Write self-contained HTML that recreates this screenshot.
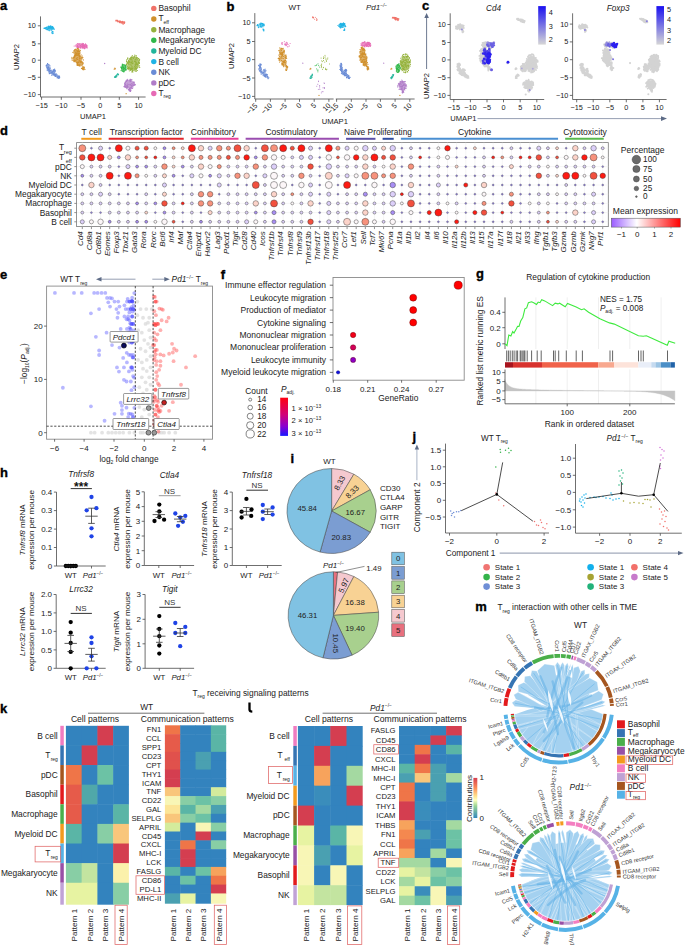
<!DOCTYPE html>
<html><head><meta charset="utf-8"><title>Figure</title>
<style>
html,body{margin:0;padding:0;background:#fff;width:685px;height:945px;overflow:hidden;}
svg{display:block;font-family:"Liberation Sans", sans-serif;}
</style></head><body>
<svg width="685" height="945" viewBox="0 0 685 945">
<rect x="0" y="0" width="685" height="945" fill="#fff"/>
<text x="0" y="9.9" font-size="13" fill="#000" font-weight="bold" stroke="#000" stroke-width="0.35">a</text>
<line x1="40.5" y1="16.4" x2="40.5" y2="97" stroke="#4a4a4a" stroke-width="0.8"/>
<line x1="40.5" y1="97" x2="145.6" y2="97" stroke="#4a4a4a" stroke-width="0.8"/>
<line x1="37.8" y1="25.8" x2="40.5" y2="25.8" stroke="#4a4a4a" stroke-width="0.8"/>
<text x="35.8" y="28.36" font-size="7.3" fill="#222" text-anchor="end">10</text>
<line x1="37.8" y1="43.8" x2="40.5" y2="43.8" stroke="#4a4a4a" stroke-width="0.8"/>
<text x="35.8" y="46.35" font-size="7.3" fill="#222" text-anchor="end">5</text>
<line x1="37.8" y1="60.2" x2="40.5" y2="60.2" stroke="#4a4a4a" stroke-width="0.8"/>
<text x="35.8" y="62.76" font-size="7.3" fill="#222" text-anchor="end">0</text>
<line x1="37.8" y1="77.3" x2="40.5" y2="77.3" stroke="#4a4a4a" stroke-width="0.8"/>
<text x="35.8" y="79.85" font-size="7.3" fill="#222" text-anchor="end">−5</text>
<line x1="37.8" y1="94.6" x2="40.5" y2="94.6" stroke="#4a4a4a" stroke-width="0.8"/>
<text x="35.8" y="97.16" font-size="7.3" fill="#222" text-anchor="end">−10</text>
<line x1="41.6" y1="97" x2="41.6" y2="99.8" stroke="#4a4a4a" stroke-width="0.8"/>
<text x="41.6" y="107.96" font-size="7.3" fill="#222" text-anchor="middle">−15</text>
<line x1="61.3" y1="97" x2="61.3" y2="99.8" stroke="#4a4a4a" stroke-width="0.8"/>
<text x="61.3" y="107.96" font-size="7.3" fill="#222" text-anchor="middle">−10</text>
<line x1="81" y1="97" x2="81" y2="99.8" stroke="#4a4a4a" stroke-width="0.8"/>
<text x="81" y="107.96" font-size="7.3" fill="#222" text-anchor="middle">−5</text>
<line x1="100.3" y1="97" x2="100.3" y2="99.8" stroke="#4a4a4a" stroke-width="0.8"/>
<text x="100.3" y="107.96" font-size="7.3" fill="#222" text-anchor="middle">0</text>
<line x1="119.3" y1="97" x2="119.3" y2="99.8" stroke="#4a4a4a" stroke-width="0.8"/>
<text x="119.3" y="107.96" font-size="7.3" fill="#222" text-anchor="middle">5</text>
<line x1="138.6" y1="97" x2="138.6" y2="99.8" stroke="#4a4a4a" stroke-width="0.8"/>
<text x="138.6" y="107.96" font-size="7.3" fill="#222" text-anchor="middle">10</text>
<text x="93" y="118.86" font-size="7.6" fill="#222" text-anchor="middle">UMAP1</text>
<text x="16.6" y="59.66" font-size="7.6" fill="#222" text-anchor="middle" transform="rotate(-90 16.6 57)">UMAP2</text>
<ellipse cx="116.98" cy="20.81" rx="1.43" ry="0.71" fill="#f07268" fill-opacity="0.72"/>
<ellipse cx="119.31" cy="21.5" rx="1.59" ry="0.93" fill="#f07268" fill-opacity="0.72"/>
<ellipse cx="121.64" cy="22.19" rx="1.75" ry="1.18" fill="#f07268" fill-opacity="0.72"/>
<ellipse cx="123.58" cy="23.05" rx="1.43" ry="1.27" fill="#f07268" fill-opacity="0.72"/>
<path d="M118.1 21.4h0M117.1 20.4h0M115.8 20.8h0M116.1 20.2h0M117.2 20.9h0M117.6 20.3h0M119.3 21.4h0M117.8 21.8h0M119.6 22.6h0M119.6 21.4h0M120.7 21.6h0M120.4 21.2h0M119.6 22.2h0M122.6 22.3h0M120.3 22.6h0M121.7 22.9h0M121.9 23.1h0M121.6 22.4h0M122.5 21.3h0M121.1 21.7h0M123.6 22.1h0M122.5 22.8h0M123.3 21.8h0M124.6 22.7h0M124.3 21.9h0M123.1 24.2h0M124.8 22.1h0M122.2 23.0h0M124.4 23.2h0M123.9 22.1h0" stroke="#f07268" stroke-width="1.2" stroke-linecap="round" fill="none"/>
<ellipse cx="49.47" cy="28.38" rx="4.52" ry="2.03" fill="#1fb3e5" fill-opacity="0.72"/>
<ellipse cx="50.64" cy="27.18" rx="2.55" ry="1.41" fill="#1fb3e5" fill-opacity="0.72"/>
<ellipse cx="52.58" cy="32.34" rx="1.02" ry="1.07" fill="#1fb3e5" fill-opacity="0.72"/>
<path d="M51.4 30.0h0M48.2 26.4h0M46.9 29.5h0M44.6 28.3h0M46.0 28.2h0M48.5 28.4h0M53.9 28.9h0M53.7 28.2h0M47.7 29.0h0M44.0 28.3h0M50.0 26.6h0M51.2 27.5h0M44.1 28.2h0M46.2 27.6h0M49.0 30.2h0M49.9 28.3h0M50.5 26.2h0M53.1 27.0h0M50.9 26.7h0M46.1 27.8h0M54.3 29.2h0M47.2 27.9h0M45.6 28.3h0M47.5 29.5h0M45.2 27.9h0M46.6 27.3h0M52.1 28.6h0M51.3 30.1h0M52.6 26.7h0M50.9 26.2h0M49.3 30.7h0M48.7 27.7h0M50.1 28.4h0M50.7 26.3h0M52.5 28.0h0M50.2 27.6h0M51.8 28.2h0M51.4 28.0h0M50.1 26.0h0M49.7 28.2h0M52.5 27.3h0M49.5 27.5h0M52.9 28.2h0M49.2 27.1h0M48.4 26.2h0M51.0 27.2h0M52.2 28.3h0M53.1 33.3h0M52.2 31.5h0M52.8 33.6h0M52.8 31.4h0M52.7 33.4h0M51.8 32.9h0" stroke="#1fb3e5" stroke-width="1.2" stroke-linecap="round" fill="none"/>
<ellipse cx="79.74" cy="45.75" rx="4.61" ry="2.26" fill="#e66ab4" fill-opacity="0.72"/>
<ellipse cx="84.78" cy="46.27" rx="2.7" ry="2.2" fill="#e66ab4" fill-opacity="0.72"/>
<path d="M77.8 47.7h0M82.6 46.3h0M84.9 45.2h0M77.9 48.1h0M77.7 48.2h0M79.6 44.0h0M79.7 46.0h0M80.5 45.4h0M82.1 43.3h0M77.6 45.3h0M83.5 43.7h0M78.6 43.9h0M77.3 46.9h0M81.0 47.9h0M77.5 46.2h0M83.4 47.1h0M78.6 47.6h0M77.3 48.0h0M80.3 45.5h0M80.7 47.3h0M84.7 45.6h0M78.4 46.8h0M77.4 43.5h0M82.7 45.1h0M83.2 44.2h0M74.2 46.0h0M80.2 48.1h0M81.7 46.3h0M81.9 45.1h0M80.0 43.6h0M81.6 44.3h0M78.1 47.0h0M82.7 44.2h0M84.8 45.0h0M82.5 47.3h0M80.6 46.1h0M84.4 46.9h0M85.5 43.9h0M83.4 48.0h0M85.2 44.7h0M83.4 45.7h0M86.3 46.9h0M86.7 45.0h0M86.8 45.4h0M84.3 48.6h0M85.0 46.0h0M84.3 45.6h0M87.1 47.9h0M86.3 46.6h0M86.9 46.1h0M85.8 47.0h0M84.9 48.6h0M87.3 47.8h0M82.4 48.1h0M86.3 45.5h0M84.7 48.1h0M86.9 47.5h0M85.1 46.3h0M86.6 46.1h0" stroke="#e66ab4" stroke-width="1.2" stroke-linecap="round" fill="none"/>
<ellipse cx="76.83" cy="52.29" rx="3.5" ry="3.24" fill="#d0902c" fill-opacity="0.72"/>
<ellipse cx="77.6" cy="58.65" rx="4.93" ry="4.09" fill="#d0902c" fill-opacity="0.72"/>
<ellipse cx="80.12" cy="63.98" rx="3.18" ry="2.45" fill="#d0902c" fill-opacity="0.72"/>
<ellipse cx="83.42" cy="68.46" rx="1.59" ry="1.97" fill="#d0902c" fill-opacity="0.72"/>
<path d="M74.5 50.8h0M76.4 53.2h0M80.4 50.3h0M78.2 52.0h0M77.6 55.3h0M79.9 51.9h0M75.5 49.3h0M76.6 55.2h0M76.1 54.1h0M78.8 53.3h0M79.7 52.0h0M74.8 49.7h0M79.3 51.4h0M76.0 54.4h0M75.2 55.6h0M78.7 50.9h0M75.2 54.8h0M73.9 50.8h0M76.8 52.9h0M76.9 53.4h0M75.7 52.0h0M79.9 53.7h0M75.9 55.7h0M72.9 52.4h0M78.5 54.6h0M77.2 51.2h0M78.5 51.8h0M77.5 48.4h0M77.9 50.3h0M79.2 54.1h0M78.8 51.2h0M78.1 51.4h0M77.5 51.9h0M75.2 55.7h0M78.2 48.7h0M78.8 49.4h0M76.2 50.7h0M75.3 52.9h0M76.1 49.1h0M76.8 53.3h0M82.9 57.6h0M73.4 57.5h0M80.0 56.0h0M74.8 60.4h0M77.6 59.4h0M75.3 56.1h0M76.2 58.1h0M76.2 60.1h0M79.8 60.4h0M79.4 55.9h0M73.8 60.9h0M77.7 59.1h0M73.4 58.0h0M75.2 56.0h0M75.6 54.7h0M77.9 62.2h0M74.8 59.0h0M73.8 60.6h0M82.4 56.0h0M76.8 62.6h0M79.1 59.0h0M72.0 58.3h0M80.4 62.3h0M80.1 56.8h0M75.6 54.4h0M74.1 61.7h0M77.2 54.8h0M81.1 54.9h0M82.0 57.7h0M78.9 60.9h0M78.5 62.3h0M77.7 57.5h0M75.5 54.8h0M75.1 61.6h0M80.2 62.3h0M83.4 59.9h0M79.3 55.0h0M77.0 63.4h0M79.8 58.2h0M78.5 54.1h0M74.9 55.1h0M72.2 60.3h0M81.3 58.1h0M78.9 55.5h0M79.4 61.1h0M81.6 62.0h0M79.6 58.2h0M74.5 56.8h0M80.0 60.5h0M77.7 63.0h0M80.2 58.7h0M76.8 58.9h0M74.3 55.9h0M79.0 56.7h0M76.6 62.2h0M76.9 62.4h0M77.6 62.8h0M79.0 54.3h0M82.0 58.0h0M72.0 58.9h0M78.1 54.9h0M75.2 60.4h0M81.8 61.5h0M81.4 61.6h0M71.9 57.3h0M78.0 53.7h0M80.4 61.3h0M74.6 57.4h0M77.8 63.9h0M80.0 64.0h0M77.7 64.7h0M79.3 65.8h0M80.8 61.6h0M77.0 64.1h0M78.9 64.9h0M82.2 64.0h0M77.2 62.4h0M81.5 62.1h0M82.8 63.8h0M81.4 62.3h0M80.0 61.0h0M79.6 65.1h0M78.1 62.5h0M80.0 64.1h0M78.2 65.2h0M77.1 65.5h0M77.3 62.7h0M82.8 62.4h0M76.8 64.1h0M78.1 62.1h0M78.4 62.6h0M78.0 62.3h0M83.3 63.0h0M82.1 61.8h0M81.3 61.8h0M79.0 65.2h0M82.9 66.3h0M82.7 68.2h0M84.1 67.0h0M83.0 68.6h0M81.8 68.3h0M82.4 69.1h0M83.3 68.2h0M81.5 68.4h0M83.0 67.0h0M82.9 66.7h0M83.6 69.5h0M84.2 67.6h0M85.0 69.5h0" stroke="#d0902c" stroke-width="1.2" stroke-linecap="round" fill="none"/>
<ellipse cx="48" cy="65.5" rx="1.75" ry="1.75" fill="#6a8cd6" fill-opacity="0.72"/>
<ellipse cx="48.5" cy="69.01" rx="1.91" ry="1.97" fill="#6a8cd6" fill-opacity="0.72"/>
<ellipse cx="50.48" cy="72" rx="1.97" ry="1.86" fill="#6a8cd6" fill-opacity="0.72"/>
<ellipse cx="53.51" cy="73.99" rx="1.97" ry="1.75" fill="#6a8cd6" fill-opacity="0.72"/>
<ellipse cx="56.49" cy="75.51" rx="1.75" ry="1.55" fill="#6a8cd6" fill-opacity="0.72"/>
<ellipse cx="58.51" cy="76.99" rx="1.43" ry="1.13" fill="#6a8cd6" fill-opacity="0.72"/>
<ellipse cx="54.01" cy="70.49" rx="1.59" ry="1.41" fill="#6a8cd6" fill-opacity="0.72"/>
<path d="M46.7 65.3h0M46.2 65.4h0M48.8 67.0h0M47.6 63.6h0M47.8 67.2h0M48.2 67.1h0M48.9 67.2h0M48.8 64.6h0M48.4 67.6h0M47.5 63.6h0M50.0 65.9h0M47.1 64.7h0M46.3 66.3h0M48.7 68.0h0M47.8 68.3h0M50.0 68.7h0M50.2 67.9h0M47.6 68.2h0M47.6 68.9h0M49.8 70.6h0M47.2 70.6h0M48.6 71.0h0M48.2 67.7h0M49.7 69.9h0M47.8 69.0h0M48.7 69.5h0M46.7 67.7h0M48.6 69.4h0M49.9 70.0h0M52.3 71.6h0M49.3 73.7h0M52.0 73.3h0M51.7 72.8h0M49.0 72.0h0M51.0 73.0h0M51.2 70.6h0M49.5 71.5h0M50.2 70.7h0M48.6 70.8h0M51.0 72.0h0M51.1 70.0h0M49.9 73.3h0M48.5 70.9h0M51.7 75.2h0M53.6 73.2h0M53.8 73.9h0M54.7 75.4h0M54.9 74.5h0M54.6 75.1h0M54.7 72.3h0M54.1 74.1h0M53.8 73.6h0M53.4 74.7h0M53.8 74.2h0M52.2 72.6h0M52.7 72.2h0M52.7 72.9h0M55.1 74.1h0M55.8 74.8h0M58.4 76.2h0M55.4 74.9h0M55.2 74.6h0M56.0 75.4h0M55.7 76.5h0M57.1 77.2h0M55.0 76.2h0M56.1 73.9h0M56.2 73.9h0M58.5 78.3h0M59.5 78.1h0M59.5 76.0h0M59.0 77.1h0M59.0 76.1h0M57.3 78.0h0M59.7 77.2h0M57.9 77.2h0M52.7 71.4h0M54.2 70.3h0M53.4 70.4h0M54.2 70.0h0M55.2 70.7h0M53.9 69.5h0M55.2 71.6h0M54.6 69.0h0M53.6 71.5h0M54.1 71.8h0" stroke="#6a8cd6" stroke-width="1.2" stroke-linecap="round" fill="none"/>
<ellipse cx="133.28" cy="63.64" rx="5.89" ry="7.33" fill="#95b23c" fill-opacity="0.72"/>
<path d="M131.3 68.2h0M134.8 55.1h0M131.3 62.2h0M130.5 58.7h0M139.4 63.1h0M136.3 57.2h0M126.7 61.8h0M135.2 59.4h0M135.7 68.2h0M131.1 63.3h0M130.2 69.2h0M139.5 65.8h0M130.9 59.6h0M132.0 68.7h0M130.5 70.5h0M128.1 63.6h0M137.4 70.5h0M131.4 68.2h0M139.7 67.4h0M126.5 64.7h0M139.6 59.8h0M136.0 55.8h0M139.0 59.9h0M136.7 68.5h0M126.9 59.6h0M134.6 56.3h0M133.2 58.3h0M138.7 61.1h0M129.3 67.1h0M138.5 62.8h0M134.6 66.6h0M131.2 57.4h0M135.9 61.5h0M128.1 67.7h0M135.4 64.5h0M129.7 62.3h0M136.2 66.5h0M129.8 58.9h0M135.0 64.8h0M136.7 57.9h0M136.4 71.0h0M137.6 64.4h0M136.8 57.5h0M131.9 71.9h0M127.8 58.8h0M136.9 60.0h0M130.9 57.7h0M139.3 60.9h0M132.3 55.7h0M136.9 63.6h0M135.1 71.0h0M133.9 57.3h0M128.7 64.1h0M138.0 58.3h0M132.0 62.7h0M136.2 58.8h0M134.7 68.2h0M133.1 63.0h0M136.2 67.0h0M138.0 58.6h0M138.5 62.4h0M128.5 60.7h0M128.1 62.6h0M136.2 55.7h0M128.5 67.5h0M131.9 68.2h0M127.8 63.4h0M126.5 60.9h0M136.3 69.7h0M139.4 63.4h0M129.3 61.5h0M127.6 68.6h0M137.9 59.2h0M138.8 58.5h0M135.8 59.1h0M127.0 65.4h0M129.0 69.2h0M129.1 64.2h0M130.9 64.5h0M130.5 68.2h0M136.2 64.1h0M132.9 71.9h0M130.0 61.1h0M136.9 63.6h0M127.1 63.0h0M131.6 58.1h0M134.1 57.5h0M132.2 57.5h0M139.3 62.3h0M135.4 65.4h0M136.6 62.7h0M136.8 64.4h0M126.3 64.7h0M128.4 68.1h0M134.4 61.3h0M127.8 57.9h0M128.3 61.6h0M129.3 70.8h0M135.5 63.1h0M128.9 61.8h0M132.1 60.9h0M132.9 68.3h0M126.9 64.7h0M137.3 57.5h0M132.3 61.3h0M128.8 68.3h0M131.9 69.8h0M135.3 61.9h0M134.7 61.3h0M128.1 69.2h0M134.8 69.8h0M127.4 67.9h0M137.1 63.4h0M126.5 64.0h0M130.1 62.5h0M133.5 58.5h0M132.6 63.7h0M139.1 63.1h0M139.6 59.7h0M132.7 70.2h0M127.5 66.5h0M135.2 60.1h0M132.4 71.1h0M131.1 65.3h0M135.1 69.9h0M127.6 58.6h0M127.8 62.2h0M136.0 68.3h0M132.2 71.0h0M132.9 67.8h0M130.0 68.2h0M130.3 69.6h0M136.1 71.3h0M131.5 57.5h0M137.1 65.5h0M131.2 57.0h0M135.9 55.8h0M131.3 69.4h0M132.0 66.4h0M135.6 67.1h0M137.8 67.1h0M131.7 57.2h0M131.9 59.7h0M135.0 70.0h0" stroke="#95b23c" stroke-width="1.2" stroke-linecap="round" fill="none"/>
<ellipse cx="123.77" cy="68.11" rx="2.86" ry="3.53" fill="#30b84a" fill-opacity="0.72"/>
<path d="M125.5 66.3h0M124.3 68.1h0M122.8 71.3h0M125.2 69.1h0M122.3 64.2h0M122.3 70.9h0M123.2 68.0h0M123.1 69.5h0M123.8 71.9h0M123.5 67.3h0M126.4 69.8h0M125.3 69.6h0M123.7 69.1h0M125.1 68.4h0M121.1 70.6h0M122.7 66.5h0M123.0 66.1h0M121.8 67.9h0M125.7 67.3h0M124.7 64.9h0M125.3 65.3h0M125.3 66.1h0M122.6 65.1h0M121.2 67.6h0M121.6 67.5h0M126.0 66.1h0M123.0 67.8h0M122.3 68.0h0M124.3 70.9h0M122.1 67.5h0M123.4 71.2h0M121.6 68.6h0M125.5 69.7h0M122.3 65.5h0M120.7 67.0h0M123.3 64.6h0" stroke="#30b84a" stroke-width="1.2" stroke-linecap="round" fill="none"/>
<ellipse cx="114.85" cy="77.23" rx="0.95" ry="0.85" fill="#22b59c" fill-opacity="0.72"/>
<ellipse cx="116.01" cy="76.02" rx="1.11" ry="0.85" fill="#22b59c" fill-opacity="0.72"/>
<ellipse cx="117.37" cy="74.65" rx="0.95" ry="0.85" fill="#22b59c" fill-opacity="0.72"/>
<path d="M115.5 77.3h0M114.7 76.9h0M115.2 77.0h0M115.2 76.9h0M115.4 76.4h0M115.4 76.9h0M116.7 76.8h0M115.4 76.5h0M116.8 76.6h0M115.9 76.9h0M116.3 75.3h0M118.5 74.7h0M118.2 74.2h0M116.7 75.2h0M118.0 74.2h0M117.5 73.9h0" stroke="#22b59c" stroke-width="1.2" stroke-linecap="round" fill="none"/>
<ellipse cx="129.21" cy="84.28" rx="5.09" ry="4.23" fill="#b07cc8" fill-opacity="0.72"/>
<ellipse cx="129.98" cy="90.13" rx="1.43" ry="1.27" fill="#b07cc8" fill-opacity="0.72"/>
<path d="M123.9 86.6h0M125.2 86.5h0M133.2 85.4h0M134.3 85.3h0M130.5 84.3h0M131.0 85.5h0M125.5 84.1h0M128.4 89.4h0M133.4 82.0h0M131.0 79.9h0M129.4 88.9h0M129.5 88.1h0M127.7 85.9h0M130.2 79.4h0M126.9 88.7h0M126.3 87.7h0M134.7 84.2h0M133.1 85.4h0M126.8 86.2h0M130.9 81.1h0M127.7 80.4h0M127.7 84.1h0M126.5 80.0h0M131.5 87.9h0M125.6 84.5h0M127.7 79.3h0M135.0 84.9h0M125.0 87.4h0M131.6 88.2h0M132.1 86.0h0M134.1 83.5h0M130.1 80.9h0M124.9 84.9h0M130.0 79.9h0M130.6 87.5h0M124.7 83.3h0M134.3 82.2h0M131.4 86.8h0M130.0 84.8h0M131.6 85.3h0M129.7 80.1h0M130.2 81.6h0M132.6 88.5h0M132.0 79.8h0M133.1 84.7h0M125.7 81.0h0M133.1 82.3h0M128.9 84.5h0M131.2 79.5h0M133.4 82.0h0M127.5 86.4h0M130.1 79.4h0M131.7 83.7h0M125.4 82.4h0M124.2 86.3h0M134.1 82.6h0M127.6 80.2h0M126.6 81.2h0M129.3 88.8h0M132.9 87.1h0M125.7 86.8h0M126.5 81.5h0M132.2 83.9h0M135.3 84.7h0M128.0 86.8h0M125.1 86.3h0M134.4 83.9h0M127.3 87.7h0M125.0 85.4h0M127.0 85.3h0M126.1 86.2h0M130.9 88.7h0M127.7 85.8h0M128.5 89.5h0M130.2 88.9h0M129.9 89.2h0M130.5 90.7h0M129.4 90.8h0M129.3 90.2h0M130.6 90.7h0M130.5 91.4h0" stroke="#b07cc8" stroke-width="1.2" stroke-linecap="round" fill="none"/>
<circle cx="114.27" cy="69.14" r="0.66" fill="#d0902c"/>
<circle cx="115.43" cy="68.8" r="0.66" fill="#d0902c"/>
<circle cx="114.85" cy="68.28" r="0.66" fill="#d0902c"/>
<circle cx="126.14" cy="93.71" r="0.66" fill="#d0902c"/>
<circle cx="104.68" cy="63.5" r="0.66" fill="#b07cc8"/>
<circle cx="153.8" cy="8.4" r="2.7" fill="#f07268"/>
<text x="158.4" y="11.34" font-size="8.4" fill="#222">Basophil</text>
<circle cx="153.8" cy="19.04" r="2.7" fill="#d0902c"/>
<text x="158.4" y="21.48" font-size="8.4" fill="#222"><tspan>T</tspan><tspan font-size="5.04" dy="2.52" font-style="normal">eff</tspan></text>
<circle cx="153.8" cy="29.68" r="2.7" fill="#95b23c"/>
<text x="158.4" y="32.62" font-size="8.4" fill="#222">Macrophage</text>
<circle cx="153.8" cy="40.32" r="2.7" fill="#30b84a"/>
<text x="158.4" y="43.26" font-size="8.4" fill="#222">Megakaryocyte</text>
<circle cx="153.8" cy="50.96" r="2.7" fill="#22b59c"/>
<text x="158.4" y="53.9" font-size="8.4" fill="#222">Myeloid DC</text>
<circle cx="153.8" cy="61.6" r="2.7" fill="#1fb3e5"/>
<text x="158.4" y="64.54" font-size="8.4" fill="#222">B cell</text>
<circle cx="153.8" cy="72.24" r="2.7" fill="#6a8cd6"/>
<text x="158.4" y="75.18" font-size="8.4" fill="#222">NK</text>
<circle cx="153.8" cy="82.88" r="2.7" fill="#b07cc8"/>
<text x="158.4" y="85.82" font-size="8.4" fill="#222">pDC</text>
<circle cx="153.8" cy="93.52" r="2.7" fill="#e66ab4"/>
<text x="158.4" y="95.96" font-size="8.4" fill="#222"><tspan>T</tspan><tspan font-size="5.04" dy="2.52" font-style="normal">reg</tspan></text>
<text x="226.5" y="10.5" font-size="13" fill="#000" font-weight="bold" stroke="#000" stroke-width="0.35">b</text>
<text x="294.6" y="10.2" font-size="8" fill="#222" text-anchor="middle">WT</text>
<text x="366" y="10.2" font-size="8" fill="#222" font-style="italic"><tspan>Pd1</tspan><tspan font-size="4.8" dy="-2.8">−/−</tspan><tspan dy="2.8"> </tspan></text>
<line x1="254.8" y1="13.1" x2="254.8" y2="99" stroke="#4a4a4a" stroke-width="0.8"/>
<line x1="254.8" y1="99" x2="333.6" y2="99" stroke="#4a4a4a" stroke-width="0.8"/>
<line x1="335.8" y1="99" x2="414.6" y2="99" stroke="#4a4a4a" stroke-width="0.8"/>
<line x1="252" y1="22.8" x2="254.8" y2="22.8" stroke="#4a4a4a" stroke-width="0.8"/>
<text x="250.5" y="25.36" font-size="7.3" fill="#222" text-anchor="end">10</text>
<line x1="252" y1="41.5" x2="254.8" y2="41.5" stroke="#4a4a4a" stroke-width="0.8"/>
<text x="250.5" y="44.05" font-size="7.3" fill="#222" text-anchor="end">5</text>
<line x1="252" y1="59.6" x2="254.8" y2="59.6" stroke="#4a4a4a" stroke-width="0.8"/>
<text x="250.5" y="62.16" font-size="7.3" fill="#222" text-anchor="end">0</text>
<line x1="252" y1="78" x2="254.8" y2="78" stroke="#4a4a4a" stroke-width="0.8"/>
<text x="250.5" y="80.56" font-size="7.3" fill="#222" text-anchor="end">−5</text>
<line x1="252" y1="96.4" x2="254.8" y2="96.4" stroke="#4a4a4a" stroke-width="0.8"/>
<text x="250.5" y="98.96" font-size="7.3" fill="#222" text-anchor="end">−10</text>
<line x1="255.7" y1="99" x2="255.7" y2="101.8" stroke="#4a4a4a" stroke-width="0.8"/>
<text x="258" y="106" font-size="7.3" fill="#222" text-anchor="end" transform="rotate(-45 258 106)">−15</text>
<line x1="270.4" y1="99" x2="270.4" y2="101.8" stroke="#4a4a4a" stroke-width="0.8"/>
<text x="272.7" y="106" font-size="7.3" fill="#222" text-anchor="end" transform="rotate(-45 272.7 106)">−10</text>
<line x1="285.1" y1="99" x2="285.1" y2="101.8" stroke="#4a4a4a" stroke-width="0.8"/>
<text x="287.4" y="106" font-size="7.3" fill="#222" text-anchor="end" transform="rotate(-45 287.4 106)">−5</text>
<line x1="299.5" y1="99" x2="299.5" y2="101.8" stroke="#4a4a4a" stroke-width="0.8"/>
<text x="301.8" y="106" font-size="7.3" fill="#222" text-anchor="end" transform="rotate(-45 301.8 106)">0</text>
<line x1="314.2" y1="99" x2="314.2" y2="101.8" stroke="#4a4a4a" stroke-width="0.8"/>
<text x="316.5" y="106" font-size="7.3" fill="#222" text-anchor="end" transform="rotate(-45 316.5 106)">5</text>
<line x1="328.9" y1="99" x2="328.9" y2="101.8" stroke="#4a4a4a" stroke-width="0.8"/>
<text x="331.2" y="106" font-size="7.3" fill="#222" text-anchor="end" transform="rotate(-45 331.2 106)">10</text>
<line x1="336.6" y1="99" x2="336.6" y2="101.8" stroke="#4a4a4a" stroke-width="0.8"/>
<text x="338.9" y="106" font-size="7.3" fill="#222" text-anchor="end" transform="rotate(-45 338.9 106)">−15</text>
<line x1="351.3" y1="99" x2="351.3" y2="101.8" stroke="#4a4a4a" stroke-width="0.8"/>
<text x="353.6" y="106" font-size="7.3" fill="#222" text-anchor="end" transform="rotate(-45 353.6 106)">−10</text>
<line x1="366" y1="99" x2="366" y2="101.8" stroke="#4a4a4a" stroke-width="0.8"/>
<text x="368.3" y="106" font-size="7.3" fill="#222" text-anchor="end" transform="rotate(-45 368.3 106)">−5</text>
<line x1="380.4" y1="99" x2="380.4" y2="101.8" stroke="#4a4a4a" stroke-width="0.8"/>
<text x="382.7" y="106" font-size="7.3" fill="#222" text-anchor="end" transform="rotate(-45 382.7 106)">0</text>
<line x1="395.1" y1="99" x2="395.1" y2="101.8" stroke="#4a4a4a" stroke-width="0.8"/>
<text x="397.4" y="106" font-size="7.3" fill="#222" text-anchor="end" transform="rotate(-45 397.4 106)">5</text>
<line x1="409.8" y1="99" x2="409.8" y2="101.8" stroke="#4a4a4a" stroke-width="0.8"/>
<text x="412.1" y="106" font-size="7.3" fill="#222" text-anchor="end" transform="rotate(-45 412.1 106)">10</text>
<text x="334.8" y="124.46" font-size="7.6" fill="#222" text-anchor="middle">UMAP1</text>
<text x="231.5" y="58.66" font-size="7.6" fill="#222" text-anchor="middle" transform="rotate(-90 231.5 56)">UMAP2</text>
<path d="M313.3 17.2h0M312.5 17.6h0M312.7 16.8h0M313.5 17.6h0M313.0 17.6h0M313.3 18.0h0M314.7 19.3h0M315.3 17.4h0M316.7 18.6h0M316.4 20.1h0M317.3 19.9h0M316.4 20.1h0" stroke="#f07268" stroke-width="0.99" stroke-linecap="round" fill="none"/>
<ellipse cx="261.12" cy="25.56" rx="3.41" ry="2.17" fill="#1fb3e5" fill-opacity="0.5"/>
<ellipse cx="262" cy="24.27" rx="1.92" ry="1.51" fill="#1fb3e5" fill-opacity="0.5"/>
<ellipse cx="263.46" cy="29.79" rx="0.77" ry="1.15" fill="#1fb3e5" fill-opacity="0.5"/>
<path d="M258.3 27.3h0M258.0 25.2h0M261.2 26.0h0M260.4 26.4h0M257.0 25.4h0M260.3 24.6h0M264.0 24.1h0M260.7 23.0h0M261.4 23.2h0M258.6 27.6h0M262.7 25.3h0M261.2 23.3h0M258.2 26.0h0M257.1 25.7h0M257.3 25.5h0M258.7 27.5h0M263.4 24.5h0M257.5 24.5h0M260.6 23.7h0M261.5 27.0h0M260.6 24.5h0M262.9 24.8h0M263.1 24.8h0M264.5 25.0h0M258.1 25.5h0M259.3 23.9h0M260.4 26.7h0M257.1 25.4h0M260.3 25.1h0M262.6 23.5h0M262.9 23.8h0M262.0 23.8h0M261.3 23.5h0M262.3 26.0h0M263.3 25.1h0M262.7 23.5h0M262.5 25.9h0M260.2 25.0h0M263.4 24.5h0M262.9 25.6h0M264.0 25.2h0M264.0 24.5h0M263.2 24.4h0M263.6 29.3h0M263.8 30.9h0M263.3 30.0h0M263.8 29.8h0M264.0 30.0h0M262.9 29.0h0" stroke="#1fb3e5" stroke-width="1.1" stroke-linecap="round" fill="none"/>
<path d="M285.8 45.3h0M286.8 44.5h0M284.3 41.6h0M287.0 42.7h0M286.3 42.3h0M282.0 44.4h0M282.7 42.7h0M286.2 45.3h0M285.0 43.4h0M281.7 43.2h0M282.4 44.0h0M286.1 43.8h0M281.8 43.0h0M287.1 44.4h0M284.6 44.7h0M285.6 44.4h0M289.4 46.0h0M285.3 44.5h0M290.1 43.5h0M288.0 46.6h0M287.8 46.9h0M286.2 42.9h0M287.5 43.3h0M286.2 45.7h0M288.2 44.7h0" stroke="#e66ab4" stroke-width="0.99" stroke-linecap="round" fill="none"/>
<ellipse cx="281.77" cy="51.14" rx="2.64" ry="3.47" fill="#d0902c" fill-opacity="0.5"/>
<ellipse cx="282.36" cy="57.94" rx="3.72" ry="4.38" fill="#d0902c" fill-opacity="0.5"/>
<ellipse cx="284.26" cy="63.65" rx="2.4" ry="2.63" fill="#d0902c" fill-opacity="0.5"/>
<ellipse cx="286.75" cy="68.43" rx="1.2" ry="2.11" fill="#d0902c" fill-opacity="0.5"/>
<path d="M280.9 51.9h0M281.5 49.1h0M282.9 52.2h0M281.9 53.1h0M279.6 50.8h0M280.8 54.3h0M282.5 55.1h0M284.5 50.3h0M279.7 52.4h0M281.1 50.7h0M279.7 52.6h0M282.2 52.3h0M282.4 48.7h0M278.7 50.6h0M280.4 49.7h0M283.7 50.9h0M284.4 51.6h0M283.2 52.5h0M283.2 48.2h0M283.9 51.4h0M279.9 52.7h0M282.4 54.3h0M283.3 52.1h0M279.6 54.1h0M284.3 52.8h0M282.6 54.1h0M280.1 52.9h0M281.8 48.5h0M282.6 52.2h0M284.4 53.0h0M279.8 47.9h0M281.6 50.5h0M280.2 48.0h0M281.4 48.2h0M280.4 53.4h0M282.3 49.0h0M279.6 50.7h0M286.3 56.6h0M286.1 55.9h0M281.7 60.4h0M280.1 58.1h0M279.0 59.9h0M285.4 55.9h0M282.9 56.4h0M279.6 62.1h0M284.1 60.7h0M283.6 58.6h0M285.9 54.7h0M281.4 56.4h0M281.7 60.4h0M280.6 54.1h0M279.3 59.4h0M284.9 60.5h0M286.1 56.5h0M285.0 60.1h0M281.9 55.3h0M284.8 55.7h0M281.5 54.7h0M286.4 57.8h0M280.8 57.0h0M281.6 58.3h0M278.8 55.1h0M283.7 61.4h0M279.5 58.3h0M281.3 52.9h0M281.5 54.4h0M284.9 57.2h0M282.3 53.6h0M282.7 53.0h0M282.9 62.1h0M279.3 60.4h0M285.9 57.3h0M285.4 58.2h0M281.3 53.1h0M279.9 54.0h0M286.7 58.5h0M281.9 53.8h0M285.9 55.1h0M285.7 60.8h0M282.6 55.6h0M282.2 53.9h0M283.8 62.4h0M284.7 61.1h0M280.3 59.0h0M279.5 56.5h0M283.6 63.0h0M282.6 58.1h0M278.2 58.4h0M280.2 54.1h0M278.6 58.4h0M281.2 60.3h0M281.6 57.9h0M285.8 60.2h0M284.2 62.0h0M283.0 54.6h0M280.5 53.7h0M283.5 56.5h0M283.8 60.8h0M280.0 58.6h0M285.7 58.2h0M285.0 57.3h0M282.5 63.2h0M281.7 64.7h0M283.4 66.1h0M282.1 63.9h0M285.0 63.2h0M285.0 62.1h0M282.7 61.4h0M283.2 62.0h0M284.7 62.8h0M283.0 62.2h0M281.6 63.1h0M285.0 61.2h0M283.8 65.1h0M282.9 64.1h0M283.8 66.7h0M286.3 65.5h0M283.0 65.0h0M283.9 64.5h0M283.1 64.0h0M282.8 64.3h0M286.5 61.8h0M282.1 64.6h0M285.8 62.9h0M285.4 64.6h0M285.2 66.1h0M283.0 65.0h0M287.0 67.2h0M287.2 66.5h0M285.7 69.8h0M286.0 70.5h0M287.7 67.6h0M286.2 66.1h0M286.7 66.2h0M287.7 66.6h0M286.8 65.9h0M286.5 70.4h0M286.3 67.1h0M286.3 69.1h0" stroke="#d0902c" stroke-width="1.1" stroke-linecap="round" fill="none"/>
<ellipse cx="260" cy="65.27" rx="1.32" ry="1.87" fill="#6a8cd6" fill-opacity="0.5"/>
<ellipse cx="260.38" cy="69.02" rx="1.44" ry="2.11" fill="#6a8cd6" fill-opacity="0.5"/>
<ellipse cx="261.88" cy="72.22" rx="1.49" ry="1.99" fill="#6a8cd6" fill-opacity="0.5"/>
<ellipse cx="264.16" cy="74.36" rx="1.49" ry="1.87" fill="#6a8cd6" fill-opacity="0.5"/>
<ellipse cx="266.42" cy="75.98" rx="1.32" ry="1.66" fill="#6a8cd6" fill-opacity="0.5"/>
<ellipse cx="267.94" cy="77.56" rx="1.08" ry="1.21" fill="#6a8cd6" fill-opacity="0.5"/>
<ellipse cx="264.55" cy="70.6" rx="1.2" ry="1.51" fill="#6a8cd6" fill-opacity="0.5"/>
<path d="M260.9 64.9h0M258.5 65.6h0M260.6 67.3h0M260.2 65.5h0M259.4 66.4h0M261.3 64.2h0M260.1 63.8h0M259.2 65.0h0M260.5 64.0h0M259.7 67.0h0M260.5 66.3h0M260.4 65.0h0M260.9 69.9h0M260.4 70.7h0M260.4 70.5h0M260.4 70.3h0M259.6 68.1h0M259.3 70.6h0M261.0 69.4h0M261.1 67.7h0M260.5 68.1h0M258.8 68.7h0M259.6 70.9h0M259.5 68.0h0M261.5 69.0h0M259.0 69.4h0M261.2 74.3h0M260.7 71.2h0M260.1 71.6h0M263.5 72.1h0M260.8 72.7h0M261.5 72.1h0M263.3 73.7h0M263.1 73.9h0M261.1 70.1h0M262.8 72.8h0M261.9 72.0h0M262.7 73.1h0M262.2 73.0h0M261.6 71.6h0M265.6 74.0h0M265.8 75.0h0M264.2 75.9h0M263.5 74.1h0M263.7 74.3h0M264.7 76.4h0M264.7 72.9h0M263.5 72.4h0M265.0 75.6h0M264.6 74.9h0M264.8 75.0h0M265.0 74.7h0M263.1 75.6h0M267.4 74.5h0M266.2 74.6h0M267.0 75.6h0M267.6 77.1h0M265.9 75.3h0M265.8 76.7h0M265.5 76.5h0M265.3 77.1h0M266.9 74.6h0M265.6 76.2h0M266.6 74.0h0M268.1 78.8h0M267.6 76.4h0M268.9 77.8h0M268.1 78.2h0M267.0 77.0h0M267.1 76.7h0M267.7 76.6h0M265.8 71.1h0M265.1 69.1h0M264.3 70.4h0M264.7 71.2h0M263.8 69.6h0M265.1 72.3h0M265.9 70.4h0M263.8 70.8h0M264.9 72.2h0" stroke="#6a8cd6" stroke-width="1.1" stroke-linecap="round" fill="none"/>
<path d="M323.5 58.5h0M327.7 59.1h0M321.4 66.5h0M323.7 56.9h0M323.4 60.5h0M323.6 58.5h0M326.5 60.9h0M322.4 69.4h0M321.3 67.6h0M326.6 61.3h0M325.0 55.4h0M325.2 57.0h0M321.3 64.9h0M321.7 64.1h0M325.8 69.4h0M325.7 69.4h0M321.7 60.9h0M326.4 69.8h0M326.0 59.8h0M321.1 58.1h0M327.8 58.0h0M323.5 67.4h0M325.9 58.8h0M329.4 64.0h0M325.4 68.3h0M323.3 67.7h0M323.9 57.8h0M321.1 65.5h0M324.8 62.2h0M322.7 61.6h0M326.9 69.3h0" stroke="#95b23c" stroke-width="0.99" stroke-linecap="round" fill="none"/>
<path d="M316.7 68.9h0M315.1 65.7h0M316.1 65.5h0M318.0 63.9h0M318.1 70.1h0M319.7 67.1h0M317.9 71.8h0M318.7 65.6h0M316.7 64.9h0M317.3 70.2h0" stroke="#30b84a" stroke-width="0.99" stroke-linecap="round" fill="none"/>
<ellipse cx="310.49" cy="77.82" rx="0.72" ry="0.91" fill="#22b59c" fill-opacity="0.5"/>
<ellipse cx="311.37" cy="76.53" rx="0.84" ry="0.91" fill="#22b59c" fill-opacity="0.5"/>
<ellipse cx="312.39" cy="75.06" rx="0.72" ry="0.91" fill="#22b59c" fill-opacity="0.5"/>
<path d="M311.2 78.2h0M310.9 78.5h0M310.0 78.3h0M311.0 77.7h0M310.0 77.9h0M311.5 77.0h0M310.5 76.3h0M312.2 77.1h0M311.3 76.3h0M311.2 75.9h0M312.1 75.0h0M311.8 75.0h0M312.5 74.2h0M312.2 74.1h0M312.4 75.2h0" stroke="#22b59c" stroke-width="1.1" stroke-linecap="round" fill="none"/>
<path d="M319.7 85.6h0M323.0 87.8h0M317.8 84.3h0M318.6 81.1h0M324.1 87.8h0M324.6 87.7h0M319.7 86.2h0M319.9 89.5h0M316.8 86.3h0M319.7 87.9h0M324.6 83.4h0M324.6 88.4h0M318.3 89.4h0M318.6 81.6h0M324.0 83.0h0M322.1 91.6h0M321.3 92.9h0M323.0 91.7h0" stroke="#b07cc8" stroke-width="0.99" stroke-linecap="round" fill="none"/>
<circle cx="310.05" cy="69.17" r="0.61" fill="#d0902c"/>
<circle cx="310.93" cy="68.8" r="0.61" fill="#d0902c"/>
<circle cx="310.49" cy="68.25" r="0.61" fill="#d0902c"/>
<circle cx="319.01" cy="95.44" r="0.61" fill="#d0902c"/>
<circle cx="302.81" cy="63.13" r="0.61" fill="#b07cc8"/>
<ellipse cx="393" cy="17.46" rx="1.08" ry="0.75" fill="#f07268" fill-opacity="0.68"/>
<ellipse cx="394.76" cy="18.2" rx="1.2" ry="1" fill="#f07268" fill-opacity="0.68"/>
<ellipse cx="396.51" cy="18.94" rx="1.32" ry="1.27" fill="#f07268" fill-opacity="0.68"/>
<ellipse cx="397.98" cy="19.86" rx="1.08" ry="1.36" fill="#f07268" fill-opacity="0.68"/>
<path d="M393.1 18.1h0M392.3 18.0h0M392.8 17.3h0M394.2 17.5h0M393.0 17.9h0M393.9 17.4h0M395.3 17.5h0M394.4 17.8h0M393.9 17.4h0M393.5 18.0h0M394.6 17.9h0M394.8 17.3h0M394.7 18.4h0M395.4 17.6h0M396.2 17.5h0M396.2 17.5h0M395.4 19.8h0M395.0 19.4h0M396.9 18.6h0M397.0 19.5h0M397.6 18.7h0M395.9 18.3h0M395.5 18.9h0M395.8 19.9h0M396.9 19.1h0M397.5 18.4h0M398.8 18.6h0M397.7 19.3h0M398.8 18.6h0M398.8 19.2h0M397.8 19.1h0M398.5 18.8h0M397.9 20.3h0" stroke="#f07268" stroke-width="1.1" stroke-linecap="round" fill="none"/>
<ellipse cx="342.02" cy="25.56" rx="3.41" ry="2.17" fill="#1fb3e5" fill-opacity="0.68"/>
<ellipse cx="342.9" cy="24.27" rx="1.92" ry="1.51" fill="#1fb3e5" fill-opacity="0.68"/>
<ellipse cx="344.36" cy="29.79" rx="0.77" ry="1.15" fill="#1fb3e5" fill-opacity="0.68"/>
<path d="M344.5 23.5h0M345.2 26.8h0M340.7 26.1h0M341.0 27.8h0M342.6 25.2h0M341.4 25.2h0M341.5 24.1h0M345.0 23.8h0M337.9 25.5h0M341.6 26.2h0M341.4 25.3h0M342.9 27.2h0M340.8 24.9h0M345.8 26.2h0M340.4 27.9h0M344.1 24.6h0M339.1 26.0h0M340.0 24.0h0M339.0 24.8h0M344.8 24.9h0M338.8 26.5h0M342.2 27.0h0M345.0 25.3h0M341.6 25.5h0M339.3 26.6h0M345.3 25.8h0M341.3 25.1h0M340.0 24.3h0M341.0 24.1h0M341.1 23.4h0M343.0 25.7h0M340.2 23.2h0M342.0 27.3h0M340.1 24.7h0M340.5 26.7h0M339.8 27.1h0M342.4 25.3h0M342.9 24.0h0M341.1 23.6h0M342.5 25.1h0M343.3 23.4h0M343.5 25.4h0M342.7 23.7h0M342.3 25.2h0M343.7 23.2h0M343.5 23.7h0M341.9 25.5h0M344.1 23.5h0M343.0 24.9h0M341.9 24.1h0M343.6 22.7h0M343.4 25.2h0M344.6 28.7h0M344.6 29.0h0M344.7 30.3h0M344.5 29.1h0M344.0 30.5h0M343.8 30.2h0M344.7 29.5h0" stroke="#1fb3e5" stroke-width="1.1" stroke-linecap="round" fill="none"/>
<ellipse cx="364.87" cy="44.14" rx="3.48" ry="2.41" fill="#e66ab4" fill-opacity="0.68"/>
<ellipse cx="368.68" cy="44.7" rx="2.04" ry="2.35" fill="#e66ab4" fill-opacity="0.68"/>
<path d="M369.0 44.2h0M367.9 42.1h0M361.1 45.3h0M366.7 43.5h0M364.8 41.5h0M363.3 42.3h0M364.3 45.8h0M365.0 44.9h0M362.9 43.3h0M365.2 43.6h0M367.8 42.7h0M368.4 42.9h0M367.5 42.8h0M368.5 44.4h0M366.0 45.6h0M363.3 42.3h0M361.3 45.6h0M363.0 43.0h0M364.8 46.9h0M361.2 44.5h0M363.7 45.2h0M361.1 43.6h0M366.7 46.4h0M368.2 42.9h0M365.0 43.9h0M362.1 42.2h0M367.0 44.6h0M364.5 46.3h0M362.3 45.1h0M364.9 44.0h0M366.3 44.5h0M365.7 44.7h0M368.7 43.7h0M367.5 45.2h0M363.9 45.7h0M362.8 46.0h0M362.7 43.2h0M365.8 45.7h0M367.1 45.7h0M364.3 42.4h0M366.4 44.7h0M367.3 46.3h0M369.0 43.0h0M369.3 42.5h0M367.3 45.4h0M366.6 44.8h0M366.9 45.8h0M367.5 45.0h0M366.7 44.2h0M370.1 45.5h0M366.6 45.9h0M370.1 44.0h0M370.5 43.2h0M368.6 46.6h0M370.3 46.5h0M367.5 42.4h0M369.2 42.4h0M368.5 42.6h0M370.2 46.0h0M369.6 44.7h0M368.8 44.1h0M369.3 45.2h0M369.5 43.9h0M370.9 45.1h0M370.3 46.5h0M367.6 42.4h0" stroke="#e66ab4" stroke-width="1.1" stroke-linecap="round" fill="none"/>
<ellipse cx="362.67" cy="51.14" rx="2.64" ry="3.47" fill="#d0902c" fill-opacity="0.68"/>
<ellipse cx="363.26" cy="57.94" rx="3.72" ry="4.38" fill="#d0902c" fill-opacity="0.68"/>
<ellipse cx="365.16" cy="63.65" rx="2.4" ry="2.63" fill="#d0902c" fill-opacity="0.68"/>
<ellipse cx="367.65" cy="68.43" rx="1.2" ry="2.11" fill="#d0902c" fill-opacity="0.68"/>
<path d="M365.0 50.2h0M362.9 50.4h0M362.9 48.1h0M362.4 49.8h0M362.7 47.0h0M364.4 52.0h0M360.0 49.6h0M362.7 52.9h0M362.7 54.5h0M362.7 48.5h0M361.3 53.1h0M361.4 53.3h0M364.6 52.6h0M364.7 50.7h0M362.7 49.4h0M361.7 47.7h0M361.6 48.4h0M360.1 51.5h0M363.7 50.2h0M365.0 53.2h0M364.7 49.6h0M360.1 52.4h0M363.3 53.2h0M363.4 54.2h0M362.1 53.0h0M361.5 47.3h0M361.9 54.5h0M360.1 53.2h0M361.2 50.0h0M362.8 51.8h0M360.7 51.5h0M363.6 53.4h0M361.4 54.5h0M364.7 54.4h0M360.2 51.6h0M359.8 51.9h0M363.7 48.3h0M360.0 51.6h0M363.9 49.0h0M362.3 47.0h0M361.2 51.5h0M362.9 54.7h0M361.2 47.4h0M363.6 49.5h0M363.3 53.1h0M364.7 62.1h0M366.0 54.0h0M363.1 62.9h0M362.1 61.1h0M363.1 56.4h0M366.7 60.6h0M362.6 61.0h0M360.0 55.8h0M365.9 58.1h0M360.3 59.4h0M364.1 61.9h0M366.0 57.0h0M361.8 57.4h0M362.7 62.2h0M366.5 61.2h0M364.4 57.0h0M365.9 56.8h0M363.8 53.3h0M362.2 62.2h0M360.9 54.0h0M362.9 62.6h0M366.9 56.9h0M361.8 57.5h0M360.6 58.1h0M362.5 53.6h0M361.5 57.0h0M361.1 54.6h0M365.1 62.5h0M362.4 56.4h0M364.8 57.1h0M361.4 61.9h0M360.5 55.7h0M361.4 55.1h0M362.5 60.0h0M366.8 59.8h0M363.4 54.0h0M363.1 54.8h0M363.0 61.2h0M363.9 57.2h0M361.0 57.9h0M363.6 54.8h0M361.8 60.9h0M359.4 56.7h0M360.7 61.9h0M365.1 59.7h0M364.5 59.0h0M364.0 53.5h0M364.0 60.1h0M359.9 60.2h0M364.8 53.7h0M361.8 56.8h0M361.7 59.3h0M359.9 57.2h0M363.9 60.5h0M363.4 57.0h0M364.7 53.2h0M365.9 56.9h0M360.0 56.6h0M360.3 54.0h0M362.3 55.3h0M365.3 55.1h0M360.1 55.2h0M367.2 58.0h0M361.6 54.8h0M360.2 57.4h0M364.4 61.6h0M366.4 58.8h0M361.4 55.1h0M359.2 55.8h0M364.6 56.7h0M364.2 53.9h0M365.8 58.9h0M363.4 59.4h0M359.0 56.7h0M361.4 62.4h0M362.7 56.1h0M365.5 54.7h0M367.4 62.4h0M365.1 61.8h0M366.2 60.8h0M366.4 62.0h0M365.3 61.4h0M365.6 64.1h0M366.3 64.3h0M366.3 65.6h0M364.5 61.4h0M363.1 64.9h0M364.5 65.7h0M365.2 61.6h0M366.3 66.4h0M364.8 61.7h0M363.7 65.3h0M364.0 62.8h0M366.5 63.7h0M365.4 62.5h0M363.9 64.0h0M365.5 64.9h0M364.2 64.4h0M366.1 63.8h0M366.2 65.6h0M365.6 63.8h0M363.4 64.3h0M365.0 63.0h0M363.6 64.8h0M368.0 64.2h0M365.3 64.6h0M364.0 63.9h0M363.9 62.3h0M367.9 68.8h0M367.5 67.1h0M367.9 66.7h0M368.4 67.9h0M367.7 69.8h0M368.1 66.6h0M367.4 69.1h0M367.1 66.1h0M367.6 68.3h0M368.1 68.6h0M367.8 68.9h0M368.8 69.1h0M368.2 67.8h0M368.7 68.1h0" stroke="#d0902c" stroke-width="1.1" stroke-linecap="round" fill="none"/>
<ellipse cx="340.9" cy="65.27" rx="1.32" ry="1.87" fill="#6a8cd6" fill-opacity="0.68"/>
<ellipse cx="341.28" cy="69.02" rx="1.44" ry="2.11" fill="#6a8cd6" fill-opacity="0.68"/>
<ellipse cx="342.78" cy="72.22" rx="1.49" ry="1.99" fill="#6a8cd6" fill-opacity="0.68"/>
<ellipse cx="345.06" cy="74.36" rx="1.49" ry="1.87" fill="#6a8cd6" fill-opacity="0.68"/>
<ellipse cx="347.32" cy="75.98" rx="1.32" ry="1.66" fill="#6a8cd6" fill-opacity="0.68"/>
<ellipse cx="348.84" cy="77.56" rx="1.08" ry="1.21" fill="#6a8cd6" fill-opacity="0.68"/>
<ellipse cx="345.45" cy="70.6" rx="1.2" ry="1.51" fill="#6a8cd6" fill-opacity="0.68"/>
<path d="M341.4 63.2h0M341.2 65.1h0M340.5 66.9h0M341.4 65.0h0M340.5 67.3h0M341.7 66.2h0M340.2 66.9h0M341.5 64.9h0M340.8 63.3h0M341.5 63.8h0M341.8 64.6h0M340.2 65.8h0M341.1 63.7h0M340.8 66.2h0M341.0 67.1h0M341.0 67.5h0M340.6 69.1h0M341.2 68.6h0M339.8 69.5h0M341.0 68.3h0M341.4 71.4h0M340.3 67.1h0M342.1 67.8h0M342.5 67.7h0M340.7 70.4h0M342.3 69.7h0M341.8 68.8h0M340.8 68.7h0M342.5 70.0h0M341.3 69.6h0M343.6 73.8h0M342.6 72.1h0M343.0 74.6h0M343.0 74.0h0M341.4 73.3h0M341.5 70.9h0M342.0 72.0h0M343.0 72.8h0M343.1 71.5h0M344.5 72.6h0M343.3 74.4h0M343.8 73.1h0M343.1 74.4h0M341.7 70.9h0M342.9 70.0h0M342.0 73.8h0M344.5 74.6h0M345.8 72.8h0M345.4 73.4h0M343.9 74.0h0M345.0 73.7h0M344.3 75.7h0M346.3 75.1h0M345.0 72.9h0M344.2 72.9h0M345.3 75.7h0M346.1 74.3h0M344.6 74.6h0M345.2 75.3h0M346.5 73.5h0M346.3 72.8h0M346.1 74.7h0M346.3 75.7h0M348.8 75.4h0M348.4 75.5h0M347.5 74.7h0M348.9 75.9h0M346.9 77.9h0M347.5 76.6h0M347.2 74.9h0M346.0 75.8h0M348.7 76.4h0M347.1 77.3h0M346.5 77.4h0M348.8 76.8h0M349.4 78.0h0M348.5 77.8h0M349.5 78.6h0M348.4 76.2h0M350.1 77.4h0M348.5 78.0h0M348.5 78.5h0M344.4 70.4h0M344.6 71.9h0M345.2 71.8h0M346.4 69.5h0M345.2 71.5h0M345.5 70.4h0M346.2 71.6h0M344.9 70.4h0M346.1 70.9h0M345.6 69.4h0M346.7 70.4h0" stroke="#6a8cd6" stroke-width="1.1" stroke-linecap="round" fill="none"/>
<ellipse cx="405.3" cy="63.28" rx="4.44" ry="7.85" fill="#95b23c" fill-opacity="0.68"/>
<path d="M406.3 63.0h0M405.6 64.3h0M402.4 65.6h0M409.1 65.5h0M407.8 66.2h0M405.4 71.8h0M402.9 65.7h0M408.7 65.0h0M402.2 57.6h0M409.5 58.8h0M405.3 66.8h0M405.6 54.8h0M400.4 62.8h0M402.6 61.7h0M405.7 64.4h0M402.1 56.2h0M408.4 59.6h0M402.7 55.3h0M407.0 56.4h0M402.0 66.8h0M406.4 66.9h0M403.1 54.6h0M402.0 61.5h0M403.1 68.5h0M406.5 57.2h0M407.4 62.3h0M403.8 69.6h0M401.1 67.9h0M407.8 55.1h0M404.6 62.2h0M401.7 60.1h0M402.4 63.7h0M404.0 54.4h0M408.9 68.0h0M402.6 68.2h0M409.5 57.6h0M403.8 60.0h0M407.3 61.3h0M401.6 69.1h0M404.2 67.8h0M410.3 60.4h0M403.9 68.7h0M404.9 66.7h0M405.3 72.8h0M407.6 65.5h0M405.8 65.8h0M400.7 61.9h0M407.6 56.8h0M405.5 62.6h0M404.2 72.5h0M407.8 65.4h0M402.5 63.8h0M404.2 62.7h0M405.8 72.6h0M408.5 70.4h0M407.7 71.9h0M403.3 56.4h0M406.1 65.0h0M405.4 59.3h0M407.1 71.3h0M406.2 61.8h0M409.1 61.6h0M404.0 65.4h0M401.2 69.3h0M404.9 66.7h0M406.5 66.0h0M402.2 70.6h0M407.4 65.2h0M410.3 59.7h0M408.0 62.7h0M402.1 70.7h0M400.8 64.0h0M405.0 64.6h0M402.7 70.1h0M406.1 56.2h0M401.4 64.9h0M401.6 65.8h0M406.5 59.6h0M401.0 58.1h0M406.6 60.0h0M410.1 61.3h0M406.7 67.6h0M405.7 65.4h0M408.7 62.5h0M406.6 61.0h0M410.3 64.1h0M406.8 54.1h0M403.8 56.9h0M405.5 60.4h0M401.8 61.7h0M407.9 69.2h0M403.6 69.4h0M403.2 67.1h0M402.7 69.0h0M410.5 62.1h0M408.5 56.6h0M404.1 72.5h0M405.1 66.6h0M400.7 63.2h0M402.9 69.7h0M404.2 72.5h0M401.7 65.2h0M400.3 61.5h0M409.2 62.7h0M401.3 66.0h0M408.5 65.9h0M408.1 56.4h0M410.0 66.5h0M401.3 69.6h0M403.6 66.6h0M400.4 60.6h0M400.7 67.0h0M404.5 57.7h0M404.1 69.7h0M402.6 66.7h0M402.4 56.0h0M403.5 61.4h0M405.9 69.0h0M403.8 60.9h0M408.0 65.9h0M405.1 64.9h0M400.3 61.1h0M400.8 61.5h0M407.7 55.6h0M408.4 60.0h0M404.5 60.3h0M407.7 59.3h0M400.3 64.7h0M404.8 67.3h0M407.2 56.7h0M406.1 64.1h0M405.0 63.9h0M406.5 59.7h0M404.8 69.2h0M401.8 62.8h0M402.3 57.7h0M403.8 64.4h0M409.8 62.2h0M408.4 66.5h0M405.4 53.8h0M405.8 63.7h0M401.8 64.1h0M409.2 57.9h0M403.6 68.7h0M400.9 58.8h0M406.3 69.0h0M409.0 67.3h0M410.5 64.8h0M401.2 62.2h0M407.6 65.6h0M400.4 65.0h0M402.5 62.0h0M409.7 62.4h0M402.9 62.5h0M403.8 71.9h0M408.0 68.5h0M403.0 59.4h0M405.9 54.2h0M408.2 56.9h0M405.7 65.5h0M402.5 65.5h0M407.1 71.7h0" stroke="#95b23c" stroke-width="1.1" stroke-linecap="round" fill="none"/>
<ellipse cx="398.13" cy="68.06" rx="2.16" ry="3.77" fill="#30b84a" fill-opacity="0.68"/>
<path d="M398.6 72.1h0M399.0 67.5h0M399.5 66.6h0M398.4 70.0h0M399.9 68.8h0M396.3 70.9h0M398.4 67.1h0M396.8 69.7h0M398.7 70.1h0M397.9 71.9h0M397.7 69.4h0M398.5 71.1h0M396.9 67.2h0M397.7 66.0h0M397.1 64.9h0M399.2 71.6h0M396.6 70.1h0M396.4 66.0h0M397.5 68.4h0M398.7 63.9h0M396.1 68.3h0M397.8 72.4h0M397.6 66.1h0M399.2 63.9h0M396.6 71.8h0M397.0 68.3h0M397.8 65.4h0M397.9 64.6h0M399.6 70.2h0M399.2 65.5h0M395.8 67.0h0M396.4 69.1h0M396.0 66.0h0M398.4 69.4h0M398.3 64.7h0M397.3 72.2h0M399.6 65.8h0M400.5 67.8h0M398.1 65.6h0M400.3 68.3h0" stroke="#30b84a" stroke-width="1.1" stroke-linecap="round" fill="none"/>
<ellipse cx="391.39" cy="77.82" rx="0.72" ry="0.91" fill="#22b59c" fill-opacity="0.68"/>
<ellipse cx="392.27" cy="76.53" rx="0.84" ry="0.91" fill="#22b59c" fill-opacity="0.68"/>
<ellipse cx="393.29" cy="75.06" rx="0.72" ry="0.91" fill="#22b59c" fill-opacity="0.68"/>
<path d="M391.3 77.2h0M390.7 77.9h0M391.4 78.7h0M390.9 77.6h0M391.9 78.3h0M391.9 77.4h0M392.6 77.1h0M392.5 77.2h0M392.0 76.4h0M392.9 76.8h0M392.5 77.3h0M393.4 75.4h0M392.5 74.8h0M393.7 74.5h0M393.1 75.2h0M393.2 75.7h0" stroke="#22b59c" stroke-width="1.1" stroke-linecap="round" fill="none"/>
<ellipse cx="402.23" cy="85.36" rx="3.84" ry="4.53" fill="#b07cc8" fill-opacity="0.68"/>
<ellipse cx="402.81" cy="91.62" rx="1.08" ry="1.36" fill="#b07cc8" fill-opacity="0.68"/>
<path d="M403.7 84.7h0M405.3 84.1h0M400.0 86.5h0M404.2 84.8h0M399.2 83.7h0M402.9 87.8h0M406.4 84.9h0M401.8 80.1h0M405.4 88.0h0M402.2 82.7h0M397.8 86.8h0M400.3 89.6h0M404.2 89.2h0M401.8 89.3h0M399.2 89.1h0M402.1 81.4h0M401.1 82.0h0M403.0 82.7h0M398.8 84.2h0M401.5 86.1h0M404.0 89.2h0M403.2 90.0h0M397.7 85.2h0M404.5 81.5h0M401.5 86.2h0M398.4 83.7h0M404.1 84.2h0M404.8 89.9h0M402.0 81.5h0M402.1 83.2h0M398.5 84.1h0M400.7 84.0h0M404.6 88.7h0M403.5 84.0h0M403.6 85.4h0M402.9 82.0h0M397.7 86.9h0M400.4 83.5h0M402.2 85.1h0M401.5 89.9h0M402.6 86.2h0M399.6 85.0h0M403.7 85.0h0M403.2 82.1h0M403.3 81.9h0M400.9 82.6h0M402.7 89.0h0M403.1 82.3h0M402.6 88.9h0M404.4 87.1h0M399.1 83.6h0M400.2 83.7h0M403.0 85.5h0M401.1 87.4h0M400.0 84.2h0M402.5 81.1h0M400.1 81.3h0M399.2 84.9h0M401.8 86.7h0M403.1 81.6h0M405.9 88.5h0M399.0 83.2h0M400.7 86.1h0M404.2 85.4h0M399.1 89.5h0M404.6 88.1h0M399.9 85.7h0M404.9 83.7h0M405.4 85.6h0M406.2 85.5h0M405.3 81.5h0M405.9 86.7h0M401.1 88.9h0M401.4 88.3h0M404.7 88.6h0M406.1 88.2h0M406.7 86.8h0M402.7 86.8h0M402.1 81.3h0M402.6 81.5h0M401.3 84.2h0M400.7 81.9h0M402.9 91.6h0M403.8 92.2h0M403.6 91.1h0M402.6 90.4h0M402.1 92.3h0M402.6 91.4h0M402.4 93.0h0M402.8 92.8h0M402.8 92.6h0" stroke="#b07cc8" stroke-width="1.1" stroke-linecap="round" fill="none"/>
<circle cx="390.95" cy="69.17" r="0.61" fill="#d0902c"/>
<circle cx="391.83" cy="68.8" r="0.61" fill="#d0902c"/>
<circle cx="391.39" cy="68.25" r="0.61" fill="#d0902c"/>
<circle cx="399.91" cy="95.44" r="0.61" fill="#d0902c"/>
<circle cx="383.71" cy="63.13" r="0.61" fill="#b07cc8"/>
<text x="422" y="9.8" font-size="13" fill="#000" font-weight="bold" stroke="#000" stroke-width="0.35">c</text>
<line x1="426.6" y1="16.5" x2="426.6" y2="69" stroke="#5d6b86" stroke-width="0.9"/>
<path d="M426.6,13 L424.3,18 L428.9,18 Z" fill="#5d6b86"/>
<text x="426.6" y="88.66" font-size="7.6" fill="#222" text-anchor="middle" transform="rotate(-90 426.6 86)">UMAP2</text>
<text x="463.4" y="121.26" font-size="7.6" fill="#222" text-anchor="middle">UMAP1</text>
<line x1="477.5" y1="118.6" x2="662" y2="118.6" stroke="#8a94aa" stroke-width="0.9"/>
<path d="M667,118.6 L661,116.3 L661,120.9 Z" fill="#5d6b86"/>
<line x1="450.2" y1="13.3" x2="450.2" y2="99.5" stroke="#4a4a4a" stroke-width="0.8"/>
<line x1="450.2" y1="99.5" x2="544.2" y2="99.5" stroke="#4a4a4a" stroke-width="0.8"/>
<line x1="447.4" y1="24.5" x2="450.2" y2="24.5" stroke="#4a4a4a" stroke-width="0.8"/>
<text x="445.9" y="27.05" font-size="7.3" fill="#222" text-anchor="end">10</text>
<line x1="447.4" y1="42.5" x2="450.2" y2="42.5" stroke="#4a4a4a" stroke-width="0.8"/>
<text x="445.9" y="45.05" font-size="7.3" fill="#222" text-anchor="end">5</text>
<line x1="447.4" y1="59.9" x2="450.2" y2="59.9" stroke="#4a4a4a" stroke-width="0.8"/>
<text x="445.9" y="62.45" font-size="7.3" fill="#222" text-anchor="end">0</text>
<line x1="447.4" y1="77.7" x2="450.2" y2="77.7" stroke="#4a4a4a" stroke-width="0.8"/>
<text x="445.9" y="80.25" font-size="7.3" fill="#222" text-anchor="end">−5</text>
<line x1="447.4" y1="95.4" x2="450.2" y2="95.4" stroke="#4a4a4a" stroke-width="0.8"/>
<text x="445.9" y="97.96" font-size="7.3" fill="#222" text-anchor="end">−10</text>
<line x1="453.8" y1="99.5" x2="453.8" y2="102.3" stroke="#4a4a4a" stroke-width="0.8"/>
<text x="453.8" y="109.96" font-size="7.3" fill="#222" text-anchor="middle">−15</text>
<line x1="470.4" y1="99.5" x2="470.4" y2="102.3" stroke="#4a4a4a" stroke-width="0.8"/>
<text x="470.4" y="109.96" font-size="7.3" fill="#222" text-anchor="middle">−10</text>
<line x1="487" y1="99.5" x2="487" y2="102.3" stroke="#4a4a4a" stroke-width="0.8"/>
<text x="487" y="109.96" font-size="7.3" fill="#222" text-anchor="middle">−5</text>
<line x1="503.5" y1="99.5" x2="503.5" y2="102.3" stroke="#4a4a4a" stroke-width="0.8"/>
<text x="503.5" y="109.96" font-size="7.3" fill="#222" text-anchor="middle">0</text>
<line x1="520.2" y1="99.5" x2="520.2" y2="102.3" stroke="#4a4a4a" stroke-width="0.8"/>
<text x="520.2" y="109.96" font-size="7.3" fill="#222" text-anchor="middle">5</text>
<line x1="536.8" y1="99.5" x2="536.8" y2="102.3" stroke="#4a4a4a" stroke-width="0.8"/>
<text x="536.8" y="109.96" font-size="7.3" fill="#222" text-anchor="middle">10</text>
<text x="493.5" y="10.67" font-size="8.2" fill="#222" text-anchor="middle" font-style="italic">Cd4</text>
<ellipse cx="517.82" cy="19.31" rx="1.23" ry="0.73" fill="#d3d3d3" fill-opacity="1"/>
<ellipse cx="519.82" cy="20.02" rx="1.37" ry="0.96" fill="#d3d3d3" fill-opacity="1"/>
<ellipse cx="521.82" cy="20.73" rx="1.5" ry="1.22" fill="#d3d3d3" fill-opacity="1"/>
<ellipse cx="523.48" cy="21.61" rx="1.23" ry="1.31" fill="#d3d3d3" fill-opacity="1"/>
<path d="M518.5 19.9h0M517.1 18.8h0M518.1 20.1h0M518.2 18.7h0M517.1 19.3h0M518.7 19.3h0M519.4 19.9h0M520.0 19.5h0M519.9 20.3h0M521.2 20.0h0M520.7 19.4h0M520.8 20.2h0M519.3 20.0h0M520.8 19.8h0M522.7 21.8h0M523.1 21.7h0M520.5 21.0h0M521.1 21.6h0M522.0 21.0h0M522.4 20.2h0M522.0 20.1h0M523.5 20.5h0M521.9 19.4h0M520.4 20.1h0M524.2 22.4h0M523.8 21.0h0M524.7 20.9h0M522.7 22.1h0M522.6 21.9h0M524.4 21.6h0M523.9 21.7h0M523.2 20.1h0M522.4 21.6h0" stroke="#d3d3d3" stroke-width="1.9" stroke-linecap="round" fill="none"/>
<ellipse cx="459.88" cy="27.11" rx="3.88" ry="2.09" fill="#d3d3d3" fill-opacity="1"/>
<ellipse cx="460.88" cy="25.87" rx="2.18" ry="1.45" fill="#d3d3d3" fill-opacity="1"/>
<ellipse cx="462.54" cy="31.19" rx="0.87" ry="1.1" fill="#d3d3d3" fill-opacity="1"/>
<path d="M456.0 26.4h0M460.5 29.1h0M456.4 26.4h0M460.7 28.1h0M457.2 29.1h0M457.8 28.7h0M459.3 27.9h0M463.8 28.0h0M460.4 25.6h0M458.3 25.2h0M463.6 25.6h0M456.0 28.5h0M463.4 26.6h0M462.3 25.9h0M458.2 28.0h0M461.2 26.4h0M463.7 28.1h0M460.4 25.4h0M460.4 26.6h0M459.7 28.5h0M458.2 27.6h0M462.4 27.7h0M463.7 25.6h0M459.8 25.3h0M459.8 29.6h0M455.9 26.8h0M462.0 27.3h0M462.1 25.2h0M462.6 25.8h0M456.7 28.0h0M461.4 26.0h0M457.5 26.8h0M459.9 26.9h0M458.1 24.8h0M462.9 26.1h0M459.4 24.6h0M459.7 25.4h0M458.7 26.8h0M461.7 25.5h0M461.6 26.2h0M462.6 26.1h0M462.4 27.1h0M460.3 25.3h0M459.4 25.6h0M459.6 25.9h0M461.5 26.5h0M459.3 26.9h0M460.3 25.8h0M460.3 24.3h0M462.7 30.0h0M463.3 31.2h0M463.4 31.6h0M462.9 32.2h0M462.5 32.3h0M462.5 31.4h0" stroke="#d3d3d3" stroke-width="1.9" stroke-linecap="round" fill="none"/>
<ellipse cx="485.85" cy="45.01" rx="3.96" ry="2.33" fill="#d3d3d3" fill-opacity="1"/>
<ellipse cx="490.18" cy="45.54" rx="2.32" ry="2.27" fill="#d3d3d3" fill-opacity="1"/>
<path d="M483.8 46.0h0M488.0 44.1h0M482.3 45.0h0M487.3 44.7h0M483.1 43.8h0M485.4 42.2h0M484.4 47.2h0M482.3 44.7h0M489.9 46.0h0M488.7 44.8h0M483.9 47.6h0M486.9 45.5h0M489.8 46.1h0M486.1 43.1h0M485.4 44.7h0M483.9 43.5h0M482.9 44.8h0M484.0 45.8h0M488.9 45.6h0M485.9 47.4h0M487.5 42.8h0M483.6 45.4h0M483.3 46.3h0M482.6 43.0h0M488.7 46.0h0M481.8 45.1h0M489.1 43.4h0M482.9 43.2h0M483.6 42.7h0M484.6 42.8h0M486.0 47.7h0M483.0 46.5h0M488.0 42.5h0M486.2 45.0h0M484.8 46.5h0M484.4 45.7h0M484.6 44.7h0M484.3 47.6h0M485.7 43.1h0M492.3 47.2h0M489.8 44.3h0M489.0 47.4h0M489.6 44.3h0M491.7 45.1h0M490.1 48.1h0M491.5 47.4h0M490.9 47.6h0M489.9 47.2h0M492.0 44.9h0M488.1 46.4h0M490.0 46.7h0M489.1 46.5h0M491.2 48.1h0M492.7 46.1h0M492.4 44.6h0M492.2 45.8h0M492.3 46.1h0M489.8 44.3h0M492.3 45.6h0M491.5 46.4h0M487.6 46.3h0M489.5 46.3h0" stroke="#d3d3d3" stroke-width="1.9" stroke-linecap="round" fill="none"/>
<ellipse cx="483.35" cy="51.75" rx="3" ry="3.34" fill="#d3d3d3" fill-opacity="1"/>
<ellipse cx="484.02" cy="58.3" rx="4.23" ry="4.22" fill="#d3d3d3" fill-opacity="1"/>
<ellipse cx="486.18" cy="63.8" rx="2.73" ry="2.53" fill="#d3d3d3" fill-opacity="1"/>
<ellipse cx="489.01" cy="68.41" rx="1.37" ry="2.03" fill="#d3d3d3" fill-opacity="1"/>
<path d="M484.2 48.2h0M482.6 51.6h0M484.2 54.1h0M481.7 51.1h0M484.4 48.2h0M486.4 50.0h0M486.1 52.1h0M486.4 53.6h0M483.3 48.2h0M483.7 52.7h0M484.5 48.8h0M481.5 49.8h0M484.0 49.5h0M483.1 54.2h0M482.5 54.8h0M484.1 51.1h0M485.7 52.9h0M482.7 50.1h0M483.2 52.7h0M485.9 52.4h0M482.1 48.8h0M484.0 52.8h0M485.8 50.5h0M480.8 53.6h0M483.0 48.8h0M486.3 53.5h0M483.5 52.5h0M481.8 54.1h0M482.3 50.5h0M482.7 49.0h0M485.1 54.9h0M484.6 48.1h0M482.6 50.0h0M484.0 47.9h0M479.9 50.9h0M485.6 51.3h0M486.7 50.3h0M483.5 51.3h0M481.6 54.3h0M480.9 49.5h0M482.5 50.4h0M485.8 50.5h0M485.7 56.7h0M487.9 58.3h0M484.7 53.9h0M486.3 56.2h0M486.9 59.9h0M485.7 61.7h0M485.3 55.5h0M484.6 58.9h0M480.5 60.1h0M488.2 59.0h0M484.4 59.9h0M487.4 56.7h0M486.9 56.0h0M485.8 60.1h0M480.3 60.2h0M484.6 53.9h0M482.5 56.2h0M481.1 59.6h0M481.4 58.5h0M480.6 57.5h0M488.6 59.3h0M480.1 55.9h0M483.6 53.9h0M487.2 58.2h0M483.8 58.5h0M482.0 54.9h0M479.4 55.9h0M484.8 60.6h0M483.6 53.7h0M482.8 58.4h0M480.8 61.7h0M480.5 58.3h0M480.9 60.9h0M480.5 55.8h0M487.0 55.0h0M482.2 60.1h0M484.9 53.8h0M486.1 57.3h0M486.8 54.3h0M486.6 59.6h0M482.7 56.8h0M485.3 56.0h0M482.9 55.8h0M484.5 60.6h0M479.7 58.4h0M484.9 62.5h0M481.9 61.9h0M482.5 60.0h0M484.8 59.3h0M482.9 55.2h0M487.5 61.7h0M483.6 57.7h0M483.4 54.4h0M480.6 59.6h0M487.1 57.6h0M481.3 55.2h0M482.0 60.6h0M484.1 54.2h0M480.5 59.3h0M484.8 62.8h0M488.1 58.8h0M481.7 59.0h0M480.7 56.3h0M487.1 60.2h0M486.4 62.3h0M482.6 60.9h0M484.3 59.4h0M484.8 60.2h0M480.6 55.0h0M484.3 60.0h0M482.3 57.9h0M480.3 60.8h0M485.3 62.4h0M485.2 63.6h0M486.3 66.2h0M487.4 64.6h0M483.5 62.5h0M483.5 63.5h0M488.0 63.9h0M484.9 66.5h0M484.3 65.9h0M488.5 64.3h0M488.5 62.1h0M484.9 63.2h0M487.0 63.4h0M489.0 63.2h0M485.7 61.6h0M487.2 65.3h0M484.8 61.7h0M483.9 65.6h0M487.9 64.3h0M487.8 64.7h0M487.0 61.2h0M487.3 65.2h0M488.2 65.4h0M484.7 64.3h0M484.0 65.8h0M483.7 65.0h0M484.6 62.3h0M484.3 63.2h0M486.9 65.9h0M485.5 65.5h0M487.4 66.5h0M488.3 68.9h0M489.8 68.6h0M489.7 67.3h0M488.6 67.4h0M488.4 67.1h0M488.9 66.6h0M488.4 69.3h0M487.8 67.1h0M488.6 66.8h0M488.3 70.5h0M489.4 67.6h0M488.4 66.4h0M488.3 66.2h0" stroke="#d3d3d3" stroke-width="1.9" stroke-linecap="round" fill="none"/>
<ellipse cx="458.61" cy="65.36" rx="1.5" ry="1.8" fill="#d3d3d3" fill-opacity="1"/>
<ellipse cx="459.04" cy="68.98" rx="1.64" ry="2.03" fill="#d3d3d3" fill-opacity="1"/>
<ellipse cx="460.74" cy="72.06" rx="1.69" ry="1.92" fill="#d3d3d3" fill-opacity="1"/>
<ellipse cx="463.34" cy="74.12" rx="1.69" ry="1.8" fill="#d3d3d3" fill-opacity="1"/>
<ellipse cx="465.9" cy="75.68" rx="1.5" ry="1.6" fill="#d3d3d3" fill-opacity="1"/>
<ellipse cx="467.64" cy="77.2" rx="1.23" ry="1.16" fill="#d3d3d3" fill-opacity="1"/>
<ellipse cx="463.77" cy="70.5" rx="1.37" ry="1.45" fill="#d3d3d3" fill-opacity="1"/>
<path d="M459.3 64.6h0M459.7 65.3h0M457.3 66.8h0M459.2 66.6h0M457.9 64.5h0M458.4 67.3h0M457.4 64.1h0M459.0 63.4h0M459.9 64.1h0M459.9 65.1h0M458.2 63.9h0M460.1 65.0h0M457.3 66.1h0M458.8 69.8h0M458.5 69.6h0M459.7 69.0h0M457.4 69.6h0M460.6 69.6h0M460.1 70.1h0M458.7 70.6h0M458.7 67.4h0M457.7 70.3h0M459.9 70.0h0M458.5 66.8h0M460.0 68.8h0M458.3 68.0h0M458.5 66.8h0M459.8 70.1h0M460.1 68.4h0M459.5 70.5h0M460.4 74.1h0M461.9 72.1h0M461.3 73.3h0M460.8 72.4h0M461.0 71.1h0M459.4 71.3h0M461.9 70.3h0M460.1 71.4h0M460.8 71.3h0M461.8 71.5h0M460.7 73.1h0M459.3 73.3h0M461.8 70.5h0M460.6 70.9h0M462.8 75.2h0M461.6 75.0h0M463.9 74.1h0M465.3 73.7h0M461.7 74.6h0M463.5 73.2h0M461.8 72.7h0M464.8 72.7h0M464.8 75.1h0M461.4 74.3h0M464.1 75.5h0M464.7 75.5h0M463.3 73.7h0M463.1 74.9h0M464.9 74.5h0M467.6 76.4h0M467.1 75.4h0M464.9 75.1h0M465.0 74.9h0M464.4 76.3h0M466.3 76.7h0M466.0 74.8h0M467.5 76.5h0M466.5 76.7h0M465.5 76.6h0M465.1 76.8h0M468.5 77.9h0M468.0 77.3h0M467.9 77.9h0M467.2 77.8h0M468.3 76.2h0M466.3 77.4h0M467.3 76.5h0M466.7 76.4h0M462.4 70.2h0M462.7 69.2h0M463.7 71.9h0M465.0 70.3h0M464.2 70.2h0M463.6 69.6h0M463.8 69.3h0M463.0 70.3h0M463.7 72.1h0M463.0 69.4h0" stroke="#d3d3d3" stroke-width="1.9" stroke-linecap="round" fill="none"/>
<ellipse cx="531.8" cy="63.45" rx="5.05" ry="7.56" fill="#d3d3d3" fill-opacity="1"/>
<path d="M534.3 66.8h0M534.5 62.6h0M526.8 61.6h0M527.2 63.0h0M537.2 61.9h0M532.1 69.5h0M527.3 67.1h0M530.4 59.2h0M530.4 57.8h0M535.1 63.9h0M529.8 66.3h0M528.9 55.4h0M536.2 60.4h0M534.5 58.4h0M526.8 58.9h0M535.3 65.5h0M529.3 67.3h0M530.5 64.4h0M529.2 55.3h0M532.1 67.4h0M529.0 70.5h0M532.6 71.4h0M534.0 69.7h0M530.9 56.0h0M537.0 68.0h0M534.3 58.2h0M534.8 57.9h0M533.7 68.5h0M533.6 57.8h0M534.2 64.4h0M533.6 69.9h0M529.3 58.6h0M526.8 68.6h0M529.0 69.8h0M533.0 69.8h0M532.7 66.2h0M530.7 66.1h0M528.2 68.5h0M526.6 60.9h0M530.0 63.8h0M531.3 57.7h0M531.9 54.3h0M528.8 62.7h0M529.1 68.5h0M531.0 66.1h0M527.8 67.9h0M534.0 56.1h0M535.9 58.0h0M527.6 67.4h0M537.0 66.2h0M531.0 58.9h0M528.6 64.3h0M532.9 57.7h0M532.9 54.8h0M532.5 57.8h0M528.5 70.9h0M534.0 61.2h0M528.3 69.7h0M531.9 58.5h0M526.1 66.4h0M534.5 66.0h0M528.8 55.9h0M535.8 61.4h0M533.3 54.6h0M530.4 67.3h0M531.5 71.6h0M534.7 68.7h0M534.3 61.7h0M528.7 58.6h0M536.1 62.1h0M526.0 63.9h0M531.8 59.9h0M533.1 58.0h0M537.7 61.7h0M527.8 63.7h0M532.3 68.2h0M532.5 67.1h0M531.6 61.4h0M527.9 59.3h0M531.4 56.5h0M534.7 61.3h0M535.7 67.3h0M531.1 72.5h0M536.3 59.8h0M533.3 59.5h0M528.0 64.0h0M529.7 68.1h0M526.9 64.5h0M536.3 64.5h0M536.0 70.0h0M527.3 61.2h0M529.7 70.6h0M530.3 54.9h0M529.0 61.1h0M530.8 62.0h0M531.7 58.3h0M531.4 60.2h0M529.7 61.3h0M534.9 64.5h0M534.0 58.8h0M526.4 62.3h0M534.9 62.8h0M529.9 55.8h0M532.8 58.2h0M526.4 64.8h0M531.8 69.9h0M528.0 57.1h0M532.0 71.0h0M532.3 67.0h0M526.9 64.5h0M528.0 56.5h0M534.1 69.2h0M528.7 64.0h0M533.8 61.7h0M531.7 65.3h0M528.7 57.6h0M532.8 72.2h0M530.0 60.3h0M537.1 60.4h0M529.6 71.3h0M534.3 67.4h0M526.6 67.8h0M530.7 68.9h0M533.3 71.5h0M534.1 71.2h0M529.3 69.2h0M534.1 60.1h0M527.0 62.1h0M528.3 60.7h0M529.7 59.3h0M532.1 64.2h0M528.1 59.1h0M532.6 60.0h0M529.9 58.0h0M526.3 62.1h0M527.8 62.7h0M530.4 60.6h0M534.9 58.7h0M535.9 65.1h0M537.5 60.4h0M529.0 65.6h0M534.8 61.5h0M534.8 64.0h0M526.8 64.8h0M535.1 65.6h0M531.3 58.1h0M534.1 70.4h0M527.1 66.4h0M526.3 64.3h0M525.7 62.8h0M533.8 56.2h0M527.0 63.9h0" stroke="#d3d3d3" stroke-width="1.9" stroke-linecap="round" fill="none"/>
<ellipse cx="523.65" cy="68.05" rx="2.46" ry="3.63" fill="#d3d3d3" fill-opacity="1"/>
<path d="M523.1 68.9h0M525.7 65.4h0M523.9 64.0h0M520.8 66.7h0M520.7 68.8h0M525.3 69.4h0M521.2 66.3h0M521.0 67.5h0M521.9 70.7h0M524.3 64.8h0M526.1 68.5h0M525.3 68.1h0M525.6 70.6h0M524.9 71.3h0M524.9 68.9h0M522.7 64.0h0M525.8 69.6h0M521.8 70.2h0M524.0 68.3h0M526.1 70.0h0M521.3 68.3h0M525.3 70.8h0M524.7 66.9h0M524.2 64.0h0M525.9 67.9h0M522.6 66.0h0M524.0 65.6h0M522.0 65.6h0M526.3 67.8h0M524.7 69.1h0M522.5 70.2h0M523.3 65.8h0M521.8 67.0h0M522.8 71.4h0M520.9 69.8h0M525.6 71.1h0M522.3 65.8h0M525.8 69.7h0" stroke="#d3d3d3" stroke-width="1.9" stroke-linecap="round" fill="none"/>
<ellipse cx="515.99" cy="77.45" rx="0.82" ry="0.87" fill="#d3d3d3" fill-opacity="1"/>
<ellipse cx="516.99" cy="76.21" rx="0.96" ry="0.87" fill="#d3d3d3" fill-opacity="1"/>
<ellipse cx="518.15" cy="74.79" rx="0.82" ry="0.87" fill="#d3d3d3" fill-opacity="1"/>
<path d="M516.2 76.9h0M515.8 76.7h0M516.8 78.0h0M515.7 78.1h0M516.1 76.5h0M517.4 75.7h0M517.2 75.9h0M516.3 76.0h0M517.6 75.5h0M516.4 75.4h0M516.5 76.8h0M518.6 75.2h0M518.4 75.7h0M518.8 75.5h0M517.6 74.4h0M518.6 75.3h0" stroke="#d3d3d3" stroke-width="1.9" stroke-linecap="round" fill="none"/>
<ellipse cx="528.31" cy="84.72" rx="4.37" ry="4.36" fill="#d3d3d3" fill-opacity="1"/>
<ellipse cx="528.97" cy="90.74" rx="1.23" ry="1.31" fill="#d3d3d3" fill-opacity="1"/>
<path d="M526.4 83.9h0M531.5 84.2h0M525.7 85.9h0M526.4 86.7h0M529.2 83.6h0M525.6 87.8h0M525.3 85.1h0M527.0 84.8h0M527.1 88.0h0M528.7 81.2h0M524.6 86.9h0M527.6 88.6h0M529.7 88.6h0M524.1 83.7h0M531.7 81.4h0M530.9 84.5h0M531.7 83.7h0M525.9 87.4h0M532.9 82.2h0M529.3 82.0h0M530.1 86.3h0M526.2 80.8h0M528.6 84.8h0M531.4 84.6h0M531.8 85.7h0M532.2 87.5h0M524.2 84.0h0M530.0 83.9h0M529.3 89.3h0M525.6 82.5h0M525.7 88.0h0M533.2 83.0h0M532.9 82.1h0M528.9 85.4h0M529.6 82.4h0M524.7 84.2h0M531.8 84.1h0M529.9 86.5h0M532.3 82.0h0M531.6 88.7h0M525.2 88.0h0M523.8 82.8h0M527.4 84.8h0M523.7 83.0h0M524.2 87.3h0M525.3 85.8h0M526.7 86.7h0M523.1 84.7h0M524.4 82.2h0M529.7 87.6h0M525.4 83.1h0M533.3 85.0h0M531.3 87.8h0M531.2 84.4h0M527.9 87.8h0M523.2 83.3h0M529.9 86.8h0M530.5 83.0h0M526.1 80.8h0M529.2 84.7h0M528.6 79.6h0M527.1 81.3h0M531.4 87.0h0M530.6 86.6h0M532.0 85.6h0M525.5 85.3h0M528.6 86.1h0M530.2 85.0h0M529.3 84.6h0M527.6 81.2h0M525.8 83.2h0M533.1 84.1h0M525.4 86.7h0M530.1 83.7h0M531.3 81.7h0M524.8 83.1h0M527.0 83.8h0M529.0 91.7h0M529.1 91.2h0M528.7 89.7h0M528.9 89.7h0M529.7 90.5h0M528.0 90.7h0M529.1 90.2h0M528.0 90.4h0M528.5 90.2h0" stroke="#d3d3d3" stroke-width="1.9" stroke-linecap="round" fill="none"/>
<circle cx="515.49" cy="69.12" r="1.04" fill="#d3d3d3"/>
<circle cx="516.49" cy="68.76" r="1.04" fill="#d3d3d3"/>
<circle cx="515.99" cy="68.23" r="1.04" fill="#d3d3d3"/>
<circle cx="525.68" cy="94.43" r="1.04" fill="#d3d3d3"/>
<circle cx="507.26" cy="63.3" r="1.04" fill="#d3d3d3"/>
<circle cx="490.2" cy="44.56" r="1.3" fill="#aaa4dc"/>
<circle cx="487.79" cy="43.41" r="1.3" fill="#aaa4dc"/>
<circle cx="487.46" cy="42.61" r="1.3" fill="#aaa4dc"/>
<circle cx="490.27" cy="45.11" r="1.3" fill="#aaa4dc"/>
<circle cx="493.83" cy="42.55" r="1.3" fill="#aaa4dc"/>
<circle cx="489.11" cy="46.81" r="1.3" fill="#aaa4dc"/>
<circle cx="487.76" cy="45.61" r="1.3" fill="#aaa4dc"/>
<circle cx="490.28" cy="44.8" r="1.3" fill="#8d85de"/>
<circle cx="488.41" cy="44.78" r="1.3" fill="#8d85de"/>
<circle cx="490.64" cy="44.19" r="1.3" fill="#8d85de"/>
<circle cx="489.85" cy="43.24" r="1.3" fill="#8d85de"/>
<circle cx="488.58" cy="42.94" r="1.3" fill="#8d85de"/>
<circle cx="484.16" cy="53.2" r="1.3" fill="#8d85de"/>
<circle cx="484.87" cy="52.08" r="1.3" fill="#8d85de"/>
<circle cx="488.6" cy="51.9" r="1.3" fill="#8d85de"/>
<circle cx="484.85" cy="51.42" r="1.3" fill="#8d85de"/>
<circle cx="487.58" cy="52.99" r="1.3" fill="#8d85de"/>
<circle cx="484.87" cy="52.15" r="1.3" fill="#8d85de"/>
<circle cx="484.72" cy="49.59" r="1.3" fill="#8d85de"/>
<circle cx="484.76" cy="48.47" r="1.3" fill="#8d85de"/>
<circle cx="492.46" cy="46.7" r="1.3" fill="#6a60e2"/>
<circle cx="491.54" cy="44.3" r="1.3" fill="#6a60e2"/>
<circle cx="487.28" cy="44.7" r="1.3" fill="#6a60e2"/>
<circle cx="488.45" cy="46.02" r="1.3" fill="#6a60e2"/>
<circle cx="491.59" cy="45.03" r="1.3" fill="#6a60e2"/>
<circle cx="491.9" cy="45.69" r="1.3" fill="#6a60e2"/>
<circle cx="493.56" cy="43.23" r="1.3" fill="#6a60e2"/>
<circle cx="493.71" cy="45.31" r="1.3" fill="#6a60e2"/>
<circle cx="491.38" cy="43.55" r="1.3" fill="#6a60e2"/>
<circle cx="492.23" cy="46.59" r="1.3" fill="#6a60e2"/>
<circle cx="484.64" cy="50.54" r="1.3" fill="#6a60e2"/>
<circle cx="487.59" cy="52.9" r="1.3" fill="#6a60e2"/>
<circle cx="487.32" cy="51.54" r="1.3" fill="#6a60e2"/>
<circle cx="489.59" cy="50.95" r="1.3" fill="#6a60e2"/>
<circle cx="483.12" cy="63.26" r="1.3" fill="#6a60e2"/>
<circle cx="486.54" cy="61.08" r="1.3" fill="#6a60e2"/>
<circle cx="486.66" cy="57.13" r="1.3" fill="#6a60e2"/>
<circle cx="484.37" cy="59.02" r="1.3" fill="#6a60e2"/>
<circle cx="486.66" cy="54.84" r="1.3" fill="#6a60e2"/>
<circle cx="486.64" cy="60.2" r="1.3" fill="#6a60e2"/>
<circle cx="484.73" cy="49.63" r="1.3" fill="#4a3fe6"/>
<circle cx="485.6" cy="51.94" r="1.3" fill="#4a3fe6"/>
<circle cx="484.09" cy="50.42" r="1.3" fill="#4a3fe6"/>
<circle cx="489" cy="52.55" r="1.3" fill="#4a3fe6"/>
<circle cx="489.27" cy="49.17" r="1.3" fill="#4a3fe6"/>
<circle cx="487.34" cy="51.28" r="1.3" fill="#4a3fe6"/>
<circle cx="482.98" cy="60.68" r="1.3" fill="#4a3fe6"/>
<circle cx="483.32" cy="61.63" r="1.3" fill="#4a3fe6"/>
<circle cx="485.83" cy="55.89" r="1.3" fill="#4a3fe6"/>
<circle cx="484.49" cy="59.19" r="1.3" fill="#4a3fe6"/>
<circle cx="483.15" cy="53.55" r="1.3" fill="#3426ec"/>
<circle cx="488.25" cy="60.8" r="1.3" fill="#3426ec"/>
<circle cx="487.14" cy="54.68" r="1.3" fill="#3426ec"/>
<circle cx="485" cy="54.01" r="1.3" fill="#3426ec"/>
<circle cx="489.68" cy="53.37" r="1.3" fill="#3426ec"/>
<circle cx="487.73" cy="58.49" r="1.3" fill="#3426ec"/>
<circle cx="485.3" cy="53.17" r="1.3" fill="#3426ec"/>
<circle cx="487.04" cy="55.87" r="1.3" fill="#3426ec"/>
<circle cx="488.5" cy="56.21" r="1.3" fill="#3426ec"/>
<circle cx="489.86" cy="59.83" r="1.3" fill="#3426ec"/>
<circle cx="488.91" cy="54.57" r="1.3" fill="#3426ec"/>
<circle cx="487.64" cy="59.51" r="1.3" fill="#3426ec"/>
<circle cx="487.52" cy="62.62" r="1.3" fill="#3426ec"/>
<circle cx="490.46" cy="54.4" r="1.3" fill="#3426ec"/>
<circle cx="486.23" cy="54.83" r="1.3" fill="#3426ec"/>
<circle cx="488.6" cy="63.14" r="1.3" fill="#3426ec"/>
<circle cx="484.81" cy="63.33" r="1.3" fill="#3426ec"/>
<circle cx="489.68" cy="60.08" r="1.3" fill="#3426ec"/>
<circle cx="484.15" cy="58.81" r="1.3" fill="#3426ec"/>
<circle cx="487.42" cy="60.43" r="1.3" fill="#2a1ff0"/>
<circle cx="488.37" cy="62.74" r="1.3" fill="#2a1ff0"/>
<circle cx="487.24" cy="62.09" r="1.3" fill="#2a1ff0"/>
<circle cx="488.15" cy="57.44" r="1.3" fill="#2a1ff0"/>
<circle cx="488.22" cy="53.55" r="1.3" fill="#2a1ff0"/>
<circle cx="489.75" cy="54.49" r="1.3" fill="#2a1ff0"/>
<circle cx="488.05" cy="61.36" r="1.3" fill="#2a1ff0"/>
<circle cx="489.79" cy="56.66" r="1.3" fill="#2a1ff0"/>
<circle cx="489.86" cy="54.4" r="1.3" fill="#2a1ff0"/>
<circle cx="487.32" cy="60.19" r="1.3" fill="#2a1ff0"/>
<circle cx="488.3" cy="53.68" r="1.3" fill="#2a1ff0"/>
<circle cx="489.51" cy="61.67" r="1.5" fill="#2a1ff0"/>
<circle cx="488.51" cy="57.77" r="1.5" fill="#2a1ff0"/>
<circle cx="508" cy="62.31" r="1.45" fill="#2a1ff0"/>
<circle cx="491.51" cy="69.83" r="1.5" fill="#6a5ee0"/>
<circle cx="461.88" cy="29.41" r="1" fill="#9a90dc"/>
<circle cx="529.81" cy="90.03" r="1" fill="#9a90dc"/>
<circle cx="532.8" cy="68.76" r="1" fill="#b0a8dc"/>
<circle cx="521.82" cy="68.41" r="0.9" fill="#b0a8dc"/>
<defs><linearGradient id="cb21" x1="0" y1="0" x2="0" y2="1"><stop offset="0" stop-color="#1a10f0"/><stop offset="1" stop-color="#d6d6d6"/></linearGradient></defs>
<rect x="538.2" y="6.1" width="7.6" height="38.5" fill="url(#cb21)"/>
<text x="548.7" y="15.25" font-size="7.3" fill="#222">4</text>
<text x="548.7" y="29.16" font-size="7.3" fill="#222">3</text>
<text x="548.7" y="42.45" font-size="7.3" fill="#222">2</text>
<line x1="572.6" y1="13.3" x2="572.6" y2="99.5" stroke="#4a4a4a" stroke-width="0.8"/>
<line x1="572.6" y1="99.5" x2="666.6" y2="99.5" stroke="#4a4a4a" stroke-width="0.8"/>
<line x1="569.8" y1="24.1" x2="572.6" y2="24.1" stroke="#4a4a4a" stroke-width="0.8"/>
<text x="568.3" y="26.66" font-size="7.3" fill="#222" text-anchor="end">10</text>
<line x1="569.8" y1="41.9" x2="572.6" y2="41.9" stroke="#4a4a4a" stroke-width="0.8"/>
<text x="568.3" y="44.45" font-size="7.3" fill="#222" text-anchor="end">5</text>
<line x1="569.8" y1="59.7" x2="572.6" y2="59.7" stroke="#4a4a4a" stroke-width="0.8"/>
<text x="568.3" y="62.26" font-size="7.3" fill="#222" text-anchor="end">0</text>
<line x1="569.8" y1="77.7" x2="572.6" y2="77.7" stroke="#4a4a4a" stroke-width="0.8"/>
<text x="568.3" y="80.25" font-size="7.3" fill="#222" text-anchor="end">−5</text>
<line x1="569.8" y1="95.4" x2="572.6" y2="95.4" stroke="#4a4a4a" stroke-width="0.8"/>
<text x="568.3" y="97.96" font-size="7.3" fill="#222" text-anchor="end">−10</text>
<line x1="576.7" y1="99.5" x2="576.7" y2="102.3" stroke="#4a4a4a" stroke-width="0.8"/>
<text x="576.7" y="109.96" font-size="7.3" fill="#222" text-anchor="middle">−15</text>
<line x1="593.2" y1="99.5" x2="593.2" y2="102.3" stroke="#4a4a4a" stroke-width="0.8"/>
<text x="593.2" y="109.96" font-size="7.3" fill="#222" text-anchor="middle">−10</text>
<line x1="609.8" y1="99.5" x2="609.8" y2="102.3" stroke="#4a4a4a" stroke-width="0.8"/>
<text x="609.8" y="109.96" font-size="7.3" fill="#222" text-anchor="middle">−5</text>
<line x1="626.3" y1="99.5" x2="626.3" y2="102.3" stroke="#4a4a4a" stroke-width="0.8"/>
<text x="626.3" y="109.96" font-size="7.3" fill="#222" text-anchor="middle">0</text>
<line x1="642.9" y1="99.5" x2="642.9" y2="102.3" stroke="#4a4a4a" stroke-width="0.8"/>
<text x="642.9" y="109.96" font-size="7.3" fill="#222" text-anchor="middle">5</text>
<line x1="659.4" y1="99.5" x2="659.4" y2="102.3" stroke="#4a4a4a" stroke-width="0.8"/>
<text x="659.4" y="109.96" font-size="7.3" fill="#222" text-anchor="middle">10</text>
<text x="618.2" y="10.67" font-size="8.2" fill="#222" text-anchor="middle" font-style="italic">Foxp3</text>
<ellipse cx="640.53" cy="19.05" rx="1.22" ry="0.73" fill="#d3d3d3" fill-opacity="1"/>
<ellipse cx="642.52" cy="19.76" rx="1.36" ry="0.96" fill="#d3d3d3" fill-opacity="1"/>
<ellipse cx="644.5" cy="20.47" rx="1.49" ry="1.22" fill="#d3d3d3" fill-opacity="1"/>
<ellipse cx="646.16" cy="21.36" rx="1.22" ry="1.31" fill="#d3d3d3" fill-opacity="1"/>
<path d="M641.1 19.0h0M642.0 19.2h0M640.7 19.3h0M640.0 18.6h0M641.1 18.8h0M641.3 18.9h0M641.2 19.1h0M641.9 18.7h0M642.4 19.5h0M643.5 19.2h0M642.3 20.2h0M643.3 19.0h0M643.9 19.4h0M643.7 19.5h0M644.1 19.4h0M644.4 21.9h0M643.9 21.7h0M645.9 20.1h0M645.5 21.5h0M644.1 19.9h0M645.8 20.8h0M646.2 20.8h0M643.2 20.4h0M643.3 21.1h0M646.9 20.9h0M645.4 22.2h0M645.8 22.5h0M645.2 21.1h0M645.7 20.3h0M647.4 22.2h0M645.6 22.2h0M645.0 22.2h0M647.2 21.0h0" stroke="#d3d3d3" stroke-width="1.9" stroke-linecap="round" fill="none"/>
<ellipse cx="582.94" cy="26.86" rx="3.85" ry="2.1" fill="#d3d3d3" fill-opacity="1"/>
<ellipse cx="583.93" cy="25.62" rx="2.17" ry="1.46" fill="#d3d3d3" fill-opacity="1"/>
<ellipse cx="585.59" cy="30.95" rx="0.87" ry="1.11" fill="#d3d3d3" fill-opacity="1"/>
<path d="M581.8 27.3h0M584.5 26.2h0M580.3 26.4h0M581.6 28.2h0M583.3 27.3h0M578.8 26.4h0M581.7 25.9h0M582.6 26.3h0M579.3 28.1h0M585.7 26.0h0M584.8 25.4h0M579.4 26.6h0M587.0 26.7h0M579.0 27.2h0M581.2 25.7h0M583.8 24.6h0M579.4 25.3h0M586.2 27.1h0M581.1 25.7h0M584.8 28.7h0M580.7 27.4h0M587.4 27.5h0M582.0 27.6h0M583.4 28.1h0M584.3 26.1h0M582.7 27.6h0M580.8 27.1h0M580.7 28.7h0M586.8 25.8h0M585.7 27.2h0M583.4 26.5h0M583.9 28.6h0M579.9 28.4h0M582.3 25.2h0M583.9 26.5h0M583.9 26.1h0M583.4 25.0h0M585.6 24.7h0M585.7 26.1h0M583.5 25.4h0M583.5 25.6h0M583.9 25.5h0M582.2 24.3h0M584.7 24.9h0M583.0 25.5h0M582.6 27.0h0M584.0 25.5h0M582.4 26.6h0M585.0 27.0h0M586.2 30.3h0M585.0 31.9h0M585.1 30.9h0M585.5 31.5h0M586.0 30.1h0M585.3 29.8h0" stroke="#d3d3d3" stroke-width="1.9" stroke-linecap="round" fill="none"/>
<ellipse cx="608.76" cy="44.79" rx="3.94" ry="2.33" fill="#d3d3d3" fill-opacity="1"/>
<ellipse cx="613.06" cy="45.32" rx="2.31" ry="2.27" fill="#d3d3d3" fill-opacity="1"/>
<path d="M610.8 44.6h0M605.0 46.3h0M609.0 43.0h0M607.6 43.7h0M609.3 45.3h0M607.1 45.7h0M604.1 44.5h0M610.8 46.5h0M611.2 43.1h0M604.6 44.4h0M613.4 45.2h0M607.1 42.4h0M609.4 44.0h0M610.6 45.3h0M604.1 44.7h0M611.4 43.8h0M605.8 43.1h0M606.4 47.2h0M612.6 43.9h0M612.3 43.3h0M607.2 43.5h0M608.3 46.2h0M613.1 45.8h0M608.5 45.2h0M608.1 45.6h0M606.2 45.3h0M610.3 46.5h0M606.3 45.7h0M609.8 43.3h0M604.4 44.1h0M611.6 44.3h0M613.3 45.5h0M606.5 44.7h0M610.4 45.8h0M608.1 45.8h0M613.3 45.6h0M609.4 43.9h0M604.5 45.1h0M612.3 45.3h0M612.1 46.8h0M614.9 44.2h0M610.9 45.9h0M615.3 46.0h0M613.9 43.2h0M612.1 46.5h0M613.9 45.4h0M614.1 46.9h0M613.3 44.1h0M610.9 45.7h0M612.8 45.0h0M614.9 44.3h0M612.6 46.6h0M612.0 42.8h0M612.1 46.8h0M612.0 44.9h0M610.8 46.8h0M610.7 44.5h0M612.9 47.9h0M613.3 44.0h0M610.8 44.9h0M611.1 44.4h0" stroke="#d3d3d3" stroke-width="1.9" stroke-linecap="round" fill="none"/>
<ellipse cx="606.27" cy="51.54" rx="2.99" ry="3.35" fill="#d3d3d3" fill-opacity="1"/>
<ellipse cx="606.94" cy="58.1" rx="4.21" ry="4.22" fill="#d3d3d3" fill-opacity="1"/>
<ellipse cx="609.09" cy="63.61" rx="2.71" ry="2.53" fill="#d3d3d3" fill-opacity="1"/>
<ellipse cx="611.9" cy="68.22" rx="1.36" ry="2.04" fill="#d3d3d3" fill-opacity="1"/>
<path d="M606.4 54.6h0M604.3 54.4h0M603.8 54.4h0M604.8 50.6h0M605.1 52.3h0M606.2 50.7h0M604.7 50.1h0M606.5 50.1h0M605.0 48.4h0M606.4 53.0h0M604.2 53.9h0M606.3 51.9h0M603.2 52.9h0M608.2 54.8h0M604.8 51.5h0M608.1 53.0h0M604.8 51.8h0M608.5 53.0h0M606.2 54.3h0M603.4 52.6h0M604.7 50.6h0M607.7 55.0h0M607.5 52.0h0M609.3 53.1h0M602.9 50.5h0M604.8 49.8h0M603.5 53.0h0M606.7 55.2h0M605.6 52.0h0M604.8 54.1h0M608.4 54.6h0M608.6 50.2h0M608.8 49.6h0M604.9 51.2h0M609.6 50.4h0M604.1 52.3h0M608.8 53.0h0M607.7 49.5h0M605.6 54.6h0M606.7 49.9h0M605.7 54.7h0M609.5 52.5h0M605.1 62.4h0M604.9 58.7h0M608.7 58.3h0M606.6 62.6h0M608.0 54.2h0M605.5 62.0h0M606.6 55.0h0M610.0 59.8h0M607.3 60.3h0M605.9 59.0h0M609.1 56.5h0M610.5 55.5h0M611.8 58.4h0M608.3 54.6h0M609.6 55.7h0M608.9 58.4h0M605.2 62.5h0M607.8 56.6h0M605.9 59.5h0M607.3 61.1h0M605.2 59.1h0M605.6 56.0h0M609.7 55.8h0M602.9 60.0h0M605.5 60.3h0M608.9 60.0h0M607.4 62.5h0M604.3 61.5h0M606.7 59.4h0M605.9 61.1h0M608.9 56.9h0M607.4 60.1h0M606.8 63.1h0M609.2 57.1h0M610.3 59.2h0M605.5 57.2h0M603.0 60.3h0M611.3 58.1h0M605.1 53.9h0M603.5 58.4h0M605.1 57.9h0M604.4 57.9h0M606.5 59.1h0M607.6 59.1h0M604.5 57.5h0M603.5 56.9h0M607.1 59.9h0M603.5 55.7h0M605.6 54.7h0M606.2 57.7h0M605.3 62.4h0M605.8 59.3h0M602.8 60.3h0M608.3 59.1h0M602.1 58.2h0M605.0 59.7h0M607.1 56.5h0M605.8 61.9h0M609.7 54.2h0M605.7 60.5h0M605.8 59.5h0M606.3 62.6h0M609.6 57.7h0M610.9 60.0h0M611.4 57.1h0M603.2 60.4h0M607.2 53.7h0M601.8 58.3h0M607.4 55.7h0M605.5 58.8h0M603.7 61.4h0M603.2 58.4h0M609.3 62.7h0M607.7 65.3h0M606.4 63.7h0M611.8 62.5h0M606.5 62.9h0M605.9 62.9h0M607.0 62.2h0M607.4 64.8h0M609.3 61.7h0M611.4 62.1h0M611.8 62.9h0M607.3 62.8h0M611.8 63.9h0M609.1 61.0h0M609.1 63.0h0M608.4 62.1h0M606.7 65.5h0M607.2 64.8h0M610.4 64.0h0M609.5 65.0h0M608.4 63.5h0M609.9 64.1h0M608.8 60.6h0M609.1 61.4h0M611.1 65.6h0M609.7 64.2h0M606.0 63.4h0M607.9 66.3h0M607.5 66.2h0M611.8 65.9h0M613.4 68.0h0M612.3 69.9h0M610.6 67.6h0M612.1 70.1h0M611.8 69.3h0M610.5 68.9h0M611.0 67.7h0M612.1 69.7h0M611.2 69.0h0M611.6 69.3h0M611.5 70.2h0M611.0 66.8h0" stroke="#d3d3d3" stroke-width="1.9" stroke-linecap="round" fill="none"/>
<ellipse cx="581.68" cy="65.17" rx="1.49" ry="1.8" fill="#d3d3d3" fill-opacity="1"/>
<ellipse cx="582.11" cy="68.79" rx="1.63" ry="2.04" fill="#d3d3d3" fill-opacity="1"/>
<ellipse cx="583.8" cy="71.88" rx="1.68" ry="1.92" fill="#d3d3d3" fill-opacity="1"/>
<ellipse cx="586.38" cy="73.94" rx="1.68" ry="1.8" fill="#d3d3d3" fill-opacity="1"/>
<ellipse cx="588.93" cy="75.5" rx="1.49" ry="1.6" fill="#d3d3d3" fill-opacity="1"/>
<ellipse cx="590.65" cy="77.02" rx="1.22" ry="1.16" fill="#d3d3d3" fill-opacity="1"/>
<ellipse cx="586.81" cy="70.31" rx="1.36" ry="1.46" fill="#d3d3d3" fill-opacity="1"/>
<path d="M583.0 64.3h0M582.5 66.2h0M580.1 64.9h0M581.1 65.0h0M580.2 65.4h0M581.9 63.7h0M581.8 65.6h0M580.1 65.1h0M582.7 66.2h0M580.6 64.2h0M581.7 65.8h0M582.7 65.3h0M582.6 64.3h0M583.9 68.6h0M581.0 68.0h0M580.4 67.9h0M581.7 69.6h0M583.4 67.6h0M581.2 69.9h0M583.3 69.9h0M582.4 67.1h0M581.6 66.8h0M581.3 70.5h0M583.8 68.4h0M582.8 70.6h0M581.0 67.1h0M581.5 66.5h0M583.0 68.6h0M581.7 68.9h0M584.5 71.8h0M582.4 72.7h0M583.0 72.3h0M582.8 71.9h0M582.1 72.0h0M583.4 73.4h0M582.8 70.6h0M584.4 69.8h0M584.6 71.7h0M583.1 72.0h0M583.4 70.5h0M584.6 70.6h0M583.9 71.5h0M582.8 70.9h0M584.1 71.2h0M587.8 74.9h0M585.8 75.2h0M584.7 75.2h0M585.0 72.5h0M587.4 72.2h0M585.3 74.3h0M584.4 73.7h0M587.4 72.9h0M587.9 72.9h0M588.0 74.4h0M586.5 73.5h0M585.2 75.2h0M584.9 73.9h0M587.3 74.5h0M589.7 74.7h0M587.5 75.7h0M588.7 76.7h0M587.2 75.4h0M589.4 74.8h0M587.4 75.5h0M590.0 74.6h0M587.9 74.3h0M588.1 73.9h0M590.7 75.3h0M590.0 76.7h0M588.2 76.2h0M591.8 77.8h0M591.5 76.4h0M590.0 77.0h0M591.8 76.5h0M591.2 78.0h0M591.4 77.0h0M590.0 77.6h0M590.3 77.4h0M586.2 69.7h0M586.3 69.2h0M587.6 69.0h0M587.2 69.8h0M587.2 68.8h0M586.8 70.4h0M588.0 71.2h0M587.2 70.2h0M586.9 71.4h0M588.0 70.9h0" stroke="#d3d3d3" stroke-width="1.9" stroke-linecap="round" fill="none"/>
<ellipse cx="654.43" cy="63.25" rx="5.02" ry="7.57" fill="#d3d3d3" fill-opacity="1"/>
<path d="M658.0 56.7h0M657.0 71.2h0M655.0 59.7h0M658.0 56.2h0M658.3 57.7h0M656.3 57.1h0M659.5 63.7h0M652.1 63.3h0M658.3 69.7h0M655.6 62.1h0M659.5 64.2h0M653.0 71.6h0M649.4 65.1h0M659.6 65.6h0M655.7 69.0h0M651.0 63.7h0M654.6 69.4h0M656.7 64.4h0M658.3 69.5h0M652.1 71.7h0M656.5 61.1h0M658.2 56.0h0M650.5 65.5h0M652.5 57.5h0M654.0 71.1h0M655.2 68.9h0M657.9 64.0h0M655.2 60.0h0M655.9 68.6h0M654.3 64.0h0M657.0 64.6h0M655.9 55.4h0M656.2 56.0h0M657.5 63.2h0M653.4 57.3h0M658.4 61.7h0M653.6 55.2h0M659.7 61.4h0M652.1 69.8h0M656.1 54.7h0M654.5 71.1h0M654.0 59.6h0M657.8 68.0h0M651.6 60.2h0M652.7 60.8h0M650.4 60.3h0M657.0 56.4h0M658.4 66.5h0M657.5 68.0h0M652.2 56.3h0M658.9 63.6h0M656.4 69.1h0M650.2 63.5h0M654.7 58.2h0M651.4 63.9h0M656.0 70.2h0M657.4 70.2h0M653.0 65.5h0M654.6 61.9h0M653.0 70.4h0M659.5 64.0h0M648.8 59.8h0M652.3 71.0h0M658.7 62.5h0M657.6 65.7h0M654.5 63.2h0M651.5 58.3h0M654.2 57.6h0M656.3 62.0h0M651.5 65.8h0M651.8 61.7h0M651.3 67.3h0M655.3 62.5h0M653.9 66.7h0M653.3 55.3h0M659.8 64.1h0M657.5 59.0h0M649.9 58.6h0M657.0 61.3h0M654.0 60.7h0M650.6 69.9h0M651.3 58.4h0M650.5 65.3h0M658.9 64.6h0M656.4 62.1h0M659.2 64.8h0M656.2 57.8h0M658.7 67.0h0M652.8 59.5h0M656.2 57.0h0M655.1 58.9h0M651.2 69.0h0M651.7 55.8h0M659.3 60.5h0M658.6 63.6h0M651.7 56.2h0M653.8 65.3h0M652.1 61.3h0M651.5 62.8h0M655.2 62.1h0M649.1 60.2h0M653.0 60.5h0M649.1 60.8h0M650.5 56.8h0M655.9 58.0h0M658.1 68.6h0M648.9 64.3h0M649.6 65.9h0M657.7 69.6h0M658.1 57.0h0M655.2 55.8h0M656.1 67.9h0M653.8 68.1h0M651.3 60.4h0M651.3 55.9h0M654.8 63.2h0M650.8 58.8h0M649.7 66.5h0M656.6 60.1h0M652.8 60.5h0M651.0 65.3h0M656.9 55.3h0M657.5 58.4h0M653.2 56.0h0M652.3 62.4h0M653.7 72.2h0M652.7 61.5h0M653.1 65.9h0M657.1 67.3h0M654.2 64.5h0M648.5 63.5h0M650.7 64.6h0M652.1 66.5h0M653.2 66.9h0M649.1 67.0h0M650.6 69.7h0M649.6 63.3h0M650.6 63.9h0M658.0 58.6h0M655.7 68.0h0M650.8 67.6h0M652.2 66.6h0M652.4 71.9h0M654.1 54.7h0M656.3 61.1h0M649.4 61.5h0M650.0 63.8h0M651.2 57.8h0M655.1 65.2h0M654.3 65.0h0M654.0 64.9h0M658.4 67.8h0" stroke="#d3d3d3" stroke-width="1.9" stroke-linecap="round" fill="none"/>
<ellipse cx="646.33" cy="67.87" rx="2.44" ry="3.64" fill="#d3d3d3" fill-opacity="1"/>
<path d="M647.2 71.4h0M643.9 69.8h0M643.7 66.4h0M644.6 69.2h0M648.5 66.3h0M643.8 69.7h0M646.0 64.3h0M649.1 68.6h0M646.6 68.2h0M645.6 69.5h0M646.4 71.0h0M643.9 67.8h0M648.0 65.1h0M647.6 65.7h0M647.8 70.9h0M647.6 67.8h0M644.9 66.1h0M646.9 67.8h0M644.6 68.2h0M644.6 70.7h0M647.9 67.9h0M648.3 67.2h0M648.7 68.2h0M644.7 64.3h0M648.5 65.0h0M646.2 70.4h0M645.7 65.4h0M645.9 68.5h0M646.7 69.4h0M644.6 70.5h0M646.9 70.1h0M648.0 69.3h0M644.4 66.1h0M645.0 65.3h0M645.4 64.1h0M646.4 67.8h0M648.2 66.6h0" stroke="#d3d3d3" stroke-width="1.9" stroke-linecap="round" fill="none"/>
<ellipse cx="638.71" cy="77.27" rx="0.81" ry="0.87" fill="#d3d3d3" fill-opacity="1"/>
<ellipse cx="639.71" cy="76.03" rx="0.95" ry="0.87" fill="#d3d3d3" fill-opacity="1"/>
<ellipse cx="640.86" cy="74.61" rx="0.81" ry="0.87" fill="#d3d3d3" fill-opacity="1"/>
<path d="M639.6 77.2h0M638.5 77.3h0M639.4 77.8h0M638.9 77.3h0M638.5 76.5h0M639.6 75.8h0M640.7 75.8h0M640.6 76.1h0M639.4 76.5h0M638.8 75.3h0M640.7 76.2h0M641.1 74.5h0M641.0 74.5h0M640.8 74.8h0M641.0 75.0h0M640.3 74.3h0" stroke="#d3d3d3" stroke-width="1.9" stroke-linecap="round" fill="none"/>
<ellipse cx="650.96" cy="84.55" rx="4.34" ry="4.37" fill="#d3d3d3" fill-opacity="1"/>
<ellipse cx="651.62" cy="90.58" rx="1.22" ry="1.31" fill="#d3d3d3" fill-opacity="1"/>
<path d="M655.5 83.6h0M652.2 85.2h0M650.1 89.3h0M652.5 79.9h0M654.0 81.2h0M646.4 82.8h0M653.1 80.2h0M653.8 81.9h0M654.5 86.7h0M649.4 79.6h0M650.9 79.5h0M653.5 83.0h0M654.5 82.7h0M647.7 86.0h0M647.6 84.6h0M650.5 81.9h0M647.0 86.2h0M655.4 83.7h0M647.9 83.4h0M648.2 80.2h0M654.2 84.9h0M650.0 89.1h0M650.8 84.3h0M653.7 82.5h0M652.0 85.8h0M653.3 85.7h0M654.8 86.8h0M653.2 87.2h0M649.0 81.6h0M650.0 88.0h0M647.1 85.6h0M648.4 82.9h0M648.9 80.1h0M655.0 83.7h0M650.9 84.7h0M646.2 86.8h0M655.4 84.3h0M651.8 86.8h0M652.9 87.4h0M653.3 83.8h0M652.5 80.9h0M650.6 88.1h0M654.9 86.0h0M653.4 82.8h0M653.8 84.0h0M648.3 88.1h0M651.2 85.5h0M647.3 84.6h0M652.1 86.4h0M652.7 86.1h0M653.5 88.0h0M654.1 81.9h0M651.5 88.5h0M654.0 83.7h0M650.9 84.2h0M651.4 79.6h0M646.1 83.2h0M647.1 81.9h0M647.7 84.8h0M650.4 88.5h0M651.1 83.6h0M650.5 83.7h0M648.2 81.0h0M654.7 82.4h0M648.4 81.0h0M648.9 80.6h0M648.9 80.1h0M647.7 88.6h0M651.4 85.6h0M654.7 85.8h0M652.1 83.1h0M653.8 82.1h0M649.9 82.7h0M654.6 84.4h0M651.2 88.7h0M655.1 85.8h0M651.9 83.0h0M651.6 91.4h0M652.0 91.8h0M652.0 89.6h0M651.1 89.2h0M652.0 89.7h0M652.1 90.2h0M651.8 90.2h0M651.4 91.1h0M651.2 90.4h0" stroke="#d3d3d3" stroke-width="1.9" stroke-linecap="round" fill="none"/>
<circle cx="638.22" cy="68.93" r="1.04" fill="#d3d3d3"/>
<circle cx="639.21" cy="68.58" r="1.04" fill="#d3d3d3"/>
<circle cx="638.71" cy="68.04" r="1.04" fill="#d3d3d3"/>
<circle cx="648.34" cy="94.28" r="1.04" fill="#d3d3d3"/>
<circle cx="630.04" cy="63.11" r="1.04" fill="#d3d3d3"/>
<circle cx="608.03" cy="44.2" r="1.05" fill="#aaa4dc"/>
<circle cx="606.57" cy="45.75" r="1.05" fill="#aaa4dc"/>
<circle cx="605.98" cy="43.86" r="1.05" fill="#aaa4dc"/>
<circle cx="606.74" cy="43.36" r="1.05" fill="#aaa4dc"/>
<circle cx="607.71" cy="44.81" r="1.05" fill="#aaa4dc"/>
<circle cx="609.51" cy="45.55" r="1.05" fill="#aaa4dc"/>
<circle cx="609.32" cy="42.18" r="1.05" fill="#aaa4dc"/>
<circle cx="610.66" cy="44.43" r="1.05" fill="#aaa4dc"/>
<circle cx="606.72" cy="42.29" r="1.05" fill="#aaa4dc"/>
<circle cx="607.06" cy="45.04" r="1.05" fill="#8d85de"/>
<circle cx="607.94" cy="44.86" r="1.05" fill="#8d85de"/>
<circle cx="608.54" cy="44.13" r="1.05" fill="#8d85de"/>
<circle cx="606.83" cy="42.99" r="1.05" fill="#8d85de"/>
<circle cx="606.12" cy="45.36" r="1.05" fill="#8d85de"/>
<circle cx="609.69" cy="46.54" r="1.05" fill="#8d85de"/>
<circle cx="607.99" cy="43.92" r="1.05" fill="#8d85de"/>
<circle cx="605.47" cy="44.79" r="1.05" fill="#8d85de"/>
<circle cx="615.52" cy="44.23" r="1.15" fill="#8d85de"/>
<circle cx="610.41" cy="44.38" r="1.05" fill="#6a60e2"/>
<circle cx="612.05" cy="43.86" r="1.05" fill="#6a60e2"/>
<circle cx="607.82" cy="45.51" r="1.05" fill="#6a60e2"/>
<circle cx="608.52" cy="44.45" r="1.05" fill="#6a60e2"/>
<circle cx="608.51" cy="43.71" r="1.05" fill="#6a60e2"/>
<circle cx="608.17" cy="44.87" r="1.05" fill="#6a60e2"/>
<circle cx="609.46" cy="46.35" r="1.05" fill="#6a60e2"/>
<circle cx="611.08" cy="44.91" r="1.05" fill="#6a60e2"/>
<circle cx="611.69" cy="43.94" r="1.05" fill="#6a60e2"/>
<circle cx="616.18" cy="45.57" r="1.15" fill="#6a60e2"/>
<circle cx="616.15" cy="45.39" r="1.15" fill="#6a60e2"/>
<circle cx="613.49" cy="45.46" r="1.15" fill="#4a3fe6"/>
<circle cx="614.18" cy="45.51" r="1.15" fill="#4a3fe6"/>
<circle cx="614.67" cy="45.77" r="1.15" fill="#3426ec"/>
<circle cx="612.01" cy="45.32" r="1.15" fill="#3426ec"/>
<circle cx="613.22" cy="46.14" r="1.15" fill="#3426ec"/>
<circle cx="612.8" cy="45.54" r="1.15" fill="#3426ec"/>
<circle cx="616.19" cy="47.04" r="1.15" fill="#3426ec"/>
<circle cx="614.01" cy="42.82" r="1.15" fill="#3426ec"/>
<circle cx="614.18" cy="43.95" r="1.15" fill="#3426ec"/>
<circle cx="613.1" cy="45.01" r="1.15" fill="#3426ec"/>
<circle cx="615.39" cy="45.51" r="1.15" fill="#3426ec"/>
<circle cx="616.64" cy="44.76" r="1.15" fill="#2a1ff0"/>
<circle cx="612.46" cy="43.98" r="1.15" fill="#2a1ff0"/>
<circle cx="614.98" cy="45.29" r="1.15" fill="#2a1ff0"/>
<circle cx="617.19" cy="43.87" r="1.15" fill="#2a1ff0"/>
<circle cx="613.99" cy="45.34" r="1.15" fill="#2a1ff0"/>
<circle cx="615.95" cy="46.29" r="1.15" fill="#2a1ff0"/>
<circle cx="616.31" cy="44.64" r="1.15" fill="#2a1ff0"/>
<circle cx="614.44" cy="45.37" r="1.15" fill="#2a1ff0"/>
<circle cx="615.71" cy="46.21" r="1.3" fill="#2a1ff0"/>
<circle cx="614.71" cy="47.28" r="1.2" fill="#2a1ff0"/>
<circle cx="610.08" cy="50.12" r="1" fill="#8a80e0"/>
<circle cx="613.06" cy="59.35" r="1" fill="#7d72e0"/>
<circle cx="584.92" cy="29.88" r="1" fill="#8a80e0"/>
<circle cx="646.82" cy="21.36" r="1" fill="#8a80e0"/>
<defs><linearGradient id="cb22" x1="0" y1="0" x2="0" y2="1"><stop offset="0" stop-color="#1a10f0"/><stop offset="1" stop-color="#d6d6d6"/></linearGradient></defs>
<rect x="656.4" y="6.1" width="7.6" height="38.5" fill="url(#cb22)"/>
<text x="666.9" y="11.75" font-size="7.3" fill="#222">5</text>
<text x="666.9" y="22.36" font-size="7.3" fill="#222">4</text>
<text x="666.9" y="32.55" font-size="7.3" fill="#222">3</text>
<text x="666.9" y="42.85" font-size="7.3" fill="#222">2</text>
<text x="0" y="135.4" font-size="13" fill="#000" font-weight="bold" stroke="#000" stroke-width="0.35">d</text>
<rect x="76.6" y="142.6" width="531.7" height="84" fill="#fff" stroke="#7a7a7a" stroke-width="0.8"/>
<line x1="82.3" y1="142.6" x2="82.3" y2="226.6" stroke="#ececec" stroke-width="0.5"/>
<line x1="82.3" y1="226.6" x2="82.3" y2="229.1" stroke="#4a4a4a" stroke-width="0.6"/>
<line x1="91.43" y1="142.6" x2="91.43" y2="226.6" stroke="#ececec" stroke-width="0.5"/>
<line x1="91.43" y1="226.6" x2="91.43" y2="229.1" stroke="#4a4a4a" stroke-width="0.6"/>
<line x1="100.56" y1="142.6" x2="100.56" y2="226.6" stroke="#ececec" stroke-width="0.5"/>
<line x1="100.56" y1="226.6" x2="100.56" y2="229.1" stroke="#4a4a4a" stroke-width="0.6"/>
<line x1="109.69" y1="142.6" x2="109.69" y2="226.6" stroke="#ececec" stroke-width="0.5"/>
<line x1="109.69" y1="226.6" x2="109.69" y2="229.1" stroke="#4a4a4a" stroke-width="0.6"/>
<line x1="118.82" y1="142.6" x2="118.82" y2="226.6" stroke="#ececec" stroke-width="0.5"/>
<line x1="118.82" y1="226.6" x2="118.82" y2="229.1" stroke="#4a4a4a" stroke-width="0.6"/>
<line x1="127.95" y1="142.6" x2="127.95" y2="226.6" stroke="#ececec" stroke-width="0.5"/>
<line x1="127.95" y1="226.6" x2="127.95" y2="229.1" stroke="#4a4a4a" stroke-width="0.6"/>
<line x1="137.08" y1="142.6" x2="137.08" y2="226.6" stroke="#ececec" stroke-width="0.5"/>
<line x1="137.08" y1="226.6" x2="137.08" y2="229.1" stroke="#4a4a4a" stroke-width="0.6"/>
<line x1="146.21" y1="142.6" x2="146.21" y2="226.6" stroke="#ececec" stroke-width="0.5"/>
<line x1="146.21" y1="226.6" x2="146.21" y2="229.1" stroke="#4a4a4a" stroke-width="0.6"/>
<line x1="155.34" y1="142.6" x2="155.34" y2="226.6" stroke="#ececec" stroke-width="0.5"/>
<line x1="155.34" y1="226.6" x2="155.34" y2="229.1" stroke="#4a4a4a" stroke-width="0.6"/>
<line x1="164.47" y1="142.6" x2="164.47" y2="226.6" stroke="#ececec" stroke-width="0.5"/>
<line x1="164.47" y1="226.6" x2="164.47" y2="229.1" stroke="#4a4a4a" stroke-width="0.6"/>
<line x1="173.6" y1="142.6" x2="173.6" y2="226.6" stroke="#ececec" stroke-width="0.5"/>
<line x1="173.6" y1="226.6" x2="173.6" y2="229.1" stroke="#4a4a4a" stroke-width="0.6"/>
<line x1="182.73" y1="142.6" x2="182.73" y2="226.6" stroke="#ececec" stroke-width="0.5"/>
<line x1="182.73" y1="226.6" x2="182.73" y2="229.1" stroke="#4a4a4a" stroke-width="0.6"/>
<line x1="191.86" y1="142.6" x2="191.86" y2="226.6" stroke="#ececec" stroke-width="0.5"/>
<line x1="191.86" y1="226.6" x2="191.86" y2="229.1" stroke="#4a4a4a" stroke-width="0.6"/>
<line x1="200.99" y1="142.6" x2="200.99" y2="226.6" stroke="#ececec" stroke-width="0.5"/>
<line x1="200.99" y1="226.6" x2="200.99" y2="229.1" stroke="#4a4a4a" stroke-width="0.6"/>
<line x1="210.12" y1="142.6" x2="210.12" y2="226.6" stroke="#ececec" stroke-width="0.5"/>
<line x1="210.12" y1="226.6" x2="210.12" y2="229.1" stroke="#4a4a4a" stroke-width="0.6"/>
<line x1="219.25" y1="142.6" x2="219.25" y2="226.6" stroke="#ececec" stroke-width="0.5"/>
<line x1="219.25" y1="226.6" x2="219.25" y2="229.1" stroke="#4a4a4a" stroke-width="0.6"/>
<line x1="228.38" y1="142.6" x2="228.38" y2="226.6" stroke="#ececec" stroke-width="0.5"/>
<line x1="228.38" y1="226.6" x2="228.38" y2="229.1" stroke="#4a4a4a" stroke-width="0.6"/>
<line x1="237.51" y1="142.6" x2="237.51" y2="226.6" stroke="#ececec" stroke-width="0.5"/>
<line x1="237.51" y1="226.6" x2="237.51" y2="229.1" stroke="#4a4a4a" stroke-width="0.6"/>
<line x1="246.64" y1="142.6" x2="246.64" y2="226.6" stroke="#ececec" stroke-width="0.5"/>
<line x1="246.64" y1="226.6" x2="246.64" y2="229.1" stroke="#4a4a4a" stroke-width="0.6"/>
<line x1="255.77" y1="142.6" x2="255.77" y2="226.6" stroke="#ececec" stroke-width="0.5"/>
<line x1="255.77" y1="226.6" x2="255.77" y2="229.1" stroke="#4a4a4a" stroke-width="0.6"/>
<line x1="264.9" y1="142.6" x2="264.9" y2="226.6" stroke="#ececec" stroke-width="0.5"/>
<line x1="264.9" y1="226.6" x2="264.9" y2="229.1" stroke="#4a4a4a" stroke-width="0.6"/>
<line x1="274.03" y1="142.6" x2="274.03" y2="226.6" stroke="#ececec" stroke-width="0.5"/>
<line x1="274.03" y1="226.6" x2="274.03" y2="229.1" stroke="#4a4a4a" stroke-width="0.6"/>
<line x1="283.16" y1="142.6" x2="283.16" y2="226.6" stroke="#ececec" stroke-width="0.5"/>
<line x1="283.16" y1="226.6" x2="283.16" y2="229.1" stroke="#4a4a4a" stroke-width="0.6"/>
<line x1="292.29" y1="142.6" x2="292.29" y2="226.6" stroke="#ececec" stroke-width="0.5"/>
<line x1="292.29" y1="226.6" x2="292.29" y2="229.1" stroke="#4a4a4a" stroke-width="0.6"/>
<line x1="301.42" y1="142.6" x2="301.42" y2="226.6" stroke="#ececec" stroke-width="0.5"/>
<line x1="301.42" y1="226.6" x2="301.42" y2="229.1" stroke="#4a4a4a" stroke-width="0.6"/>
<line x1="310.55" y1="142.6" x2="310.55" y2="226.6" stroke="#ececec" stroke-width="0.5"/>
<line x1="310.55" y1="226.6" x2="310.55" y2="229.1" stroke="#4a4a4a" stroke-width="0.6"/>
<line x1="319.68" y1="142.6" x2="319.68" y2="226.6" stroke="#ececec" stroke-width="0.5"/>
<line x1="319.68" y1="226.6" x2="319.68" y2="229.1" stroke="#4a4a4a" stroke-width="0.6"/>
<line x1="328.81" y1="142.6" x2="328.81" y2="226.6" stroke="#ececec" stroke-width="0.5"/>
<line x1="328.81" y1="226.6" x2="328.81" y2="229.1" stroke="#4a4a4a" stroke-width="0.6"/>
<line x1="337.94" y1="142.6" x2="337.94" y2="226.6" stroke="#ececec" stroke-width="0.5"/>
<line x1="337.94" y1="226.6" x2="337.94" y2="229.1" stroke="#4a4a4a" stroke-width="0.6"/>
<line x1="347.07" y1="142.6" x2="347.07" y2="226.6" stroke="#ececec" stroke-width="0.5"/>
<line x1="347.07" y1="226.6" x2="347.07" y2="229.1" stroke="#4a4a4a" stroke-width="0.6"/>
<line x1="356.2" y1="142.6" x2="356.2" y2="226.6" stroke="#ececec" stroke-width="0.5"/>
<line x1="356.2" y1="226.6" x2="356.2" y2="229.1" stroke="#4a4a4a" stroke-width="0.6"/>
<line x1="365.33" y1="142.6" x2="365.33" y2="226.6" stroke="#ececec" stroke-width="0.5"/>
<line x1="365.33" y1="226.6" x2="365.33" y2="229.1" stroke="#4a4a4a" stroke-width="0.6"/>
<line x1="374.46" y1="142.6" x2="374.46" y2="226.6" stroke="#ececec" stroke-width="0.5"/>
<line x1="374.46" y1="226.6" x2="374.46" y2="229.1" stroke="#4a4a4a" stroke-width="0.6"/>
<line x1="383.59" y1="142.6" x2="383.59" y2="226.6" stroke="#ececec" stroke-width="0.5"/>
<line x1="383.59" y1="226.6" x2="383.59" y2="229.1" stroke="#4a4a4a" stroke-width="0.6"/>
<line x1="392.72" y1="142.6" x2="392.72" y2="226.6" stroke="#ececec" stroke-width="0.5"/>
<line x1="392.72" y1="226.6" x2="392.72" y2="229.1" stroke="#4a4a4a" stroke-width="0.6"/>
<line x1="401.85" y1="142.6" x2="401.85" y2="226.6" stroke="#ececec" stroke-width="0.5"/>
<line x1="401.85" y1="226.6" x2="401.85" y2="229.1" stroke="#4a4a4a" stroke-width="0.6"/>
<line x1="410.98" y1="142.6" x2="410.98" y2="226.6" stroke="#ececec" stroke-width="0.5"/>
<line x1="410.98" y1="226.6" x2="410.98" y2="229.1" stroke="#4a4a4a" stroke-width="0.6"/>
<line x1="420.11" y1="142.6" x2="420.11" y2="226.6" stroke="#ececec" stroke-width="0.5"/>
<line x1="420.11" y1="226.6" x2="420.11" y2="229.1" stroke="#4a4a4a" stroke-width="0.6"/>
<line x1="429.24" y1="142.6" x2="429.24" y2="226.6" stroke="#ececec" stroke-width="0.5"/>
<line x1="429.24" y1="226.6" x2="429.24" y2="229.1" stroke="#4a4a4a" stroke-width="0.6"/>
<line x1="438.37" y1="142.6" x2="438.37" y2="226.6" stroke="#ececec" stroke-width="0.5"/>
<line x1="438.37" y1="226.6" x2="438.37" y2="229.1" stroke="#4a4a4a" stroke-width="0.6"/>
<line x1="447.5" y1="142.6" x2="447.5" y2="226.6" stroke="#ececec" stroke-width="0.5"/>
<line x1="447.5" y1="226.6" x2="447.5" y2="229.1" stroke="#4a4a4a" stroke-width="0.6"/>
<line x1="456.63" y1="142.6" x2="456.63" y2="226.6" stroke="#ececec" stroke-width="0.5"/>
<line x1="456.63" y1="226.6" x2="456.63" y2="229.1" stroke="#4a4a4a" stroke-width="0.6"/>
<line x1="465.76" y1="142.6" x2="465.76" y2="226.6" stroke="#ececec" stroke-width="0.5"/>
<line x1="465.76" y1="226.6" x2="465.76" y2="229.1" stroke="#4a4a4a" stroke-width="0.6"/>
<line x1="474.89" y1="142.6" x2="474.89" y2="226.6" stroke="#ececec" stroke-width="0.5"/>
<line x1="474.89" y1="226.6" x2="474.89" y2="229.1" stroke="#4a4a4a" stroke-width="0.6"/>
<line x1="484.02" y1="142.6" x2="484.02" y2="226.6" stroke="#ececec" stroke-width="0.5"/>
<line x1="484.02" y1="226.6" x2="484.02" y2="229.1" stroke="#4a4a4a" stroke-width="0.6"/>
<line x1="493.15" y1="142.6" x2="493.15" y2="226.6" stroke="#ececec" stroke-width="0.5"/>
<line x1="493.15" y1="226.6" x2="493.15" y2="229.1" stroke="#4a4a4a" stroke-width="0.6"/>
<line x1="502.28" y1="142.6" x2="502.28" y2="226.6" stroke="#ececec" stroke-width="0.5"/>
<line x1="502.28" y1="226.6" x2="502.28" y2="229.1" stroke="#4a4a4a" stroke-width="0.6"/>
<line x1="511.41" y1="142.6" x2="511.41" y2="226.6" stroke="#ececec" stroke-width="0.5"/>
<line x1="511.41" y1="226.6" x2="511.41" y2="229.1" stroke="#4a4a4a" stroke-width="0.6"/>
<line x1="520.54" y1="142.6" x2="520.54" y2="226.6" stroke="#ececec" stroke-width="0.5"/>
<line x1="520.54" y1="226.6" x2="520.54" y2="229.1" stroke="#4a4a4a" stroke-width="0.6"/>
<line x1="529.67" y1="142.6" x2="529.67" y2="226.6" stroke="#ececec" stroke-width="0.5"/>
<line x1="529.67" y1="226.6" x2="529.67" y2="229.1" stroke="#4a4a4a" stroke-width="0.6"/>
<line x1="538.8" y1="142.6" x2="538.8" y2="226.6" stroke="#ececec" stroke-width="0.5"/>
<line x1="538.8" y1="226.6" x2="538.8" y2="229.1" stroke="#4a4a4a" stroke-width="0.6"/>
<line x1="547.93" y1="142.6" x2="547.93" y2="226.6" stroke="#ececec" stroke-width="0.5"/>
<line x1="547.93" y1="226.6" x2="547.93" y2="229.1" stroke="#4a4a4a" stroke-width="0.6"/>
<line x1="557.06" y1="142.6" x2="557.06" y2="226.6" stroke="#ececec" stroke-width="0.5"/>
<line x1="557.06" y1="226.6" x2="557.06" y2="229.1" stroke="#4a4a4a" stroke-width="0.6"/>
<line x1="566.19" y1="142.6" x2="566.19" y2="226.6" stroke="#ececec" stroke-width="0.5"/>
<line x1="566.19" y1="226.6" x2="566.19" y2="229.1" stroke="#4a4a4a" stroke-width="0.6"/>
<line x1="575.32" y1="142.6" x2="575.32" y2="226.6" stroke="#ececec" stroke-width="0.5"/>
<line x1="575.32" y1="226.6" x2="575.32" y2="229.1" stroke="#4a4a4a" stroke-width="0.6"/>
<line x1="584.45" y1="142.6" x2="584.45" y2="226.6" stroke="#ececec" stroke-width="0.5"/>
<line x1="584.45" y1="226.6" x2="584.45" y2="229.1" stroke="#4a4a4a" stroke-width="0.6"/>
<line x1="593.58" y1="142.6" x2="593.58" y2="226.6" stroke="#ececec" stroke-width="0.5"/>
<line x1="593.58" y1="226.6" x2="593.58" y2="229.1" stroke="#4a4a4a" stroke-width="0.6"/>
<line x1="602.71" y1="142.6" x2="602.71" y2="226.6" stroke="#ececec" stroke-width="0.5"/>
<line x1="602.71" y1="226.6" x2="602.71" y2="229.1" stroke="#4a4a4a" stroke-width="0.6"/>
<line x1="76.6" y1="148.2" x2="608.3" y2="148.2" stroke="#ececec" stroke-width="0.5"/>
<line x1="74.3" y1="148.2" x2="76.6" y2="148.2" stroke="#4a4a4a" stroke-width="0.6"/>
<line x1="76.6" y1="157.4" x2="608.3" y2="157.4" stroke="#ececec" stroke-width="0.5"/>
<line x1="74.3" y1="157.4" x2="76.6" y2="157.4" stroke="#4a4a4a" stroke-width="0.6"/>
<line x1="76.6" y1="166.6" x2="608.3" y2="166.6" stroke="#ececec" stroke-width="0.5"/>
<line x1="74.3" y1="166.6" x2="76.6" y2="166.6" stroke="#4a4a4a" stroke-width="0.6"/>
<line x1="76.6" y1="175.8" x2="608.3" y2="175.8" stroke="#ececec" stroke-width="0.5"/>
<line x1="74.3" y1="175.8" x2="76.6" y2="175.8" stroke="#4a4a4a" stroke-width="0.6"/>
<line x1="76.6" y1="185" x2="608.3" y2="185" stroke="#ececec" stroke-width="0.5"/>
<line x1="74.3" y1="185" x2="76.6" y2="185" stroke="#4a4a4a" stroke-width="0.6"/>
<line x1="76.6" y1="194.2" x2="608.3" y2="194.2" stroke="#ececec" stroke-width="0.5"/>
<line x1="74.3" y1="194.2" x2="76.6" y2="194.2" stroke="#4a4a4a" stroke-width="0.6"/>
<line x1="76.6" y1="203.4" x2="608.3" y2="203.4" stroke="#ececec" stroke-width="0.5"/>
<line x1="74.3" y1="203.4" x2="76.6" y2="203.4" stroke="#4a4a4a" stroke-width="0.6"/>
<line x1="76.6" y1="212.6" x2="608.3" y2="212.6" stroke="#ececec" stroke-width="0.5"/>
<line x1="74.3" y1="212.6" x2="76.6" y2="212.6" stroke="#4a4a4a" stroke-width="0.6"/>
<line x1="76.6" y1="221.8" x2="608.3" y2="221.8" stroke="#ececec" stroke-width="0.5"/>
<line x1="74.3" y1="221.8" x2="76.6" y2="221.8" stroke="#4a4a4a" stroke-width="0.6"/>
<circle cx="82.3" cy="148.2" r="3.5" fill="#f7927c" stroke="#3a3a3a" stroke-width="0.45"/>
<circle cx="91.43" cy="148.2" r="0.95" fill="#8a7ad8" stroke="#555" stroke-width="0.35"/>
<circle cx="100.56" cy="148.2" r="2.05" fill="#dccff9" stroke="#3a3a3a" stroke-width="0.45"/>
<circle cx="109.69" cy="148.2" r="0.95" fill="#8a7ad8" stroke="#555" stroke-width="0.35"/>
<circle cx="118.82" cy="148.2" r="3.5" fill="#fe1a12" stroke="#3a3a3a" stroke-width="0.45"/>
<circle cx="127.95" cy="148.2" r="2.05" fill="#fcf6f8" stroke="#3a3a3a" stroke-width="0.45"/>
<circle cx="137.08" cy="148.2" r="2.05" fill="#f2503e" stroke="#3a3a3a" stroke-width="0.45"/>
<circle cx="146.21" cy="148.2" r="2.05" fill="#f2503e" stroke="#3a3a3a" stroke-width="0.45"/>
<circle cx="155.34" cy="148.2" r="1.45" fill="#fcf6f8" stroke="#3a3a3a" stroke-width="0.45"/>
<circle cx="164.47" cy="148.2" r="1.45" fill="#a88ef4" stroke="#3a3a3a" stroke-width="0.45"/>
<circle cx="173.6" cy="148.2" r="1.45" fill="#f7927c" stroke="#3a3a3a" stroke-width="0.45"/>
<circle cx="182.73" cy="148.2" r="1.45" fill="#fcd3c9" stroke="#3a3a3a" stroke-width="0.45"/>
<circle cx="191.86" cy="148.2" r="3.5" fill="#fe1a12" stroke="#3a3a3a" stroke-width="0.45"/>
<circle cx="200.99" cy="148.2" r="2.75" fill="#fcd3c9" stroke="#3a3a3a" stroke-width="0.45"/>
<circle cx="210.12" cy="148.2" r="2.05" fill="#dccff9" stroke="#3a3a3a" stroke-width="0.45"/>
<circle cx="219.25" cy="148.2" r="2.75" fill="#f7927c" stroke="#3a3a3a" stroke-width="0.45"/>
<circle cx="228.38" cy="148.2" r="2.05" fill="#f7927c" stroke="#3a3a3a" stroke-width="0.45"/>
<circle cx="237.51" cy="148.2" r="3.5" fill="#f2503e" stroke="#3a3a3a" stroke-width="0.45"/>
<circle cx="246.64" cy="148.2" r="2.75" fill="#fcd3c9" stroke="#3a3a3a" stroke-width="0.45"/>
<circle cx="255.77" cy="148.2" r="0.95" fill="#8a7ad8" stroke="#555" stroke-width="0.35"/>
<circle cx="264.9" cy="148.2" r="3.5" fill="#f2503e" stroke="#3a3a3a" stroke-width="0.45"/>
<circle cx="274.03" cy="148.2" r="3.5" fill="#f7927c" stroke="#3a3a3a" stroke-width="0.45"/>
<circle cx="283.16" cy="148.2" r="3.5" fill="#fe1a12" stroke="#3a3a3a" stroke-width="0.45"/>
<circle cx="292.29" cy="148.2" r="2.05" fill="#f2503e" stroke="#3a3a3a" stroke-width="0.45"/>
<circle cx="301.42" cy="148.2" r="3.5" fill="#fe1a12" stroke="#3a3a3a" stroke-width="0.45"/>
<circle cx="310.55" cy="148.2" r="2.05" fill="#dccff9" stroke="#3a3a3a" stroke-width="0.45"/>
<circle cx="319.68" cy="148.2" r="0.95" fill="#8a7ad8" stroke="#555" stroke-width="0.35"/>
<circle cx="328.81" cy="148.2" r="3.5" fill="#fe1a12" stroke="#3a3a3a" stroke-width="0.45"/>
<circle cx="337.94" cy="148.2" r="2.05" fill="#f7927c" stroke="#3a3a3a" stroke-width="0.45"/>
<circle cx="347.07" cy="148.2" r="2.05" fill="#dccff9" stroke="#3a3a3a" stroke-width="0.45"/>
<circle cx="356.2" cy="148.2" r="2.05" fill="#fcf6f8" stroke="#3a3a3a" stroke-width="0.45"/>
<circle cx="365.33" cy="148.2" r="2.75" fill="#dccff9" stroke="#3a3a3a" stroke-width="0.45"/>
<circle cx="374.46" cy="148.2" r="2.05" fill="#dccff9" stroke="#3a3a3a" stroke-width="0.45"/>
<circle cx="383.59" cy="148.2" r="2.05" fill="#fcd3c9" stroke="#3a3a3a" stroke-width="0.45"/>
<circle cx="392.72" cy="148.2" r="2.75" fill="#dccff9" stroke="#3a3a3a" stroke-width="0.45"/>
<circle cx="401.85" cy="148.2" r="0.95" fill="#8a7ad8" stroke="#555" stroke-width="0.35"/>
<circle cx="410.98" cy="148.2" r="1.45" fill="#dccff9" stroke="#3a3a3a" stroke-width="0.45"/>
<circle cx="420.11" cy="148.2" r="0.95" fill="#8a7ad8" stroke="#555" stroke-width="0.35"/>
<circle cx="429.24" cy="148.2" r="0.95" fill="#8a7ad8" stroke="#555" stroke-width="0.35"/>
<circle cx="438.37" cy="148.2" r="1.45" fill="#fcf6f8" stroke="#3a3a3a" stroke-width="0.45"/>
<circle cx="447.5" cy="148.2" r="2.75" fill="#fe1a12" stroke="#3a3a3a" stroke-width="0.45"/>
<circle cx="456.63" cy="148.2" r="0.95" fill="#8a7ad8" stroke="#555" stroke-width="0.35"/>
<circle cx="465.76" cy="148.2" r="0.95" fill="#8a7ad8" stroke="#555" stroke-width="0.35"/>
<circle cx="474.89" cy="148.2" r="1.45" fill="#fcd3c9" stroke="#3a3a3a" stroke-width="0.45"/>
<circle cx="484.02" cy="148.2" r="0.95" fill="#8a7ad8" stroke="#555" stroke-width="0.35"/>
<circle cx="493.15" cy="148.2" r="0.95" fill="#8a7ad8" stroke="#555" stroke-width="0.35"/>
<circle cx="502.28" cy="148.2" r="0.95" fill="#8a7ad8" stroke="#555" stroke-width="0.35"/>
<circle cx="511.41" cy="148.2" r="1.45" fill="#dccff9" stroke="#3a3a3a" stroke-width="0.45"/>
<circle cx="520.54" cy="148.2" r="0.95" fill="#8a7ad8" stroke="#555" stroke-width="0.35"/>
<circle cx="529.67" cy="148.2" r="0.95" fill="#8a7ad8" stroke="#555" stroke-width="0.35"/>
<circle cx="538.8" cy="148.2" r="2.05" fill="#dccff9" stroke="#3a3a3a" stroke-width="0.45"/>
<circle cx="547.93" cy="148.2" r="1.45" fill="#dccff9" stroke="#3a3a3a" stroke-width="0.45"/>
<circle cx="557.06" cy="148.2" r="1.45" fill="#fcd3c9" stroke="#3a3a3a" stroke-width="0.45"/>
<circle cx="566.19" cy="148.2" r="0.95" fill="#8a7ad8" stroke="#555" stroke-width="0.35"/>
<circle cx="575.32" cy="148.2" r="2.75" fill="#fcd3c9" stroke="#3a3a3a" stroke-width="0.45"/>
<circle cx="584.45" cy="148.2" r="1.45" fill="#dccff9" stroke="#3a3a3a" stroke-width="0.45"/>
<circle cx="593.58" cy="148.2" r="2.75" fill="#dccff9" stroke="#3a3a3a" stroke-width="0.45"/>
<circle cx="602.71" cy="148.2" r="1.45" fill="#dccff9" stroke="#3a3a3a" stroke-width="0.45"/>
<circle cx="82.3" cy="157.4" r="2.75" fill="#f2503e" stroke="#3a3a3a" stroke-width="0.45"/>
<circle cx="91.43" cy="157.4" r="3.5" fill="#fe1a12" stroke="#3a3a3a" stroke-width="0.45"/>
<circle cx="100.56" cy="157.4" r="3.5" fill="#fe1a12" stroke="#3a3a3a" stroke-width="0.45"/>
<circle cx="109.69" cy="157.4" r="2.05" fill="#fcd3c9" stroke="#3a3a3a" stroke-width="0.45"/>
<circle cx="118.82" cy="157.4" r="1.45" fill="#a88ef4" stroke="#3a3a3a" stroke-width="0.45"/>
<circle cx="127.95" cy="157.4" r="2.75" fill="#fcd3c9" stroke="#3a3a3a" stroke-width="0.45"/>
<circle cx="137.08" cy="157.4" r="1.45" fill="#f7927c" stroke="#3a3a3a" stroke-width="0.45"/>
<circle cx="146.21" cy="157.4" r="1.45" fill="#f2503e" stroke="#3a3a3a" stroke-width="0.45"/>
<circle cx="155.34" cy="157.4" r="1.45" fill="#fe1a12" stroke="#3a3a3a" stroke-width="0.45"/>
<circle cx="164.47" cy="157.4" r="1.45" fill="#a88ef4" stroke="#3a3a3a" stroke-width="0.45"/>
<circle cx="173.6" cy="157.4" r="1.45" fill="#fcd3c9" stroke="#3a3a3a" stroke-width="0.45"/>
<circle cx="182.73" cy="157.4" r="1.45" fill="#f7927c" stroke="#3a3a3a" stroke-width="0.45"/>
<circle cx="191.86" cy="157.4" r="2.75" fill="#fcd3c9" stroke="#3a3a3a" stroke-width="0.45"/>
<circle cx="200.99" cy="157.4" r="2.05" fill="#f7927c" stroke="#3a3a3a" stroke-width="0.45"/>
<circle cx="210.12" cy="157.4" r="2.05" fill="#f7927c" stroke="#3a3a3a" stroke-width="0.45"/>
<circle cx="219.25" cy="157.4" r="2.05" fill="#f7927c" stroke="#3a3a3a" stroke-width="0.45"/>
<circle cx="228.38" cy="157.4" r="2.05" fill="#f2503e" stroke="#3a3a3a" stroke-width="0.45"/>
<circle cx="237.51" cy="157.4" r="2.05" fill="#f7927c" stroke="#3a3a3a" stroke-width="0.45"/>
<circle cx="246.64" cy="157.4" r="2.75" fill="#fe1a12" stroke="#3a3a3a" stroke-width="0.45"/>
<circle cx="255.77" cy="157.4" r="1.45" fill="#a88ef4" stroke="#3a3a3a" stroke-width="0.45"/>
<circle cx="264.9" cy="157.4" r="2.75" fill="#f7927c" stroke="#3a3a3a" stroke-width="0.45"/>
<circle cx="274.03" cy="157.4" r="2.75" fill="#fcf6f8" stroke="#3a3a3a" stroke-width="0.45"/>
<circle cx="283.16" cy="157.4" r="2.05" fill="#fcf6f8" stroke="#3a3a3a" stroke-width="0.45"/>
<circle cx="292.29" cy="157.4" r="1.45" fill="#dccff9" stroke="#3a3a3a" stroke-width="0.45"/>
<circle cx="301.42" cy="157.4" r="2.05" fill="#dccff9" stroke="#3a3a3a" stroke-width="0.45"/>
<circle cx="310.55" cy="157.4" r="2.05" fill="#dccff9" stroke="#3a3a3a" stroke-width="0.45"/>
<circle cx="319.68" cy="157.4" r="0.95" fill="#8a7ad8" stroke="#555" stroke-width="0.35"/>
<circle cx="328.81" cy="157.4" r="2.75" fill="#fcf6f8" stroke="#3a3a3a" stroke-width="0.45"/>
<circle cx="337.94" cy="157.4" r="1.45" fill="#f2503e" stroke="#3a3a3a" stroke-width="0.45"/>
<circle cx="347.07" cy="157.4" r="2.75" fill="#fcf6f8" stroke="#3a3a3a" stroke-width="0.45"/>
<circle cx="356.2" cy="157.4" r="2.75" fill="#fe1a12" stroke="#3a3a3a" stroke-width="0.45"/>
<circle cx="365.33" cy="157.4" r="2.75" fill="#fcd3c9" stroke="#3a3a3a" stroke-width="0.45"/>
<circle cx="374.46" cy="157.4" r="3.5" fill="#fe1a12" stroke="#3a3a3a" stroke-width="0.45"/>
<circle cx="383.59" cy="157.4" r="2.05" fill="#f2503e" stroke="#3a3a3a" stroke-width="0.45"/>
<circle cx="392.72" cy="157.4" r="2.75" fill="#f2503e" stroke="#3a3a3a" stroke-width="0.45"/>
<circle cx="401.85" cy="157.4" r="0.95" fill="#8a7ad8" stroke="#555" stroke-width="0.35"/>
<circle cx="410.98" cy="157.4" r="1.45" fill="#dccff9" stroke="#3a3a3a" stroke-width="0.45"/>
<circle cx="420.11" cy="157.4" r="1.45" fill="#fe1a12" stroke="#3a3a3a" stroke-width="0.45"/>
<circle cx="429.24" cy="157.4" r="0.95" fill="#8a7ad8" stroke="#555" stroke-width="0.35"/>
<circle cx="438.37" cy="157.4" r="1.45" fill="#fcf6f8" stroke="#3a3a3a" stroke-width="0.45"/>
<circle cx="447.5" cy="157.4" r="2.05" fill="#fcf6f8" stroke="#3a3a3a" stroke-width="0.45"/>
<circle cx="456.63" cy="157.4" r="0.95" fill="#8a7ad8" stroke="#555" stroke-width="0.35"/>
<circle cx="465.76" cy="157.4" r="0.95" fill="#8a7ad8" stroke="#555" stroke-width="0.35"/>
<circle cx="474.89" cy="157.4" r="0.95" fill="#8a7ad8" stroke="#555" stroke-width="0.35"/>
<circle cx="484.02" cy="157.4" r="1.45" fill="#dccff9" stroke="#3a3a3a" stroke-width="0.45"/>
<circle cx="493.15" cy="157.4" r="1.45" fill="#fe1a12" stroke="#3a3a3a" stroke-width="0.45"/>
<circle cx="502.28" cy="157.4" r="1.45" fill="#f7927c" stroke="#3a3a3a" stroke-width="0.45"/>
<circle cx="511.41" cy="157.4" r="1.45" fill="#dccff9" stroke="#3a3a3a" stroke-width="0.45"/>
<circle cx="520.54" cy="157.4" r="1.45" fill="#fe1a12" stroke="#3a3a3a" stroke-width="0.45"/>
<circle cx="529.67" cy="157.4" r="1.45" fill="#fe1a12" stroke="#3a3a3a" stroke-width="0.45"/>
<circle cx="538.8" cy="157.4" r="2.75" fill="#f2503e" stroke="#3a3a3a" stroke-width="0.45"/>
<circle cx="547.93" cy="157.4" r="1.45" fill="#dccff9" stroke="#3a3a3a" stroke-width="0.45"/>
<circle cx="557.06" cy="157.4" r="1.45" fill="#f2503e" stroke="#3a3a3a" stroke-width="0.45"/>
<circle cx="566.19" cy="157.4" r="2.05" fill="#fcf6f8" stroke="#3a3a3a" stroke-width="0.45"/>
<circle cx="575.32" cy="157.4" r="2.75" fill="#fcd3c9" stroke="#3a3a3a" stroke-width="0.45"/>
<circle cx="584.45" cy="157.4" r="2.75" fill="#fe1a12" stroke="#3a3a3a" stroke-width="0.45"/>
<circle cx="593.58" cy="157.4" r="3.5" fill="#f7927c" stroke="#3a3a3a" stroke-width="0.45"/>
<circle cx="602.71" cy="157.4" r="1.45" fill="#fcf6f8" stroke="#3a3a3a" stroke-width="0.45"/>
<circle cx="82.3" cy="166.6" r="2.05" fill="#fcf6f8" stroke="#3a3a3a" stroke-width="0.45"/>
<circle cx="91.43" cy="166.6" r="1.45" fill="#dccff9" stroke="#3a3a3a" stroke-width="0.45"/>
<circle cx="100.56" cy="166.6" r="1.45" fill="#dccff9" stroke="#3a3a3a" stroke-width="0.45"/>
<circle cx="109.69" cy="166.6" r="1.45" fill="#dccff9" stroke="#3a3a3a" stroke-width="0.45"/>
<circle cx="118.82" cy="166.6" r="0.95" fill="#8a7ad8" stroke="#555" stroke-width="0.35"/>
<circle cx="127.95" cy="166.6" r="2.05" fill="#dccff9" stroke="#3a3a3a" stroke-width="0.45"/>
<circle cx="137.08" cy="166.6" r="1.45" fill="#a88ef4" stroke="#3a3a3a" stroke-width="0.45"/>
<circle cx="146.21" cy="166.6" r="1.45" fill="#a88ef4" stroke="#3a3a3a" stroke-width="0.45"/>
<circle cx="155.34" cy="166.6" r="1.45" fill="#dccff9" stroke="#3a3a3a" stroke-width="0.45"/>
<circle cx="164.47" cy="166.6" r="2.75" fill="#f7927c" stroke="#3a3a3a" stroke-width="0.45"/>
<circle cx="173.6" cy="166.6" r="1.45" fill="#fcd3c9" stroke="#3a3a3a" stroke-width="0.45"/>
<circle cx="182.73" cy="166.6" r="1.45" fill="#a88ef4" stroke="#3a3a3a" stroke-width="0.45"/>
<circle cx="191.86" cy="166.6" r="1.45" fill="#dccff9" stroke="#3a3a3a" stroke-width="0.45"/>
<circle cx="200.99" cy="166.6" r="2.75" fill="#fcd3c9" stroke="#3a3a3a" stroke-width="0.45"/>
<circle cx="210.12" cy="166.6" r="2.05" fill="#fcf6f8" stroke="#3a3a3a" stroke-width="0.45"/>
<circle cx="219.25" cy="166.6" r="2.05" fill="#f7927c" stroke="#3a3a3a" stroke-width="0.45"/>
<circle cx="228.38" cy="166.6" r="1.45" fill="#dccff9" stroke="#3a3a3a" stroke-width="0.45"/>
<circle cx="237.51" cy="166.6" r="1.45" fill="#dccff9" stroke="#3a3a3a" stroke-width="0.45"/>
<circle cx="246.64" cy="166.6" r="1.45" fill="#dccff9" stroke="#3a3a3a" stroke-width="0.45"/>
<circle cx="255.77" cy="166.6" r="2.75" fill="#f7927c" stroke="#3a3a3a" stroke-width="0.45"/>
<circle cx="264.9" cy="166.6" r="1.45" fill="#dccff9" stroke="#3a3a3a" stroke-width="0.45"/>
<circle cx="274.03" cy="166.6" r="2.75" fill="#dccff9" stroke="#3a3a3a" stroke-width="0.45"/>
<circle cx="283.16" cy="166.6" r="1.45" fill="#dccff9" stroke="#3a3a3a" stroke-width="0.45"/>
<circle cx="292.29" cy="166.6" r="1.45" fill="#dccff9" stroke="#3a3a3a" stroke-width="0.45"/>
<circle cx="301.42" cy="166.6" r="1.45" fill="#dccff9" stroke="#3a3a3a" stroke-width="0.45"/>
<circle cx="310.55" cy="166.6" r="2.75" fill="#f2503e" stroke="#3a3a3a" stroke-width="0.45"/>
<circle cx="319.68" cy="166.6" r="0.95" fill="#8a7ad8" stroke="#555" stroke-width="0.35"/>
<circle cx="328.81" cy="166.6" r="2.75" fill="#dccff9" stroke="#3a3a3a" stroke-width="0.45"/>
<circle cx="337.94" cy="166.6" r="1.45" fill="#dccff9" stroke="#3a3a3a" stroke-width="0.45"/>
<circle cx="347.07" cy="166.6" r="1.45" fill="#dccff9" stroke="#3a3a3a" stroke-width="0.45"/>
<circle cx="356.2" cy="166.6" r="1.45" fill="#dccff9" stroke="#3a3a3a" stroke-width="0.45"/>
<circle cx="365.33" cy="166.6" r="2.75" fill="#fcd3c9" stroke="#3a3a3a" stroke-width="0.45"/>
<circle cx="374.46" cy="166.6" r="1.45" fill="#dccff9" stroke="#3a3a3a" stroke-width="0.45"/>
<circle cx="383.59" cy="166.6" r="1.45" fill="#fcf6f8" stroke="#3a3a3a" stroke-width="0.45"/>
<circle cx="392.72" cy="166.6" r="2.75" fill="#fcd3c9" stroke="#3a3a3a" stroke-width="0.45"/>
<circle cx="401.85" cy="166.6" r="0.95" fill="#8a7ad8" stroke="#555" stroke-width="0.35"/>
<circle cx="410.98" cy="166.6" r="2.75" fill="#f7927c" stroke="#3a3a3a" stroke-width="0.45"/>
<circle cx="420.11" cy="166.6" r="0.95" fill="#8a7ad8" stroke="#555" stroke-width="0.35"/>
<circle cx="429.24" cy="166.6" r="0.95" fill="#8a7ad8" stroke="#555" stroke-width="0.35"/>
<circle cx="438.37" cy="166.6" r="1.45" fill="#dccff9" stroke="#3a3a3a" stroke-width="0.45"/>
<circle cx="447.5" cy="166.6" r="0.95" fill="#8a7ad8" stroke="#555" stroke-width="0.35"/>
<circle cx="456.63" cy="166.6" r="1.45" fill="#fcd3c9" stroke="#3a3a3a" stroke-width="0.45"/>
<circle cx="465.76" cy="166.6" r="0.95" fill="#8a7ad8" stroke="#555" stroke-width="0.35"/>
<circle cx="474.89" cy="166.6" r="0.95" fill="#8a7ad8" stroke="#555" stroke-width="0.35"/>
<circle cx="484.02" cy="166.6" r="1.45" fill="#dccff9" stroke="#3a3a3a" stroke-width="0.45"/>
<circle cx="493.15" cy="166.6" r="0.95" fill="#8a7ad8" stroke="#555" stroke-width="0.35"/>
<circle cx="502.28" cy="166.6" r="0.95" fill="#8a7ad8" stroke="#555" stroke-width="0.35"/>
<circle cx="511.41" cy="166.6" r="2.05" fill="#fcd3c9" stroke="#3a3a3a" stroke-width="0.45"/>
<circle cx="520.54" cy="166.6" r="0.95" fill="#8a7ad8" stroke="#555" stroke-width="0.35"/>
<circle cx="529.67" cy="166.6" r="1.45" fill="#dccff9" stroke="#3a3a3a" stroke-width="0.45"/>
<circle cx="538.8" cy="166.6" r="1.45" fill="#dccff9" stroke="#3a3a3a" stroke-width="0.45"/>
<circle cx="547.93" cy="166.6" r="1.45" fill="#fcf6f8" stroke="#3a3a3a" stroke-width="0.45"/>
<circle cx="557.06" cy="166.6" r="1.45" fill="#dccff9" stroke="#3a3a3a" stroke-width="0.45"/>
<circle cx="566.19" cy="166.6" r="1.45" fill="#dccff9" stroke="#3a3a3a" stroke-width="0.45"/>
<circle cx="575.32" cy="166.6" r="1.45" fill="#dccff9" stroke="#3a3a3a" stroke-width="0.45"/>
<circle cx="584.45" cy="166.6" r="1.45" fill="#dccff9" stroke="#3a3a3a" stroke-width="0.45"/>
<circle cx="593.58" cy="166.6" r="1.45" fill="#dccff9" stroke="#3a3a3a" stroke-width="0.45"/>
<circle cx="602.71" cy="166.6" r="0.95" fill="#8a7ad8" stroke="#555" stroke-width="0.35"/>
<circle cx="82.3" cy="175.8" r="1.45" fill="#a88ef4" stroke="#3a3a3a" stroke-width="0.45"/>
<circle cx="91.43" cy="175.8" r="1.45" fill="#dccff9" stroke="#3a3a3a" stroke-width="0.45"/>
<circle cx="100.56" cy="175.8" r="1.45" fill="#dccff9" stroke="#3a3a3a" stroke-width="0.45"/>
<circle cx="109.69" cy="175.8" r="3.5" fill="#fe1a12" stroke="#3a3a3a" stroke-width="0.45"/>
<circle cx="118.82" cy="175.8" r="0.95" fill="#8a7ad8" stroke="#555" stroke-width="0.35"/>
<circle cx="127.95" cy="175.8" r="3.5" fill="#fe1a12" stroke="#3a3a3a" stroke-width="0.45"/>
<circle cx="137.08" cy="175.8" r="2.05" fill="#f7927c" stroke="#3a3a3a" stroke-width="0.45"/>
<circle cx="146.21" cy="175.8" r="1.45" fill="#fcf6f8" stroke="#3a3a3a" stroke-width="0.45"/>
<circle cx="155.34" cy="175.8" r="1.45" fill="#dccff9" stroke="#3a3a3a" stroke-width="0.45"/>
<circle cx="164.47" cy="175.8" r="2.05" fill="#fcd3c9" stroke="#3a3a3a" stroke-width="0.45"/>
<circle cx="173.6" cy="175.8" r="1.45" fill="#a88ef4" stroke="#3a3a3a" stroke-width="0.45"/>
<circle cx="182.73" cy="175.8" r="0.95" fill="#8a7ad8" stroke="#555" stroke-width="0.35"/>
<circle cx="191.86" cy="175.8" r="2.05" fill="#dccff9" stroke="#3a3a3a" stroke-width="0.45"/>
<circle cx="200.99" cy="175.8" r="2.05" fill="#fcf6f8" stroke="#3a3a3a" stroke-width="0.45"/>
<circle cx="210.12" cy="175.8" r="1.45" fill="#a88ef4" stroke="#3a3a3a" stroke-width="0.45"/>
<circle cx="219.25" cy="175.8" r="2.05" fill="#dccff9" stroke="#3a3a3a" stroke-width="0.45"/>
<circle cx="228.38" cy="175.8" r="1.45" fill="#dccff9" stroke="#3a3a3a" stroke-width="0.45"/>
<circle cx="237.51" cy="175.8" r="2.75" fill="#f7927c" stroke="#3a3a3a" stroke-width="0.45"/>
<circle cx="246.64" cy="175.8" r="2.75" fill="#fcd3c9" stroke="#3a3a3a" stroke-width="0.45"/>
<circle cx="255.77" cy="175.8" r="0.95" fill="#8a7ad8" stroke="#555" stroke-width="0.35"/>
<circle cx="264.9" cy="175.8" r="2.05" fill="#dccff9" stroke="#3a3a3a" stroke-width="0.45"/>
<circle cx="274.03" cy="175.8" r="3.5" fill="#fcf6f8" stroke="#3a3a3a" stroke-width="0.45"/>
<circle cx="283.16" cy="175.8" r="1.45" fill="#dccff9" stroke="#3a3a3a" stroke-width="0.45"/>
<circle cx="292.29" cy="175.8" r="1.45" fill="#dccff9" stroke="#3a3a3a" stroke-width="0.45"/>
<circle cx="301.42" cy="175.8" r="2.75" fill="#f7927c" stroke="#3a3a3a" stroke-width="0.45"/>
<circle cx="310.55" cy="175.8" r="1.45" fill="#dccff9" stroke="#3a3a3a" stroke-width="0.45"/>
<circle cx="319.68" cy="175.8" r="0.95" fill="#8a7ad8" stroke="#555" stroke-width="0.35"/>
<circle cx="328.81" cy="175.8" r="3.5" fill="#fcd3c9" stroke="#3a3a3a" stroke-width="0.45"/>
<circle cx="337.94" cy="175.8" r="1.45" fill="#dccff9" stroke="#3a3a3a" stroke-width="0.45"/>
<circle cx="347.07" cy="175.8" r="2.05" fill="#dccff9" stroke="#3a3a3a" stroke-width="0.45"/>
<circle cx="356.2" cy="175.8" r="2.05" fill="#fcf6f8" stroke="#3a3a3a" stroke-width="0.45"/>
<circle cx="365.33" cy="175.8" r="3.5" fill="#f7927c" stroke="#3a3a3a" stroke-width="0.45"/>
<circle cx="374.46" cy="175.8" r="3.5" fill="#f7927c" stroke="#3a3a3a" stroke-width="0.45"/>
<circle cx="383.59" cy="175.8" r="2.05" fill="#f7927c" stroke="#3a3a3a" stroke-width="0.45"/>
<circle cx="392.72" cy="175.8" r="2.75" fill="#f7927c" stroke="#3a3a3a" stroke-width="0.45"/>
<circle cx="401.85" cy="175.8" r="0.95" fill="#8a7ad8" stroke="#555" stroke-width="0.35"/>
<circle cx="410.98" cy="175.8" r="1.45" fill="#dccff9" stroke="#3a3a3a" stroke-width="0.45"/>
<circle cx="420.11" cy="175.8" r="0.95" fill="#8a7ad8" stroke="#555" stroke-width="0.35"/>
<circle cx="429.24" cy="175.8" r="0.95" fill="#8a7ad8" stroke="#555" stroke-width="0.35"/>
<circle cx="438.37" cy="175.8" r="1.45" fill="#dccff9" stroke="#3a3a3a" stroke-width="0.45"/>
<circle cx="447.5" cy="175.8" r="0.95" fill="#8a7ad8" stroke="#555" stroke-width="0.35"/>
<circle cx="456.63" cy="175.8" r="0.95" fill="#8a7ad8" stroke="#555" stroke-width="0.35"/>
<circle cx="465.76" cy="175.8" r="0.95" fill="#8a7ad8" stroke="#555" stroke-width="0.35"/>
<circle cx="474.89" cy="175.8" r="0.95" fill="#8a7ad8" stroke="#555" stroke-width="0.35"/>
<circle cx="484.02" cy="175.8" r="1.45" fill="#dccff9" stroke="#3a3a3a" stroke-width="0.45"/>
<circle cx="493.15" cy="175.8" r="0.95" fill="#8a7ad8" stroke="#555" stroke-width="0.35"/>
<circle cx="502.28" cy="175.8" r="0.95" fill="#8a7ad8" stroke="#555" stroke-width="0.35"/>
<circle cx="511.41" cy="175.8" r="0.95" fill="#8a7ad8" stroke="#555" stroke-width="0.35"/>
<circle cx="520.54" cy="175.8" r="0.95" fill="#8a7ad8" stroke="#555" stroke-width="0.35"/>
<circle cx="529.67" cy="175.8" r="0.95" fill="#8a7ad8" stroke="#555" stroke-width="0.35"/>
<circle cx="538.8" cy="175.8" r="2.75" fill="#f2503e" stroke="#3a3a3a" stroke-width="0.45"/>
<circle cx="547.93" cy="175.8" r="1.45" fill="#dccff9" stroke="#3a3a3a" stroke-width="0.45"/>
<circle cx="557.06" cy="175.8" r="1.45" fill="#fcd3c9" stroke="#3a3a3a" stroke-width="0.45"/>
<circle cx="566.19" cy="175.8" r="3.5" fill="#fe1a12" stroke="#3a3a3a" stroke-width="0.45"/>
<circle cx="575.32" cy="175.8" r="3.5" fill="#fe1a12" stroke="#3a3a3a" stroke-width="0.45"/>
<circle cx="584.45" cy="175.8" r="1.45" fill="#fcf6f8" stroke="#3a3a3a" stroke-width="0.45"/>
<circle cx="593.58" cy="175.8" r="3.5" fill="#f2503e" stroke="#3a3a3a" stroke-width="0.45"/>
<circle cx="602.71" cy="175.8" r="2.75" fill="#fe1a12" stroke="#3a3a3a" stroke-width="0.45"/>
<circle cx="82.3" cy="185" r="0.95" fill="#8a7ad8" stroke="#555" stroke-width="0.35"/>
<circle cx="91.43" cy="185" r="2.75" fill="#fcd3c9" stroke="#3a3a3a" stroke-width="0.45"/>
<circle cx="100.56" cy="185" r="1.45" fill="#dccff9" stroke="#3a3a3a" stroke-width="0.45"/>
<circle cx="109.69" cy="185" r="0.95" fill="#8a7ad8" stroke="#555" stroke-width="0.35"/>
<circle cx="118.82" cy="185" r="0.95" fill="#8a7ad8" stroke="#555" stroke-width="0.35"/>
<circle cx="127.95" cy="185" r="0.95" fill="#8a7ad8" stroke="#555" stroke-width="0.35"/>
<circle cx="137.08" cy="185" r="0.95" fill="#8a7ad8" stroke="#555" stroke-width="0.35"/>
<circle cx="146.21" cy="185" r="0.95" fill="#8a7ad8" stroke="#555" stroke-width="0.35"/>
<circle cx="155.34" cy="185" r="0.95" fill="#8a7ad8" stroke="#555" stroke-width="0.35"/>
<circle cx="164.47" cy="185" r="2.05" fill="#dccff9" stroke="#3a3a3a" stroke-width="0.45"/>
<circle cx="173.6" cy="185" r="0.95" fill="#8a7ad8" stroke="#555" stroke-width="0.35"/>
<circle cx="182.73" cy="185" r="0.95" fill="#8a7ad8" stroke="#555" stroke-width="0.35"/>
<circle cx="191.86" cy="185" r="0.95" fill="#8a7ad8" stroke="#555" stroke-width="0.35"/>
<circle cx="200.99" cy="185" r="0.95" fill="#8a7ad8" stroke="#555" stroke-width="0.35"/>
<circle cx="210.12" cy="185" r="0.95" fill="#8a7ad8" stroke="#555" stroke-width="0.35"/>
<circle cx="219.25" cy="185" r="2.05" fill="#dccff9" stroke="#3a3a3a" stroke-width="0.45"/>
<circle cx="228.38" cy="185" r="0.95" fill="#8a7ad8" stroke="#555" stroke-width="0.35"/>
<circle cx="237.51" cy="185" r="0.95" fill="#8a7ad8" stroke="#555" stroke-width="0.35"/>
<circle cx="246.64" cy="185" r="0.95" fill="#8a7ad8" stroke="#555" stroke-width="0.35"/>
<circle cx="255.77" cy="185" r="3.5" fill="#f2503e" stroke="#3a3a3a" stroke-width="0.45"/>
<circle cx="264.9" cy="185" r="1.45" fill="#dccff9" stroke="#3a3a3a" stroke-width="0.45"/>
<circle cx="274.03" cy="185" r="3.5" fill="#fcf6f8" stroke="#3a3a3a" stroke-width="0.45"/>
<circle cx="283.16" cy="185" r="3.5" fill="#fcf6f8" stroke="#3a3a3a" stroke-width="0.45"/>
<circle cx="292.29" cy="185" r="0.95" fill="#8a7ad8" stroke="#555" stroke-width="0.35"/>
<circle cx="301.42" cy="185" r="2.75" fill="#fcf6f8" stroke="#3a3a3a" stroke-width="0.45"/>
<circle cx="310.55" cy="185" r="2.05" fill="#dccff9" stroke="#3a3a3a" stroke-width="0.45"/>
<circle cx="319.68" cy="185" r="0.95" fill="#8a7ad8" stroke="#555" stroke-width="0.35"/>
<circle cx="328.81" cy="185" r="3.5" fill="#fcf6f8" stroke="#3a3a3a" stroke-width="0.45"/>
<circle cx="337.94" cy="185" r="0.95" fill="#8a7ad8" stroke="#555" stroke-width="0.35"/>
<circle cx="347.07" cy="185" r="3.5" fill="#fe1a12" stroke="#3a3a3a" stroke-width="0.45"/>
<circle cx="356.2" cy="185" r="0.95" fill="#8a7ad8" stroke="#555" stroke-width="0.35"/>
<circle cx="365.33" cy="185" r="0.95" fill="#8a7ad8" stroke="#555" stroke-width="0.35"/>
<circle cx="374.46" cy="185" r="2.75" fill="#fcf6f8" stroke="#3a3a3a" stroke-width="0.45"/>
<circle cx="383.59" cy="185" r="0.95" fill="#8a7ad8" stroke="#555" stroke-width="0.35"/>
<circle cx="392.72" cy="185" r="2.75" fill="#a88ef4" stroke="#3a3a3a" stroke-width="0.45"/>
<circle cx="401.85" cy="185" r="0.95" fill="#8a7ad8" stroke="#555" stroke-width="0.35"/>
<circle cx="410.98" cy="185" r="2.75" fill="#fcd3c9" stroke="#3a3a3a" stroke-width="0.45"/>
<circle cx="420.11" cy="185" r="0.95" fill="#8a7ad8" stroke="#555" stroke-width="0.35"/>
<circle cx="429.24" cy="185" r="0.95" fill="#8a7ad8" stroke="#555" stroke-width="0.35"/>
<circle cx="438.37" cy="185" r="2.05" fill="#dccff9" stroke="#3a3a3a" stroke-width="0.45"/>
<circle cx="447.5" cy="185" r="0.95" fill="#8a7ad8" stroke="#555" stroke-width="0.35"/>
<circle cx="456.63" cy="185" r="0.95" fill="#8a7ad8" stroke="#555" stroke-width="0.35"/>
<circle cx="465.76" cy="185" r="2.05" fill="#fe1a12" stroke="#3a3a3a" stroke-width="0.45"/>
<circle cx="474.89" cy="185" r="0.95" fill="#8a7ad8" stroke="#555" stroke-width="0.35"/>
<circle cx="484.02" cy="185" r="2.75" fill="#fcd3c9" stroke="#3a3a3a" stroke-width="0.45"/>
<circle cx="493.15" cy="185" r="0.95" fill="#8a7ad8" stroke="#555" stroke-width="0.35"/>
<circle cx="502.28" cy="185" r="0.95" fill="#8a7ad8" stroke="#555" stroke-width="0.35"/>
<circle cx="511.41" cy="185" r="0.95" fill="#8a7ad8" stroke="#555" stroke-width="0.35"/>
<circle cx="520.54" cy="185" r="0.95" fill="#8a7ad8" stroke="#555" stroke-width="0.35"/>
<circle cx="529.67" cy="185" r="0.95" fill="#8a7ad8" stroke="#555" stroke-width="0.35"/>
<circle cx="538.8" cy="185" r="0.95" fill="#8a7ad8" stroke="#555" stroke-width="0.35"/>
<circle cx="547.93" cy="185" r="0.95" fill="#8a7ad8" stroke="#555" stroke-width="0.35"/>
<circle cx="557.06" cy="185" r="0.95" fill="#8a7ad8" stroke="#555" stroke-width="0.35"/>
<circle cx="566.19" cy="185" r="1.45" fill="#dccff9" stroke="#3a3a3a" stroke-width="0.45"/>
<circle cx="575.32" cy="185" r="0.95" fill="#8a7ad8" stroke="#555" stroke-width="0.35"/>
<circle cx="584.45" cy="185" r="0.95" fill="#8a7ad8" stroke="#555" stroke-width="0.35"/>
<circle cx="593.58" cy="185" r="0.95" fill="#8a7ad8" stroke="#555" stroke-width="0.35"/>
<circle cx="602.71" cy="185" r="0.95" fill="#8a7ad8" stroke="#555" stroke-width="0.35"/>
<circle cx="82.3" cy="194.2" r="1.45" fill="#dccff9" stroke="#3a3a3a" stroke-width="0.45"/>
<circle cx="91.43" cy="194.2" r="1.45" fill="#dccff9" stroke="#3a3a3a" stroke-width="0.45"/>
<circle cx="100.56" cy="194.2" r="2.05" fill="#dccff9" stroke="#3a3a3a" stroke-width="0.45"/>
<circle cx="109.69" cy="194.2" r="1.45" fill="#dccff9" stroke="#3a3a3a" stroke-width="0.45"/>
<circle cx="118.82" cy="194.2" r="0.95" fill="#8a7ad8" stroke="#555" stroke-width="0.35"/>
<circle cx="127.95" cy="194.2" r="0.95" fill="#8a7ad8" stroke="#555" stroke-width="0.35"/>
<circle cx="137.08" cy="194.2" r="0.95" fill="#8a7ad8" stroke="#555" stroke-width="0.35"/>
<circle cx="146.21" cy="194.2" r="1.45" fill="#dccff9" stroke="#3a3a3a" stroke-width="0.45"/>
<circle cx="155.34" cy="194.2" r="0.95" fill="#8a7ad8" stroke="#555" stroke-width="0.35"/>
<circle cx="164.47" cy="194.2" r="2.05" fill="#fcd3c9" stroke="#3a3a3a" stroke-width="0.45"/>
<circle cx="173.6" cy="194.2" r="0.95" fill="#8a7ad8" stroke="#555" stroke-width="0.35"/>
<circle cx="182.73" cy="194.2" r="0.95" fill="#8a7ad8" stroke="#555" stroke-width="0.35"/>
<circle cx="191.86" cy="194.2" r="1.45" fill="#dccff9" stroke="#3a3a3a" stroke-width="0.45"/>
<circle cx="200.99" cy="194.2" r="2.75" fill="#f7927c" stroke="#3a3a3a" stroke-width="0.45"/>
<circle cx="210.12" cy="194.2" r="2.75" fill="#f7927c" stroke="#3a3a3a" stroke-width="0.45"/>
<circle cx="219.25" cy="194.2" r="0.95" fill="#8a7ad8" stroke="#555" stroke-width="0.35"/>
<circle cx="228.38" cy="194.2" r="1.45" fill="#dccff9" stroke="#3a3a3a" stroke-width="0.45"/>
<circle cx="237.51" cy="194.2" r="1.45" fill="#dccff9" stroke="#3a3a3a" stroke-width="0.45"/>
<circle cx="246.64" cy="194.2" r="1.45" fill="#dccff9" stroke="#3a3a3a" stroke-width="0.45"/>
<circle cx="255.77" cy="194.2" r="1.45" fill="#dccff9" stroke="#3a3a3a" stroke-width="0.45"/>
<circle cx="264.9" cy="194.2" r="1.45" fill="#dccff9" stroke="#3a3a3a" stroke-width="0.45"/>
<circle cx="274.03" cy="194.2" r="2.75" fill="#fcd3c9" stroke="#3a3a3a" stroke-width="0.45"/>
<circle cx="283.16" cy="194.2" r="1.45" fill="#dccff9" stroke="#3a3a3a" stroke-width="0.45"/>
<circle cx="292.29" cy="194.2" r="1.45" fill="#f7927c" stroke="#3a3a3a" stroke-width="0.45"/>
<circle cx="301.42" cy="194.2" r="1.45" fill="#dccff9" stroke="#3a3a3a" stroke-width="0.45"/>
<circle cx="310.55" cy="194.2" r="2.05" fill="#dccff9" stroke="#3a3a3a" stroke-width="0.45"/>
<circle cx="319.68" cy="194.2" r="0.95" fill="#8a7ad8" stroke="#555" stroke-width="0.35"/>
<circle cx="328.81" cy="194.2" r="2.05" fill="#dccff9" stroke="#3a3a3a" stroke-width="0.45"/>
<circle cx="337.94" cy="194.2" r="0.95" fill="#8a7ad8" stroke="#555" stroke-width="0.35"/>
<circle cx="347.07" cy="194.2" r="1.45" fill="#dccff9" stroke="#3a3a3a" stroke-width="0.45"/>
<circle cx="356.2" cy="194.2" r="1.45" fill="#dccff9" stroke="#3a3a3a" stroke-width="0.45"/>
<circle cx="365.33" cy="194.2" r="2.05" fill="#a88ef4" stroke="#3a3a3a" stroke-width="0.45"/>
<circle cx="374.46" cy="194.2" r="1.45" fill="#dccff9" stroke="#3a3a3a" stroke-width="0.45"/>
<circle cx="383.59" cy="194.2" r="1.45" fill="#dccff9" stroke="#3a3a3a" stroke-width="0.45"/>
<circle cx="392.72" cy="194.2" r="2.75" fill="#dccff9" stroke="#3a3a3a" stroke-width="0.45"/>
<circle cx="401.85" cy="194.2" r="1.45" fill="#fe1a12" stroke="#3a3a3a" stroke-width="0.45"/>
<circle cx="410.98" cy="194.2" r="2.75" fill="#dccff9" stroke="#3a3a3a" stroke-width="0.45"/>
<circle cx="420.11" cy="194.2" r="0.95" fill="#8a7ad8" stroke="#555" stroke-width="0.35"/>
<circle cx="429.24" cy="194.2" r="0.95" fill="#8a7ad8" stroke="#555" stroke-width="0.35"/>
<circle cx="438.37" cy="194.2" r="1.45" fill="#dccff9" stroke="#3a3a3a" stroke-width="0.45"/>
<circle cx="447.5" cy="194.2" r="0.95" fill="#8a7ad8" stroke="#555" stroke-width="0.35"/>
<circle cx="456.63" cy="194.2" r="0.95" fill="#8a7ad8" stroke="#555" stroke-width="0.35"/>
<circle cx="465.76" cy="194.2" r="0.95" fill="#8a7ad8" stroke="#555" stroke-width="0.35"/>
<circle cx="474.89" cy="194.2" r="0.95" fill="#8a7ad8" stroke="#555" stroke-width="0.35"/>
<circle cx="484.02" cy="194.2" r="2.05" fill="#fcf6f8" stroke="#3a3a3a" stroke-width="0.45"/>
<circle cx="493.15" cy="194.2" r="0.95" fill="#8a7ad8" stroke="#555" stroke-width="0.35"/>
<circle cx="502.28" cy="194.2" r="0.95" fill="#8a7ad8" stroke="#555" stroke-width="0.35"/>
<circle cx="511.41" cy="194.2" r="2.05" fill="#f7927c" stroke="#3a3a3a" stroke-width="0.45"/>
<circle cx="520.54" cy="194.2" r="0.95" fill="#8a7ad8" stroke="#555" stroke-width="0.35"/>
<circle cx="529.67" cy="194.2" r="0.95" fill="#8a7ad8" stroke="#555" stroke-width="0.35"/>
<circle cx="538.8" cy="194.2" r="1.45" fill="#dccff9" stroke="#3a3a3a" stroke-width="0.45"/>
<circle cx="547.93" cy="194.2" r="1.45" fill="#dccff9" stroke="#3a3a3a" stroke-width="0.45"/>
<circle cx="557.06" cy="194.2" r="1.45" fill="#fcf6f8" stroke="#3a3a3a" stroke-width="0.45"/>
<circle cx="566.19" cy="194.2" r="1.45" fill="#dccff9" stroke="#3a3a3a" stroke-width="0.45"/>
<circle cx="575.32" cy="194.2" r="1.45" fill="#dccff9" stroke="#3a3a3a" stroke-width="0.45"/>
<circle cx="584.45" cy="194.2" r="0.95" fill="#8a7ad8" stroke="#555" stroke-width="0.35"/>
<circle cx="593.58" cy="194.2" r="2.05" fill="#dccff9" stroke="#3a3a3a" stroke-width="0.45"/>
<circle cx="602.71" cy="194.2" r="0.95" fill="#8a7ad8" stroke="#555" stroke-width="0.35"/>
<circle cx="82.3" cy="203.4" r="1.45" fill="#dccff9" stroke="#3a3a3a" stroke-width="0.45"/>
<circle cx="91.43" cy="203.4" r="1.45" fill="#dccff9" stroke="#3a3a3a" stroke-width="0.45"/>
<circle cx="100.56" cy="203.4" r="1.45" fill="#dccff9" stroke="#3a3a3a" stroke-width="0.45"/>
<circle cx="109.69" cy="203.4" r="1.45" fill="#dccff9" stroke="#3a3a3a" stroke-width="0.45"/>
<circle cx="118.82" cy="203.4" r="1.45" fill="#dccff9" stroke="#3a3a3a" stroke-width="0.45"/>
<circle cx="127.95" cy="203.4" r="1.45" fill="#dccff9" stroke="#3a3a3a" stroke-width="0.45"/>
<circle cx="137.08" cy="203.4" r="1.45" fill="#a88ef4" stroke="#3a3a3a" stroke-width="0.45"/>
<circle cx="146.21" cy="203.4" r="1.45" fill="#dccff9" stroke="#3a3a3a" stroke-width="0.45"/>
<circle cx="155.34" cy="203.4" r="1.45" fill="#a88ef4" stroke="#3a3a3a" stroke-width="0.45"/>
<circle cx="164.47" cy="203.4" r="2.75" fill="#f2503e" stroke="#3a3a3a" stroke-width="0.45"/>
<circle cx="173.6" cy="203.4" r="1.45" fill="#dccff9" stroke="#3a3a3a" stroke-width="0.45"/>
<circle cx="182.73" cy="203.4" r="1.45" fill="#fe1a12" stroke="#3a3a3a" stroke-width="0.45"/>
<circle cx="191.86" cy="203.4" r="1.45" fill="#dccff9" stroke="#3a3a3a" stroke-width="0.45"/>
<circle cx="200.99" cy="203.4" r="2.75" fill="#f7927c" stroke="#3a3a3a" stroke-width="0.45"/>
<circle cx="210.12" cy="203.4" r="2.75" fill="#f7927c" stroke="#3a3a3a" stroke-width="0.45"/>
<circle cx="219.25" cy="203.4" r="1.45" fill="#dccff9" stroke="#3a3a3a" stroke-width="0.45"/>
<circle cx="228.38" cy="203.4" r="1.45" fill="#dccff9" stroke="#3a3a3a" stroke-width="0.45"/>
<circle cx="237.51" cy="203.4" r="1.45" fill="#dccff9" stroke="#3a3a3a" stroke-width="0.45"/>
<circle cx="246.64" cy="203.4" r="1.45" fill="#dccff9" stroke="#3a3a3a" stroke-width="0.45"/>
<circle cx="255.77" cy="203.4" r="2.75" fill="#fcd3c9" stroke="#3a3a3a" stroke-width="0.45"/>
<circle cx="264.9" cy="203.4" r="1.45" fill="#dccff9" stroke="#3a3a3a" stroke-width="0.45"/>
<circle cx="274.03" cy="203.4" r="3.5" fill="#f2503e" stroke="#3a3a3a" stroke-width="0.45"/>
<circle cx="283.16" cy="203.4" r="1.45" fill="#dccff9" stroke="#3a3a3a" stroke-width="0.45"/>
<circle cx="292.29" cy="203.4" r="1.45" fill="#fcf6f8" stroke="#3a3a3a" stroke-width="0.45"/>
<circle cx="301.42" cy="203.4" r="1.45" fill="#dccff9" stroke="#3a3a3a" stroke-width="0.45"/>
<circle cx="310.55" cy="203.4" r="2.75" fill="#fcd3c9" stroke="#3a3a3a" stroke-width="0.45"/>
<circle cx="319.68" cy="203.4" r="0.95" fill="#8a7ad8" stroke="#555" stroke-width="0.35"/>
<circle cx="328.81" cy="203.4" r="2.05" fill="#dccff9" stroke="#3a3a3a" stroke-width="0.45"/>
<circle cx="337.94" cy="203.4" r="1.45" fill="#dccff9" stroke="#3a3a3a" stroke-width="0.45"/>
<circle cx="347.07" cy="203.4" r="1.45" fill="#dccff9" stroke="#3a3a3a" stroke-width="0.45"/>
<circle cx="356.2" cy="203.4" r="1.45" fill="#dccff9" stroke="#3a3a3a" stroke-width="0.45"/>
<circle cx="365.33" cy="203.4" r="2.75" fill="#fcd3c9" stroke="#3a3a3a" stroke-width="0.45"/>
<circle cx="374.46" cy="203.4" r="1.45" fill="#dccff9" stroke="#3a3a3a" stroke-width="0.45"/>
<circle cx="383.59" cy="203.4" r="1.45" fill="#dccff9" stroke="#3a3a3a" stroke-width="0.45"/>
<circle cx="392.72" cy="203.4" r="2.75" fill="#dccff9" stroke="#3a3a3a" stroke-width="0.45"/>
<circle cx="401.85" cy="203.4" r="1.45" fill="#fcf6f8" stroke="#3a3a3a" stroke-width="0.45"/>
<circle cx="410.98" cy="203.4" r="3.5" fill="#f2503e" stroke="#3a3a3a" stroke-width="0.45"/>
<circle cx="420.11" cy="203.4" r="0.95" fill="#8a7ad8" stroke="#555" stroke-width="0.35"/>
<circle cx="429.24" cy="203.4" r="0.95" fill="#8a7ad8" stroke="#555" stroke-width="0.35"/>
<circle cx="438.37" cy="203.4" r="1.45" fill="#dccff9" stroke="#3a3a3a" stroke-width="0.45"/>
<circle cx="447.5" cy="203.4" r="1.45" fill="#fcf6f8" stroke="#3a3a3a" stroke-width="0.45"/>
<circle cx="456.63" cy="203.4" r="1.45" fill="#dccff9" stroke="#3a3a3a" stroke-width="0.45"/>
<circle cx="465.76" cy="203.4" r="0.95" fill="#8a7ad8" stroke="#555" stroke-width="0.35"/>
<circle cx="474.89" cy="203.4" r="0.95" fill="#8a7ad8" stroke="#555" stroke-width="0.35"/>
<circle cx="484.02" cy="203.4" r="2.05" fill="#f7927c" stroke="#3a3a3a" stroke-width="0.45"/>
<circle cx="493.15" cy="203.4" r="0.95" fill="#8a7ad8" stroke="#555" stroke-width="0.35"/>
<circle cx="502.28" cy="203.4" r="0.95" fill="#8a7ad8" stroke="#555" stroke-width="0.35"/>
<circle cx="511.41" cy="203.4" r="2.75" fill="#f2503e" stroke="#3a3a3a" stroke-width="0.45"/>
<circle cx="520.54" cy="203.4" r="0.95" fill="#8a7ad8" stroke="#555" stroke-width="0.35"/>
<circle cx="529.67" cy="203.4" r="1.45" fill="#fcf6f8" stroke="#3a3a3a" stroke-width="0.45"/>
<circle cx="538.8" cy="203.4" r="1.45" fill="#dccff9" stroke="#3a3a3a" stroke-width="0.45"/>
<circle cx="547.93" cy="203.4" r="1.45" fill="#fcf6f8" stroke="#3a3a3a" stroke-width="0.45"/>
<circle cx="557.06" cy="203.4" r="0.95" fill="#8a7ad8" stroke="#555" stroke-width="0.35"/>
<circle cx="566.19" cy="203.4" r="1.45" fill="#dccff9" stroke="#3a3a3a" stroke-width="0.45"/>
<circle cx="575.32" cy="203.4" r="1.45" fill="#dccff9" stroke="#3a3a3a" stroke-width="0.45"/>
<circle cx="584.45" cy="203.4" r="1.45" fill="#dccff9" stroke="#3a3a3a" stroke-width="0.45"/>
<circle cx="593.58" cy="203.4" r="1.45" fill="#dccff9" stroke="#3a3a3a" stroke-width="0.45"/>
<circle cx="602.71" cy="203.4" r="0.95" fill="#8a7ad8" stroke="#555" stroke-width="0.35"/>
<circle cx="82.3" cy="212.6" r="1.45" fill="#dccff9" stroke="#3a3a3a" stroke-width="0.45"/>
<circle cx="91.43" cy="212.6" r="0.95" fill="#8a7ad8" stroke="#555" stroke-width="0.35"/>
<circle cx="100.56" cy="212.6" r="0.95" fill="#8a7ad8" stroke="#555" stroke-width="0.35"/>
<circle cx="109.69" cy="212.6" r="1.45" fill="#dccff9" stroke="#3a3a3a" stroke-width="0.45"/>
<circle cx="118.82" cy="212.6" r="1.45" fill="#dccff9" stroke="#3a3a3a" stroke-width="0.45"/>
<circle cx="127.95" cy="212.6" r="1.45" fill="#dccff9" stroke="#3a3a3a" stroke-width="0.45"/>
<circle cx="137.08" cy="212.6" r="1.45" fill="#dccff9" stroke="#3a3a3a" stroke-width="0.45"/>
<circle cx="146.21" cy="212.6" r="1.45" fill="#fcd3c9" stroke="#3a3a3a" stroke-width="0.45"/>
<circle cx="155.34" cy="212.6" r="0.95" fill="#8a7ad8" stroke="#555" stroke-width="0.35"/>
<circle cx="164.47" cy="212.6" r="1.45" fill="#a88ef4" stroke="#3a3a3a" stroke-width="0.45"/>
<circle cx="173.6" cy="212.6" r="1.45" fill="#dccff9" stroke="#3a3a3a" stroke-width="0.45"/>
<circle cx="182.73" cy="212.6" r="0.95" fill="#8a7ad8" stroke="#555" stroke-width="0.35"/>
<circle cx="191.86" cy="212.6" r="1.45" fill="#dccff9" stroke="#3a3a3a" stroke-width="0.45"/>
<circle cx="200.99" cy="212.6" r="0.95" fill="#8a7ad8" stroke="#555" stroke-width="0.35"/>
<circle cx="210.12" cy="212.6" r="2.05" fill="#fcd3c9" stroke="#3a3a3a" stroke-width="0.45"/>
<circle cx="219.25" cy="212.6" r="1.45" fill="#dccff9" stroke="#3a3a3a" stroke-width="0.45"/>
<circle cx="228.38" cy="212.6" r="1.45" fill="#dccff9" stroke="#3a3a3a" stroke-width="0.45"/>
<circle cx="237.51" cy="212.6" r="1.45" fill="#dccff9" stroke="#3a3a3a" stroke-width="0.45"/>
<circle cx="246.64" cy="212.6" r="1.45" fill="#dccff9" stroke="#3a3a3a" stroke-width="0.45"/>
<circle cx="255.77" cy="212.6" r="1.45" fill="#a88ef4" stroke="#3a3a3a" stroke-width="0.45"/>
<circle cx="264.9" cy="212.6" r="1.45" fill="#dccff9" stroke="#3a3a3a" stroke-width="0.45"/>
<circle cx="274.03" cy="212.6" r="2.05" fill="#a88ef4" stroke="#3a3a3a" stroke-width="0.45"/>
<circle cx="283.16" cy="212.6" r="1.45" fill="#dccff9" stroke="#3a3a3a" stroke-width="0.45"/>
<circle cx="292.29" cy="212.6" r="1.45" fill="#dccff9" stroke="#3a3a3a" stroke-width="0.45"/>
<circle cx="301.42" cy="212.6" r="1.45" fill="#dccff9" stroke="#3a3a3a" stroke-width="0.45"/>
<circle cx="310.55" cy="212.6" r="1.45" fill="#dccff9" stroke="#3a3a3a" stroke-width="0.45"/>
<circle cx="319.68" cy="212.6" r="0.95" fill="#8a7ad8" stroke="#555" stroke-width="0.35"/>
<circle cx="328.81" cy="212.6" r="2.05" fill="#dccff9" stroke="#3a3a3a" stroke-width="0.45"/>
<circle cx="337.94" cy="212.6" r="1.45" fill="#dccff9" stroke="#3a3a3a" stroke-width="0.45"/>
<circle cx="347.07" cy="212.6" r="1.45" fill="#dccff9" stroke="#3a3a3a" stroke-width="0.45"/>
<circle cx="356.2" cy="212.6" r="1.45" fill="#dccff9" stroke="#3a3a3a" stroke-width="0.45"/>
<circle cx="365.33" cy="212.6" r="2.75" fill="#fcd3c9" stroke="#3a3a3a" stroke-width="0.45"/>
<circle cx="374.46" cy="212.6" r="1.45" fill="#dccff9" stroke="#3a3a3a" stroke-width="0.45"/>
<circle cx="383.59" cy="212.6" r="1.45" fill="#dccff9" stroke="#3a3a3a" stroke-width="0.45"/>
<circle cx="392.72" cy="212.6" r="2.05" fill="#a88ef4" stroke="#3a3a3a" stroke-width="0.45"/>
<circle cx="401.85" cy="212.6" r="0.95" fill="#8a7ad8" stroke="#555" stroke-width="0.35"/>
<circle cx="410.98" cy="212.6" r="2.05" fill="#fcf6f8" stroke="#3a3a3a" stroke-width="0.45"/>
<circle cx="420.11" cy="212.6" r="0.95" fill="#8a7ad8" stroke="#555" stroke-width="0.35"/>
<circle cx="429.24" cy="212.6" r="2.05" fill="#fe1a12" stroke="#3a3a3a" stroke-width="0.45"/>
<circle cx="438.37" cy="212.6" r="3.5" fill="#fe1a12" stroke="#3a3a3a" stroke-width="0.45"/>
<circle cx="447.5" cy="212.6" r="0.95" fill="#8a7ad8" stroke="#555" stroke-width="0.35"/>
<circle cx="456.63" cy="212.6" r="1.45" fill="#fcf6f8" stroke="#3a3a3a" stroke-width="0.45"/>
<circle cx="465.76" cy="212.6" r="0.95" fill="#8a7ad8" stroke="#555" stroke-width="0.35"/>
<circle cx="474.89" cy="212.6" r="2.05" fill="#fe1a12" stroke="#3a3a3a" stroke-width="0.45"/>
<circle cx="484.02" cy="212.6" r="2.75" fill="#f2503e" stroke="#3a3a3a" stroke-width="0.45"/>
<circle cx="493.15" cy="212.6" r="0.95" fill="#8a7ad8" stroke="#555" stroke-width="0.35"/>
<circle cx="502.28" cy="212.6" r="1.45" fill="#fe1a12" stroke="#3a3a3a" stroke-width="0.45"/>
<circle cx="511.41" cy="212.6" r="0.95" fill="#8a7ad8" stroke="#555" stroke-width="0.35"/>
<circle cx="520.54" cy="212.6" r="0.95" fill="#8a7ad8" stroke="#555" stroke-width="0.35"/>
<circle cx="529.67" cy="212.6" r="0.95" fill="#8a7ad8" stroke="#555" stroke-width="0.35"/>
<circle cx="538.8" cy="212.6" r="1.45" fill="#dccff9" stroke="#3a3a3a" stroke-width="0.45"/>
<circle cx="547.93" cy="212.6" r="1.45" fill="#f7927c" stroke="#3a3a3a" stroke-width="0.45"/>
<circle cx="557.06" cy="212.6" r="0.95" fill="#8a7ad8" stroke="#555" stroke-width="0.35"/>
<circle cx="566.19" cy="212.6" r="0.95" fill="#8a7ad8" stroke="#555" stroke-width="0.35"/>
<circle cx="575.32" cy="212.6" r="2.75" fill="#fcd3c9" stroke="#3a3a3a" stroke-width="0.45"/>
<circle cx="584.45" cy="212.6" r="0.95" fill="#8a7ad8" stroke="#555" stroke-width="0.35"/>
<circle cx="593.58" cy="212.6" r="2.05" fill="#dccff9" stroke="#3a3a3a" stroke-width="0.45"/>
<circle cx="602.71" cy="212.6" r="0.95" fill="#8a7ad8" stroke="#555" stroke-width="0.35"/>
<circle cx="82.3" cy="221.8" r="2.05" fill="#dccff9" stroke="#3a3a3a" stroke-width="0.45"/>
<circle cx="91.43" cy="221.8" r="2.05" fill="#fcf6f8" stroke="#3a3a3a" stroke-width="0.45"/>
<circle cx="100.56" cy="221.8" r="2.75" fill="#fcf6f8" stroke="#3a3a3a" stroke-width="0.45"/>
<circle cx="109.69" cy="221.8" r="1.45" fill="#a88ef4" stroke="#3a3a3a" stroke-width="0.45"/>
<circle cx="118.82" cy="221.8" r="1.45" fill="#dccff9" stroke="#3a3a3a" stroke-width="0.45"/>
<circle cx="127.95" cy="221.8" r="1.45" fill="#dccff9" stroke="#3a3a3a" stroke-width="0.45"/>
<circle cx="137.08" cy="221.8" r="1.45" fill="#a88ef4" stroke="#3a3a3a" stroke-width="0.45"/>
<circle cx="146.21" cy="221.8" r="1.45" fill="#a88ef4" stroke="#3a3a3a" stroke-width="0.45"/>
<circle cx="155.34" cy="221.8" r="1.45" fill="#fcf6f8" stroke="#3a3a3a" stroke-width="0.45"/>
<circle cx="164.47" cy="221.8" r="2.75" fill="#fcf6f8" stroke="#3a3a3a" stroke-width="0.45"/>
<circle cx="173.6" cy="221.8" r="1.45" fill="#f2503e" stroke="#3a3a3a" stroke-width="0.45"/>
<circle cx="182.73" cy="221.8" r="0.95" fill="#8a7ad8" stroke="#555" stroke-width="0.35"/>
<circle cx="191.86" cy="221.8" r="1.45" fill="#dccff9" stroke="#3a3a3a" stroke-width="0.45"/>
<circle cx="200.99" cy="221.8" r="1.45" fill="#a88ef4" stroke="#3a3a3a" stroke-width="0.45"/>
<circle cx="210.12" cy="221.8" r="1.45" fill="#dccff9" stroke="#3a3a3a" stroke-width="0.45"/>
<circle cx="219.25" cy="221.8" r="1.45" fill="#dccff9" stroke="#3a3a3a" stroke-width="0.45"/>
<circle cx="228.38" cy="221.8" r="1.45" fill="#dccff9" stroke="#3a3a3a" stroke-width="0.45"/>
<circle cx="237.51" cy="221.8" r="1.45" fill="#dccff9" stroke="#3a3a3a" stroke-width="0.45"/>
<circle cx="246.64" cy="221.8" r="2.05" fill="#dccff9" stroke="#3a3a3a" stroke-width="0.45"/>
<circle cx="255.77" cy="221.8" r="2.05" fill="#fcf6f8" stroke="#3a3a3a" stroke-width="0.45"/>
<circle cx="264.9" cy="221.8" r="1.45" fill="#dccff9" stroke="#3a3a3a" stroke-width="0.45"/>
<circle cx="274.03" cy="221.8" r="2.05" fill="#a88ef4" stroke="#3a3a3a" stroke-width="0.45"/>
<circle cx="283.16" cy="221.8" r="1.45" fill="#dccff9" stroke="#3a3a3a" stroke-width="0.45"/>
<circle cx="292.29" cy="221.8" r="1.45" fill="#dccff9" stroke="#3a3a3a" stroke-width="0.45"/>
<circle cx="301.42" cy="221.8" r="1.45" fill="#dccff9" stroke="#3a3a3a" stroke-width="0.45"/>
<circle cx="310.55" cy="221.8" r="2.75" fill="#f2503e" stroke="#3a3a3a" stroke-width="0.45"/>
<circle cx="319.68" cy="221.8" r="0.95" fill="#8a7ad8" stroke="#555" stroke-width="0.35"/>
<circle cx="328.81" cy="221.8" r="2.05" fill="#dccff9" stroke="#3a3a3a" stroke-width="0.45"/>
<circle cx="337.94" cy="221.8" r="1.45" fill="#dccff9" stroke="#3a3a3a" stroke-width="0.45"/>
<circle cx="347.07" cy="221.8" r="3.5" fill="#fcd3c9" stroke="#3a3a3a" stroke-width="0.45"/>
<circle cx="356.2" cy="221.8" r="2.05" fill="#fcf6f8" stroke="#3a3a3a" stroke-width="0.45"/>
<circle cx="365.33" cy="221.8" r="3.5" fill="#f7927c" stroke="#3a3a3a" stroke-width="0.45"/>
<circle cx="374.46" cy="221.8" r="2.05" fill="#fcf6f8" stroke="#3a3a3a" stroke-width="0.45"/>
<circle cx="383.59" cy="221.8" r="1.45" fill="#dccff9" stroke="#3a3a3a" stroke-width="0.45"/>
<circle cx="392.72" cy="221.8" r="2.75" fill="#fcf6f8" stroke="#3a3a3a" stroke-width="0.45"/>
<circle cx="401.85" cy="221.8" r="0.95" fill="#8a7ad8" stroke="#555" stroke-width="0.35"/>
<circle cx="410.98" cy="221.8" r="0.95" fill="#8a7ad8" stroke="#555" stroke-width="0.35"/>
<circle cx="420.11" cy="221.8" r="0.95" fill="#8a7ad8" stroke="#555" stroke-width="0.35"/>
<circle cx="429.24" cy="221.8" r="0.95" fill="#8a7ad8" stroke="#555" stroke-width="0.35"/>
<circle cx="438.37" cy="221.8" r="0.95" fill="#8a7ad8" stroke="#555" stroke-width="0.35"/>
<circle cx="447.5" cy="221.8" r="0.95" fill="#8a7ad8" stroke="#555" stroke-width="0.35"/>
<circle cx="456.63" cy="221.8" r="2.05" fill="#fe1a12" stroke="#3a3a3a" stroke-width="0.45"/>
<circle cx="465.76" cy="221.8" r="0.95" fill="#8a7ad8" stroke="#555" stroke-width="0.35"/>
<circle cx="474.89" cy="221.8" r="0.95" fill="#8a7ad8" stroke="#555" stroke-width="0.35"/>
<circle cx="484.02" cy="221.8" r="0.95" fill="#8a7ad8" stroke="#555" stroke-width="0.35"/>
<circle cx="493.15" cy="221.8" r="0.95" fill="#8a7ad8" stroke="#555" stroke-width="0.35"/>
<circle cx="502.28" cy="221.8" r="0.95" fill="#8a7ad8" stroke="#555" stroke-width="0.35"/>
<circle cx="511.41" cy="221.8" r="1.45" fill="#dccff9" stroke="#3a3a3a" stroke-width="0.45"/>
<circle cx="520.54" cy="221.8" r="0.95" fill="#8a7ad8" stroke="#555" stroke-width="0.35"/>
<circle cx="529.67" cy="221.8" r="0.95" fill="#8a7ad8" stroke="#555" stroke-width="0.35"/>
<circle cx="538.8" cy="221.8" r="1.45" fill="#dccff9" stroke="#3a3a3a" stroke-width="0.45"/>
<circle cx="547.93" cy="221.8" r="1.45" fill="#f2503e" stroke="#3a3a3a" stroke-width="0.45"/>
<circle cx="557.06" cy="221.8" r="1.45" fill="#fcd3c9" stroke="#3a3a3a" stroke-width="0.45"/>
<circle cx="566.19" cy="221.8" r="1.45" fill="#dccff9" stroke="#3a3a3a" stroke-width="0.45"/>
<circle cx="575.32" cy="221.8" r="1.45" fill="#dccff9" stroke="#3a3a3a" stroke-width="0.45"/>
<circle cx="584.45" cy="221.8" r="0.95" fill="#8a7ad8" stroke="#555" stroke-width="0.35"/>
<circle cx="593.58" cy="221.8" r="2.05" fill="#dccff9" stroke="#3a3a3a" stroke-width="0.45"/>
<circle cx="602.71" cy="221.8" r="0.95" fill="#8a7ad8" stroke="#555" stroke-width="0.35"/>
<text x="71.8" y="169.54" font-size="8.4" fill="#222" text-anchor="end">pDC</text>
<text x="71.8" y="178.74" font-size="8.4" fill="#222" text-anchor="end">NK</text>
<text x="71.8" y="187.94" font-size="8.4" fill="#222" text-anchor="end">Myeloid DC</text>
<text x="71.8" y="197.14" font-size="8.4" fill="#222" text-anchor="end">Megakaryocyte</text>
<text x="71.8" y="206.34" font-size="8.4" fill="#222" text-anchor="end">Macrophage</text>
<text x="71.8" y="215.54" font-size="8.4" fill="#222" text-anchor="end">Basophil</text>
<text x="71.8" y="224.74" font-size="8.4" fill="#222" text-anchor="end">B cell</text>
<text x="64.2" y="150.34" font-size="8.4" fill="#222" text-anchor="end">T</text>
<text x="71.8" y="153.53" font-size="5.5" fill="#222" text-anchor="end">reg</text>
<text x="64.2" y="159.54" font-size="8.4" fill="#222" text-anchor="end">T</text>
<text x="71.8" y="162.72" font-size="5.5" fill="#222" text-anchor="end">eff</text>
<text x="82.6" y="231.2" font-size="8" fill="#222" text-anchor="end" font-style="italic" transform="rotate(-90 82.6 231.2)">Cd4</text>
<text x="91.73" y="231.2" font-size="8" fill="#222" text-anchor="end" font-style="italic" transform="rotate(-90 91.73 231.2)">Cd8a</text>
<text x="100.86" y="231.2" font-size="8" fill="#222" text-anchor="end" font-style="italic" transform="rotate(-90 100.86 231.2)">Cd8b1</text>
<text x="109.99" y="231.2" font-size="8" fill="#222" text-anchor="end" font-style="italic" transform="rotate(-90 109.99 231.2)">Eomes</text>
<text x="119.12" y="231.2" font-size="8" fill="#222" text-anchor="end" font-style="italic" transform="rotate(-90 119.12 231.2)">Foxp3</text>
<text x="128.25" y="231.2" font-size="8" fill="#222" text-anchor="end" font-style="italic" transform="rotate(-90 128.25 231.2)">Tbx21</text>
<text x="137.38" y="231.2" font-size="8" fill="#222" text-anchor="end" font-style="italic" transform="rotate(-90 137.38 231.2)">Gata3</text>
<text x="146.51" y="231.2" font-size="8" fill="#222" text-anchor="end" font-style="italic" transform="rotate(-90 146.51 231.2)">Rora</text>
<text x="155.64" y="231.2" font-size="8" fill="#222" text-anchor="end" font-style="italic" transform="rotate(-90 155.64 231.2)">Rorc</text>
<text x="164.77" y="231.2" font-size="8" fill="#222" text-anchor="end" font-style="italic" transform="rotate(-90 164.77 231.2)">Bcl6</text>
<text x="173.9" y="231.2" font-size="8" fill="#222" text-anchor="end" font-style="italic" transform="rotate(-90 173.9 231.2)">Irf4</text>
<text x="183.03" y="231.2" font-size="8" fill="#222" text-anchor="end" font-style="italic" transform="rotate(-90 183.03 231.2)">Maf</text>
<text x="192.16" y="231.2" font-size="8" fill="#222" text-anchor="end" font-style="italic" transform="rotate(-90 192.16 231.2)">Ctla4</text>
<text x="201.29" y="231.2" font-size="8" fill="#222" text-anchor="end" font-style="italic" transform="rotate(-90 201.29 231.2)">Entpd1</text>
<text x="210.42" y="231.2" font-size="8" fill="#222" text-anchor="end" font-style="italic" transform="rotate(-90 210.42 231.2)">Havcr2</text>
<text x="219.55" y="231.2" font-size="8" fill="#222" text-anchor="end" font-style="italic" transform="rotate(-90 219.55 231.2)">Lag3</text>
<text x="228.68" y="231.2" font-size="8" fill="#222" text-anchor="end" font-style="italic" transform="rotate(-90 228.68 231.2)">Pdcd1</text>
<text x="237.81" y="231.2" font-size="8" fill="#222" text-anchor="end" font-style="italic" transform="rotate(-90 237.81 231.2)">Tigit</text>
<text x="246.94" y="231.2" font-size="8" fill="#222" text-anchor="end" font-style="italic" transform="rotate(-90 246.94 231.2)">Cd28</text>
<text x="256.07" y="231.2" font-size="8" fill="#222" text-anchor="end" font-style="italic" transform="rotate(-90 256.07 231.2)">Cd40</text>
<text x="265.2" y="231.2" font-size="8" fill="#222" text-anchor="end" font-style="italic" transform="rotate(-90 265.2 231.2)">Icos</text>
<text x="274.33" y="231.2" font-size="8" fill="#222" text-anchor="end" font-style="italic" transform="rotate(-90 274.33 231.2)">Tnfrsf1b</text>
<text x="283.46" y="231.2" font-size="8" fill="#222" text-anchor="end" font-style="italic" transform="rotate(-90 283.46 231.2)">Tnfrsf4</text>
<text x="292.59" y="231.2" font-size="8" fill="#222" text-anchor="end" font-style="italic" transform="rotate(-90 292.59 231.2)">Tnfrsf8</text>
<text x="301.72" y="231.2" font-size="8" fill="#222" text-anchor="end" font-style="italic" transform="rotate(-90 301.72 231.2)">Tnfrsf9</text>
<text x="310.85" y="231.2" font-size="8" fill="#222" text-anchor="end" font-style="italic" transform="rotate(-90 310.85 231.2)">Tnfrsf13b</text>
<text x="319.98" y="231.2" font-size="8" fill="#222" text-anchor="end" font-style="italic" transform="rotate(-90 319.98 231.2)">Tnfrsf17</text>
<text x="329.11" y="231.2" font-size="8" fill="#222" text-anchor="end" font-style="italic" transform="rotate(-90 329.11 231.2)">Tnfrsf18</text>
<text x="338.24" y="231.2" font-size="8" fill="#222" text-anchor="end" font-style="italic" transform="rotate(-90 338.24 231.2)">Tnfrsf25</text>
<text x="347.37" y="231.2" font-size="8" fill="#222" text-anchor="end" font-style="italic" transform="rotate(-90 347.37 231.2)">Ccr7</text>
<text x="356.5" y="231.2" font-size="8" fill="#222" text-anchor="end" font-style="italic" transform="rotate(-90 356.5 231.2)">Lef1</text>
<text x="365.63" y="231.2" font-size="8" fill="#222" text-anchor="end" font-style="italic" transform="rotate(-90 365.63 231.2)">Sell</text>
<text x="374.76" y="231.2" font-size="8" fill="#222" text-anchor="end" font-style="italic" transform="rotate(-90 374.76 231.2)">Tcf7</text>
<text x="383.89" y="231.2" font-size="8" fill="#222" text-anchor="end" font-style="italic" transform="rotate(-90 383.89 231.2)">Mki67</text>
<text x="393.02" y="231.2" font-size="8" fill="#222" text-anchor="end" font-style="italic" transform="rotate(-90 393.02 231.2)">Pcna</text>
<text x="402.15" y="231.2" font-size="8" fill="#222" text-anchor="end" font-style="italic" transform="rotate(-90 402.15 231.2)">Il1a</text>
<text x="411.28" y="231.2" font-size="8" fill="#222" text-anchor="end" font-style="italic" transform="rotate(-90 411.28 231.2)">Il1b</text>
<text x="420.41" y="231.2" font-size="8" fill="#222" text-anchor="end" font-style="italic" transform="rotate(-90 420.41 231.2)">Il2</text>
<text x="429.54" y="231.2" font-size="8" fill="#222" text-anchor="end" font-style="italic" transform="rotate(-90 429.54 231.2)">Il4</text>
<text x="438.67" y="231.2" font-size="8" fill="#222" text-anchor="end" font-style="italic" transform="rotate(-90 438.67 231.2)">Il6</text>
<text x="447.8" y="231.2" font-size="8" fill="#222" text-anchor="end" font-style="italic" transform="rotate(-90 447.8 231.2)">Il10</text>
<text x="456.93" y="231.2" font-size="8" fill="#222" text-anchor="end" font-style="italic" transform="rotate(-90 456.93 231.2)">Il12a</text>
<text x="466.06" y="231.2" font-size="8" fill="#222" text-anchor="end" font-style="italic" transform="rotate(-90 466.06 231.2)">Il12b</text>
<text x="475.19" y="231.2" font-size="8" fill="#222" text-anchor="end" font-style="italic" transform="rotate(-90 475.19 231.2)">Il13</text>
<text x="484.32" y="231.2" font-size="8" fill="#222" text-anchor="end" font-style="italic" transform="rotate(-90 484.32 231.2)">Il15</text>
<text x="493.45" y="231.2" font-size="8" fill="#222" text-anchor="end" font-style="italic" transform="rotate(-90 493.45 231.2)">Il17a</text>
<text x="502.58" y="231.2" font-size="8" fill="#222" text-anchor="end" font-style="italic" transform="rotate(-90 502.58 231.2)">Il17f</text>
<text x="511.71" y="231.2" font-size="8" fill="#222" text-anchor="end" font-style="italic" transform="rotate(-90 511.71 231.2)">Il18</text>
<text x="520.84" y="231.2" font-size="8" fill="#222" text-anchor="end" font-style="italic" transform="rotate(-90 520.84 231.2)">Il21</text>
<text x="529.97" y="231.2" font-size="8" fill="#222" text-anchor="end" font-style="italic" transform="rotate(-90 529.97 231.2)">Il33</text>
<text x="539.1" y="231.2" font-size="8" fill="#222" text-anchor="end" font-style="italic" transform="rotate(-90 539.1 231.2)">Ifng</text>
<text x="548.23" y="231.2" font-size="8" fill="#222" text-anchor="end" font-style="italic" transform="rotate(-90 548.23 231.2)">Tgfb1</text>
<text x="557.36" y="231.2" font-size="8" fill="#222" text-anchor="end" font-style="italic" transform="rotate(-90 557.36 231.2)">Tgfb3</text>
<text x="566.49" y="231.2" font-size="8" fill="#222" text-anchor="end" font-style="italic" transform="rotate(-90 566.49 231.2)">Gzma</text>
<text x="575.62" y="231.2" font-size="8" fill="#222" text-anchor="end" font-style="italic" transform="rotate(-90 575.62 231.2)">Gzmb</text>
<text x="584.75" y="231.2" font-size="8" fill="#222" text-anchor="end" font-style="italic" transform="rotate(-90 584.75 231.2)">Gzmk</text>
<text x="593.88" y="231.2" font-size="8" fill="#222" text-anchor="end" font-style="italic" transform="rotate(-90 593.88 231.2)">Nkg7</text>
<text x="603.01" y="231.2" font-size="8" fill="#222" text-anchor="end" font-style="italic" transform="rotate(-90 603.01 231.2)">Prf1</text>
<line x1="81.3" y1="138.8" x2="101.56" y2="138.8" stroke="#f39a1c" stroke-width="2"/>
<line x1="108.69" y1="138.8" x2="183.73" y2="138.8" stroke="#e3242b" stroke-width="2"/>
<line x1="190.86" y1="138.8" x2="238.51" y2="138.8" stroke="#e63f9a" stroke-width="2"/>
<line x1="245.64" y1="138.8" x2="338.94" y2="138.8" stroke="#9a4db0" stroke-width="2"/>
<line x1="346.07" y1="138.8" x2="375.46" y2="138.8" stroke="#5a4fa6" stroke-width="2"/>
<line x1="382.59" y1="138.8" x2="393.72" y2="138.8" stroke="#2f4d9e" stroke-width="2"/>
<line x1="400.85" y1="138.8" x2="558.06" y2="138.8" stroke="#4a8fd2" stroke-width="2"/>
<line x1="565.19" y1="138.8" x2="603.71" y2="138.8" stroke="#58b84e" stroke-width="2"/>
<text x="91.7" y="135.19" font-size="8.55" fill="#222" text-anchor="middle">T cell</text>
<text x="146.2" y="135.19" font-size="8.55" fill="#222" text-anchor="middle">Transcription factor</text>
<text x="213.4" y="135.19" font-size="8.55" fill="#222" text-anchor="middle">Coinhibitory</text>
<text x="291.5" y="135.19" font-size="8.55" fill="#222" text-anchor="middle">Costimulatory</text>
<text x="344" y="134.71" font-size="8.3" fill="#222">Naive</text>
<text x="367.6" y="134.71" font-size="8.3" fill="#222">Proliferating</text>
<text x="474.6" y="135.19" font-size="8.55" fill="#222" text-anchor="middle">Cytokine</text>
<text x="585" y="135.39" font-size="8.55" fill="#222" text-anchor="middle">Cytotoxicity</text>
<text x="642.7" y="152.59" font-size="8.55" fill="#222" text-anchor="middle">Percentage</text>
<circle cx="636.4" cy="159.6" r="4.3" fill="#6a6a6a" stroke="#333" stroke-width="0.4"/>
<text x="643.1" y="162.47" font-size="8.2" fill="#222">100</text>
<circle cx="636.4" cy="169" r="3.6" fill="#6a6a6a" stroke="#333" stroke-width="0.4"/>
<text x="643.1" y="171.87" font-size="8.2" fill="#222">75</text>
<circle cx="636.4" cy="179" r="3" fill="#6a6a6a" stroke="#333" stroke-width="0.4"/>
<text x="643.1" y="181.87" font-size="8.2" fill="#222">50</text>
<circle cx="636.4" cy="188.5" r="2.3" fill="#6a6a6a" stroke="#333" stroke-width="0.4"/>
<text x="643.1" y="191.37" font-size="8.2" fill="#222">25</text>
<circle cx="636.4" cy="196.6" r="0.9" fill="#6a6a6a" stroke="#333" stroke-width="0.4"/>
<text x="643.1" y="199.47" font-size="8.2" fill="#222">0</text>
<text x="645.4" y="213.89" font-size="8.55" fill="#222" text-anchor="middle">Mean expression</text>
<defs><linearGradient id="mexp" x1="0" y1="0" x2="1" y2="0"><stop offset="0" stop-color="#9a5cff"/><stop offset="0.37" stop-color="#ffffff"/><stop offset="1" stop-color="#ff0000"/></linearGradient></defs>
<rect x="611.3" y="218.2" width="69.1" height="8.9" fill="url(#mexp)" stroke="#555" stroke-width="0.5"/>
<line x1="621.5" y1="227.1" x2="621.5" y2="228.5" stroke="#555" stroke-width="0.5"/>
<text x="621.5" y="236.6" font-size="8" fill="#222" text-anchor="middle">−1</text>
<line x1="637.2" y1="227.1" x2="637.2" y2="228.5" stroke="#555" stroke-width="0.5"/>
<text x="637.2" y="236.6" font-size="8" fill="#222" text-anchor="middle">0</text>
<line x1="654.5" y1="227.1" x2="654.5" y2="228.5" stroke="#555" stroke-width="0.5"/>
<text x="654.5" y="236.6" font-size="8" fill="#222" text-anchor="middle">1</text>
<line x1="671" y1="227.1" x2="671" y2="228.5" stroke="#555" stroke-width="0.5"/>
<text x="671" y="236.6" font-size="8" fill="#222" text-anchor="middle">2</text>
<text x="0" y="279" font-size="13" fill="#000" font-weight="bold" stroke="#000" stroke-width="0.35">e</text>
<text x="60.2" y="282.2" font-size="8.3" fill="#222"><tspan>WT T</tspan><tspan font-size="4.98" dy="2.49" font-style="normal">reg</tspan></text>
<line x1="98.5" y1="279.2" x2="135.5" y2="279.2" stroke="#8a94aa" stroke-width="0.9"/>
<path d="M96,279.2 L101.5,277 L101.5,281.4 Z" fill="#5d6b86"/>
<line x1="152.3" y1="279.2" x2="167.5" y2="279.2" stroke="#8a94aa" stroke-width="0.9"/>
<path d="M169.8,279.2 L164.3,277 L164.3,281.4 Z" fill="#5d6b86"/>
<text x="171.6" y="282.1" font-size="8.3" fill="#222"><tspan font-style="italic">Pd1</tspan><tspan font-size="5" dy="-3">−/−</tspan><tspan dy="3"> T</tspan><tspan font-size="5" dy="2.5">reg</tspan></text>
<circle cx="137.33" cy="301.62" r="1.9" fill="#d9d9d9" fill-opacity="0.75"/>
<circle cx="140.56" cy="309.06" r="1.9" fill="#d9d9d9" fill-opacity="0.75"/>
<circle cx="146.27" cy="309.06" r="1.9" fill="#d9d9d9" fill-opacity="0.75"/>
<circle cx="151.73" cy="309.06" r="1.9" fill="#d9d9d9" fill-opacity="0.75"/>
<circle cx="143.04" cy="317.75" r="1.9" fill="#d9d9d9" fill-opacity="0.75"/>
<circle cx="149.24" cy="317.75" r="1.9" fill="#d9d9d9" fill-opacity="0.75"/>
<circle cx="145.52" cy="323.95" r="1.9" fill="#d9d9d9" fill-opacity="0.75"/>
<circle cx="148" cy="322.71" r="1.9" fill="#d9d9d9" fill-opacity="0.75"/>
<circle cx="138.08" cy="330.16" r="1.9" fill="#d9d9d9" fill-opacity="0.75"/>
<circle cx="141.8" cy="332.64" r="1.9" fill="#d9d9d9" fill-opacity="0.75"/>
<circle cx="149.24" cy="330.16" r="1.9" fill="#d9d9d9" fill-opacity="0.75"/>
<circle cx="150.49" cy="337.6" r="1.9" fill="#d9d9d9" fill-opacity="0.75"/>
<circle cx="148" cy="343.81" r="1.9" fill="#d9d9d9" fill-opacity="0.75"/>
<circle cx="150.49" cy="347.53" r="1.9" fill="#d9d9d9" fill-opacity="0.75"/>
<circle cx="140.56" cy="348.77" r="1.9" fill="#d9d9d9" fill-opacity="0.75"/>
<circle cx="145.52" cy="351.26" r="1.9" fill="#d9d9d9" fill-opacity="0.75"/>
<circle cx="138.08" cy="359.94" r="1.9" fill="#d9d9d9" fill-opacity="0.75"/>
<circle cx="141.8" cy="362.42" r="1.9" fill="#d9d9d9" fill-opacity="0.75"/>
<circle cx="146.76" cy="359.94" r="1.9" fill="#d9d9d9" fill-opacity="0.75"/>
<circle cx="150.49" cy="356.22" r="1.9" fill="#d9d9d9" fill-opacity="0.75"/>
<circle cx="143.04" cy="368.63" r="1.9" fill="#d9d9d9" fill-opacity="0.75"/>
<circle cx="150.49" cy="367.39" r="1.9" fill="#d9d9d9" fill-opacity="0.75"/>
<circle cx="146.76" cy="371.11" r="1.9" fill="#d9d9d9" fill-opacity="0.75"/>
<circle cx="141.8" cy="377.32" r="1.9" fill="#d9d9d9" fill-opacity="0.75"/>
<circle cx="149.24" cy="377.32" r="1.9" fill="#d9d9d9" fill-opacity="0.75"/>
<circle cx="145.52" cy="382.28" r="1.9" fill="#d9d9d9" fill-opacity="0.75"/>
<circle cx="150.49" cy="384.76" r="1.9" fill="#d9d9d9" fill-opacity="0.75"/>
<circle cx="146.76" cy="389.73" r="1.9" fill="#d9d9d9" fill-opacity="0.75"/>
<circle cx="143.04" cy="393.45" r="1.9" fill="#d9d9d9" fill-opacity="0.75"/>
<circle cx="149.24" cy="394.69" r="1.9" fill="#d9d9d9" fill-opacity="0.75"/>
<circle cx="139.32" cy="407.1" r="1.9" fill="#d9d9d9" fill-opacity="0.75"/>
<circle cx="144.28" cy="409.58" r="1.9" fill="#d9d9d9" fill-opacity="0.75"/>
<circle cx="151.73" cy="407.1" r="1.9" fill="#d9d9d9" fill-opacity="0.75"/>
<circle cx="141.8" cy="417.03" r="1.9" fill="#d9d9d9" fill-opacity="0.75"/>
<circle cx="149.24" cy="414.55" r="1.9" fill="#d9d9d9" fill-opacity="0.75"/>
<circle cx="144.28" cy="421.99" r="1.9" fill="#d9d9d9" fill-opacity="0.75"/>
<circle cx="154.21" cy="421.99" r="1.9" fill="#d9d9d9" fill-opacity="0.75"/>
<circle cx="137.33" cy="315.27" r="1.9" fill="#d9d9d9" fill-opacity="0.75"/>
<circle cx="144.28" cy="340.09" r="1.9" fill="#d9d9d9" fill-opacity="0.75"/>
<circle cx="139.32" cy="387.24" r="1.9" fill="#d9d9d9" fill-opacity="0.75"/>
<circle cx="148" cy="399.65" r="1.9" fill="#d9d9d9" fill-opacity="0.75"/>
<circle cx="151.73" cy="399.65" r="1.9" fill="#d9d9d9" fill-opacity="0.75"/>
<circle cx="90.92" cy="432.66" r="1.9" fill="#d9d9d9" fill-opacity="0.75"/>
<circle cx="94.64" cy="432.66" r="1.9" fill="#d9d9d9" fill-opacity="0.75"/>
<circle cx="102.09" cy="432.66" r="1.9" fill="#d9d9d9" fill-opacity="0.75"/>
<circle cx="108.29" cy="432.66" r="1.9" fill="#d9d9d9" fill-opacity="0.75"/>
<circle cx="112.01" cy="432.66" r="1.9" fill="#d9d9d9" fill-opacity="0.75"/>
<circle cx="115.74" cy="432.66" r="1.9" fill="#d9d9d9" fill-opacity="0.75"/>
<circle cx="119.46" cy="432.66" r="1.9" fill="#d9d9d9" fill-opacity="0.75"/>
<circle cx="123.18" cy="432.66" r="1.9" fill="#d9d9d9" fill-opacity="0.75"/>
<circle cx="129.39" cy="432.66" r="1.9" fill="#d9d9d9" fill-opacity="0.75"/>
<circle cx="134.35" cy="432.66" r="1.9" fill="#d9d9d9" fill-opacity="0.75"/>
<circle cx="140.56" cy="432.66" r="1.9" fill="#d9d9d9" fill-opacity="0.75"/>
<circle cx="143.04" cy="432.66" r="1.9" fill="#d9d9d9" fill-opacity="0.75"/>
<circle cx="146.76" cy="432.66" r="1.9" fill="#d9d9d9" fill-opacity="0.75"/>
<circle cx="159.17" cy="432.66" r="1.9" fill="#d9d9d9" fill-opacity="0.75"/>
<circle cx="161.65" cy="432.66" r="1.9" fill="#d9d9d9" fill-opacity="0.75"/>
<circle cx="164.14" cy="432.66" r="1.9" fill="#d9d9d9" fill-opacity="0.75"/>
<circle cx="169.1" cy="432.66" r="1.9" fill="#d9d9d9" fill-opacity="0.75"/>
<circle cx="175.31" cy="432.66" r="1.9" fill="#d9d9d9" fill-opacity="0.75"/>
<circle cx="54.93" cy="292.93" r="1.9" fill="#7b7bff" fill-opacity="0.55"/>
<circle cx="74.04" cy="292.93" r="1.9" fill="#7b7bff" fill-opacity="0.55"/>
<circle cx="81.73" cy="292.93" r="1.9" fill="#7b7bff" fill-opacity="0.55"/>
<circle cx="94.14" cy="292.93" r="1.9" fill="#7b7bff" fill-opacity="0.55"/>
<circle cx="97.62" cy="292.93" r="1.9" fill="#7b7bff" fill-opacity="0.55"/>
<circle cx="101.59" cy="292.93" r="1.9" fill="#7b7bff" fill-opacity="0.55"/>
<circle cx="105.31" cy="292.93" r="1.9" fill="#7b7bff" fill-opacity="0.55"/>
<circle cx="107.05" cy="297.89" r="1.9" fill="#7b7bff" fill-opacity="0.55"/>
<circle cx="110.03" cy="297.89" r="1.9" fill="#7b7bff" fill-opacity="0.55"/>
<circle cx="112.01" cy="298.39" r="1.9" fill="#7b7bff" fill-opacity="0.55"/>
<circle cx="108.29" cy="302.36" r="1.9" fill="#7b7bff" fill-opacity="0.55"/>
<circle cx="114.5" cy="301.62" r="1.9" fill="#7b7bff" fill-opacity="0.55"/>
<circle cx="118.22" cy="301.62" r="1.9" fill="#7b7bff" fill-opacity="0.55"/>
<circle cx="126.91" cy="301.62" r="1.9" fill="#7b7bff" fill-opacity="0.55"/>
<circle cx="129.88" cy="301.62" r="1.9" fill="#7b7bff" fill-opacity="0.55"/>
<circle cx="132.37" cy="301.62" r="1.9" fill="#7b7bff" fill-opacity="0.55"/>
<circle cx="131.87" cy="300.87" r="1.9" fill="#7b7bff" fill-opacity="0.55"/>
<circle cx="99.11" cy="309.06" r="1.9" fill="#7b7bff" fill-opacity="0.55"/>
<circle cx="116.48" cy="309.06" r="1.9" fill="#7b7bff" fill-opacity="0.55"/>
<circle cx="118.22" cy="312.78" r="1.9" fill="#7b7bff" fill-opacity="0.55"/>
<circle cx="125.67" cy="309.06" r="1.9" fill="#7b7bff" fill-opacity="0.55"/>
<circle cx="128.15" cy="309.06" r="1.9" fill="#7b7bff" fill-opacity="0.55"/>
<circle cx="130.63" cy="309.06" r="1.9" fill="#7b7bff" fill-opacity="0.55"/>
<circle cx="133.11" cy="309.06" r="1.9" fill="#7b7bff" fill-opacity="0.55"/>
<circle cx="134.35" cy="309.81" r="1.9" fill="#7b7bff" fill-opacity="0.55"/>
<circle cx="90.92" cy="313.28" r="1.9" fill="#7b7bff" fill-opacity="0.55"/>
<circle cx="117.47" cy="317.75" r="1.9" fill="#7b7bff" fill-opacity="0.55"/>
<circle cx="124.42" cy="316.51" r="1.9" fill="#7b7bff" fill-opacity="0.55"/>
<circle cx="128.15" cy="316.51" r="1.9" fill="#7b7bff" fill-opacity="0.55"/>
<circle cx="131.87" cy="316.51" r="1.9" fill="#7b7bff" fill-opacity="0.55"/>
<circle cx="131.37" cy="323.95" r="1.9" fill="#7b7bff" fill-opacity="0.55"/>
<circle cx="133.11" cy="323.95" r="1.9" fill="#7b7bff" fill-opacity="0.55"/>
<circle cx="129.39" cy="327.68" r="1.9" fill="#7b7bff" fill-opacity="0.55"/>
<circle cx="126.91" cy="328.92" r="1.9" fill="#7b7bff" fill-opacity="0.55"/>
<circle cx="120.7" cy="328.92" r="1.9" fill="#7b7bff" fill-opacity="0.55"/>
<circle cx="106.55" cy="332.64" r="1.9" fill="#7b7bff" fill-opacity="0.55"/>
<circle cx="112.01" cy="333.88" r="1.9" fill="#7b7bff" fill-opacity="0.55"/>
<circle cx="95.88" cy="336.86" r="1.9" fill="#7b7bff" fill-opacity="0.55"/>
<circle cx="129.39" cy="342.57" r="1.9" fill="#7b7bff" fill-opacity="0.55"/>
<circle cx="131.87" cy="342.57" r="1.9" fill="#7b7bff" fill-opacity="0.55"/>
<circle cx="133.11" cy="341.33" r="1.9" fill="#7b7bff" fill-opacity="0.55"/>
<circle cx="99.11" cy="350.51" r="1.9" fill="#7b7bff" fill-opacity="0.55"/>
<circle cx="99.11" cy="354.98" r="1.9" fill="#7b7bff" fill-opacity="0.55"/>
<circle cx="112.01" cy="345.05" r="1.9" fill="#7b7bff" fill-opacity="0.55"/>
<circle cx="119.46" cy="347.53" r="1.9" fill="#7b7bff" fill-opacity="0.55"/>
<circle cx="123.18" cy="357.96" r="1.9" fill="#7b7bff" fill-opacity="0.55"/>
<circle cx="126.91" cy="362.42" r="1.9" fill="#7b7bff" fill-opacity="0.55"/>
<circle cx="116.98" cy="367.39" r="1.9" fill="#7b7bff" fill-opacity="0.55"/>
<circle cx="123.93" cy="367.39" r="1.9" fill="#7b7bff" fill-opacity="0.55"/>
<circle cx="131.87" cy="367.39" r="1.9" fill="#7b7bff" fill-opacity="0.55"/>
<circle cx="132.37" cy="369.87" r="1.9" fill="#7b7bff" fill-opacity="0.55"/>
<circle cx="118.96" cy="371.61" r="1.9" fill="#7b7bff" fill-opacity="0.55"/>
<circle cx="133.11" cy="376.08" r="1.9" fill="#7b7bff" fill-opacity="0.55"/>
<circle cx="123.93" cy="379.8" r="1.9" fill="#7b7bff" fill-opacity="0.55"/>
<circle cx="134.35" cy="387.24" r="1.9" fill="#7b7bff" fill-opacity="0.55"/>
<circle cx="62.87" cy="387.74" r="1.9" fill="#7b7bff" fill-opacity="0.55"/>
<circle cx="120.7" cy="402.63" r="1.9" fill="#7b7bff" fill-opacity="0.55"/>
<circle cx="121.94" cy="405.86" r="1.9" fill="#7b7bff" fill-opacity="0.55"/>
<circle cx="90.92" cy="406.36" r="1.9" fill="#7b7bff" fill-opacity="0.55"/>
<circle cx="121.94" cy="410.08" r="1.9" fill="#7b7bff" fill-opacity="0.55"/>
<circle cx="114.5" cy="413.8" r="1.9" fill="#7b7bff" fill-opacity="0.55"/>
<circle cx="121.94" cy="413.8" r="1.9" fill="#7b7bff" fill-opacity="0.55"/>
<circle cx="130.63" cy="413.8" r="1.9" fill="#7b7bff" fill-opacity="0.55"/>
<circle cx="104.57" cy="420.75" r="1.9" fill="#7b7bff" fill-opacity="0.55"/>
<circle cx="133.11" cy="417.03" r="1.9" fill="#7b7bff" fill-opacity="0.55"/>
<circle cx="110.03" cy="306.58" r="1.9" fill="#7b7bff" fill-opacity="0.55"/>
<circle cx="119.46" cy="306.58" r="1.9" fill="#7b7bff" fill-opacity="0.55"/>
<circle cx="124.42" cy="305.34" r="1.9" fill="#7b7bff" fill-opacity="0.55"/>
<circle cx="129.39" cy="320.23" r="1.9" fill="#7b7bff" fill-opacity="0.55"/>
<circle cx="132.37" cy="332.64" r="1.9" fill="#7b7bff" fill-opacity="0.55"/>
<circle cx="133.86" cy="336.36" r="1.9" fill="#7b7bff" fill-opacity="0.55"/>
<circle cx="130.88" cy="354.98" r="1.9" fill="#7b7bff" fill-opacity="0.55"/>
<circle cx="132.61" cy="357.46" r="1.9" fill="#7b7bff" fill-opacity="0.55"/>
<circle cx="155.45" cy="301.62" r="1.9" fill="#ff7070" fill-opacity="0.55"/>
<circle cx="156.69" cy="301.62" r="1.9" fill="#ff7070" fill-opacity="0.55"/>
<circle cx="161.65" cy="309.06" r="1.9" fill="#ff7070" fill-opacity="0.55"/>
<circle cx="162.9" cy="309.81" r="1.9" fill="#ff7070" fill-opacity="0.55"/>
<circle cx="168.6" cy="317.75" r="1.9" fill="#ff7070" fill-opacity="0.55"/>
<circle cx="161.65" cy="320.23" r="1.9" fill="#ff7070" fill-opacity="0.55"/>
<circle cx="166.62" cy="321.47" r="1.9" fill="#ff7070" fill-opacity="0.55"/>
<circle cx="154.21" cy="323.95" r="1.9" fill="#ff7070" fill-opacity="0.55"/>
<circle cx="157.93" cy="323.95" r="1.9" fill="#ff7070" fill-opacity="0.55"/>
<circle cx="155.45" cy="325.19" r="1.9" fill="#ff7070" fill-opacity="0.55"/>
<circle cx="160.41" cy="330.16" r="1.9" fill="#ff7070" fill-opacity="0.55"/>
<circle cx="152.97" cy="345.05" r="1.9" fill="#ff7070" fill-opacity="0.55"/>
<circle cx="172.08" cy="343.81" r="1.9" fill="#ff7070" fill-opacity="0.55"/>
<circle cx="174.06" cy="348.77" r="1.9" fill="#ff7070" fill-opacity="0.55"/>
<circle cx="176.55" cy="350.51" r="1.9" fill="#ff7070" fill-opacity="0.55"/>
<circle cx="169.1" cy="353.74" r="1.9" fill="#ff7070" fill-opacity="0.55"/>
<circle cx="172.82" cy="352.5" r="1.9" fill="#ff7070" fill-opacity="0.55"/>
<circle cx="163.64" cy="355.47" r="1.9" fill="#ff7070" fill-opacity="0.55"/>
<circle cx="195.16" cy="356.22" r="1.9" fill="#ff7070" fill-opacity="0.55"/>
<circle cx="156.69" cy="361.18" r="1.9" fill="#ff7070" fill-opacity="0.55"/>
<circle cx="160.41" cy="361.18" r="1.9" fill="#ff7070" fill-opacity="0.55"/>
<circle cx="173.57" cy="361.18" r="1.9" fill="#ff7070" fill-opacity="0.55"/>
<circle cx="185.98" cy="367.39" r="1.9" fill="#ff7070" fill-opacity="0.55"/>
<circle cx="156.19" cy="364.91" r="1.9" fill="#ff7070" fill-opacity="0.55"/>
<circle cx="159.17" cy="369.87" r="1.9" fill="#ff7070" fill-opacity="0.55"/>
<circle cx="157.19" cy="376.08" r="1.9" fill="#ff7070" fill-opacity="0.55"/>
<circle cx="157.93" cy="383.52" r="1.9" fill="#ff7070" fill-opacity="0.55"/>
<circle cx="181.01" cy="384.76" r="1.9" fill="#ff7070" fill-opacity="0.55"/>
<circle cx="159.17" cy="385.26" r="1.9" fill="#ff7070" fill-opacity="0.55"/>
<circle cx="155.45" cy="389.73" r="1.9" fill="#ff7070" fill-opacity="0.55"/>
<circle cx="161.65" cy="392.21" r="1.9" fill="#ff7070" fill-opacity="0.55"/>
<circle cx="172.82" cy="402.14" r="1.9" fill="#ff7070" fill-opacity="0.55"/>
<circle cx="156.69" cy="405.86" r="1.9" fill="#ff7070" fill-opacity="0.55"/>
<circle cx="161.65" cy="405.86" r="1.9" fill="#ff7070" fill-opacity="0.55"/>
<circle cx="157.93" cy="410.82" r="1.9" fill="#ff7070" fill-opacity="0.55"/>
<circle cx="169.1" cy="410.82" r="1.9" fill="#ff7070" fill-opacity="0.55"/>
<circle cx="155.45" cy="414.55" r="1.9" fill="#ff7070" fill-opacity="0.55"/>
<circle cx="157.93" cy="417.03" r="1.9" fill="#ff7070" fill-opacity="0.55"/>
<circle cx="159.17" cy="420.75" r="1.9" fill="#ff7070" fill-opacity="0.55"/>
<circle cx="161.65" cy="421.99" r="1.9" fill="#ff7070" fill-opacity="0.55"/>
<circle cx="154.21" cy="332.64" r="1.9" fill="#ff7070" fill-opacity="0.55"/>
<circle cx="155.45" cy="350.01" r="1.9" fill="#ff7070" fill-opacity="0.55"/>
<circle cx="154.7" cy="357.46" r="1.9" fill="#ff7070" fill-opacity="0.55"/>
<circle cx="156.19" cy="379.8" r="1.9" fill="#ff7070" fill-opacity="0.55"/>
<circle cx="154.7" cy="399.65" r="1.9" fill="#ff7070" fill-opacity="0.55"/>
<circle cx="132.37" cy="301.62" r="1.9" fill="#3d3dff" fill-opacity="0.55"/>
<circle cx="131.87" cy="300.87" r="1.9" fill="#3d3dff" fill-opacity="0.55"/>
<circle cx="133.11" cy="323.95" r="1.9" fill="#3d3dff" fill-opacity="0.55"/>
<circle cx="131.37" cy="323.95" r="1.9" fill="#3d3dff" fill-opacity="0.55"/>
<circle cx="131.87" cy="342.57" r="1.9" fill="#3d3dff" fill-opacity="0.55"/>
<circle cx="133.11" cy="341.33" r="1.9" fill="#3d3dff" fill-opacity="0.55"/>
<circle cx="130.63" cy="309.06" r="1.9" fill="#3d3dff" fill-opacity="0.55"/>
<circle cx="133.11" cy="309.06" r="1.9" fill="#3d3dff" fill-opacity="0.55"/>
<circle cx="129.39" cy="301.62" r="1.9" fill="#3d3dff" fill-opacity="0.55"/>
<circle cx="132.37" cy="316.51" r="1.9" fill="#3d3dff" fill-opacity="0.55"/>
<circle cx="130.63" cy="328.92" r="1.9" fill="#3d3dff" fill-opacity="0.55"/>
<circle cx="133.11" cy="357.46" r="1.9" fill="#3d3dff" fill-opacity="0.55"/>
<circle cx="131.87" cy="367.39" r="1.9" fill="#3d3dff" fill-opacity="0.55"/>
<circle cx="154.21" cy="323.95" r="1.9" fill="#ff3a3a" fill-opacity="0.5"/>
<circle cx="157.93" cy="323.95" r="1.9" fill="#ff3a3a" fill-opacity="0.5"/>
<circle cx="155.45" cy="325.19" r="1.9" fill="#ff3a3a" fill-opacity="0.5"/>
<circle cx="155.45" cy="301.62" r="1.9" fill="#ff3a3a" fill-opacity="0.5"/>
<circle cx="154.21" cy="345.05" r="1.9" fill="#ff3a3a" fill-opacity="0.5"/>
<circle cx="155.45" cy="389.73" r="1.9" fill="#ff3a3a" fill-opacity="0.5"/>
<circle cx="156.69" cy="405.86" r="1.9" fill="#ff3a3a" fill-opacity="0.5"/>
<circle cx="155.45" cy="414.55" r="1.9" fill="#ff3a3a" fill-opacity="0.5"/>
<circle cx="131.48" cy="390.14" r="1.9" fill="#5a5aff" fill-opacity="0.45"/>
<circle cx="132.86" cy="417.23" r="1.9" fill="#5a5aff" fill-opacity="0.45"/>
<circle cx="132.42" cy="414.51" r="1.9" fill="#5a5aff" fill-opacity="0.45"/>
<circle cx="126.73" cy="352.86" r="1.9" fill="#5a5aff" fill-opacity="0.45"/>
<circle cx="134.05" cy="377.61" r="1.9" fill="#5a5aff" fill-opacity="0.45"/>
<circle cx="133.71" cy="305.28" r="1.9" fill="#5a5aff" fill-opacity="0.45"/>
<circle cx="130.25" cy="323.29" r="1.9" fill="#5a5aff" fill-opacity="0.45"/>
<circle cx="130.85" cy="367.48" r="1.9" fill="#5a5aff" fill-opacity="0.45"/>
<circle cx="126.6" cy="319.26" r="1.9" fill="#5a5aff" fill-opacity="0.45"/>
<circle cx="128.74" cy="413.71" r="1.9" fill="#5a5aff" fill-opacity="0.45"/>
<circle cx="132.63" cy="311.55" r="1.9" fill="#5a5aff" fill-opacity="0.45"/>
<circle cx="132.88" cy="308.73" r="1.9" fill="#5a5aff" fill-opacity="0.45"/>
<circle cx="131.44" cy="307.1" r="1.9" fill="#5a5aff" fill-opacity="0.45"/>
<circle cx="126.51" cy="407.64" r="1.9" fill="#5a5aff" fill-opacity="0.45"/>
<circle cx="128.18" cy="319.09" r="1.9" fill="#5a5aff" fill-opacity="0.45"/>
<circle cx="134.36" cy="407.78" r="1.9" fill="#5a5aff" fill-opacity="0.45"/>
<circle cx="128.81" cy="419.8" r="1.9" fill="#5a5aff" fill-opacity="0.45"/>
<circle cx="130.81" cy="381.51" r="1.9" fill="#5a5aff" fill-opacity="0.45"/>
<circle cx="128.14" cy="417.03" r="1.9" fill="#5a5aff" fill-opacity="0.45"/>
<circle cx="132.03" cy="420.49" r="1.9" fill="#5a5aff" fill-opacity="0.45"/>
<circle cx="133.65" cy="330.34" r="1.9" fill="#5a5aff" fill-opacity="0.45"/>
<circle cx="129.39" cy="312.4" r="1.9" fill="#5a5aff" fill-opacity="0.45"/>
<circle cx="127.67" cy="298.79" r="1.9" fill="#5a5aff" fill-opacity="0.45"/>
<circle cx="128.91" cy="371.42" r="1.9" fill="#5a5aff" fill-opacity="0.45"/>
<circle cx="126.53" cy="381.52" r="1.9" fill="#5a5aff" fill-opacity="0.45"/>
<circle cx="129.2" cy="331.84" r="1.9" fill="#5a5aff" fill-opacity="0.45"/>
<circle cx="133.05" cy="354.9" r="1.9" fill="#5a5aff" fill-opacity="0.45"/>
<circle cx="129.03" cy="354.96" r="1.9" fill="#5a5aff" fill-opacity="0.45"/>
<circle cx="132.14" cy="297.7" r="1.9" fill="#5a5aff" fill-opacity="0.45"/>
<circle cx="134.3" cy="293.09" r="1.9" fill="#5a5aff" fill-opacity="0.45"/>
<circle cx="158.82" cy="409.97" r="1.9" fill="#ff4a4a" fill-opacity="0.45"/>
<circle cx="153.92" cy="401.86" r="1.9" fill="#ff4a4a" fill-opacity="0.45"/>
<circle cx="156.25" cy="372.15" r="1.9" fill="#ff4a4a" fill-opacity="0.45"/>
<circle cx="153.86" cy="296.64" r="1.9" fill="#ff4a4a" fill-opacity="0.45"/>
<circle cx="155.01" cy="425.64" r="1.9" fill="#ff4a4a" fill-opacity="0.45"/>
<circle cx="155.12" cy="397.31" r="1.9" fill="#ff4a4a" fill-opacity="0.45"/>
<circle cx="160.03" cy="423.77" r="1.9" fill="#ff4a4a" fill-opacity="0.45"/>
<circle cx="156.11" cy="340.38" r="1.9" fill="#ff4a4a" fill-opacity="0.45"/>
<circle cx="157.32" cy="400.14" r="1.9" fill="#ff4a4a" fill-opacity="0.45"/>
<circle cx="154.52" cy="396.27" r="1.9" fill="#ff4a4a" fill-opacity="0.45"/>
<circle cx="159.14" cy="412.08" r="1.9" fill="#ff4a4a" fill-opacity="0.45"/>
<circle cx="154.05" cy="424.3" r="1.9" fill="#ff4a4a" fill-opacity="0.45"/>
<circle cx="154.41" cy="338.39" r="1.9" fill="#ff4a4a" fill-opacity="0.45"/>
<circle cx="157.89" cy="420.37" r="1.9" fill="#ff4a4a" fill-opacity="0.45"/>
<circle cx="156.08" cy="421.24" r="1.9" fill="#ff4a4a" fill-opacity="0.45"/>
<circle cx="157.45" cy="334.37" r="1.9" fill="#ff4a4a" fill-opacity="0.45"/>
<circle cx="155.92" cy="315.2" r="1.9" fill="#ff4a4a" fill-opacity="0.45"/>
<circle cx="154.32" cy="311.14" r="1.9" fill="#ff4a4a" fill-opacity="0.45"/>
<circle cx="158.42" cy="431.54" r="1.9" fill="#ff4a4a" fill-opacity="0.45"/>
<circle cx="154.88" cy="296.89" r="1.9" fill="#ff4a4a" fill-opacity="0.45"/>
<circle cx="160.41" cy="365.76" r="1.9" fill="#ff4a4a" fill-opacity="0.45"/>
<circle cx="156.52" cy="323.7" r="1.9" fill="#ff4a4a" fill-opacity="0.45"/>
<circle cx="157.78" cy="407.33" r="1.9" fill="#ff4a4a" fill-opacity="0.45"/>
<circle cx="156.85" cy="349.89" r="1.9" fill="#ff4a4a" fill-opacity="0.45"/>
<circle cx="154.17" cy="420.08" r="1.9" fill="#ff4a4a" fill-opacity="0.45"/>
<circle cx="154.02" cy="360.09" r="1.9" fill="#ff4a4a" fill-opacity="0.45"/>
<circle cx="159.42" cy="308.54" r="1.9" fill="#ff4a4a" fill-opacity="0.45"/>
<circle cx="158.7" cy="424.87" r="1.9" fill="#ff4a4a" fill-opacity="0.45"/>
<circle cx="158.02" cy="401.9" r="1.9" fill="#ff4a4a" fill-opacity="0.45"/>
<circle cx="154.51" cy="351.71" r="1.9" fill="#ff4a4a" fill-opacity="0.45"/>
<circle cx="154.8" cy="409.95" r="1.9" fill="#ff4a4a" fill-opacity="0.45"/>
<circle cx="155.78" cy="354.35" r="1.9" fill="#ff4a4a" fill-opacity="0.45"/>
<circle cx="160.5" cy="411.02" r="1.9" fill="#ff4a4a" fill-opacity="0.45"/>
<circle cx="160.34" cy="354.4" r="1.9" fill="#ff4a4a" fill-opacity="0.45"/>
<rect x="46.6" y="286.1" width="165.9" height="153.1" fill="none" stroke="#8a8a8a" stroke-width="0.9"/>
<line x1="135.3" y1="286.1" x2="135.3" y2="439.2" stroke="#222" stroke-width="0.8" stroke-dasharray="2.2,1.6"/>
<line x1="153.1" y1="286.1" x2="153.1" y2="439.2" stroke="#222" stroke-width="0.8" stroke-dasharray="2.2,1.6"/>
<line x1="46.6" y1="426.2" x2="212.5" y2="426.2" stroke="#222" stroke-width="0.8" stroke-dasharray="2.2,1.6"/>
<line x1="54.6" y1="439.2" x2="54.6" y2="441.7" stroke="#4a4a4a" stroke-width="0.8"/>
<text x="54.6" y="450.9" font-size="8" fill="#222" text-anchor="middle">−6</text>
<line x1="84.1" y1="439.2" x2="84.1" y2="441.7" stroke="#4a4a4a" stroke-width="0.8"/>
<text x="84.1" y="450.9" font-size="8" fill="#222" text-anchor="middle">−4</text>
<line x1="114" y1="439.2" x2="114" y2="441.7" stroke="#4a4a4a" stroke-width="0.8"/>
<text x="114" y="450.9" font-size="8" fill="#222" text-anchor="middle">−2</text>
<line x1="144.3" y1="439.2" x2="144.3" y2="441.7" stroke="#4a4a4a" stroke-width="0.8"/>
<text x="144.3" y="450.9" font-size="8" fill="#222" text-anchor="middle">0</text>
<line x1="174.1" y1="439.2" x2="174.1" y2="441.7" stroke="#4a4a4a" stroke-width="0.8"/>
<text x="174.1" y="450.9" font-size="8" fill="#222" text-anchor="middle">2</text>
<line x1="203.9" y1="439.2" x2="203.9" y2="441.7" stroke="#4a4a4a" stroke-width="0.8"/>
<text x="203.9" y="450.9" font-size="8" fill="#222" text-anchor="middle">4</text>
<line x1="44.1" y1="432.7" x2="46.6" y2="432.7" stroke="#4a4a4a" stroke-width="0.8"/>
<text x="42.6" y="435.5" font-size="8" fill="#222" text-anchor="end">0</text>
<line x1="44.1" y1="379.4" x2="46.6" y2="379.4" stroke="#4a4a4a" stroke-width="0.8"/>
<text x="42.6" y="382.2" font-size="8" fill="#222" text-anchor="end">10</text>
<line x1="44.1" y1="326.1" x2="46.6" y2="326.1" stroke="#4a4a4a" stroke-width="0.8"/>
<text x="42.6" y="328.9" font-size="8" fill="#222" text-anchor="end">20</text>
<text x="129" y="461.9" font-size="8.3" fill="#222" text-anchor="middle">log<tspan font-size="5" dy="2">2</tspan><tspan dy="-2"> fold change</tspan></text>
<text transform="rotate(-90 24.5 363.6)" x="24.5" y="366.5" font-size="8.3" fill="#222" text-anchor="middle">−log<tspan font-size="5" dy="2">10</tspan><tspan dy="-2">(</tspan><tspan font-style="italic">P</tspan><tspan font-size="5" dy="2">adj.</tspan><tspan dy="-2">)</tspan></text>
<rect x="110.1" y="331.5" width="28" height="10.6" fill="#fff" stroke="#555" stroke-width="0.6" rx="0.8"/>
<text x="124.1" y="339.6" font-size="8" fill="#222" text-anchor="middle" font-style="italic">Pdcd1</text>
<circle cx="123.9" cy="345.6" r="2.5" fill="#0b0b5a" stroke="#000" stroke-width="0.6"/>
<rect x="158.3" y="388.4" width="30.5" height="10.6" fill="#fff" stroke="#555" stroke-width="0.6" rx="0.8"/>
<text x="173.55" y="396.5" font-size="8" fill="#222" text-anchor="middle" font-style="italic">Tnfrsf8</text>
<circle cx="164.1" cy="402.6" r="2.4" fill="#c42222" stroke="#000" stroke-width="0.6"/>
<rect x="123.6" y="393.5" width="28.3" height="10.9" fill="#fff" stroke="#555" stroke-width="0.6" rx="0.8"/>
<text x="137.75" y="401.75" font-size="8" fill="#222" text-anchor="middle" font-style="italic">Lrrc32</text>
<circle cx="148.7" cy="408.1" r="2.4" fill="#9a9a9a" stroke="#222" stroke-width="0.6"/>
<rect x="113" y="418.5" width="35.7" height="11" fill="#fff" stroke="#555" stroke-width="0.6" rx="0.8"/>
<text x="130.85" y="426.8" font-size="8" fill="#222" text-anchor="middle" font-style="italic">Tnfrsf18</text>
<rect x="154.1" y="418.5" width="25.1" height="11" fill="#fff" stroke="#555" stroke-width="0.6" rx="0.8"/>
<text x="166.65" y="426.8" font-size="8" fill="#222" text-anchor="middle" font-style="italic">Ctla4</text>
<circle cx="148.5" cy="432.7" r="2.4" fill="#9a9a9a" stroke="#222" stroke-width="0.6"/>
<circle cx="154.3" cy="432.7" r="2.4" fill="#9a9a9a" stroke="#222" stroke-width="0.6"/>
<text x="220.7" y="278.5" font-size="13" fill="#000" font-weight="bold" stroke="#000" stroke-width="0.35">f</text>
<rect x="333" y="277.5" width="131.2" height="102.7" fill="none" stroke="#8a8a8a" stroke-width="0.9"/>
<text x="326" y="288.18" font-size="8.5" fill="#222" text-anchor="end">Immune effector regulation</text>
<line x1="329.8" y1="285.2" x2="333" y2="285.2" stroke="#4a4a4a" stroke-width="0.8"/>
<text x="326" y="300.62" font-size="8.5" fill="#222" text-anchor="end">Leukocyte migration</text>
<line x1="329.8" y1="297.65" x2="333" y2="297.65" stroke="#4a4a4a" stroke-width="0.8"/>
<text x="326" y="313.07" font-size="8.5" fill="#222" text-anchor="end">Production of mediator</text>
<line x1="329.8" y1="310.1" x2="333" y2="310.1" stroke="#4a4a4a" stroke-width="0.8"/>
<text x="326" y="325.52" font-size="8.5" fill="#222" text-anchor="end">Cytokine signaling</text>
<line x1="329.8" y1="322.55" x2="333" y2="322.55" stroke="#4a4a4a" stroke-width="0.8"/>
<text x="326" y="337.98" font-size="8.5" fill="#222" text-anchor="end">Mononuclear migration</text>
<line x1="329.8" y1="335" x2="333" y2="335" stroke="#4a4a4a" stroke-width="0.8"/>
<text x="326" y="350.43" font-size="8.5" fill="#222" text-anchor="end">Mononuclear proliferation</text>
<line x1="329.8" y1="347.45" x2="333" y2="347.45" stroke="#4a4a4a" stroke-width="0.8"/>
<text x="326" y="362.88" font-size="8.5" fill="#222" text-anchor="end">Leukocyte immunity</text>
<line x1="329.8" y1="359.9" x2="333" y2="359.9" stroke="#4a4a4a" stroke-width="0.8"/>
<text x="326" y="375.32" font-size="8.5" fill="#222" text-anchor="end">Myeloid leukocyte migration</text>
<line x1="329.8" y1="372.35" x2="333" y2="372.35" stroke="#4a4a4a" stroke-width="0.8"/>
<circle cx="458.2" cy="285.2" r="4.1" fill="#ff0000" stroke="#5a0000" stroke-width="0.4"/>
<circle cx="413.2" cy="297.65" r="3.5" fill="#ff0000" stroke="#5a0000" stroke-width="0.4"/>
<circle cx="413.2" cy="310.1" r="3.5" fill="#ff0000" stroke="#5a0000" stroke-width="0.4"/>
<circle cx="413.2" cy="322.55" r="3.5" fill="#ff0000" stroke="#5a0000" stroke-width="0.4"/>
<circle cx="353.1" cy="335" r="2.7" fill="#f20018" stroke="#5a0000" stroke-width="0.4"/>
<circle cx="353.1" cy="347.45" r="2.7" fill="#d2005a" stroke="#5a0000" stroke-width="0.4"/>
<circle cx="353.1" cy="359.9" r="2.6" fill="#8c00c6" stroke="#5a0000" stroke-width="0.4"/>
<circle cx="338.1" cy="372.35" r="1.7" fill="#1010e0" stroke="#000070" stroke-width="0.4"/>
<line x1="333.3" y1="380.2" x2="333.3" y2="382.7" stroke="#4a4a4a" stroke-width="0.8"/>
<text x="333.3" y="391.8" font-size="8" fill="#222" text-anchor="middle">0.18</text>
<line x1="367.7" y1="380.2" x2="367.7" y2="382.7" stroke="#4a4a4a" stroke-width="0.8"/>
<text x="367.7" y="391.8" font-size="8" fill="#222" text-anchor="middle">0.21</text>
<line x1="401.6" y1="380.2" x2="401.6" y2="382.7" stroke="#4a4a4a" stroke-width="0.8"/>
<text x="401.6" y="391.8" font-size="8" fill="#222" text-anchor="middle">0.24</text>
<line x1="436.2" y1="380.2" x2="436.2" y2="382.7" stroke="#4a4a4a" stroke-width="0.8"/>
<text x="436.2" y="391.8" font-size="8" fill="#222" text-anchor="middle">0.27</text>
<text x="398.3" y="401.34" font-size="8.4" fill="#222" text-anchor="middle">GeneRatio</text>
<text x="256.5" y="393.54" font-size="8.4" fill="#222" text-anchor="middle">Count</text>
<circle cx="250.2" cy="399.6" r="1.5" fill="#fff" stroke="#333" stroke-width="0.6"/>
<text x="257.3" y="402.47" font-size="8.2" fill="#222">14</text>
<circle cx="250.2" cy="407.5" r="2.3" fill="#fff" stroke="#333" stroke-width="0.6"/>
<text x="257.3" y="410.37" font-size="8.2" fill="#222">16</text>
<circle cx="250.2" cy="416.2" r="3" fill="#fff" stroke="#333" stroke-width="0.6"/>
<text x="257.3" y="419.07" font-size="8.2" fill="#222">18</text>
<circle cx="250.2" cy="425.3" r="3.6" fill="#fff" stroke="#333" stroke-width="0.6"/>
<text x="257.3" y="428.17" font-size="8.2" fill="#222">20</text>
<circle cx="250.2" cy="433.9" r="4.1" fill="#fff" stroke="#333" stroke-width="0.6"/>
<text x="257.3" y="436.77" font-size="8.2" fill="#222">22</text>
<text x="281" y="392.4" font-size="8.4" fill="#222"><tspan font-style="italic">P</tspan><tspan font-size="5" dy="2">adj.</tspan></text>
<defs><linearGradient id="padj" x1="0" y1="0" x2="0" y2="1"><stop offset="0" stop-color="#ff0010"/><stop offset="0.45" stop-color="#d0007a"/><stop offset="0.75" stop-color="#8a00d0"/><stop offset="1" stop-color="#1818ff"/></linearGradient></defs>
<rect x="280.2" y="397.7" width="7.8" height="38.2" fill="url(#padj)"/>
<line x1="288" y1="408.7" x2="289.5" y2="408.7" stroke="#fff" stroke-width="0.5"/>
<line x1="288" y1="420.5" x2="289.5" y2="420.5" stroke="#fff" stroke-width="0.5"/>
<line x1="288" y1="433.1" x2="289.5" y2="433.1" stroke="#fff" stroke-width="0.5"/>
<text x="291.6" y="411.4" font-size="7.6" fill="#222">1 × 10<tspan font-size="4.8" dy="-3">−13</tspan></text>
<text x="291.6" y="423.2" font-size="7.6" fill="#222">2 × 10<tspan font-size="4.8" dy="-3">−13</tspan></text>
<text x="291.6" y="435.8" font-size="7.6" fill="#222">3 × 10<tspan font-size="4.8" dy="-3">−13</tspan></text>
<text x="475.9" y="278.2" font-size="13" fill="#000" font-weight="bold" stroke="#000" stroke-width="0.35">g</text>
<text x="588.2" y="279.84" font-size="8.4" fill="#222" text-anchor="middle">Regulation of cytokine production</text>
<line x1="535.9" y1="297.4" x2="535.9" y2="349" stroke="#e4e4e4" stroke-width="0.6"/>
<line x1="535.9" y1="369.5" x2="535.9" y2="403.8" stroke="#e4e4e4" stroke-width="0.6"/>
<line x1="567.2" y1="297.4" x2="567.2" y2="349" stroke="#e4e4e4" stroke-width="0.6"/>
<line x1="567.2" y1="369.5" x2="567.2" y2="403.8" stroke="#e4e4e4" stroke-width="0.6"/>
<line x1="598.5" y1="297.4" x2="598.5" y2="349" stroke="#e4e4e4" stroke-width="0.6"/>
<line x1="598.5" y1="369.5" x2="598.5" y2="403.8" stroke="#e4e4e4" stroke-width="0.6"/>
<line x1="629.8" y1="297.4" x2="629.8" y2="349" stroke="#e4e4e4" stroke-width="0.6"/>
<line x1="629.8" y1="369.5" x2="629.8" y2="403.8" stroke="#e4e4e4" stroke-width="0.6"/>
<line x1="661.1" y1="297.4" x2="661.1" y2="349" stroke="#e4e4e4" stroke-width="0.6"/>
<line x1="661.1" y1="369.5" x2="661.1" y2="403.8" stroke="#e4e4e4" stroke-width="0.6"/>
<line x1="505" y1="297.4" x2="505" y2="349" stroke="#4a4a4a" stroke-width="0.8"/>
<line x1="502.3" y1="312.3" x2="505" y2="312.3" stroke="#4a4a4a" stroke-width="0.8"/>
<text x="500.8" y="315.1" font-size="8" fill="#222" text-anchor="end">0.4</text>
<line x1="502.3" y1="327.7" x2="505" y2="327.7" stroke="#4a4a4a" stroke-width="0.8"/>
<text x="500.8" y="330.5" font-size="8" fill="#222" text-anchor="end">0.2</text>
<line x1="502.3" y1="343.8" x2="505" y2="343.8" stroke="#4a4a4a" stroke-width="0.8"/>
<text x="500.8" y="346.6" font-size="8" fill="#222" text-anchor="end">0</text>
<polyline points="505,343.8 507,345.6 508.8,335 510.9,336 512.7,331.6 514,333 516.2,329 517.6,326.3 519,326.5 520.7,321 522.8,317.6 524.9,308.8 526.7,307.9 528.4,302.7 531.6,301.8 533.7,302.7 536.5,304.4 538.2,302.1 540,302.7 541.7,299.7 544.7,300.9 552.6,305.6 555.2,303.2 557.9,303.9 559.6,303.2 565.2,306.7 567.5,303.5 576.2,307 581.5,309.7 584.1,308.8 588.6,312.3 599.9,318.7 609.5,322.9 614.3,324.1 638.4,335.7 643.2,336.3 646.4,335.7 651.3,337.9 667.3,345.3 668.9,341.2 673.7,342.8 675.2,343.3" fill="none" stroke="#3fea3f" stroke-width="1.1"/>
<line x1="506.7" y1="350.5" x2="506.7" y2="361.4" stroke="#222" stroke-width="0.7"/>
<line x1="508.4" y1="350.5" x2="508.4" y2="361.4" stroke="#222" stroke-width="0.7"/>
<line x1="510.2" y1="350.5" x2="510.2" y2="361.4" stroke="#222" stroke-width="0.7"/>
<line x1="512.3" y1="350.5" x2="512.3" y2="361.4" stroke="#222" stroke-width="0.7"/>
<line x1="514.1" y1="350.5" x2="514.1" y2="361.4" stroke="#222" stroke-width="0.7"/>
<line x1="516.2" y1="350.5" x2="516.2" y2="361.4" stroke="#222" stroke-width="0.7"/>
<line x1="517.6" y1="350.5" x2="517.6" y2="361.4" stroke="#222" stroke-width="0.7"/>
<line x1="520.2" y1="350.5" x2="520.2" y2="361.4" stroke="#222" stroke-width="0.7"/>
<line x1="521.1" y1="350.5" x2="521.1" y2="361.4" stroke="#222" stroke-width="0.7"/>
<line x1="522.8" y1="350.5" x2="522.8" y2="361.4" stroke="#222" stroke-width="0.7"/>
<line x1="524" y1="350.5" x2="524" y2="361.4" stroke="#222" stroke-width="0.7"/>
<line x1="524.9" y1="350.5" x2="524.9" y2="361.4" stroke="#222" stroke-width="0.7"/>
<line x1="527.2" y1="350.5" x2="527.2" y2="361.4" stroke="#222" stroke-width="0.7"/>
<line x1="531.6" y1="350.5" x2="531.6" y2="361.4" stroke="#222" stroke-width="0.7"/>
<line x1="537.2" y1="350.5" x2="537.2" y2="361.4" stroke="#222" stroke-width="0.7"/>
<line x1="541.2" y1="350.5" x2="541.2" y2="361.4" stroke="#222" stroke-width="0.7"/>
<line x1="553.5" y1="350.5" x2="553.5" y2="361.4" stroke="#222" stroke-width="0.7"/>
<line x1="555.2" y1="350.5" x2="555.2" y2="361.4" stroke="#222" stroke-width="0.7"/>
<line x1="558.7" y1="350.5" x2="558.7" y2="361.4" stroke="#222" stroke-width="0.7"/>
<line x1="566.3" y1="350.5" x2="566.3" y2="361.4" stroke="#222" stroke-width="0.7"/>
<line x1="576.2" y1="350.5" x2="576.2" y2="361.4" stroke="#222" stroke-width="0.7"/>
<line x1="582.4" y1="350.5" x2="582.4" y2="361.4" stroke="#222" stroke-width="0.7"/>
<line x1="610" y1="350.5" x2="610" y2="361.4" stroke="#222" stroke-width="0.7"/>
<line x1="612.6" y1="350.5" x2="612.6" y2="361.4" stroke="#222" stroke-width="0.7"/>
<line x1="638.5" y1="350.5" x2="638.5" y2="361.4" stroke="#222" stroke-width="0.7"/>
<line x1="641" y1="350.5" x2="641" y2="361.4" stroke="#222" stroke-width="0.7"/>
<line x1="643.3" y1="350.5" x2="643.3" y2="361.4" stroke="#222" stroke-width="0.7"/>
<line x1="667.5" y1="350.5" x2="667.5" y2="361.4" stroke="#222" stroke-width="0.7"/>
<rect x="505" y="362.2" width="8" height="5.4" fill="#a8141e"/>
<rect x="513" y="362.2" width="29" height="5.4" fill="#d8322e"/>
<rect x="542" y="362.2" width="56.3" height="5.4" fill="#f0624a"/>
<rect x="598.3" y="362.2" width="16" height="5.4" fill="#f8a88f"/>
<rect x="614.3" y="362.2" width="24.1" height="5.4" fill="#fde3da"/>
<rect x="638.4" y="362.2" width="12.9" height="5.4" fill="#e9eef8"/>
<rect x="651.3" y="362.2" width="4.2" height="5.4" fill="#c5daf0"/>
<rect x="655.5" y="362.2" width="5.4" height="5.4" fill="#9cc4e4"/>
<rect x="660.9" y="362.2" width="9.6" height="5.4" fill="#4b8fc7"/>
<rect x="670.5" y="362.2" width="4.37" height="5.4" fill="#2163a8"/>
<polygon points="504.6,390.9 504.6,379.46 505.23,380.83 505.85,382 506.48,383 507.1,383.85 507.73,384.58 508.36,385.2 508.98,385.74 509.61,386.2 510.23,386.59 510.86,386.93 511.49,387.23 512.11,387.48 512.74,387.7 513.36,387.9 513.99,388.07 514.62,388.22 515.24,388.35 515.87,388.47 516.49,388.57 517.12,388.66 517.75,388.75 518.37,388.82 519,388.89 519.62,388.96 520.25,389.01 520.88,389.07 521.5,389.12 522.13,389.16 522.75,389.21 523.38,389.25 524.01,389.29 524.63,389.32 525.26,389.36 525.88,389.39 526.51,389.42 527.14,389.45 527.76,389.48 528.39,389.51 529.01,389.54 529.64,389.57 530.27,389.59 530.89,389.62 531.52,389.64 532.14,389.66 532.77,389.69 533.4,389.71 534.02,389.73 534.65,389.75 535.27,389.77 535.9,389.79 536.53,389.81 537.15,389.83 537.78,389.85 538.4,389.87 539.03,389.89 539.66,389.91 540.28,389.92 540.91,389.94 541.53,389.96 542.16,389.97 542.79,389.99 543.41,390.01 544.04,390.02 544.66,390.04 545.29,390.05 545.92,390.07 546.54,390.08 547.17,390.09 547.79,390.11 548.42,390.12 549.05,390.13 549.67,390.15 550.3,390.16 550.92,390.17 551.55,390.19 552.18,390.2 552.8,390.21 553.43,390.22 554.05,390.23 554.68,390.24 555.31,390.26 555.93,390.27 556.56,390.28 557.18,390.29 557.81,390.3 558.44,390.31 559.06,390.32 559.69,390.33 560.31,390.34 560.94,390.35 561.57,390.36 562.19,390.37 562.82,390.38 563.44,390.39 564.07,390.39 564.7,390.4 565.32,390.41 565.95,390.42 566.57,390.43 567.2,390.44 567.83,390.45 568.45,390.45 569.08,390.46 569.7,390.47 570.33,390.48 570.96,390.49 571.58,390.49 572.21,390.5 572.83,390.51 573.46,390.52 574.09,390.52 574.71,390.53 575.34,390.54 575.96,390.54 576.59,390.55 577.22,390.56 577.84,390.56 578.47,390.57 579.09,390.58 579.72,390.58 580.35,390.59 580.97,390.6 581.6,390.6 582.22,390.61 582.85,390.62 583.48,390.62 584.1,390.63 584.73,390.63 585.35,390.64 585.98,390.65 586.61,390.65 587.23,390.66 587.86,390.66 588.48,390.67 589.11,390.67 589.74,390.68 590.36,390.69 590.99,390.69 591.61,390.7 592.24,390.7 592.87,390.71 593.49,390.71 594.12,390.72 594.74,390.72 595.37,390.73 596,390.73 596.62,390.74 597.25,390.74 597.87,390.75 598.5,390.81 599.13,390.81 599.75,390.82 600.38,390.83 601,390.84 601.63,390.85 602.26,390.85 602.88,390.86 603.51,390.87 604.13,390.88 604.76,390.88 605.39,390.89 606.01,390.9 606.64,390.91 607.26,390.91 607.89,390.92 608.52,390.93 609.14,390.94 609.77,390.94 610.39,390.95 611.02,390.96 611.65,390.97 612.27,390.98 612.9,390.98 613.52,390.99 614.15,391 614.78,391.01 615.4,391.01 616.03,391.02 616.65,391.03 617.28,391.04 617.91,391.05 618.53,391.05 619.16,391.06 619.78,391.07 620.41,391.08 621.04,391.09 621.66,391.1 622.29,391.1 622.91,391.11 623.54,391.12 624.17,391.13 624.79,391.14 625.42,391.15 626.04,391.16 626.67,391.17 627.3,391.18 627.92,391.19 628.55,391.21 629.17,391.22 629.8,391.23 630.43,391.24 631.05,391.26 631.68,391.27 632.3,391.29 632.93,391.3 633.56,391.32 634.18,391.33 634.81,391.35 635.43,391.37 636.06,391.39 636.69,391.41 637.31,391.43 637.94,391.46 638.56,391.48 639.19,391.51 639.82,391.53 640.44,391.56 641.07,391.59 641.69,391.63 642.32,391.66 642.95,391.7 643.57,391.73 644.2,391.77 644.82,391.82 645.45,391.86 646.08,391.91 646.7,391.96 647.33,392.01 647.95,392.07 648.58,392.13 649.21,392.19 649.83,392.26 650.46,392.32 651.08,392.4 651.71,392.48 652.34,392.56 652.96,392.64 653.59,392.74 654.21,392.83 654.84,392.93 655.47,393.04 656.09,393.15 656.72,393.27 657.34,393.39 657.97,393.52 658.6,393.66 659.22,393.8 659.85,393.95 660.47,394.11 661.1,394.28 661.73,394.45 662.35,394.63 662.98,394.83 663.6,395.03 664.23,395.24 664.86,395.46 665.48,395.69 666.11,395.93 666.73,396.18 667.36,396.44 667.99,396.72 668.61,397.01 669.24,397.31 669.86,397.62 670.49,397.95 671.12,398.29 671.74,398.64 672.37,399.02 672.99,399.4 673.62,399.81 674.25,400.23 674.87,400.66 674.87,390.9" fill="#c4c4c4" stroke="#c4c4c4" stroke-width="0.4"/>
<line x1="505" y1="369.5" x2="505" y2="403.8" stroke="#4a4a4a" stroke-width="0.8"/>
<line x1="505" y1="403.8" x2="674.87" y2="403.8" stroke="#4a4a4a" stroke-width="0.8"/>
<line x1="502.3" y1="372.6" x2="505" y2="372.6" stroke="#4a4a4a" stroke-width="0.8"/>
<text x="500.8" y="375.4" font-size="8" fill="#222" text-anchor="end">10</text>
<line x1="502.3" y1="381.6" x2="505" y2="381.6" stroke="#4a4a4a" stroke-width="0.8"/>
<text x="500.8" y="384.4" font-size="8" fill="#222" text-anchor="end">5</text>
<line x1="502.3" y1="390.9" x2="505" y2="390.9" stroke="#4a4a4a" stroke-width="0.8"/>
<text x="500.8" y="393.7" font-size="8" fill="#222" text-anchor="end">0</text>
<line x1="502.3" y1="399.6" x2="505" y2="399.6" stroke="#4a4a4a" stroke-width="0.8"/>
<text x="500.8" y="402.4" font-size="8" fill="#222" text-anchor="end">−5</text>
<line x1="567.2" y1="403.8" x2="567.2" y2="406.3" stroke="#4a4a4a" stroke-width="0.8"/>
<text x="567.2" y="414.6" font-size="8" fill="#222" text-anchor="middle">100</text>
<line x1="629.8" y1="403.8" x2="629.8" y2="406.3" stroke="#4a4a4a" stroke-width="0.8"/>
<text x="629.8" y="414.6" font-size="8" fill="#222" text-anchor="middle">200</text>
<text x="589.5" y="426.64" font-size="8.4" fill="#222" text-anchor="middle">Rank in ordered dataset</text>
<text x="480.4" y="353.7" font-size="8.3" fill="#222" text-anchor="middle" transform="rotate(-90 480.4 350.8)">Ranked list metric running ES</text>
<text x="599.9" y="302.27" font-size="8.2" fill="#222">NES = 1.75</text>
<text x="599.9" y="311" font-size="8.2" fill="#222"><tspan font-style="italic">P</tspan><tspan font-size="5" dy="2">adj.</tspan><tspan dy="-2"> = 0.008</tspan></text>
<text x="0" y="477.3" font-size="13" fill="#000" font-weight="bold" stroke="#000" stroke-width="0.35">h</text>
<line x1="56.5" y1="492.1" x2="56.5" y2="566" stroke="#4a4a4a" stroke-width="0.8"/>
<line x1="56.5" y1="566" x2="105.7" y2="566" stroke="#4a4a4a" stroke-width="0.8"/>
<line x1="53.9" y1="492.1" x2="56.5" y2="492.1" stroke="#4a4a4a" stroke-width="0.8"/>
<text x="52.3" y="494.9" font-size="8" fill="#222" text-anchor="end">0.4</text>
<line x1="53.9" y1="510.6" x2="56.5" y2="510.6" stroke="#4a4a4a" stroke-width="0.8"/>
<text x="52.3" y="513.4" font-size="8" fill="#222" text-anchor="end">0.3</text>
<line x1="53.9" y1="529.1" x2="56.5" y2="529.1" stroke="#4a4a4a" stroke-width="0.8"/>
<text x="52.3" y="531.9" font-size="8" fill="#222" text-anchor="end">0.2</text>
<line x1="53.9" y1="547.5" x2="56.5" y2="547.5" stroke="#4a4a4a" stroke-width="0.8"/>
<text x="52.3" y="550.3" font-size="8" fill="#222" text-anchor="end">0.1</text>
<line x1="53.9" y1="566" x2="56.5" y2="566" stroke="#4a4a4a" stroke-width="0.8"/>
<text x="52.3" y="568.8" font-size="8" fill="#222" text-anchor="end">0</text>
<line x1="70.7" y1="566" x2="70.7" y2="568.5" stroke="#4a4a4a" stroke-width="0.8"/>
<line x1="91.5" y1="566" x2="91.5" y2="568.5" stroke="#4a4a4a" stroke-width="0.8"/>
<text x="70.7" y="577.53" font-size="7.8" fill="#222" text-anchor="middle">WT</text>
<text x="93" y="577.53" font-size="7.8" fill="#222" text-anchor="middle"><tspan font-style="italic">Pd1</tspan><tspan font-size="4.68" dy="-2.96">−/−</tspan></text>
<text x="81.1" y="477.4" font-size="8.3" fill="#222" text-anchor="middle" font-style="italic">Tnfrsf8</text>
<text x="81.1" y="491" font-size="12" fill="#111" text-anchor="middle" font-weight="bold">***</text>
<line x1="70.7" y1="488.6" x2="91.9" y2="488.6" stroke="#333" stroke-width="1"/>
<circle cx="65.8" cy="566" r="2.15" fill="#000"/>
<circle cx="68.3" cy="566" r="2.15" fill="#000"/>
<circle cx="70.8" cy="566" r="2.15" fill="#000"/>
<circle cx="73.3" cy="566" r="2.15" fill="#000"/>
<circle cx="75.8" cy="566" r="2.15" fill="#000"/>
<circle cx="91.5" cy="497" r="2.15" fill="#1f43e6"/>
<circle cx="86.7" cy="510.3" r="2.15" fill="#1f43e6"/>
<circle cx="96.4" cy="508.2" r="2.15" fill="#1f43e6"/>
<circle cx="91.5" cy="528.3" r="2.15" fill="#1f43e6"/>
<circle cx="91.5" cy="536.3" r="2.15" fill="#1f43e6"/>
<line x1="64.5" y1="566" x2="76.9" y2="566" stroke="#333" stroke-width="0.8"/>
<line x1="85.3" y1="516.2" x2="97.7" y2="516.2" stroke="#333" stroke-width="0.8"/>
<line x1="91.5" y1="508.2" x2="91.5" y2="523.4" stroke="#333" stroke-width="0.8"/>
<line x1="88.2" y1="508.2" x2="94.8" y2="508.2" stroke="#333" stroke-width="0.8"/>
<line x1="88.2" y1="523.4" x2="94.8" y2="523.4" stroke="#333" stroke-width="0.8"/>
<text transform="rotate(-90 22.5 529.9)" x="22.5" y="532.7" font-size="8.1" fill="#222" text-anchor="middle"><tspan font-style="italic">Tnfrsf8</tspan> mRNA</text>
<text x="31.3" y="532.74" font-size="8.1" fill="#222" text-anchor="middle" transform="rotate(-90 31.3 529.9)">expression per mouse</text>
<line x1="144.3" y1="491.8" x2="144.3" y2="565.5" stroke="#4a4a4a" stroke-width="0.8"/>
<line x1="144.3" y1="565.5" x2="194.1" y2="565.5" stroke="#4a4a4a" stroke-width="0.8"/>
<line x1="141.7" y1="491.8" x2="144.3" y2="491.8" stroke="#4a4a4a" stroke-width="0.8"/>
<text x="140.1" y="494.6" font-size="8" fill="#222" text-anchor="end">5</text>
<line x1="141.7" y1="506.6" x2="144.3" y2="506.6" stroke="#4a4a4a" stroke-width="0.8"/>
<text x="140.1" y="509.4" font-size="8" fill="#222" text-anchor="end">4</text>
<line x1="141.7" y1="521.3" x2="144.3" y2="521.3" stroke="#4a4a4a" stroke-width="0.8"/>
<text x="140.1" y="524.1" font-size="8" fill="#222" text-anchor="end">3</text>
<line x1="141.7" y1="536" x2="144.3" y2="536" stroke="#4a4a4a" stroke-width="0.8"/>
<text x="140.1" y="538.8" font-size="8" fill="#222" text-anchor="end">2</text>
<line x1="141.7" y1="550.7" x2="144.3" y2="550.7" stroke="#4a4a4a" stroke-width="0.8"/>
<text x="140.1" y="553.5" font-size="8" fill="#222" text-anchor="end">1</text>
<line x1="141.7" y1="565.5" x2="144.3" y2="565.5" stroke="#4a4a4a" stroke-width="0.8"/>
<text x="140.1" y="568.3" font-size="8" fill="#222" text-anchor="end">0</text>
<line x1="158.8" y1="565.5" x2="158.8" y2="568" stroke="#4a4a4a" stroke-width="0.8"/>
<line x1="180.2" y1="565.5" x2="180.2" y2="568" stroke="#4a4a4a" stroke-width="0.8"/>
<text x="158.8" y="577.53" font-size="7.8" fill="#222" text-anchor="middle">WT</text>
<text x="181.7" y="577.53" font-size="7.8" fill="#222" text-anchor="middle"><tspan font-style="italic">Pd1</tspan><tspan font-size="4.68" dy="-2.96">−/−</tspan></text>
<text x="169.5" y="477.7" font-size="8.3" fill="#222" text-anchor="middle" font-style="italic">Ctla4</text>
<text x="169.5" y="493.6" font-size="8" fill="#333" text-anchor="middle">NS</text>
<line x1="158.8" y1="495.7" x2="180.6" y2="495.7" stroke="#9a9a9a" stroke-width="1"/>
<circle cx="159.3" cy="504.6" r="2.15" fill="#000"/>
<circle cx="159.3" cy="511.4" r="2.15" fill="#000"/>
<circle cx="159.3" cy="517" r="2.15" fill="#000"/>
<circle cx="154.5" cy="521" r="2.15" fill="#000"/>
<circle cx="164.1" cy="519.7" r="2.15" fill="#000"/>
<circle cx="175.3" cy="513.5" r="2.15" fill="#1f43e6"/>
<circle cx="180.2" cy="517.3" r="2.15" fill="#1f43e6"/>
<circle cx="185.3" cy="515.9" r="2.15" fill="#1f43e6"/>
<circle cx="182.9" cy="521.8" r="2.15" fill="#1f43e6"/>
<circle cx="178.1" cy="525.8" r="2.15" fill="#1f43e6"/>
<line x1="152.6" y1="514.6" x2="165" y2="514.6" stroke="#333" stroke-width="0.8"/>
<line x1="158.8" y1="511.7" x2="158.8" y2="517.5" stroke="#333" stroke-width="0.8"/>
<line x1="155.5" y1="511.7" x2="162.1" y2="511.7" stroke="#333" stroke-width="0.8"/>
<line x1="155.5" y1="517.5" x2="162.1" y2="517.5" stroke="#333" stroke-width="0.8"/>
<line x1="174" y1="519.1" x2="186.4" y2="519.1" stroke="#333" stroke-width="0.8"/>
<line x1="180.2" y1="516.5" x2="180.2" y2="521.7" stroke="#333" stroke-width="0.8"/>
<line x1="176.9" y1="516.5" x2="183.5" y2="516.5" stroke="#333" stroke-width="0.8"/>
<line x1="176.9" y1="521.7" x2="183.5" y2="521.7" stroke="#333" stroke-width="0.8"/>
<text transform="rotate(-90 116.2 529)" x="116.2" y="531.8" font-size="8.1" fill="#222" text-anchor="middle"><tspan font-style="italic">Ctla4</tspan> mRNA</text>
<text x="126.7" y="531.84" font-size="8.1" fill="#222" text-anchor="middle" transform="rotate(-90 126.7 529)">expression per mouse</text>
<line x1="232.3" y1="492.1" x2="232.3" y2="565.5" stroke="#4a4a4a" stroke-width="0.8"/>
<line x1="232.3" y1="565.5" x2="281.7" y2="565.5" stroke="#4a4a4a" stroke-width="0.8"/>
<line x1="229.7" y1="492.1" x2="232.3" y2="492.1" stroke="#4a4a4a" stroke-width="0.8"/>
<text x="228.1" y="494.9" font-size="8" fill="#222" text-anchor="end">4</text>
<line x1="229.7" y1="510.6" x2="232.3" y2="510.6" stroke="#4a4a4a" stroke-width="0.8"/>
<text x="228.1" y="513.4" font-size="8" fill="#222" text-anchor="end">3</text>
<line x1="229.7" y1="529" x2="232.3" y2="529" stroke="#4a4a4a" stroke-width="0.8"/>
<text x="228.1" y="531.8" font-size="8" fill="#222" text-anchor="end">2</text>
<line x1="229.7" y1="547.5" x2="232.3" y2="547.5" stroke="#4a4a4a" stroke-width="0.8"/>
<text x="228.1" y="550.3" font-size="8" fill="#222" text-anchor="end">1</text>
<line x1="229.7" y1="565.5" x2="232.3" y2="565.5" stroke="#4a4a4a" stroke-width="0.8"/>
<text x="228.1" y="568.3" font-size="8" fill="#222" text-anchor="end">0</text>
<line x1="246.4" y1="565.5" x2="246.4" y2="568" stroke="#4a4a4a" stroke-width="0.8"/>
<line x1="267.6" y1="565.5" x2="267.6" y2="568" stroke="#4a4a4a" stroke-width="0.8"/>
<text x="246.4" y="577.53" font-size="7.8" fill="#222" text-anchor="middle">WT</text>
<text x="269.1" y="577.53" font-size="7.8" fill="#222" text-anchor="middle"><tspan font-style="italic">Pd1</tspan><tspan font-size="4.68" dy="-2.96">−/−</tspan></text>
<text x="257" y="477.7" font-size="8.3" fill="#222" text-anchor="middle" font-style="italic">Tnfrsf18</text>
<text x="257" y="488" font-size="8" fill="#333" text-anchor="middle">NS</text>
<line x1="246.4" y1="490.2" x2="268" y2="490.2" stroke="#333" stroke-width="1"/>
<circle cx="246.4" cy="498.9" r="2.15" fill="#000"/>
<circle cx="241.6" cy="511.7" r="2.15" fill="#000"/>
<circle cx="251.5" cy="509.5" r="2.15" fill="#000"/>
<circle cx="241.6" cy="517.5" r="2.15" fill="#000"/>
<circle cx="251.2" cy="515.9" r="2.15" fill="#000"/>
<circle cx="262.8" cy="505" r="2.15" fill="#1f43e6"/>
<circle cx="272.6" cy="507.4" r="2.15" fill="#1f43e6"/>
<circle cx="262.8" cy="511.7" r="2.15" fill="#1f43e6"/>
<circle cx="272.6" cy="514.6" r="2.15" fill="#1f43e6"/>
<circle cx="262.8" cy="519.1" r="2.15" fill="#1f43e6"/>
<line x1="240.2" y1="511.4" x2="252.6" y2="511.4" stroke="#333" stroke-width="0.8"/>
<line x1="246.4" y1="507.5" x2="246.4" y2="515" stroke="#333" stroke-width="0.8"/>
<line x1="243.1" y1="507.5" x2="249.7" y2="507.5" stroke="#333" stroke-width="0.8"/>
<line x1="243.1" y1="515" x2="249.7" y2="515" stroke="#333" stroke-width="0.8"/>
<line x1="261.4" y1="511.7" x2="273.8" y2="511.7" stroke="#333" stroke-width="0.8"/>
<line x1="267.6" y1="509" x2="267.6" y2="514.5" stroke="#333" stroke-width="0.8"/>
<line x1="264.3" y1="509" x2="270.9" y2="509" stroke="#333" stroke-width="0.8"/>
<line x1="264.3" y1="514.5" x2="270.9" y2="514.5" stroke="#333" stroke-width="0.8"/>
<text transform="rotate(-90 203.8 529)" x="203.8" y="531.8" font-size="8.1" fill="#222" text-anchor="middle"><tspan font-style="italic">Tnfrsf18</tspan> mRNA</text>
<text x="214" y="531.84" font-size="8.1" fill="#222" text-anchor="middle" transform="rotate(-90 214 529)">expression per mouse</text>
<line x1="56.2" y1="594.5" x2="56.2" y2="668.3" stroke="#4a4a4a" stroke-width="0.8"/>
<line x1="56.2" y1="668.3" x2="105.7" y2="668.3" stroke="#4a4a4a" stroke-width="0.8"/>
<line x1="53.6" y1="594.5" x2="56.2" y2="594.5" stroke="#4a4a4a" stroke-width="0.8"/>
<text x="52" y="597.3" font-size="8" fill="#222" text-anchor="end">2.0</text>
<line x1="53.6" y1="612.9" x2="56.2" y2="612.9" stroke="#4a4a4a" stroke-width="0.8"/>
<text x="52" y="615.7" font-size="8" fill="#222" text-anchor="end">1.5</text>
<line x1="53.6" y1="631.4" x2="56.2" y2="631.4" stroke="#4a4a4a" stroke-width="0.8"/>
<text x="52" y="634.2" font-size="8" fill="#222" text-anchor="end">1.0</text>
<line x1="53.6" y1="649.9" x2="56.2" y2="649.9" stroke="#4a4a4a" stroke-width="0.8"/>
<text x="52" y="652.7" font-size="8" fill="#222" text-anchor="end">0.5</text>
<line x1="53.6" y1="668.3" x2="56.2" y2="668.3" stroke="#4a4a4a" stroke-width="0.8"/>
<text x="52" y="671.1" font-size="8" fill="#222" text-anchor="end">0</text>
<line x1="70.7" y1="668.3" x2="70.7" y2="670.8" stroke="#4a4a4a" stroke-width="0.8"/>
<line x1="91.5" y1="668.3" x2="91.5" y2="670.8" stroke="#4a4a4a" stroke-width="0.8"/>
<text x="70.7" y="679.93" font-size="7.8" fill="#222" text-anchor="middle">WT</text>
<text x="93" y="679.93" font-size="7.8" fill="#222" text-anchor="middle"><tspan font-style="italic">Pd1</tspan><tspan font-size="4.68" dy="-2.96">−/−</tspan></text>
<text x="81.1" y="592.2" font-size="8.3" fill="#222" text-anchor="middle" font-style="italic">Lrrc32</text>
<text x="81.1" y="611.4" font-size="8" fill="#333" text-anchor="middle">NS</text>
<line x1="70.7" y1="613.4" x2="91.9" y2="613.4" stroke="#333" stroke-width="1"/>
<circle cx="70.7" cy="622.1" r="2.15" fill="#000"/>
<circle cx="70.7" cy="632.7" r="2.15" fill="#000"/>
<circle cx="70.7" cy="643" r="2.15" fill="#000"/>
<circle cx="70.7" cy="651.9" r="2.15" fill="#000"/>
<circle cx="70.7" cy="668.3" r="2.15" fill="#000"/>
<circle cx="91.5" cy="637.3" r="2.15" fill="#1f43e6"/>
<circle cx="91.5" cy="643" r="2.15" fill="#1f43e6"/>
<circle cx="91.5" cy="656.3" r="2.15" fill="#1f43e6"/>
<circle cx="86.7" cy="668.3" r="2.15" fill="#1f43e6"/>
<circle cx="96.4" cy="668.3" r="2.15" fill="#1f43e6"/>
<line x1="64.5" y1="643.4" x2="76.9" y2="643.4" stroke="#333" stroke-width="0.8"/>
<line x1="70.7" y1="635.4" x2="70.7" y2="651.5" stroke="#333" stroke-width="0.8"/>
<line x1="67.4" y1="635.4" x2="74" y2="635.4" stroke="#333" stroke-width="0.8"/>
<line x1="67.4" y1="651.5" x2="74" y2="651.5" stroke="#333" stroke-width="0.8"/>
<line x1="85.3" y1="654.4" x2="97.7" y2="654.4" stroke="#333" stroke-width="0.8"/>
<line x1="91.5" y1="648.3" x2="91.5" y2="661.1" stroke="#333" stroke-width="0.8"/>
<line x1="88.2" y1="648.3" x2="94.8" y2="648.3" stroke="#333" stroke-width="0.8"/>
<line x1="88.2" y1="661.1" x2="94.8" y2="661.1" stroke="#333" stroke-width="0.8"/>
<text transform="rotate(-90 22.5 631.5)" x="22.5" y="634.3" font-size="8.1" fill="#222" text-anchor="middle"><tspan font-style="italic">Lrrc32</tspan> mRNA</text>
<text x="31.3" y="634.34" font-size="8.1" fill="#222" text-anchor="middle" transform="rotate(-90 31.3 631.5)">expression per mouse</text>
<line x1="145.1" y1="594.5" x2="145.1" y2="668.3" stroke="#4a4a4a" stroke-width="0.8"/>
<line x1="145.1" y1="668.3" x2="194.1" y2="668.3" stroke="#4a4a4a" stroke-width="0.8"/>
<line x1="142.5" y1="594.5" x2="145.1" y2="594.5" stroke="#4a4a4a" stroke-width="0.8"/>
<text x="140.9" y="597.3" font-size="8" fill="#222" text-anchor="end">3</text>
<line x1="142.5" y1="619.3" x2="145.1" y2="619.3" stroke="#4a4a4a" stroke-width="0.8"/>
<text x="140.9" y="622.1" font-size="8" fill="#222" text-anchor="end">2</text>
<line x1="142.5" y1="643.8" x2="145.1" y2="643.8" stroke="#4a4a4a" stroke-width="0.8"/>
<text x="140.9" y="646.6" font-size="8" fill="#222" text-anchor="end">1</text>
<line x1="142.5" y1="668.3" x2="145.1" y2="668.3" stroke="#4a4a4a" stroke-width="0.8"/>
<text x="140.9" y="671.1" font-size="8" fill="#222" text-anchor="end">0</text>
<line x1="159.3" y1="668.3" x2="159.3" y2="670.8" stroke="#4a4a4a" stroke-width="0.8"/>
<line x1="180.2" y1="668.3" x2="180.2" y2="670.8" stroke="#4a4a4a" stroke-width="0.8"/>
<text x="159.3" y="679.93" font-size="7.8" fill="#222" text-anchor="middle">WT</text>
<text x="181.7" y="679.93" font-size="7.8" fill="#222" text-anchor="middle"><tspan font-style="italic">Pd1</tspan><tspan font-size="4.68" dy="-2.96">−/−</tspan></text>
<text x="169.75" y="592.2" font-size="8.3" fill="#222" text-anchor="middle" font-style="italic">Tigit</text>
<text x="169.75" y="605.3" font-size="8" fill="#333" text-anchor="middle">NS</text>
<line x1="159.3" y1="607.3" x2="180.6" y2="607.3" stroke="#333" stroke-width="1"/>
<circle cx="159.3" cy="616.1" r="2.15" fill="#000"/>
<circle cx="159.3" cy="629" r="2.15" fill="#000"/>
<circle cx="159.3" cy="636.2" r="2.15" fill="#000"/>
<circle cx="159.3" cy="645.5" r="2.15" fill="#000"/>
<circle cx="159.3" cy="653.6" r="2.15" fill="#000"/>
<circle cx="175.3" cy="623" r="2.15" fill="#1f43e6"/>
<circle cx="185.3" cy="626.9" r="2.15" fill="#1f43e6"/>
<circle cx="175.3" cy="633" r="2.15" fill="#1f43e6"/>
<circle cx="185.3" cy="633" r="2.15" fill="#1f43e6"/>
<circle cx="180.2" cy="646.2" r="2.15" fill="#1f43e6"/>
<line x1="153.1" y1="636.2" x2="165.5" y2="636.2" stroke="#333" stroke-width="0.8"/>
<line x1="159.3" y1="629" x2="159.3" y2="642.3" stroke="#333" stroke-width="0.8"/>
<line x1="156" y1="629" x2="162.6" y2="629" stroke="#333" stroke-width="0.8"/>
<line x1="156" y1="642.3" x2="162.6" y2="642.3" stroke="#333" stroke-width="0.8"/>
<line x1="174" y1="633" x2="186.4" y2="633" stroke="#333" stroke-width="0.8"/>
<line x1="180.2" y1="628.5" x2="180.2" y2="636.5" stroke="#333" stroke-width="0.8"/>
<line x1="176.9" y1="628.5" x2="183.5" y2="628.5" stroke="#333" stroke-width="0.8"/>
<line x1="176.9" y1="636.5" x2="183.5" y2="636.5" stroke="#333" stroke-width="0.8"/>
<text transform="rotate(-90 116.2 631.5)" x="116.2" y="634.3" font-size="8.1" fill="#222" text-anchor="middle"><tspan font-style="italic">Tigit</tspan> mRNA</text>
<text x="126.7" y="634.34" font-size="8.1" fill="#222" text-anchor="middle" transform="rotate(-90 126.7 631.5)">expression per mouse</text>
<text x="290.6" y="463" font-size="13" fill="#000" font-weight="bold" stroke="#000" stroke-width="0.35">i</text>
<path d="M331.6,511 L331.6,468.5 A44.6,42.5 0 0 1 353.89,474.19 Z" fill="#f5c9cf" stroke="#4a4a4a" stroke-width="0.55" stroke-linejoin="round"/>
<path d="M331.6,511 L353.89,474.19 A44.6,42.5 0 0 1 370.22,489.73 Z" fill="#f8d294" stroke="#4a4a4a" stroke-width="0.55" stroke-linejoin="round"/>
<path d="M331.6,511 L370.22,489.73 A44.6,42.5 0 0 1 370.23,532.24 Z" fill="#a8d08e" stroke="#4a4a4a" stroke-width="0.55" stroke-linejoin="round"/>
<path d="M331.6,511 L370.23,532.24 A44.6,42.5 0 0 1 320.07,552.06 Z" fill="#7b9dd2" stroke="#4a4a4a" stroke-width="0.55" stroke-linejoin="round"/>
<path d="M331.6,511 L320.07,552.06 A44.6,42.5 0 0 1 331.6,468.5 Z" fill="#80c2e3" stroke="#4a4a4a" stroke-width="0.55" stroke-linejoin="round"/>
<path d="M333.4,615.4 L333.4,571.8 A45.3,43.6 0 0 1 337.63,571.99 Z" fill="#e8707e" stroke="#4a4a4a" stroke-width="0.55" stroke-linejoin="round"/>
<path d="M333.4,615.4 L337.63,571.99 A45.3,43.6 0 0 1 353.86,576.5 Z" fill="#f5c9cf" stroke="#4a4a4a" stroke-width="0.55" stroke-linejoin="round"/>
<path d="M333.4,615.4 L353.86,576.5 A45.3,43.6 0 0 1 378.58,612.23 Z" fill="#f8d294" stroke="#4a4a4a" stroke-width="0.55" stroke-linejoin="round"/>
<path d="M333.4,615.4 L378.58,612.23 A45.3,43.6 0 0 1 352.07,655.13 Z" fill="#a8d08e" stroke="#4a4a4a" stroke-width="0.55" stroke-linejoin="round"/>
<path d="M333.4,615.4 L352.07,655.13 A45.3,43.6 0 0 1 322.99,657.83 Z" fill="#7b9dd2" stroke="#4a4a4a" stroke-width="0.55" stroke-linejoin="round"/>
<path d="M333.4,615.4 L322.99,657.83 A45.3,43.6 0 0 1 333.4,571.8 Z" fill="#80c2e3" stroke="#4a4a4a" stroke-width="0.55" stroke-linejoin="round"/>
<text x="307.2" y="511.13" font-size="7.8" fill="#222" text-anchor="middle">45.84</text>
<text x="341.3" y="539.73" font-size="7.8" fill="#222" text-anchor="middle">20.83</text>
<text x="355.3" y="515.23" font-size="7.8" fill="#222" text-anchor="middle">16.67</text>
<text x="339.6" y="485.73" font-size="7.8" fill="#222" text-anchor="middle" transform="rotate(-62 339.6 483)">8.33</text>
<text x="352.2" y="494.53" font-size="7.8" fill="#222" text-anchor="middle" transform="rotate(-45 352.2 491.8)">8.33</text>
<text x="307.5" y="617.53" font-size="7.8" fill="#222" text-anchor="middle">46.31</text>
<text x="355" y="631.33" font-size="7.8" fill="#222" text-anchor="middle">19.40</text>
<text x="355" y="604.73" font-size="7.8" fill="#222" text-anchor="middle">16.38</text>
<text x="335.6" y="646.03" font-size="7.8" fill="#222" text-anchor="middle" transform="rotate(90 335.6 643.3)">10.45</text>
<text x="343.6" y="588.13" font-size="7.8" fill="#222" text-anchor="middle" transform="rotate(-66 343.6 585.4)">5.97</text>
<line x1="335.6" y1="572.6" x2="364.5" y2="566.4" stroke="#333" stroke-width="0.55"/>
<text x="366.3" y="570.63" font-size="7.8" fill="#222">1.49</text>
<text x="329.5" y="463.9" font-size="8" fill="#222" text-anchor="middle">WT</text>
<text x="333.5" y="567.7" font-size="8" fill="#222" text-anchor="middle"><tspan font-style="italic">Pd1</tspan><tspan font-size="4.8" dy="-3.04">−/−</tspan></text>
<text x="379.9" y="491.1" font-size="8" fill="#222">CD30</text>
<text x="379.9" y="500.4" font-size="8" fill="#222">CTLA4</text>
<text x="379.9" y="509.8" font-size="8" fill="#222">GARP</text>
<text x="379.9" y="519.5" font-size="8" fill="#222">GITR</text>
<text x="379.9" y="528.8" font-size="8" fill="#222">TIGIT</text>
<rect x="391.8" y="552.2" width="12.5" height="12.6" fill="#80c2e3" stroke="#555" stroke-width="0.55"/>
<text x="398.05" y="561.23" font-size="7.8" fill="#222" text-anchor="middle">0</text>
<rect x="391.8" y="566.6" width="12.5" height="12.6" fill="#7b9dd2" stroke="#555" stroke-width="0.55"/>
<text x="398.05" y="575.63" font-size="7.8" fill="#222" text-anchor="middle">1</text>
<rect x="391.8" y="580.9" width="12.5" height="12.6" fill="#a8d08e" stroke="#555" stroke-width="0.55"/>
<text x="398.05" y="589.93" font-size="7.8" fill="#222" text-anchor="middle">2</text>
<rect x="391.8" y="595.2" width="12.5" height="12.6" fill="#f8d294" stroke="#555" stroke-width="0.55"/>
<text x="398.05" y="604.23" font-size="7.8" fill="#222" text-anchor="middle">3</text>
<rect x="391.8" y="609.5" width="12.5" height="12.6" fill="#f5c9cf" stroke="#555" stroke-width="0.55"/>
<text x="398.05" y="618.53" font-size="7.8" fill="#222" text-anchor="middle">4</text>
<rect x="391.8" y="623.8" width="12.5" height="12.6" fill="#e8707e" stroke="#555" stroke-width="0.55"/>
<text x="398.05" y="632.83" font-size="7.8" fill="#222" text-anchor="middle">5</text>
<text x="412.6" y="440.5" font-size="13" fill="#000" font-weight="bold" stroke="#000" stroke-width="0.35">j</text>
<line x1="416.9" y1="448" x2="416.9" y2="480.2" stroke="#a9b3c6" stroke-width="1"/>
<path d="M416.9,444.5 L414.7,449.5 L419.1,449.5 Z" fill="#5d6b86"/>
<text x="416.9" y="510.2" font-size="8.3" fill="#222" text-anchor="middle" transform="rotate(-90 416.9 507.3)">Component 2</text>
<text x="470.6" y="556" font-size="8.3" fill="#222" text-anchor="middle">Component 1</text>
<line x1="499.7" y1="553.1" x2="679" y2="553.1" stroke="#8a94aa" stroke-width="1"/>
<path d="M683.5,553.1 L678,550.9 L678,555.3 Z" fill="#5d6b86"/>
<line x1="445.5" y1="443.6" x2="445.5" y2="533" stroke="#4a4a4a" stroke-width="0.8"/>
<line x1="445.5" y1="533" x2="549" y2="533" stroke="#4a4a4a" stroke-width="0.8"/>
<line x1="442.8" y1="450.2" x2="445.5" y2="450.2" stroke="#4a4a4a" stroke-width="0.8"/>
<text x="441.3" y="453" font-size="8" fill="#222" text-anchor="end">1.5</text>
<line x1="442.8" y1="466.8" x2="445.5" y2="466.8" stroke="#4a4a4a" stroke-width="0.8"/>
<text x="441.3" y="469.6" font-size="8" fill="#222" text-anchor="end">1.0</text>
<line x1="442.8" y1="483.5" x2="445.5" y2="483.5" stroke="#4a4a4a" stroke-width="0.8"/>
<text x="441.3" y="486.3" font-size="8" fill="#222" text-anchor="end">0.5</text>
<line x1="442.8" y1="500.3" x2="445.5" y2="500.3" stroke="#4a4a4a" stroke-width="0.8"/>
<text x="441.3" y="503.1" font-size="8" fill="#222" text-anchor="end">0</text>
<line x1="442.8" y1="517" x2="445.5" y2="517" stroke="#4a4a4a" stroke-width="0.8"/>
<text x="441.3" y="519.8" font-size="8" fill="#222" text-anchor="end">−0.5</text>
<line x1="449.5" y1="533" x2="449.5" y2="535.6" stroke="#4a4a4a" stroke-width="0.8"/>
<text x="449.5" y="544.1" font-size="8" fill="#222" text-anchor="middle">−2</text>
<line x1="496.8" y1="533" x2="496.8" y2="535.6" stroke="#4a4a4a" stroke-width="0.8"/>
<text x="496.8" y="544.1" font-size="8" fill="#222" text-anchor="middle">0</text>
<line x1="544.1" y1="533" x2="544.1" y2="535.6" stroke="#4a4a4a" stroke-width="0.8"/>
<text x="544.1" y="544.1" font-size="8" fill="#222" text-anchor="middle">2</text>
<text x="481" y="440.67" font-size="8.2" fill="#222"><tspan>WT T</tspan><tspan font-size="4.92" dy="2.46" font-style="normal">reg</tspan></text>
<circle cx="450.7" cy="511" r="0.75" fill="#6f8fd6"/>
<circle cx="452.2" cy="513.5" r="0.75" fill="#6f8fd6"/>
<circle cx="451.5" cy="515.5" r="0.75" fill="#6f8fd6"/>
<circle cx="453.7" cy="512.5" r="0.75" fill="#6f8fd6"/>
<circle cx="454.5" cy="517" r="0.75" fill="#6f8fd6"/>
<circle cx="456.5" cy="511.8" r="0.75" fill="#6f8fd6"/>
<circle cx="458.8" cy="511.8" r="0.75" fill="#6f8fd6"/>
<circle cx="460.8" cy="510.5" r="0.75" fill="#6f8fd6"/>
<circle cx="500.2" cy="449.5" r="0.75" fill="#34b34a"/>
<circle cx="500.5" cy="452.2" r="0.75" fill="#34b34a"/>
<circle cx="505.5" cy="450.3" r="0.75" fill="#34b34a"/>
<circle cx="508.5" cy="448.2" r="0.75" fill="#34b34a"/>
<circle cx="509" cy="452.8" r="0.75" fill="#34b34a"/>
<circle cx="511" cy="450.5" r="0.75" fill="#34b34a"/>
<circle cx="495.8" cy="467" r="0.75" fill="#34b34a"/>
<circle cx="534.5" cy="521.5" r="0.75" fill="#f07472"/>
<circle cx="536.5" cy="525" r="0.75" fill="#f07472"/>
<circle cx="538.5" cy="525.5" r="0.75" fill="#f07472"/>
<circle cx="540.5" cy="520" r="0.75" fill="#f07472"/>
<circle cx="543" cy="527.5" r="0.75" fill="#f07472"/>
<circle cx="545" cy="528.8" r="0.75" fill="#f07472"/>
<circle cx="546.8" cy="523.8" r="0.75" fill="#f07472"/>
<circle cx="541.5" cy="522.5" r="0.75" fill="#f07472"/>
<circle cx="498.8" cy="499.9" r="0.75" fill="#f07472"/>
<circle cx="503.7" cy="505.8" r="0.75" fill="#f07472"/>
<circle cx="495.8" cy="493" r="0.75" fill="#f07472"/>
<line x1="496.8" y1="494.4" x2="461.3" y2="510.7" stroke="#111" stroke-width="0.75"/>
<line x1="496.8" y1="494.4" x2="502.7" y2="462.4" stroke="#111" stroke-width="0.75"/>
<line x1="496.8" y1="494.4" x2="532.9" y2="521.2" stroke="#111" stroke-width="0.75"/>
<circle cx="496.8" cy="494.4" r="1.3" fill="#000"/>
<line x1="575.5" y1="444" x2="575.5" y2="533.2" stroke="#4a4a4a" stroke-width="0.8"/>
<line x1="575.5" y1="533.2" x2="681.8" y2="533.2" stroke="#4a4a4a" stroke-width="0.8"/>
<line x1="572.8" y1="458.2" x2="575.5" y2="458.2" stroke="#4a4a4a" stroke-width="0.8"/>
<text x="571.3" y="461" font-size="8" fill="#222" text-anchor="end">1.0</text>
<line x1="572.8" y1="475.3" x2="575.5" y2="475.3" stroke="#4a4a4a" stroke-width="0.8"/>
<text x="571.3" y="478.1" font-size="8" fill="#222" text-anchor="end">0.5</text>
<line x1="572.8" y1="492.4" x2="575.5" y2="492.4" stroke="#4a4a4a" stroke-width="0.8"/>
<text x="571.3" y="495.2" font-size="8" fill="#222" text-anchor="end">0</text>
<line x1="572.8" y1="509.8" x2="575.5" y2="509.8" stroke="#4a4a4a" stroke-width="0.8"/>
<text x="571.3" y="512.6" font-size="8" fill="#222" text-anchor="end">−0.5</text>
<line x1="572.8" y1="527.1" x2="575.5" y2="527.1" stroke="#4a4a4a" stroke-width="0.8"/>
<text x="571.3" y="529.9" font-size="8" fill="#222" text-anchor="end">−1.0</text>
<line x1="599.6" y1="533.2" x2="599.6" y2="535.8" stroke="#4a4a4a" stroke-width="0.8"/>
<text x="599.6" y="544" font-size="8" fill="#222" text-anchor="middle">−2</text>
<line x1="630" y1="533.2" x2="630" y2="535.8" stroke="#4a4a4a" stroke-width="0.8"/>
<text x="630" y="544" font-size="8" fill="#222" text-anchor="middle">0</text>
<line x1="660.3" y1="533.2" x2="660.3" y2="535.8" stroke="#4a4a4a" stroke-width="0.8"/>
<text x="660.3" y="544" font-size="8" fill="#222" text-anchor="middle">2</text>
<text x="606.6" y="440.8" font-size="8.2" fill="#222"><tspan font-style="italic">Pd1</tspan><tspan font-size="5" dy="-3">−/−</tspan><tspan dy="3"> T</tspan><tspan font-size="5" dy="2.5">reg</tspan></text>
<circle cx="580" cy="499" r="0.75" fill="#12b0ec"/>
<circle cx="581" cy="502" r="0.75" fill="#12b0ec"/>
<circle cx="582" cy="497" r="0.75" fill="#12b0ec"/>
<circle cx="583" cy="500" r="0.75" fill="#12b0ec"/>
<circle cx="584" cy="495" r="0.75" fill="#12b0ec"/>
<circle cx="584.5" cy="503" r="0.75" fill="#12b0ec"/>
<circle cx="585" cy="498" r="0.75" fill="#12b0ec"/>
<circle cx="586" cy="494" r="0.75" fill="#12b0ec"/>
<circle cx="581.5" cy="505.5" r="0.75" fill="#12b0ec"/>
<circle cx="583" cy="507" r="0.75" fill="#12b0ec"/>
<circle cx="579.5" cy="501" r="0.75" fill="#12b0ec"/>
<circle cx="590" cy="497.5" r="0.75" fill="#12b0ec"/>
<circle cx="594" cy="497" r="0.75" fill="#12b0ec"/>
<circle cx="596" cy="497.5" r="0.75" fill="#12b0ec"/>
<circle cx="599" cy="497" r="0.75" fill="#12b0ec"/>
<circle cx="603" cy="496.5" r="0.75" fill="#12b0ec"/>
<circle cx="606" cy="498" r="0.75" fill="#12b0ec"/>
<circle cx="611" cy="493" r="0.75" fill="#12b0ec"/>
<circle cx="612" cy="495" r="0.75" fill="#12b0ec"/>
<circle cx="613" cy="500" r="0.75" fill="#12b0ec"/>
<circle cx="616" cy="499" r="0.75" fill="#12b0ec"/>
<circle cx="619" cy="498.5" r="0.75" fill="#12b0ec"/>
<circle cx="610" cy="498.5" r="0.75" fill="#12b0ec"/>
<circle cx="619" cy="471" r="0.75" fill="#22b27a"/>
<circle cx="621.5" cy="470" r="0.75" fill="#22b27a"/>
<circle cx="623" cy="473" r="0.75" fill="#22b27a"/>
<circle cx="620" cy="476" r="0.75" fill="#22b27a"/>
<circle cx="622" cy="478" r="0.75" fill="#22b27a"/>
<circle cx="620.5" cy="481" r="0.75" fill="#22b27a"/>
<circle cx="622.5" cy="484" r="0.75" fill="#22b27a"/>
<circle cx="619" cy="485" r="0.75" fill="#22b27a"/>
<circle cx="623.5" cy="501" r="0.75" fill="#a6a332"/>
<circle cx="630" cy="503" r="0.75" fill="#a6a332"/>
<circle cx="634" cy="502.5" r="0.75" fill="#a6a332"/>
<circle cx="639" cy="503" r="0.75" fill="#a6a332"/>
<circle cx="643" cy="503.5" r="0.75" fill="#a6a332"/>
<circle cx="645" cy="499.5" r="0.75" fill="#a6a332"/>
<circle cx="647.5" cy="499.5" r="0.75" fill="#a6a332"/>
<circle cx="650" cy="500" r="0.75" fill="#a6a332"/>
<circle cx="651" cy="507" r="0.75" fill="#a6a332"/>
<circle cx="654" cy="499" r="0.75" fill="#a6a332"/>
<circle cx="660" cy="447.5" r="0.75" fill="#d473d8"/>
<circle cx="662" cy="449.5" r="0.75" fill="#d473d8"/>
<circle cx="664" cy="451" r="0.75" fill="#d473d8"/>
<circle cx="661" cy="455" r="0.75" fill="#d473d8"/>
<circle cx="660.5" cy="460" r="0.75" fill="#d473d8"/>
<circle cx="663" cy="458" r="0.75" fill="#d473d8"/>
<circle cx="659.8" cy="466" r="0.75" fill="#d473d8"/>
<circle cx="660.5" cy="468.5" r="0.75" fill="#d473d8"/>
<circle cx="659.5" cy="509" r="0.75" fill="#f2706a"/>
<circle cx="661.5" cy="512" r="0.75" fill="#f2706a"/>
<circle cx="663" cy="515" r="0.75" fill="#f2706a"/>
<circle cx="664.5" cy="511" r="0.75" fill="#f2706a"/>
<circle cx="666" cy="516.5" r="0.75" fill="#f2706a"/>
<circle cx="662" cy="519" r="0.75" fill="#f2706a"/>
<circle cx="665" cy="521.5" r="0.75" fill="#f2706a"/>
<circle cx="660" cy="524" r="0.75" fill="#f2706a"/>
<circle cx="663.5" cy="526.5" r="0.75" fill="#f2706a"/>
<circle cx="667" cy="528" r="0.75" fill="#f2706a"/>
<circle cx="668.5" cy="530" r="0.75" fill="#f2706a"/>
<polyline points="586.3,498.6 621.4,493.3 638.5,496.2 653.7,494.7 667.9,511.4" fill="none" stroke="#111" stroke-width="0.75"/>
<line x1="621.4" y1="493.3" x2="621.4" y2="482" stroke="#111" stroke-width="0.75"/>
<line x1="653.7" y1="494.7" x2="660.3" y2="463" stroke="#111" stroke-width="0.75"/>
<circle cx="621.4" cy="493.3" r="1.3" fill="#000"/>
<circle cx="653.7" cy="494.7" r="1.3" fill="#000"/>
<circle cx="486.6" cy="567.3" r="3.3" fill="#f07472"/>
<text x="494.8" y="570.1" font-size="8" fill="#222">State 1</text>
<circle cx="486.6" cy="577.1" r="3.3" fill="#34b34a"/>
<text x="494.8" y="579.9" font-size="8" fill="#222">State 2</text>
<circle cx="486.6" cy="586.6" r="3.3" fill="#6f8fd6"/>
<text x="494.8" y="589.4" font-size="8" fill="#222">State 3</text>
<circle cx="590.6" cy="567.3" r="3.3" fill="#12b0ec"/>
<text x="598.8" y="570.1" font-size="8" fill="#222">State 1</text>
<circle cx="590.6" cy="577.1" r="3.3" fill="#a6a332"/>
<text x="598.8" y="579.9" font-size="8" fill="#222">State 2</text>
<circle cx="590.6" cy="586.6" r="3.3" fill="#22b27a"/>
<text x="598.8" y="589.4" font-size="8" fill="#222">State 3</text>
<circle cx="634.4" cy="567.3" r="3.3" fill="#f2706a"/>
<text x="642.6" y="570.1" font-size="8" fill="#222">State 4</text>
<circle cx="634.4" cy="577.1" r="3.3" fill="#c77acb"/>
<text x="642.6" y="579.9" font-size="8" fill="#222">State 5</text>
<text x="0" y="712.6" font-size="13" fill="#000" font-weight="bold" stroke="#000" stroke-width="0.35">k</text>
<path d="M249.5,702.4 L249.5,709.6 Q249.6,711.5 252.3,711.6" fill="none" stroke="#000" stroke-width="2.3"/>
<text x="192.4" y="695.9" font-size="8.4" fill="#222">T<tspan font-size="5" dy="2.5">reg</tspan><tspan dy="-2.5"> receiving signaling patterns</tspan></text>
<text x="146.7" y="710.2" font-size="8.3" fill="#222" text-anchor="middle">WT</text>
<line x1="88" y1="713.2" x2="204.4" y2="713.2" stroke="#333" stroke-width="0.7"/>
<text x="95" y="722.21" font-size="8.6" fill="#222" text-anchor="middle">Cell patterns</text>
<text x="187.3" y="722.21" font-size="8.6" fill="#222" text-anchor="middle">Communication patterns</text>
<text x="381" y="710.5" font-size="8.3" fill="#222" text-anchor="middle"><tspan font-style="italic">Pd1</tspan><tspan font-size="4.98" dy="-3.15">−/−</tspan></text>
<line x1="322.6" y1="713.2" x2="437" y2="713.2" stroke="#333" stroke-width="0.7"/>
<text x="328.9" y="722.21" font-size="8.6" fill="#222" text-anchor="middle">Cell patterns</text>
<text x="420.1" y="722.21" font-size="8.6" fill="#222" text-anchor="middle">Communication patterns</text>
<rect x="65.9" y="725.8" width="16.25" height="20.12" fill="#3383be"/>
<rect x="81.65" y="725.8" width="16.25" height="20.12" fill="#3383be"/>
<rect x="97.4" y="725.8" width="16.25" height="20.12" fill="#d43e50"/>
<rect x="113.15" y="725.8" width="15.75" height="20.12" fill="#3383be"/>
<rect x="65.9" y="745.42" width="16.25" height="20.12" fill="#3383be"/>
<rect x="81.65" y="745.42" width="16.25" height="20.12" fill="#d43e50"/>
<rect x="97.4" y="745.42" width="16.25" height="20.12" fill="#3383be"/>
<rect x="113.15" y="745.42" width="15.75" height="20.12" fill="#3383be"/>
<rect x="65.9" y="765.04" width="16.25" height="20.12" fill="#ef7548"/>
<rect x="81.65" y="765.04" width="16.25" height="20.12" fill="#3383be"/>
<rect x="97.4" y="765.04" width="16.25" height="20.12" fill="#6cc2a5"/>
<rect x="113.15" y="765.04" width="15.75" height="20.12" fill="#3383be"/>
<rect x="65.9" y="784.66" width="16.25" height="20.12" fill="#e65b4a"/>
<rect x="81.65" y="784.66" width="16.25" height="20.12" fill="#50a8a9"/>
<rect x="97.4" y="784.66" width="16.25" height="20.12" fill="#3383be"/>
<rect x="113.15" y="784.66" width="15.75" height="20.12" fill="#3383be"/>
<rect x="65.9" y="804.28" width="16.25" height="20.12" fill="#e65b4a"/>
<rect x="81.65" y="804.28" width="16.25" height="20.12" fill="#3383be"/>
<rect x="97.4" y="804.28" width="16.25" height="20.12" fill="#3383be"/>
<rect x="113.15" y="804.28" width="15.75" height="20.12" fill="#5ab5a6"/>
<rect x="65.9" y="823.9" width="16.25" height="20.12" fill="#5ab5a6"/>
<rect x="81.65" y="823.9" width="16.25" height="20.12" fill="#3383be"/>
<rect x="97.4" y="823.9" width="16.25" height="20.12" fill="#88cea5"/>
<rect x="113.15" y="823.9" width="15.75" height="20.12" fill="#f9c67b"/>
<rect x="65.9" y="843.52" width="16.25" height="20.12" fill="#3383be"/>
<rect x="81.65" y="843.52" width="16.25" height="20.12" fill="#3383be"/>
<rect x="97.4" y="843.52" width="16.25" height="20.12" fill="#3383be"/>
<rect x="113.15" y="843.52" width="15.75" height="20.12" fill="#d43e50"/>
<rect x="65.9" y="863.14" width="16.25" height="20.12" fill="#88cea5"/>
<rect x="81.65" y="863.14" width="16.25" height="20.12" fill="#c3e4a0"/>
<rect x="97.4" y="863.14" width="16.25" height="20.12" fill="#3383be"/>
<rect x="113.15" y="863.14" width="15.75" height="20.12" fill="#fbf1ab"/>
<rect x="65.9" y="882.76" width="16.25" height="21.94" fill="#e7f3a2"/>
<rect x="81.65" y="882.76" width="16.25" height="21.94" fill="#e7f3a2"/>
<rect x="97.4" y="882.76" width="16.25" height="21.94" fill="#3383be"/>
<rect x="113.15" y="882.76" width="15.75" height="21.94" fill="#88cea5"/>
<rect x="60.3" y="725.8" width="3.5" height="19.62" fill="#f07cc0"/>
<rect x="60.3" y="745.42" width="3.5" height="19.62" fill="#3574b3"/>
<rect x="60.3" y="765.04" width="3.5" height="19.62" fill="#a5561f"/>
<rect x="60.3" y="784.66" width="3.5" height="19.62" fill="#e31a1c"/>
<rect x="60.3" y="804.28" width="3.5" height="19.62" fill="#4aaf4a"/>
<rect x="60.3" y="823.9" width="3.5" height="19.62" fill="#f39a1e"/>
<rect x="60.3" y="843.52" width="3.5" height="19.62" fill="#56b2e6"/>
<rect x="60.3" y="863.14" width="3.5" height="19.62" fill="#9850a6"/>
<rect x="60.3" y="882.76" width="3.5" height="21.94" fill="#c0a2d6"/>
<text x="57.7" y="738.55" font-size="8.4" fill="#222" text-anchor="end">B cell</text>
<text x="50.3" y="757.57" font-size="8.4" fill="#222" text-anchor="end">T</text>
<text x="57.9" y="760.58" font-size="5" fill="#222" text-anchor="end">reg</text>
<text x="57.7" y="777.79" font-size="8.4" fill="#222" text-anchor="end">pDC</text>
<text x="57.7" y="797.41" font-size="8.4" fill="#222" text-anchor="end">Basophil</text>
<text x="57.7" y="817.03" font-size="8.4" fill="#222" text-anchor="end">Macrophage</text>
<text x="57.7" y="836.65" font-size="8.4" fill="#222" text-anchor="end">Myeloid DC</text>
<text x="50.3" y="855.67" font-size="8.4" fill="#222" text-anchor="end">T</text>
<text x="57.9" y="858.68" font-size="5" fill="#222" text-anchor="end">reg</text>
<text x="57.7" y="875.89" font-size="8.4" fill="#222" text-anchor="end">Megakaryocyte</text>
<text x="57.7" y="895.51" font-size="8.4" fill="#222" text-anchor="end">NK</text>
<rect x="35.1" y="846.3" width="25.6" height="15.6" fill="none" stroke="#e06666" stroke-width="0.75"/>
<text x="73.98" y="911.44" font-size="8.1" fill="#222" text-anchor="end" transform="rotate(-90 73.98 908.6)">Pattern 1</text>
<text x="89.73" y="911.44" font-size="8.1" fill="#222" text-anchor="end" transform="rotate(-90 89.73 908.6)">Pattern 2</text>
<text x="105.48" y="911.44" font-size="8.1" fill="#222" text-anchor="end" transform="rotate(-90 105.48 908.6)">Pattern 3</text>
<text x="121.23" y="911.44" font-size="8.1" fill="#222" text-anchor="end" transform="rotate(-90 121.23 908.6)">Pattern 4</text>
<rect x="115" y="905.2" width="12.2" height="39.4" fill="none" stroke="#e06666" stroke-width="0.75"/>
<rect x="164.9" y="725.3" width="15.82" height="9.35" fill="#ef7548"/>
<rect x="180.22" y="725.3" width="15.82" height="9.35" fill="#3383be"/>
<rect x="195.55" y="725.3" width="15.82" height="9.35" fill="#3383be"/>
<rect x="210.88" y="725.3" width="15.32" height="9.35" fill="#5ab5a6"/>
<rect x="164.9" y="734.15" width="15.82" height="9.35" fill="#e65b4a"/>
<rect x="180.22" y="734.15" width="15.82" height="9.35" fill="#3383be"/>
<rect x="195.55" y="734.15" width="15.82" height="9.35" fill="#3383be"/>
<rect x="210.88" y="734.15" width="15.32" height="9.35" fill="#5ab5a6"/>
<rect x="164.9" y="743" width="15.82" height="9.35" fill="#e65b4a"/>
<rect x="180.22" y="743" width="15.82" height="9.35" fill="#3383be"/>
<rect x="195.55" y="743" width="15.82" height="9.35" fill="#3383be"/>
<rect x="210.88" y="743" width="15.32" height="9.35" fill="#5ab5a6"/>
<rect x="164.9" y="751.85" width="15.82" height="9.35" fill="#e0514c"/>
<rect x="180.22" y="751.85" width="15.82" height="9.35" fill="#3383be"/>
<rect x="195.55" y="751.85" width="15.82" height="9.35" fill="#4aa0b1"/>
<rect x="210.88" y="751.85" width="15.32" height="9.35" fill="#3383be"/>
<rect x="164.9" y="760.7" width="15.82" height="9.35" fill="#e0514c"/>
<rect x="180.22" y="760.7" width="15.82" height="9.35" fill="#3383be"/>
<rect x="195.55" y="760.7" width="15.82" height="9.35" fill="#4aa0b1"/>
<rect x="210.88" y="760.7" width="15.32" height="9.35" fill="#3383be"/>
<rect x="164.9" y="769.55" width="15.82" height="9.35" fill="#d43e50"/>
<rect x="180.22" y="769.55" width="15.82" height="9.35" fill="#3383be"/>
<rect x="195.55" y="769.55" width="15.82" height="9.35" fill="#3383be"/>
<rect x="210.88" y="769.55" width="15.32" height="9.35" fill="#3383be"/>
<rect x="164.9" y="778.4" width="15.82" height="9.35" fill="#d43e50"/>
<rect x="180.22" y="778.4" width="15.82" height="9.35" fill="#3383be"/>
<rect x="195.55" y="778.4" width="15.82" height="9.35" fill="#3383be"/>
<rect x="210.88" y="778.4" width="15.32" height="9.35" fill="#3383be"/>
<rect x="164.9" y="787.25" width="15.82" height="9.35" fill="#f9c67b"/>
<rect x="180.22" y="787.25" width="15.82" height="9.35" fill="#3383be"/>
<rect x="195.55" y="787.25" width="15.82" height="9.35" fill="#3383be"/>
<rect x="210.88" y="787.25" width="15.32" height="9.35" fill="#d4eb9c"/>
<rect x="164.9" y="796.1" width="15.82" height="9.35" fill="#f8f6b6"/>
<rect x="180.22" y="796.1" width="15.82" height="9.35" fill="#88cea5"/>
<rect x="195.55" y="796.1" width="15.82" height="9.35" fill="#6cc2a5"/>
<rect x="210.88" y="796.1" width="15.32" height="9.35" fill="#88cea5"/>
<rect x="164.9" y="804.95" width="15.82" height="9.35" fill="#fce597"/>
<rect x="180.22" y="804.95" width="15.82" height="9.35" fill="#5ab5a6"/>
<rect x="195.55" y="804.95" width="15.82" height="9.35" fill="#a4d9a1"/>
<rect x="210.88" y="804.95" width="15.32" height="9.35" fill="#4aa0b1"/>
<rect x="164.9" y="813.8" width="15.82" height="9.35" fill="#f9c67b"/>
<rect x="180.22" y="813.8" width="15.82" height="9.35" fill="#88cea5"/>
<rect x="195.55" y="813.8" width="15.82" height="9.35" fill="#6cc2a5"/>
<rect x="210.88" y="813.8" width="15.32" height="9.35" fill="#3383be"/>
<rect x="164.9" y="822.65" width="15.82" height="9.35" fill="#d4eb9c"/>
<rect x="180.22" y="822.65" width="15.82" height="9.35" fill="#3383be"/>
<rect x="195.55" y="822.65" width="15.82" height="9.35" fill="#f8f6b6"/>
<rect x="210.88" y="822.65" width="15.32" height="9.35" fill="#88cea5"/>
<rect x="164.9" y="831.5" width="15.82" height="9.35" fill="#3383be"/>
<rect x="180.22" y="831.5" width="15.82" height="9.35" fill="#3383be"/>
<rect x="195.55" y="831.5" width="15.82" height="9.35" fill="#d43e50"/>
<rect x="210.88" y="831.5" width="15.32" height="9.35" fill="#3383be"/>
<rect x="164.9" y="840.35" width="15.82" height="9.35" fill="#3383be"/>
<rect x="180.22" y="840.35" width="15.82" height="9.35" fill="#ef7548"/>
<rect x="195.55" y="840.35" width="15.82" height="9.35" fill="#3383be"/>
<rect x="210.88" y="840.35" width="15.32" height="9.35" fill="#88cea5"/>
<rect x="164.9" y="849.2" width="15.82" height="9.35" fill="#3383be"/>
<rect x="180.22" y="849.2" width="15.82" height="9.35" fill="#d43e50"/>
<rect x="195.55" y="849.2" width="15.82" height="9.35" fill="#3383be"/>
<rect x="210.88" y="849.2" width="15.32" height="9.35" fill="#3383be"/>
<rect x="164.9" y="858.05" width="15.82" height="9.35" fill="#3383be"/>
<rect x="180.22" y="858.05" width="15.82" height="9.35" fill="#d43e50"/>
<rect x="195.55" y="858.05" width="15.82" height="9.35" fill="#3383be"/>
<rect x="210.88" y="858.05" width="15.32" height="9.35" fill="#3383be"/>
<rect x="164.9" y="866.9" width="15.82" height="9.35" fill="#5ab5a6"/>
<rect x="180.22" y="866.9" width="15.82" height="9.35" fill="#3383be"/>
<rect x="195.55" y="866.9" width="15.82" height="9.35" fill="#6cc2a5"/>
<rect x="210.88" y="866.9" width="15.32" height="9.35" fill="#f7a35c"/>
<rect x="164.9" y="875.75" width="15.82" height="9.35" fill="#3383be"/>
<rect x="180.22" y="875.75" width="15.82" height="9.35" fill="#6cc2a5"/>
<rect x="195.55" y="875.75" width="15.82" height="9.35" fill="#3383be"/>
<rect x="210.88" y="875.75" width="15.32" height="9.35" fill="#ef7548"/>
<rect x="164.9" y="884.6" width="15.82" height="9.35" fill="#3383be"/>
<rect x="180.22" y="884.6" width="15.82" height="9.35" fill="#3383be"/>
<rect x="195.55" y="884.6" width="15.82" height="9.35" fill="#3383be"/>
<rect x="210.88" y="884.6" width="15.32" height="9.35" fill="#d43e50"/>
<rect x="164.9" y="893.45" width="15.82" height="10.25" fill="#4aa0b1"/>
<rect x="180.22" y="893.45" width="15.82" height="10.25" fill="#e7f3a2"/>
<rect x="195.55" y="893.45" width="15.82" height="10.25" fill="#3383be"/>
<rect x="210.88" y="893.45" width="15.32" height="10.25" fill="#f8f6b6"/>
<text x="161.3" y="732.42" font-size="7.7" fill="#222" text-anchor="end">FN1</text>
<text x="161.3" y="741.27" font-size="7.7" fill="#222" text-anchor="end">CCL</text>
<text x="161.3" y="750.12" font-size="7.7" fill="#222" text-anchor="end">SPP1</text>
<text x="161.3" y="758.97" font-size="7.7" fill="#222" text-anchor="end">CD23</text>
<text x="161.3" y="767.82" font-size="7.7" fill="#222" text-anchor="end">CPT</text>
<text x="161.3" y="776.67" font-size="7.7" fill="#222" text-anchor="end">THY1</text>
<text x="161.3" y="785.52" font-size="7.7" fill="#222" text-anchor="end">ICAM</text>
<text x="161.3" y="794.37" font-size="7.7" fill="#222" text-anchor="end">TNF</text>
<text x="161.3" y="803.22" font-size="7.7" fill="#222" text-anchor="end">CD22</text>
<text x="161.3" y="812.07" font-size="7.7" fill="#222" text-anchor="end">GAL</text>
<text x="161.3" y="820.92" font-size="7.7" fill="#222" text-anchor="end">SELPLG</text>
<text x="161.3" y="829.77" font-size="7.7" fill="#222" text-anchor="end">APRIL</text>
<text x="161.3" y="838.62" font-size="7.7" fill="#222" text-anchor="end">CD45</text>
<text x="161.3" y="847.47" font-size="7.7" fill="#222" text-anchor="end">CXCL</text>
<text x="161.3" y="856.32" font-size="7.7" fill="#222" text-anchor="end">MHC-I</text>
<text x="161.3" y="865.17" font-size="7.7" fill="#222" text-anchor="end">LCK</text>
<text x="161.3" y="874.02" font-size="7.7" fill="#222" text-anchor="end">FASLG</text>
<text x="161.3" y="882.87" font-size="7.7" fill="#222" text-anchor="end">CD86</text>
<text x="161.3" y="891.72" font-size="7.7" fill="#222" text-anchor="end">PD-L1</text>
<text x="161.3" y="900.57" font-size="7.7" fill="#222" text-anchor="end">MHC-II</text>
<rect x="136" y="875.8" width="28.5" height="18.5" fill="none" stroke="#e06666" stroke-width="0.75"/>
<text x="172.76" y="911.44" font-size="8.1" fill="#222" text-anchor="end" transform="rotate(-90 172.76 908.6)">Pattern 1</text>
<text x="188.09" y="911.44" font-size="8.1" fill="#222" text-anchor="end" transform="rotate(-90 188.09 908.6)">Pattern 2</text>
<text x="203.41" y="911.44" font-size="8.1" fill="#222" text-anchor="end" transform="rotate(-90 203.41 908.6)">Pattern 3</text>
<text x="218.74" y="911.44" font-size="8.1" fill="#222" text-anchor="end" transform="rotate(-90 218.74 908.6)">Pattern 4</text>
<rect x="214.3" y="905.2" width="12.1" height="39.4" fill="none" stroke="#e06666" stroke-width="0.75"/>
<rect x="297.9" y="726" width="16.7" height="20.4" fill="#3383be"/>
<rect x="314.1" y="726" width="16.7" height="20.4" fill="#3383be"/>
<rect x="330.3" y="726" width="16.7" height="20.4" fill="#d43e50"/>
<rect x="346.5" y="726" width="16.2" height="20.4" fill="#3383be"/>
<rect x="297.9" y="745.9" width="16.7" height="20.4" fill="#3383be"/>
<rect x="314.1" y="745.9" width="16.7" height="20.4" fill="#d43e50"/>
<rect x="330.3" y="745.9" width="16.7" height="20.4" fill="#3383be"/>
<rect x="346.5" y="745.9" width="16.2" height="20.4" fill="#3383be"/>
<rect x="297.9" y="765.8" width="16.7" height="20.4" fill="#3383be"/>
<rect x="314.1" y="765.8" width="16.7" height="20.4" fill="#f7a35c"/>
<rect x="330.3" y="765.8" width="16.7" height="20.4" fill="#3383be"/>
<rect x="346.5" y="765.8" width="16.2" height="20.4" fill="#a4d9a1"/>
<rect x="297.9" y="785.7" width="16.7" height="20.4" fill="#3383be"/>
<rect x="314.1" y="785.7" width="16.7" height="20.4" fill="#3a8dbb"/>
<rect x="330.3" y="785.7" width="16.7" height="20.4" fill="#3383be"/>
<rect x="346.5" y="785.7" width="16.2" height="20.4" fill="#d43e50"/>
<rect x="297.9" y="805.6" width="16.7" height="20.4" fill="#d43e50"/>
<rect x="314.1" y="805.6" width="16.7" height="20.4" fill="#3383be"/>
<rect x="330.3" y="805.6" width="16.7" height="20.4" fill="#3383be"/>
<rect x="346.5" y="805.6" width="16.2" height="20.4" fill="#3383be"/>
<rect x="297.9" y="825.5" width="16.7" height="20.4" fill="#e7f3a2"/>
<rect x="314.1" y="825.5" width="16.7" height="20.4" fill="#3383be"/>
<rect x="330.3" y="825.5" width="16.7" height="20.4" fill="#5ab5a6"/>
<rect x="346.5" y="825.5" width="16.2" height="20.4" fill="#f8f6b6"/>
<rect x="297.9" y="845.4" width="16.7" height="20.4" fill="#f8f6b6"/>
<rect x="314.1" y="845.4" width="16.7" height="20.4" fill="#4aa0b1"/>
<rect x="330.3" y="845.4" width="16.7" height="20.4" fill="#3383be"/>
<rect x="346.5" y="845.4" width="16.2" height="20.4" fill="#e7f3a2"/>
<rect x="297.9" y="865.3" width="16.7" height="20.4" fill="#f8f6b6"/>
<rect x="314.1" y="865.3" width="16.7" height="20.4" fill="#3383be"/>
<rect x="330.3" y="865.3" width="16.7" height="20.4" fill="#f8f6b6"/>
<rect x="346.5" y="865.3" width="16.2" height="20.4" fill="#3383be"/>
<rect x="297.9" y="885.2" width="16.7" height="19.9" fill="#e7f3a2"/>
<rect x="314.1" y="885.2" width="16.7" height="19.9" fill="#c3e4a0"/>
<rect x="330.3" y="885.2" width="16.7" height="19.9" fill="#c3e4a0"/>
<rect x="346.5" y="885.2" width="16.2" height="19.9" fill="#3383be"/>
<rect x="293.3" y="726" width="3.5" height="19.9" fill="#f07cc0"/>
<rect x="293.3" y="745.9" width="3.5" height="19.9" fill="#3574b3"/>
<rect x="293.3" y="765.8" width="3.5" height="19.9" fill="#56b2e6"/>
<rect x="293.3" y="785.7" width="3.5" height="19.9" fill="#f39a1e"/>
<rect x="293.3" y="805.6" width="3.5" height="19.9" fill="#a5561f"/>
<rect x="293.3" y="825.5" width="3.5" height="19.9" fill="#4aaf4a"/>
<rect x="293.3" y="845.4" width="3.5" height="19.9" fill="#9850a6"/>
<rect x="293.3" y="865.3" width="3.5" height="19.9" fill="#e31a1c"/>
<rect x="293.3" y="885.2" width="3.5" height="19.9" fill="#c0a2d6"/>
<text x="289.7" y="738.89" font-size="8.4" fill="#222" text-anchor="end">B cell</text>
<text x="282.6" y="758.19" font-size="8.4" fill="#222" text-anchor="end">T</text>
<text x="289.9" y="761.2" font-size="5" fill="#222" text-anchor="end">eff</text>
<text x="281.8" y="778.09" font-size="8.4" fill="#222" text-anchor="end">T</text>
<text x="289.9" y="781.1" font-size="5" fill="#222" text-anchor="end">reg</text>
<text x="289.7" y="798.59" font-size="8.4" fill="#222" text-anchor="end">Myeloid DC</text>
<text x="289.7" y="818.49" font-size="8.4" fill="#222" text-anchor="end">pDC</text>
<text x="289.7" y="838.39" font-size="8.4" fill="#222" text-anchor="end">Macrophage</text>
<text x="289.7" y="858.29" font-size="8.4" fill="#222" text-anchor="end">Megakaryocyte</text>
<text x="289.7" y="878.19" font-size="8.4" fill="#222" text-anchor="end">Basophil</text>
<text x="289.7" y="898.09" font-size="8.4" fill="#222" text-anchor="end">NK</text>
<rect x="268.5" y="766.4" width="24.1" height="17.1" fill="none" stroke="#e06666" stroke-width="0.75"/>
<text x="306.2" y="911.44" font-size="8.1" fill="#222" text-anchor="end" transform="rotate(-90 306.2 908.6)">Pattern 1</text>
<text x="322.4" y="911.44" font-size="8.1" fill="#222" text-anchor="end" transform="rotate(-90 322.4 908.6)">Pattern 2</text>
<text x="338.6" y="911.44" font-size="8.1" fill="#222" text-anchor="end" transform="rotate(-90 338.6 908.6)">Pattern 3</text>
<text x="354.8" y="911.44" font-size="8.1" fill="#222" text-anchor="end" transform="rotate(-90 354.8 908.6)">Pattern 4</text>
<rect x="347.6" y="905.9" width="14.2" height="38.7" fill="none" stroke="#e06666" stroke-width="0.75"/>
<rect x="399" y="726" width="16.2" height="9.93" fill="#3383be"/>
<rect x="414.7" y="726" width="16.2" height="9.93" fill="#3383be"/>
<rect x="430.4" y="726" width="16.2" height="9.93" fill="#3383be"/>
<rect x="446.1" y="726" width="15.7" height="9.93" fill="#d43e50"/>
<rect x="399" y="735.43" width="16.2" height="9.93" fill="#3383be"/>
<rect x="414.7" y="735.43" width="16.2" height="9.93" fill="#3383be"/>
<rect x="430.4" y="735.43" width="16.2" height="9.93" fill="#d43e50"/>
<rect x="446.1" y="735.43" width="15.7" height="9.93" fill="#3383be"/>
<rect x="399" y="744.85" width="16.2" height="9.93" fill="#3383be"/>
<rect x="414.7" y="744.85" width="16.2" height="9.93" fill="#ef7548"/>
<rect x="430.4" y="744.85" width="16.2" height="9.93" fill="#3383be"/>
<rect x="446.1" y="744.85" width="15.7" height="9.93" fill="#5ab5a6"/>
<rect x="399" y="754.28" width="16.2" height="9.93" fill="#3383be"/>
<rect x="414.7" y="754.28" width="16.2" height="9.93" fill="#d43e50"/>
<rect x="430.4" y="754.28" width="16.2" height="9.93" fill="#3383be"/>
<rect x="446.1" y="754.28" width="15.7" height="9.93" fill="#3383be"/>
<rect x="399" y="763.71" width="16.2" height="9.93" fill="#5ab5a6"/>
<rect x="414.7" y="763.71" width="16.2" height="9.93" fill="#ef7548"/>
<rect x="430.4" y="763.71" width="16.2" height="9.93" fill="#4aa0b1"/>
<rect x="446.1" y="763.71" width="15.7" height="9.93" fill="#3383be"/>
<rect x="399" y="773.13" width="16.2" height="9.93" fill="#4aa0b1"/>
<rect x="414.7" y="773.13" width="16.2" height="9.93" fill="#f9c67b"/>
<rect x="430.4" y="773.13" width="16.2" height="9.93" fill="#4aa0b1"/>
<rect x="446.1" y="773.13" width="15.7" height="9.93" fill="#a4d9a1"/>
<rect x="399" y="782.56" width="16.2" height="9.93" fill="#ef7548"/>
<rect x="414.7" y="782.56" width="16.2" height="9.93" fill="#3383be"/>
<rect x="430.4" y="782.56" width="16.2" height="9.93" fill="#4aa0b1"/>
<rect x="446.1" y="782.56" width="15.7" height="9.93" fill="#3383be"/>
<rect x="399" y="791.98" width="16.2" height="9.93" fill="#ef7548"/>
<rect x="414.7" y="791.98" width="16.2" height="9.93" fill="#3383be"/>
<rect x="430.4" y="791.98" width="16.2" height="9.93" fill="#4aa0b1"/>
<rect x="446.1" y="791.98" width="15.7" height="9.93" fill="#3383be"/>
<rect x="399" y="801.41" width="16.2" height="9.93" fill="#d43e50"/>
<rect x="414.7" y="801.41" width="16.2" height="9.93" fill="#3a8dbb"/>
<rect x="430.4" y="801.41" width="16.2" height="9.93" fill="#3383be"/>
<rect x="446.1" y="801.41" width="15.7" height="9.93" fill="#3383be"/>
<rect x="399" y="810.84" width="16.2" height="9.93" fill="#d43e50"/>
<rect x="414.7" y="810.84" width="16.2" height="9.93" fill="#3a8dbb"/>
<rect x="430.4" y="810.84" width="16.2" height="9.93" fill="#3383be"/>
<rect x="446.1" y="810.84" width="15.7" height="9.93" fill="#3383be"/>
<rect x="399" y="820.26" width="16.2" height="9.93" fill="#f7a35c"/>
<rect x="414.7" y="820.26" width="16.2" height="9.93" fill="#3383be"/>
<rect x="430.4" y="820.26" width="16.2" height="9.93" fill="#3383be"/>
<rect x="446.1" y="820.26" width="15.7" height="9.93" fill="#a4d9a1"/>
<rect x="399" y="829.69" width="16.2" height="9.93" fill="#f4884f"/>
<rect x="414.7" y="829.69" width="16.2" height="9.93" fill="#4aa0b1"/>
<rect x="430.4" y="829.69" width="16.2" height="9.93" fill="#3383be"/>
<rect x="446.1" y="829.69" width="15.7" height="9.93" fill="#6cc2a5"/>
<rect x="399" y="839.12" width="16.2" height="9.93" fill="#ef7548"/>
<rect x="414.7" y="839.12" width="16.2" height="9.93" fill="#3383be"/>
<rect x="430.4" y="839.12" width="16.2" height="9.93" fill="#3383be"/>
<rect x="446.1" y="839.12" width="15.7" height="9.93" fill="#6cc2a5"/>
<rect x="399" y="848.54" width="16.2" height="9.93" fill="#f7a35c"/>
<rect x="414.7" y="848.54" width="16.2" height="9.93" fill="#3383be"/>
<rect x="430.4" y="848.54" width="16.2" height="9.93" fill="#a4d9a1"/>
<rect x="446.1" y="848.54" width="15.7" height="9.93" fill="#3383be"/>
<rect x="399" y="857.97" width="16.2" height="9.93" fill="#a4d9a1"/>
<rect x="414.7" y="857.97" width="16.2" height="9.93" fill="#a4d9a1"/>
<rect x="430.4" y="857.97" width="16.2" height="9.93" fill="#3383be"/>
<rect x="446.1" y="857.97" width="15.7" height="9.93" fill="#f8f6b6"/>
<rect x="399" y="867.39" width="16.2" height="9.93" fill="#e7f3a2"/>
<rect x="414.7" y="867.39" width="16.2" height="9.93" fill="#c3e4a0"/>
<rect x="430.4" y="867.39" width="16.2" height="9.93" fill="#88cea5"/>
<rect x="446.1" y="867.39" width="15.7" height="9.93" fill="#6cc2a5"/>
<rect x="399" y="876.82" width="16.2" height="9.93" fill="#a4d9a1"/>
<rect x="414.7" y="876.82" width="16.2" height="9.93" fill="#e7f3a2"/>
<rect x="430.4" y="876.82" width="16.2" height="9.93" fill="#6cc2a5"/>
<rect x="446.1" y="876.82" width="15.7" height="9.93" fill="#88cea5"/>
<rect x="399" y="886.25" width="16.2" height="9.93" fill="#e7f3a2"/>
<rect x="414.7" y="886.25" width="16.2" height="9.93" fill="#3a8dbb"/>
<rect x="430.4" y="886.25" width="16.2" height="9.93" fill="#f8f6b6"/>
<rect x="446.1" y="886.25" width="15.7" height="9.93" fill="#3383be"/>
<rect x="399" y="895.67" width="16.2" height="9.43" fill="#a4d9a1"/>
<rect x="414.7" y="895.67" width="16.2" height="9.43" fill="#6cc2a5"/>
<rect x="430.4" y="895.67" width="16.2" height="9.43" fill="#f8f6b6"/>
<rect x="446.1" y="895.67" width="15.7" height="9.43" fill="#4aa0b1"/>
<text x="395.5" y="733.41" font-size="7.7" fill="#222" text-anchor="end">FASLG</text>
<text x="395.5" y="742.83" font-size="7.7" fill="#222" text-anchor="end">CD45</text>
<text x="395.5" y="752.26" font-size="7.7" fill="#222" text-anchor="end">CD86</text>
<text x="395.5" y="761.69" font-size="7.7" fill="#222" text-anchor="end">CXCL</text>
<text x="395.5" y="771.11" font-size="7.7" fill="#222" text-anchor="end">MHC-II</text>
<text x="395.5" y="780.54" font-size="7.7" fill="#222" text-anchor="end">MHC-I</text>
<text x="395.5" y="789.97" font-size="7.7" fill="#222" text-anchor="end">CPT</text>
<text x="395.5" y="799.39" font-size="7.7" fill="#222" text-anchor="end">CD23</text>
<text x="395.5" y="808.82" font-size="7.7" fill="#222" text-anchor="end">THY1</text>
<text x="395.5" y="818.25" font-size="7.7" fill="#222" text-anchor="end">ICAM</text>
<text x="395.5" y="827.67" font-size="7.7" fill="#222" text-anchor="end">THBS</text>
<text x="395.5" y="837.1" font-size="7.7" fill="#222" text-anchor="end">FN1</text>
<text x="395.5" y="846.52" font-size="7.7" fill="#222" text-anchor="end">CCL</text>
<text x="395.5" y="855.95" font-size="7.7" fill="#222" text-anchor="end">APRIL</text>
<text x="395.5" y="865.38" font-size="7.7" fill="#222" text-anchor="end">TNF</text>
<text x="395.5" y="874.8" font-size="7.7" fill="#222" text-anchor="end">CD22</text>
<text x="395.5" y="884.23" font-size="7.7" fill="#222" text-anchor="end">LCK</text>
<text x="395.5" y="893.66" font-size="7.7" fill="#222" text-anchor="end">SELPLG</text>
<text x="395.5" y="903.08" font-size="7.7" fill="#222" text-anchor="end">GAL</text>
<rect x="373.8" y="744.7" width="24.6" height="9.3" fill="none" stroke="#e06666" stroke-width="0.75"/>
<rect x="378.2" y="858.2" width="20.5" height="9.1" fill="none" stroke="#e06666" stroke-width="0.75"/>
<text x="407.05" y="911.44" font-size="8.1" fill="#222" text-anchor="end" transform="rotate(-90 407.05 908.6)">Pattern 1</text>
<text x="422.75" y="911.44" font-size="8.1" fill="#222" text-anchor="end" transform="rotate(-90 422.75 908.6)">Pattern 2</text>
<text x="438.45" y="911.44" font-size="8.1" fill="#222" text-anchor="end" transform="rotate(-90 438.45 908.6)">Pattern 3</text>
<text x="454.15" y="911.44" font-size="8.1" fill="#222" text-anchor="end" transform="rotate(-90 454.15 908.6)">Pattern 4</text>
<rect x="447.4" y="905.9" width="12.3" height="38.7" fill="none" stroke="#e06666" stroke-width="0.75"/>
<defs><linearGradient id="contrib" x1="0" y1="0" x2="0" y2="1"><stop offset="0" stop-color="#d53e4f"/><stop offset="0.25" stop-color="#fc8d59"/><stop offset="0.45" stop-color="#fee08b"/><stop offset="0.55" stop-color="#ffffbf"/><stop offset="0.7" stop-color="#99d594"/><stop offset="1" stop-color="#3288bd"/></linearGradient></defs>
<rect x="473.4" y="777.9" width="3.9" height="40.1" fill="url(#contrib)"/>
<text x="469.6" y="801.3" font-size="8" fill="#222" text-anchor="middle" transform="rotate(-90 469.6 798.5)">Contributions</text>
<text x="479.6" y="780.4" font-size="8" fill="#222">1</text>
<text x="479.6" y="820.5" font-size="8" fill="#222">0</text>
<text x="475.2" y="611.1" font-size="13" fill="#000" font-weight="bold" stroke="#000" stroke-width="0.35">m</text>
<text x="497.4" y="610.2" font-size="8.4" fill="#222">T<tspan font-size="5" dy="2.5">reg</tspan><tspan dy="-2.5"> interaction with other cells in TME</tspan></text>
<text x="580.5" y="628" font-size="8.3" fill="#222" text-anchor="middle">WT</text>
<text x="580.6" y="790.2" font-size="8.3" fill="#222" text-anchor="middle"><tspan font-style="italic">Pd1</tspan><tspan font-size="4.98" dy="-3.15">−/−</tspan></text>
<rect x="617" y="720.3" width="7.9" height="8" fill="#e31a1c"/>
<text x="627.8" y="727.24" font-size="8.4" fill="#222">Basophil</text>
<rect x="617" y="729.1" width="7.9" height="8" fill="#3574b3"/>
<text x="627.8" y="735.44" font-size="8.4" fill="#222">T</text>
<text x="632.9" y="737.25" font-size="5" fill="#222">eff</text>
<rect x="617" y="737.9" width="7.9" height="8" fill="#4aaf4a"/>
<text x="627.8" y="744.84" font-size="8.4" fill="#222">Macrophage</text>
<rect x="617" y="746.7" width="7.9" height="8" fill="#9850a6"/>
<text x="627.8" y="753.64" font-size="8.4" fill="#222">Megakaryocyte</text>
<rect x="617" y="755.5" width="7.9" height="8" fill="#f39a1e"/>
<text x="627.8" y="762.44" font-size="8.4" fill="#222">Myeloid DC</text>
<rect x="617" y="764.3" width="7.9" height="8" fill="#f47fc1"/>
<text x="627.8" y="771.24" font-size="8.4" fill="#222">B cell</text>
<rect x="617" y="773.1" width="7.9" height="8" fill="#bfa1d4"/>
<text x="627.8" y="780.04" font-size="8.4" fill="#222">NK</text>
<rect x="617" y="781.9" width="7.9" height="8" fill="#a5561f"/>
<text x="627.8" y="788.84" font-size="8.4" fill="#222">pDC</text>
<rect x="617" y="790.7" width="7.9" height="8" fill="#56b2e6"/>
<text x="627.8" y="797.04" font-size="8.4" fill="#222">T</text>
<text x="632.9" y="798.85" font-size="5" fill="#222">reg</text>
<rect x="626" y="755.9" width="46.7" height="8.7" fill="none" stroke="#e06666" stroke-width="0.75"/>
<rect x="626" y="774" width="19.6" height="8.5" fill="none" stroke="#e06666" stroke-width="0.75"/>
<rect x="626" y="791.5" width="19.6" height="8.2" fill="none" stroke="#e06666" stroke-width="0.75"/>
<path d="M503.5,705.87 A55.3,55.3 0 0 1 504.62,697.66 L508.43,698.47 A51.4,51.4 0 0 0 507.39,706.11 Z" fill="#e31a1c"/>
<path d="M504.81,696.81 A55.3,55.3 0 0 1 507.63,687.99 L511.23,689.49 A51.4,51.4 0 0 0 508.61,697.68 Z" fill="#e31a1c"/>
<path d="M507.97,687.19 A55.3,55.3 0 0 1 514.86,675.5 L517.95,677.87 A51.4,51.4 0 0 0 511.55,688.75 Z" fill="#3574b3"/>
<path d="M515.39,674.81 A55.3,55.3 0 0 1 522.82,667.12 L525.35,670.09 A51.4,51.4 0 0 0 518.45,677.24 Z" fill="#3574b3"/>
<path d="M523.49,666.56 A55.3,55.3 0 0 1 531.09,661.28 L533.04,664.66 A51.4,51.4 0 0 0 525.97,669.57 Z" fill="#3574b3"/>
<path d="M531.85,660.86 A55.3,55.3 0 0 1 553.45,654.15 L553.82,658.03 A51.4,51.4 0 0 0 533.74,664.27 Z" fill="#4aaf4a"/>
<path d="M554.31,654.07 A55.3,55.3 0 0 1 560.2,653.92 L560.09,657.82 A51.4,51.4 0 0 0 554.62,657.96 Z" fill="#4aaf4a"/>
<path d="M561.06,653.95 A55.3,55.3 0 0 1 565.97,654.38 L565.45,658.25 A51.4,51.4 0 0 0 560.9,657.85 Z" fill="#4aaf4a"/>
<path d="M566.83,654.5 A55.3,55.3 0 0 1 571.19,655.33 L570.31,659.13 A51.4,51.4 0 0 0 566.25,658.36 Z" fill="#4aaf4a"/>
<path d="M572.03,655.53 A55.3,55.3 0 0 1 573.52,655.92 L572.48,659.68 A51.4,51.4 0 0 0 571.09,659.32 Z" fill="#9850a6"/>
<path d="M574.36,656.16 A55.3,55.3 0 0 1 576.75,656.93 L575.48,660.61 A51.4,51.4 0 0 0 573.26,659.9 Z" fill="#f47fc1"/>
<path d="M577.57,657.22 A55.3,55.3 0 0 1 585.97,661.09 L584.05,664.49 A51.4,51.4 0 0 0 576.24,660.88 Z" fill="#bfa1d4"/>
<path d="M586.73,661.53 A55.3,55.3 0 0 1 591.63,664.78 L589.31,667.91 A51.4,51.4 0 0 0 584.75,664.89 Z" fill="#bfa1d4"/>
<path d="M592.33,665.3 A55.3,55.3 0 0 1 597.01,669.32 L594.31,672.13 A51.4,51.4 0 0 0 589.95,668.39 Z" fill="#bfa1d4"/>
<path d="M597.63,669.93 A55.3,55.3 0 0 1 608.63,685.44 L605.11,687.11 A51.4,51.4 0 0 0 594.89,672.7 Z" fill="#a5561f"/>
<path d="M609,686.22 A55.3,55.3 0 0 1 612.7,697.28 L608.89,698.12 A51.4,51.4 0 0 0 605.45,687.84 Z" fill="#a5561f"/>
<path d="M612.88,698.13 A55.3,55.3 0 0 1 613.65,702.99 L609.77,703.43 A51.4,51.4 0 0 0 609.06,698.91 Z" fill="#a5561f"/>
<path d="M613.74,703.85 A55.3,55.3 0 0 1 613.9,705.87 L610.01,706.11 A51.4,51.4 0 0 0 609.86,704.23 Z" fill="#a5561f"/>
<path d="M504.33,719.33 A55.3,55.3 0 0 1 503.7,714.93 L507.58,714.53 A51.4,51.4 0 0 0 508.17,718.61 Z" fill="#56b2e6"/>
<path d="M505.69,724.95 A55.3,55.3 0 0 1 504.5,720.18 L508.32,719.4 A51.4,51.4 0 0 0 509.43,723.84 Z" fill="#56b2e6"/>
<path d="M508.4,732.18 A55.3,55.3 0 0 1 505.94,725.78 L509.67,724.61 A51.4,51.4 0 0 0 511.95,730.56 Z" fill="#56b2e6"/>
<path d="M512.61,739.76 A55.3,55.3 0 0 1 508.77,732.96 L512.29,731.29 A51.4,51.4 0 0 0 515.86,737.61 Z" fill="#56b2e6"/>
<path d="M517.31,745.88 A55.3,55.3 0 0 1 513.1,740.48 L516.31,738.28 A51.4,51.4 0 0 0 520.23,743.29 Z" fill="#56b2e6"/>
<path d="M541.2,761.66 A55.3,55.3 0 0 1 517.9,746.52 L520.77,743.89 A51.4,51.4 0 0 0 542.43,757.96 Z" fill="#56b2e6"/>
<path d="M567.87,763.73 A55.3,55.3 0 0 1 542.02,761.93 L543.2,758.21 A51.4,51.4 0 0 0 567.23,759.89 Z" fill="#56b2e6"/>
<path d="M604.84,739.68 A55.3,55.3 0 0 1 568.73,763.58 L568.02,759.75 A51.4,51.4 0 0 0 601.59,737.53 Z" fill="#56b2e6"/>
<path d="M613.7,714.93 A55.3,55.3 0 0 1 605.31,738.95 L602.03,736.86 A51.4,51.4 0 0 0 609.82,714.53 Z" fill="#56b2e6"/>
<path d="M510.9,715.37 A48.2,48.2 0 0 1 510.73,713.95 L513.92,713.63 A45,45 0 0 0 514.07,714.96 Z" fill="#e31a1c"/>
<path d="M511.14,717.03 A48.2,48.2 0 0 1 510.93,715.62 L514.1,715.19 A45,45 0 0 0 514.3,716.51 Z" fill="#4aaf4a"/>
<path d="M511.53,719.1 A48.2,48.2 0 0 1 511.18,717.28 L514.34,716.74 A45,45 0 0 0 514.66,718.44 Z" fill="#a5561f"/>
<path d="M511.8,720.33 A48.2,48.2 0 0 1 511.58,719.34 L514.71,718.67 A45,45 0 0 0 514.92,719.59 Z" fill="#9850a6"/>
<path d="M512.22,721.96 A48.2,48.2 0 0 1 511.86,720.57 L514.97,719.82 A45,45 0 0 0 515.31,721.11 Z" fill="#f47fc1"/>
<path d="M513.09,724.77 A48.2,48.2 0 0 1 512.29,722.2 L515.37,721.34 A45,45 0 0 0 516.11,723.74 Z" fill="#4aaf4a"/>
<path d="M514.96,729.46 A48.2,48.2 0 0 1 513.17,725.01 L516.19,723.96 A45,45 0 0 0 517.87,728.11 Z" fill="#3574b3"/>
<path d="M516.48,732.46 A48.2,48.2 0 0 1 515.07,729.68 L517.97,728.32 A45,45 0 0 0 519.29,730.91 Z" fill="#e31a1c"/>
<path d="M519.63,737.43 A48.2,48.2 0 0 1 516.6,732.68 L519.4,731.12 A45,45 0 0 0 522.23,735.55 Z" fill="#4aaf4a"/>
<path d="M522.8,741.36 A48.2,48.2 0 0 1 519.78,737.63 L522.36,735.75 A45,45 0 0 0 525.18,739.22 Z" fill="#bfa1d4"/>
<path d="M526.35,744.94 A48.2,48.2 0 0 1 522.96,741.55 L525.34,739.4 A45,45 0 0 0 528.5,742.56 Z" fill="#3574b3"/>
<path d="M530.27,748.12 A48.2,48.2 0 0 1 526.54,745.1 L528.68,742.72 A45,45 0 0 0 532.15,745.54 Z" fill="#e31a1c"/>
<path d="M536.71,752.09 A48.2,48.2 0 0 1 530.47,748.27 L532.35,745.67 A45,45 0 0 0 538.17,749.24 Z" fill="#4aaf4a"/>
<path d="M539.75,753.52 A48.2,48.2 0 0 1 536.93,752.2 L538.38,749.35 A45,45 0 0 0 541.01,750.58 Z" fill="#bfa1d4"/>
<path d="M543.69,755 A48.2,48.2 0 0 1 539.98,753.62 L541.23,750.67 A45,45 0 0 0 544.68,751.96 Z" fill="#a5561f"/>
<path d="M563.61,757.15 A48.2,48.2 0 0 1 543.93,755.08 L544.91,752.03 A45,45 0 0 0 563.29,753.97 Z" fill="#3574b3"/>
<path d="M569.42,756.19 A48.2,48.2 0 0 1 563.86,757.12 L563.52,753.94 A45,45 0 0 0 568.71,753.07 Z" fill="#e31a1c"/>
<path d="M582.69,751.01 A48.2,48.2 0 0 1 569.67,756.14 L568.94,753.02 A45,45 0 0 0 581.1,748.23 Z" fill="#4aaf4a"/>
<path d="M589.59,746.2 A48.2,48.2 0 0 1 582.91,750.88 L581.3,748.11 A45,45 0 0 0 587.54,743.75 Z" fill="#bfa1d4"/>
<path d="M606.67,713.95 A48.2,48.2 0 0 1 589.78,746.04 L587.72,743.6 A45,45 0 0 0 603.48,713.63 Z" fill="#a5561f"/>
<path d="M514.63,714.61 A44.4,44.4 0 0 0 602.77,714.61 Q558.7,695.2 514.63,714.61 Z" fill="#a4d1f0"/>
<path d="M558.7,713.2 L589.51,694.83 L588.14,692.2 L586.55,689.7 L584.75,687.35 L582.74,685.16 L580.55,683.15 L578.2,681.35 L575.7,679.76 L573.07,678.39 L570.33,677.25 L567.5,676.36 L564.6,675.72 L561.66,675.33 L558.7,675.2 L555.74,675.33 L552.8,675.72 L549.9,676.36 L547.07,677.25 L544.33,678.39 L541.7,679.76 L539.2,681.35 L536.85,683.15 L534.66,685.16 L532.65,687.35 L530.85,689.7 L529.26,692.2 L527.89,694.83 Z" fill="#a4d1f0"/>
<path d="M514.78,706.51 L511.93,702.84 L515.66,700.05 Q555.67,705.29 600.21,724.95 A44.4,44.4 0 0 1 597.4,730.97 Q554.84,708.09 514.78,706.51 Z" fill="#a4d1f0" fill-opacity="1" stroke="#fff" stroke-width="0.3"/>
<path d="M515.83,699.3 L513.75,694.81 L518.05,692.36 Q548.04,707.51 591.93,738.64 A44.4,44.4 0 0 1 586.59,743.74 Q546.34,710.22 515.83,699.3 Z" fill="#a4d1f0" fill-opacity="1" stroke="#fff" stroke-width="0.3"/>
<path d="M518.35,691.66 L518.03,685.24 L523.79,682.41 Q568.05,699.79 602.83,714.07 A44.4,44.4 0 0 1 600.37,724.52 Q566.27,704.22 518.35,691.66 Z" fill="#a4d1f0" fill-opacity="1" stroke="#fff" stroke-width="0.3"/>
<path d="M524.27,681.81 L524.75,676.41 L530.12,675.74 Q557.65,709.98 597.17,731.37 A44.4,44.4 0 0 1 592.24,738.29 Q555.22,712.9 524.27,681.81 Z" fill="#a4d1f0" fill-opacity="1" stroke="#fff" stroke-width="0.3"/>
<path d="M530.71,675.25 L531.8,670.42 L536.7,671.09 Q561.03,716.35 586.23,744.03 A44.4,44.4 0 0 1 580.08,748.11 Q558.29,718.21 530.71,675.25 Z" fill="#a4d1f0" fill-opacity="1" stroke="#fff" stroke-width="0.3"/>
<path d="M537.37,670.72 L544.7,664.12 L554.48,665.4 Q560.55,707.43 572.45,751.42 A44.4,44.4 0 0 1 554.82,753.43 Q552.73,709.08 537.37,670.72 Z" fill="#a4d1f0" fill-opacity="1" stroke="#fff" stroke-width="0.3"/>
<path d="M555.25,665.34 L557.46,662.02 L559.85,665.22 Q566.32,703.27 577.33,749.5 A44.4,44.4 0 0 1 572.89,751.27 Q564.29,703.7 555.25,665.34 Z" fill="#a4d1f0" fill-opacity="1" stroke="#fff" stroke-width="0.3"/>
<path d="M560.62,665.24 L562.81,662.18 L564.44,665.58 Q569.36,706.93 550.29,752.8 A44.4,44.4 0 0 1 546.38,751.86 Q567.62,706.64 560.62,665.24 Z" fill="#a4d1f0" fill-opacity="1" stroke="#fff" stroke-width="0.3"/>
<path d="M565.2,665.68 L567.5,662.83 L568.6,666.33 Q556.82,712.78 554.36,753.39 A44.4,44.4 0 0 1 550.75,752.88 Q555.24,712.52 565.2,665.68 Z" fill="#a4d1f0" fill-opacity="1" stroke="#fff" stroke-width="0.3"/>
<path d="M569.34,666.51 L570.72,663.56 L570.46,666.8 Q547.63,711.71 541.02,749.93 A44.4,44.4 0 0 1 539.73,749.35 Q547.09,711.52 569.34,666.51 Z" fill="#a4d1f0" fill-opacity="1" stroke="#fff" stroke-width="0.3"/>
<path d="M571.2,667.01 L573.09,664.25 L573.02,667.6 Q576.44,705.74 579.67,748.34 A44.4,44.4 0 0 1 577.75,749.31 Q575.6,705.83 571.2,667.01 Z" fill="#a4d1f0" fill-opacity="1" stroke="#fff" stroke-width="0.3"/>
<path d="M573.75,667.85 L578.46,666.34 L580.37,670.9 Q571.73,710.09 539.32,749.15 A44.4,44.4 0 0 1 532.96,745.38 Q568.81,708.55 573.75,667.85 Z" fill="#a4d1f0" fill-opacity="1" stroke="#fff" stroke-width="0.3"/>
<path d="M581.03,671.29 L584.75,669.84 L584.87,673.83 Q569.4,710.25 545.93,751.72 A44.4,44.4 0 0 1 541.44,750.11 Q567.53,709.32 581.03,671.29 Z" fill="#a4d1f0" fill-opacity="1" stroke="#fff" stroke-width="0.3"/>
<path d="M585.49,674.29 L589.45,673.39 L589.15,677.44 Q554.54,703.49 521.89,734.02 A44.4,44.4 0 0 1 519.33,729.73 Q553.14,701.81 585.49,674.29 Z" fill="#a4d1f0" fill-opacity="1" stroke="#fff" stroke-width="0.3"/>
<path d="M589.7,677.98 L597.2,681.89 L598.41,690.26 Q547.97,707.69 532.59,745.11 A44.4,44.4 0 0 1 522.15,734.41 Q543.67,702.51 589.7,677.98 Z" fill="#a4d1f0" fill-opacity="1" stroke="#fff" stroke-width="0.3"/>
<path d="M598.74,690.95 L603.46,694.22 L601.66,699.68 Q572.76,711.28 517.29,725.22 A44.4,44.4 0 0 1 514.87,716.3 Q571.55,707.31 598.74,690.95 Z" fill="#a4d1f0" fill-opacity="1" stroke="#fff" stroke-width="0.3"/>
<path d="M601.82,700.43 L605.32,701.82 L602.42,704.22 Q558.57,719.81 519.12,729.32 A44.4,44.4 0 0 1 517.46,725.65 Q558.06,718.13 601.82,700.43 Z" fill="#a4d1f0" fill-opacity="1" stroke="#fff" stroke-width="0.3"/>
<path d="M602.5,704.98 L605.75,705.5 L602.62,706.51 Q561.66,718.67 514.8,715.84 A44.4,44.4 0 0 1 514.57,714.07 Q561.58,717.93 602.5,704.98 Z" fill="#a4d1f0" fill-opacity="1" stroke="#fff" stroke-width="0.3"/>
<path d="M515.1,703.27 Q555.62,709.23 598.56,727.84" fill="none" stroke="#6cb8e8" stroke-width="0.9" stroke-opacity="0.7"/>
<path d="M520.79,686.87 Q554.64,713.05 601.53,719.28" fill="none" stroke="#6cb8e8" stroke-width="0.9" stroke-opacity="0.7"/>
<path d="M533.62,673.05 Q555.48,709.83 583.02,745.87" fill="none" stroke="#6cb8e8" stroke-width="0.9" stroke-opacity="0.7"/>
<path d="M557.55,665.22 Q563.82,707.97 574.99,750.07" fill="none" stroke="#6cb8e8" stroke-width="0.9" stroke-opacity="0.7"/>
<path d="M566.91,665.97 Q564.31,711.98 552.6,752.78" fill="none" stroke="#6cb8e8" stroke-width="0.9" stroke-opacity="0.7"/>
<path d="M572.11,667.29 Q559.28,710.75 578.53,748.48" fill="none" stroke="#6cb8e8" stroke-width="0.9" stroke-opacity="0.7"/>
<path d="M582.99,672.51 Q559.73,707.52 543.8,750.6" fill="none" stroke="#6cb8e8" stroke-width="0.9" stroke-opacity="0.7"/>
<path d="M594.59,683.74 Q564.66,708.05 527.2,739.92" fill="none" stroke="#6cb8e8" stroke-width="0.9" stroke-opacity="0.7"/>
<path d="M602.16,702.32 Q564.51,713.43 518.61,727.34" fill="none" stroke="#6cb8e8" stroke-width="0.9" stroke-opacity="0.7"/>
<text x="501.96" y="703.19" font-size="5.6" fill="#333" text-anchor="end" transform="rotate(8 501.96 701.23)">Ccr1</text>
<text x="504.2" y="693.45" font-size="5.6" fill="#333" text-anchor="end" transform="rotate(18 504.2 691.49)">ITGAM_ITGB2</text>
<text x="509.58" y="681.65" font-size="5.6" fill="#333" text-anchor="end" transform="rotate(31 509.58 679.69)">Cd8b1</text>
<text x="517.48" y="671.36" font-size="5.6" fill="#333" text-anchor="end" transform="rotate(44 517.48 669.4)">Cd8a</text>
<text x="526.24" y="663.94" font-size="5.6" fill="#333" text-anchor="end" transform="rotate(55.5 526.24 661.98)">CD8 receptor</text>
<text x="541.95" y="656.36" font-size="5.6" fill="#333" text-anchor="end" transform="rotate(73 541.95 654.4)">ITGAM_ITGB2</text>
<text x="557.2" y="653.88" font-size="5.6" fill="#333" text-anchor="end" transform="rotate(88.5 557.2 651.92)">Ccr1</text>
<text x="563.69" y="654.08" font-size="5.6" fill="#333" transform="rotate(-85 563.69 652.12)">Ccl5</text>
<text x="568.65" y="654.73" font-size="5.6" fill="#333" transform="rotate(-80 568.65 652.77)">Cd44</text>
<text x="571.59" y="655.33" font-size="5.6" fill="#333" transform="rotate(-77 571.59 653.37)">CD7</text>
<text x="575.45" y="656.36" font-size="5.6" fill="#333" transform="rotate(-73 575.45 654.4)">Cd22</text>
<text x="582.92" y="659.23" font-size="5.6" fill="#333" transform="rotate(-65 582.92 657.27)">ITGAX_ITGB2</text>
<text x="590.33" y="663.38" font-size="5.6" fill="#333" transform="rotate(-56.5 590.33 661.42)">Ccr5</text>
<text x="595.91" y="667.59" font-size="5.6" fill="#333" transform="rotate(-49.5 595.91 665.63)">ITGAM_ITGB2</text>
<text x="605.64" y="678.29" font-size="5.6" fill="#333" transform="rotate(-35 605.64 676.33)">ITGAX_ITGB2</text>
<text x="613.2" y="693.45" font-size="5.6" fill="#333" transform="rotate(-18 613.2 691.49)">ITGAM_ITGB2</text>
<text x="615.29" y="702.2" font-size="5.6" fill="#333" transform="rotate(-9 615.29 700.24)">Ccr5</text>
<text x="615.82" y="706.66" font-size="5.6" fill="#333" transform="rotate(-4.5 615.82 704.7)">Ccr1</text>
<text x="503.1" y="725.02" font-size="5.6" fill="#333" text-anchor="end" transform="rotate(-14 503.1 723.06)">Icam1</text>
<text x="505.21" y="731.69" font-size="5.6" fill="#333" text-anchor="end" transform="rotate(-21 505.21 729.73)">Ptprc</text>
<text x="508.58" y="738.94" font-size="5.6" fill="#333" text-anchor="end" transform="rotate(-29 508.58 736.98)">Lgals9</text>
<text x="513.55" y="746.44" font-size="5.6" fill="#333" text-anchor="end" transform="rotate(-38 513.55 744.48)">Lck</text>
<text x="527.49" y="759.22" font-size="5.6" fill="#333" text-anchor="end" transform="rotate(-57 527.49 757.26)">Ccl5</text>
<text x="554.7" y="768.32" font-size="5.6" fill="#333" text-anchor="end" transform="rotate(-86 554.7 766.36)">H2-T23</text>
<text x="591.57" y="758.1" font-size="5.6" fill="#333" transform="rotate(-305 591.57 756.14)">Thy1</text>
<path d="M510.2,877.13 A55.3,55.3 0 0 1 510.4,871.93 L514.28,872.26 A51.4,51.4 0 0 0 514.1,877.09 Z" fill="#e31a1c"/>
<path d="M510.48,871.07 A55.3,55.3 0 0 1 511.24,865.92 L515.07,866.67 A51.4,51.4 0 0 0 514.36,871.46 Z" fill="#e31a1c"/>
<path d="M511.42,865.07 A55.3,55.3 0 0 1 512.04,862.47 L515.81,863.46 A51.4,51.4 0 0 0 515.23,865.88 Z" fill="#e31a1c"/>
<path d="M512.27,861.63 A55.3,55.3 0 0 1 513.05,859.07 L516.75,860.31 A51.4,51.4 0 0 0 516.02,862.68 Z" fill="#e31a1c"/>
<path d="M513.33,858.25 A55.3,55.3 0 0 1 515.29,853.43 L518.83,855.06 A51.4,51.4 0 0 0 517.01,859.55 Z" fill="#3574b3"/>
<path d="M515.66,852.64 A55.3,55.3 0 0 1 518.13,848.07 L521.47,850.08 A51.4,51.4 0 0 0 519.17,854.33 Z" fill="#3574b3"/>
<path d="M518.58,847.32 A55.3,55.3 0 0 1 521.12,843.61 L524.25,845.94 A51.4,51.4 0 0 0 521.89,849.39 Z" fill="#3574b3"/>
<path d="M521.64,842.92 A55.3,55.3 0 0 1 532.29,832.38 L534.63,835.5 A51.4,51.4 0 0 0 524.73,845.29 Z" fill="#4aaf4a"/>
<path d="M532.99,831.87 A55.3,55.3 0 0 1 538.21,828.5 L540.14,831.89 A51.4,51.4 0 0 0 535.28,835.02 Z" fill="#4aaf4a"/>
<path d="M538.97,828.08 A55.3,55.3 0 0 1 541.8,826.63 L543.48,830.16 A51.4,51.4 0 0 0 540.84,831.5 Z" fill="#4aaf4a"/>
<path d="M542.59,826.27 A55.3,55.3 0 0 1 545.52,825.03 L546.93,828.67 A51.4,51.4 0 0 0 544.21,829.82 Z" fill="#4aaf4a"/>
<path d="M546.34,824.73 A55.3,55.3 0 0 1 553.26,822.67 L554.12,826.47 A51.4,51.4 0 0 0 547.69,828.39 Z" fill="#9850a6"/>
<path d="M556.1,822.11 A55.3,55.3 0 0 1 559.25,821.65 L559.69,825.53 A51.4,51.4 0 0 0 556.76,825.95 Z" fill="#f39a1e"/>
<path d="M560.11,821.56 A55.3,55.3 0 0 1 563.28,821.34 L563.44,825.24 A51.4,51.4 0 0 0 560.49,825.44 Z" fill="#f39a1e"/>
<path d="M566.18,821.3 A55.3,55.3 0 0 1 575.38,822.19 L574.68,826.03 A51.4,51.4 0 0 0 566.13,825.2 Z" fill="#f47fc1"/>
<path d="M576.23,822.35 A55.3,55.3 0 0 1 583.21,824.21 L581.96,827.91 A51.4,51.4 0 0 0 575.47,826.18 Z" fill="#f47fc1"/>
<path d="M584.03,824.5 A55.3,55.3 0 0 1 588.85,826.47 L587.2,830.01 A51.4,51.4 0 0 0 582.72,828.17 Z" fill="#f47fc1"/>
<path d="M589.63,826.84 A55.3,55.3 0 0 1 592.63,828.41 L590.71,831.81 A51.4,51.4 0 0 0 587.93,830.35 Z" fill="#f47fc1"/>
<path d="M593.38,828.84 A55.3,55.3 0 0 1 602.33,835.35 L599.73,838.26 A51.4,51.4 0 0 0 591.42,832.21 Z" fill="#bfa1d4"/>
<path d="M602.97,835.93 A55.3,55.3 0 0 1 609.22,842.74 L606.14,845.13 A51.4,51.4 0 0 0 600.33,838.8 Z" fill="#bfa1d4"/>
<path d="M609.75,843.43 A55.3,55.3 0 0 1 613.19,848.6 L609.83,850.58 A51.4,51.4 0 0 0 606.63,845.77 Z" fill="#bfa1d4"/>
<path d="M613.62,849.36 A55.3,55.3 0 0 1 615.55,853.08 L612.02,854.74 A51.4,51.4 0 0 0 610.23,851.28 Z" fill="#bfa1d4"/>
<path d="M615.91,853.87 A55.3,55.3 0 0 1 617.89,858.9 L614.2,860.15 A51.4,51.4 0 0 0 612.36,855.47 Z" fill="#bfa1d4"/>
<path d="M618.16,859.72 A55.3,55.3 0 0 1 620.21,868.53 L616.35,869.1 A51.4,51.4 0 0 0 614.45,860.91 Z" fill="#a5561f"/>
<path d="M620.33,869.39 A55.3,55.3 0 0 1 620.76,874.58 L616.87,874.72 A51.4,51.4 0 0 0 616.46,869.9 Z" fill="#a5561f"/>
<path d="M620.79,875.45 A55.3,55.3 0 0 1 620.79,877.61 L616.89,877.54 A51.4,51.4 0 0 0 616.89,875.53 Z" fill="#a5561f"/>
<path d="M512.94,893.8 A55.3,55.3 0 0 1 511.04,886.18 L514.88,885.5 A51.4,51.4 0 0 0 516.65,892.59 Z" fill="#56b2e6"/>
<path d="M515.3,899.79 A55.3,55.3 0 0 1 513.22,894.62 L516.91,893.35 A51.4,51.4 0 0 0 518.84,898.15 Z" fill="#56b2e6"/>
<path d="M519.82,907.77 A55.3,55.3 0 0 1 515.67,900.57 L519.18,898.88 A51.4,51.4 0 0 0 523.04,905.57 Z" fill="#56b2e6"/>
<path d="M527.57,916.84 A55.3,55.3 0 0 1 520.32,908.49 L523.5,906.24 A51.4,51.4 0 0 0 530.24,914 Z" fill="#56b2e6"/>
<path d="M540.29,925.82 A55.3,55.3 0 0 1 528.21,917.43 L530.84,914.55 A51.4,51.4 0 0 0 542.07,922.35 Z" fill="#56b2e6"/>
<path d="M557.74,931.35 A55.3,55.3 0 0 1 541.07,926.21 L542.79,922.71 A51.4,51.4 0 0 0 558.29,927.49 Z" fill="#56b2e6"/>
<path d="M583.14,929.01 A55.3,55.3 0 0 1 558.6,931.47 L559.09,927.6 A51.4,51.4 0 0 0 581.89,925.32 Z" fill="#56b2e6"/>
<path d="M606.05,914.2 A55.3,55.3 0 0 1 583.96,928.73 L582.66,925.05 A51.4,51.4 0 0 0 603.19,911.54 Z" fill="#56b2e6"/>
<path d="M619.96,886.18 A55.3,55.3 0 0 1 606.64,913.55 L603.74,910.95 A51.4,51.4 0 0 0 616.12,885.5 Z" fill="#56b2e6"/>
<path d="M518.15,885.63 A48.2,48.2 0 0 1 517.99,884.7 L521.14,884.16 A45,45 0 0 0 521.3,885.03 Z" fill="#e31a1c"/>
<path d="M518.39,886.81 A48.2,48.2 0 0 1 518.2,885.88 L521.34,885.27 A45,45 0 0 0 521.52,886.13 Z" fill="#4aaf4a"/>
<path d="M518.66,887.98 A48.2,48.2 0 0 1 518.45,887.06 L521.57,886.36 A45,45 0 0 0 521.77,887.23 Z" fill="#a5561f"/>
<path d="M518.96,889.15 A48.2,48.2 0 0 1 518.72,888.23 L521.83,887.46 A45,45 0 0 0 522.05,888.31 Z" fill="#f39a1e"/>
<path d="M519.29,890.3 A48.2,48.2 0 0 1 519.03,889.39 L522.11,888.54 A45,45 0 0 0 522.36,889.39 Z" fill="#3574b3"/>
<path d="M519.64,891.45 A48.2,48.2 0 0 1 519.36,890.54 L522.42,889.62 A45,45 0 0 0 522.69,890.46 Z" fill="#f47fc1"/>
<path d="M520.03,892.59 A48.2,48.2 0 0 1 519.72,891.69 L522.76,890.69 A45,45 0 0 0 523.05,891.53 Z" fill="#4aaf4a"/>
<path d="M520.59,894.09 A48.2,48.2 0 0 1 520.11,892.83 L523.13,891.75 A45,45 0 0 0 523.57,892.93 Z" fill="#bfa1d4"/>
<path d="M521.19,895.58 A48.2,48.2 0 0 1 520.68,894.33 L523.65,893.15 A45,45 0 0 0 524.13,894.32 Z" fill="#e31a1c"/>
<path d="M522.19,897.76 A48.2,48.2 0 0 1 521.29,895.81 L524.23,894.53 A45,45 0 0 0 525.07,896.36 Z" fill="#4aaf4a"/>
<path d="M523.3,899.89 A48.2,48.2 0 0 1 522.3,897.99 L525.17,896.57 A45,45 0 0 0 526.1,898.35 Z" fill="#f47fc1"/>
<path d="M525.83,903.98 A48.2,48.2 0 0 1 523.42,900.11 L526.22,898.55 A45,45 0 0 0 528.46,902.16 Z" fill="#3574b3"/>
<path d="M528.75,907.79 A48.2,48.2 0 0 1 525.97,904.19 L528.6,902.35 A45,45 0 0 0 531.19,905.72 Z" fill="#f47fc1"/>
<path d="M533.21,912.39 A48.2,48.2 0 0 1 528.92,907.98 L531.35,905.9 A45,45 0 0 0 535.36,910.01 Z" fill="#3574b3"/>
<path d="M536.94,915.43 A48.2,48.2 0 0 1 533.4,912.56 L535.53,910.17 A45,45 0 0 0 538.83,912.85 Z" fill="#f39a1e"/>
<path d="M540.95,918.08 A48.2,48.2 0 0 1 537.14,915.57 L539.02,912.99 A45,45 0 0 0 542.58,915.32 Z" fill="#f47fc1"/>
<path d="M546.66,920.97 A48.2,48.2 0 0 1 541.16,918.2 L542.78,915.44 A45,45 0 0 0 547.91,918.02 Z" fill="#f47fc1"/>
<path d="M552.71,923.07 A48.2,48.2 0 0 1 546.89,921.06 L548.13,918.11 A45,45 0 0 0 553.56,919.99 Z" fill="#e31a1c"/>
<path d="M558.98,924.36 A48.2,48.2 0 0 1 552.95,923.14 L553.79,920.05 A45,45 0 0 0 559.42,921.19 Z" fill="#4aaf4a"/>
<path d="M563.77,924.77 A48.2,48.2 0 0 1 559.23,924.39 L559.65,921.22 A45,45 0 0 0 563.89,921.57 Z" fill="#9850a6"/>
<path d="M573.35,924.16 A48.2,48.2 0 0 1 564.02,924.78 L564.12,921.58 A45,45 0 0 0 572.83,921 Z" fill="#bfa1d4"/>
<path d="M579.59,922.7 A48.2,48.2 0 0 1 573.6,924.11 L573.06,920.96 A45,45 0 0 0 578.65,919.64 Z" fill="#f47fc1"/>
<path d="M588.44,918.99 A48.2,48.2 0 0 1 579.83,922.62 L578.88,919.57 A45,45 0 0 0 586.92,916.18 Z" fill="#a5561f"/>
<path d="M592.55,916.5 A48.2,48.2 0 0 1 588.66,918.87 L587.12,916.06 A45,45 0 0 0 590.75,913.85 Z" fill="#e31a1c"/>
<path d="M596.39,913.6 A48.2,48.2 0 0 1 592.76,916.35 L590.95,913.71 A45,45 0 0 0 594.34,911.15 Z" fill="#4aaf4a"/>
<path d="M602.08,907.98 A48.2,48.2 0 0 1 596.58,913.44 L594.52,911 A45,45 0 0 0 599.65,905.9 Z" fill="#f47fc1"/>
<path d="M613.01,884.7 A48.2,48.2 0 0 1 602.25,907.79 L599.81,905.72 A45,45 0 0 0 609.86,884.16 Z" fill="#bfa1d4"/>
<path d="M521.92,885.09 A44.4,44.4 0 0 0 609.08,885.09 Q565.5,862.6 521.92,885.09 Z" fill="#a4d1f0"/>
<path d="M565.5,880.6 L596.31,862.23 L594.94,859.6 L593.35,857.1 L591.55,854.75 L589.54,852.56 L587.35,850.55 L585,848.75 L582.5,847.16 L579.87,845.79 L577.13,844.65 L574.3,843.76 L571.4,843.12 L568.46,842.73 L565.5,842.6 L562.54,842.73 L559.6,843.12 L556.7,843.76 L553.87,844.65 L551.13,845.79 L548.5,847.16 L546,848.75 L543.65,850.55 L541.46,852.56 L539.45,854.75 L537.65,857.1 L536.06,859.6 L534.69,862.23 Z" fill="#a4d1f0"/>
<path d="M521.5,876.98 L518.33,874.83 L521.65,872.92 Q561.25,873.4 608.19,888.8 A44.4,44.4 0 0 1 606.95,892.51 Q560.94,875.15 521.5,876.98 Z" fill="#a4d1f0" fill-opacity="1" stroke="#fff" stroke-width="0.3"/>
<path d="M521.72,872.16 L518.81,869.67 L522.32,868.14 Q577.4,870.38 609.18,884.54 A44.4,44.4 0 0 1 608.32,888.35 Q577.07,872.14 521.72,872.16 Z" fill="#a4d1f0" fill-opacity="1" stroke="#fff" stroke-width="0.3"/>
<path d="M522.48,867.39 L519.59,865.64 L522.95,865.39 Q573.16,880 605.78,895.29 A44.4,44.4 0 0 1 604.85,897.16 Q572.85,880.87 522.48,867.39 Z" fill="#a4d1f0" fill-opacity="1" stroke="#fff" stroke-width="0.3"/>
<path d="M523.15,864.65 L520.38,862.73 L523.76,862.69 Q578.92,885.14 606.78,892.94 A44.4,44.4 0 0 1 605.97,894.86 Q578.6,886.01 523.15,864.65 Z" fill="#a4d1f0" fill-opacity="1" stroke="#fff" stroke-width="0.3"/>
<path d="M524.01,861.96 L521.76,858.86 L525.53,858.2 Q569.29,869.69 602.38,901.32 A44.4,44.4 0 0 1 600.07,904.47 Q568.43,871.24 524.01,861.96 Z" fill="#a4d1f0" fill-opacity="1" stroke="#fff" stroke-width="0.3"/>
<path d="M525.86,857.5 L523.97,854.17 L527.79,853.93 Q552.47,875.74 604.64,897.57 A44.4,44.4 0 0 1 602.64,900.93 Q551.59,877.3 525.86,857.5 Z" fill="#a4d1f0" fill-opacity="1" stroke="#fff" stroke-width="0.3"/>
<path d="M528.19,853.27 L526.51,850.01 L530.16,850.38 Q572.34,871.27 591.44,912.64 A44.4,44.4 0 0 1 588.61,914.51 Q571.26,872.34 528.19,853.27 Z" fill="#a4d1f0" fill-opacity="1" stroke="#fff" stroke-width="0.3"/>
<path d="M530.63,849.77 L532.3,843.05 L539.04,841.44 Q565.17,867.59 599.77,904.83 A44.4,44.4 0 0 1 591.81,912.36 Q561.49,871.16 530.63,849.77 Z" fill="#a4d1f0" fill-opacity="1" stroke="#fff" stroke-width="0.3"/>
<path d="M539.66,840.99 L539.94,836.92 L543.75,838.35 Q559.82,868 585.65,916.16 A44.4,44.4 0 0 1 581.42,918.05 Q557.94,869.01 539.66,840.99 Z" fill="#a4d1f0" fill-opacity="1" stroke="#fff" stroke-width="0.3"/>
<path d="M544.43,837.98 L544.06,834.55 L546.61,836.86 Q561.59,876.66 588.21,914.75 A44.4,44.4 0 0 1 586.07,915.95 Q560.62,877.18 544.43,837.98 Z" fill="#a4d1f0" fill-opacity="1" stroke="#fff" stroke-width="0.3"/>
<path d="M547.31,836.54 L547.19,833.1 L549.57,835.59 Q555.76,882.28 575.39,919.88 A44.4,44.4 0 0 1 572.99,920.36 Q554.71,882.6 547.31,836.54 Z" fill="#a4d1f0" fill-opacity="1" stroke="#fff" stroke-width="0.3"/>
<path d="M550.29,835.31 L552.07,831.35 L555.72,833.7 Q554.33,871.12 580.98,918.21 A44.4,44.4 0 0 1 575.85,919.78 Q551.96,871.83 550.29,835.31 Z" fill="#a4d1f0" fill-opacity="1" stroke="#fff" stroke-width="0.3"/>
<path d="M558.06,833.23 L558.82,829.88 L560.49,832.89 Q558.51,874.98 569.64,920.81 A44.4,44.4 0 0 1 567.19,920.97 Q557.42,875.1 558.06,833.23 Z" fill="#a4d1f0" fill-opacity="1" stroke="#fff" stroke-width="0.3"/>
<path d="M561.25,832.81 L562.25,829.51 L563.7,832.64 Q574.06,873.94 572.53,920.44 A44.4,44.4 0 0 1 570.1,920.76 Q572.97,874.05 561.25,832.81 Z" fill="#a4d1f0" fill-opacity="1" stroke="#fff" stroke-width="0.3"/>
<path d="M566.08,832.6 L570.02,829.62 L573.32,833.3 Q571.68,884.39 560.9,920.76 A44.4,44.4 0 0 1 554.19,919.54 Q568.54,883.96 566.08,832.6 Z" fill="#a4d1f0" fill-opacity="1" stroke="#fff" stroke-width="0.3"/>
<path d="M574.08,833.44 L577.66,830.99 L579.56,834.91 Q558.6,883.76 566.73,920.98 A44.4,44.4 0 0 1 561.36,920.81 Q556.16,883.39 574.08,833.44 Z" fill="#a4d1f0" fill-opacity="1" stroke="#fff" stroke-width="0.3"/>
<path d="M580.28,835.16 L583.39,832.92 L584.04,836.7 Q569.16,881.5 550.82,918.5 A44.4,44.4 0 0 1 547.19,917.05 Q567.5,880.83 580.28,835.16 Z" fill="#a4d1f0" fill-opacity="1" stroke="#fff" stroke-width="0.3"/>
<path d="M584.73,837.03 L587.39,834.78 L587.05,838.24 Q570.73,875.95 553.74,919.41 A44.4,44.4 0 0 1 551.26,918.65 Q569.65,875.51 584.73,837.03 Z" fill="#a4d1f0" fill-opacity="1" stroke="#fff" stroke-width="0.3"/>
<path d="M587.72,838.62 L593.25,838.42 L594.77,843.75 Q555.15,871.04 540.43,913.25 A44.4,44.4 0 0 1 534.17,908.06 Q552.15,868.72 587.72,838.62 Z" fill="#a4d1f0" fill-opacity="1" stroke="#fff" stroke-width="0.3"/>
<path d="M595.34,844.27 L600.27,844.68 L600.26,849.63 Q559.98,873.79 546.76,916.85 A44.4,44.4 0 0 1 540.82,913.51 Q557.54,871.83 595.34,844.27 Z" fill="#a4d1f0" fill-opacity="1" stroke="#fff" stroke-width="0.3"/>
<path d="M600.73,850.24 L604.8,850.45 L603.43,854.29 Q556.43,872.71 531.4,905.03 A44.4,44.4 0 0 1 528.62,901.32 Q555.2,870.97 600.73,850.24 Z" fill="#a4d1f0" fill-opacity="1" stroke="#fff" stroke-width="0.3"/>
<path d="M603.81,854.96 L607.43,854.92 L605.31,857.85 Q569.04,884.26 533.84,907.73 A44.4,44.4 0 0 1 531.7,905.39 Q568.22,883.08 603.81,854.96 Z" fill="#a4d1f0" fill-opacity="1" stroke="#fff" stroke-width="0.3"/>
<path d="M605.63,858.55 L609.42,859.32 L607.17,862.48 Q574.09,883.72 524.94,894.66 A44.4,44.4 0 0 1 523.46,890.89 Q573.41,881.98 605.63,858.55 Z" fill="#a4d1f0" fill-opacity="1" stroke="#fff" stroke-width="0.3"/>
<path d="M607.41,863.21 L611.48,865.92 L609.02,870.14 Q556.22,886.42 528.36,900.93 A44.4,44.4 0 0 1 525.13,895.09 Q555.13,883.55 607.41,863.21 Z" fill="#a4d1f0" fill-opacity="1" stroke="#fff" stroke-width="0.3"/>
<path d="M609.13,870.9 L612.53,872.66 L609.47,874.95 Q556.97,871.18 522.68,888.35 A44.4,44.4 0 0 1 521.82,884.54 Q556.69,869.41 609.13,870.9 Z" fill="#a4d1f0" fill-opacity="1" stroke="#fff" stroke-width="0.3"/>
<path d="M609.49,875.72 L612.7,876.54 L609.49,877.37 Q559.96,881.43 523.31,890.45 A44.4,44.4 0 0 1 522.81,888.8 Q559.85,880.69 609.49,875.72 Z" fill="#a4d1f0" fill-opacity="1" stroke="#fff" stroke-width="0.3"/>
<path d="M521.53,874.95 Q571.24,871.25 607.23,890.54" fill="none" stroke="#6cb8e8" stroke-width="0.9" stroke-opacity="0.7"/>
<path d="M522.7,866.39 Q568.21,876.41 604.97,896.05" fill="none" stroke="#6cb8e8" stroke-width="0.9" stroke-opacity="0.7"/>
<path d="M524.73,860.06 Q570.8,875.48 600.94,902.68" fill="none" stroke="#6cb8e8" stroke-width="0.9" stroke-opacity="0.7"/>
<path d="M529.15,851.81 Q570.53,872.51 589.82,913.27" fill="none" stroke="#6cb8e8" stroke-width="0.9" stroke-opacity="0.7"/>
<path d="M541.67,839.61 Q571.44,875.56 583.4,916.8" fill="none" stroke="#6cb8e8" stroke-width="0.9" stroke-opacity="0.7"/>
<path d="M548.43,836.05 Q561.7,874.75 574.12,919.75" fill="none" stroke="#6cb8e8" stroke-width="0.9" stroke-opacity="0.7"/>
<path d="M559.27,833.04 Q567.07,871.01 568.39,920.51" fill="none" stroke="#6cb8e8" stroke-width="0.9" stroke-opacity="0.7"/>
<path d="M569.71,832.8 Q564.15,870.73 557.59,919.88" fill="none" stroke="#6cb8e8" stroke-width="0.9" stroke-opacity="0.7"/>
<path d="M582.18,835.88 Q560.33,872.64 549.13,917.44" fill="none" stroke="#6cb8e8" stroke-width="0.9" stroke-opacity="0.7"/>
<path d="M591.37,841.01 Q562.27,873.89 537.44,910.49" fill="none" stroke="#6cb8e8" stroke-width="0.9" stroke-opacity="0.7"/>
<path d="M602.13,852.23 Q568.84,875.59 530.28,902.97" fill="none" stroke="#6cb8e8" stroke-width="0.9" stroke-opacity="0.7"/>
<path d="M606.45,860.5 Q569.79,881.38 524.53,892.65" fill="none" stroke="#6cb8e8" stroke-width="0.9" stroke-opacity="0.7"/>
<path d="M609.35,872.92 Q570.24,881.97 522.6,886.37" fill="none" stroke="#6cb8e8" stroke-width="0.9" stroke-opacity="0.7"/>
<text x="508.24" y="876.41" font-size="5.6" fill="#333" text-anchor="end" transform="rotate(2.15 508.24 874.45)">Sell</text>
<text x="508.82" y="870.15" font-size="5.6" fill="#333" text-anchor="end" transform="rotate(8.44 508.82 868.19)">ITGAM_ITGB2</text>
<text x="509.83" y="865" font-size="5.6" fill="#333" text-anchor="end" transform="rotate(13.68 509.83 863.04)">Ccr1</text>
<text x="510.65" y="861.97" font-size="5.6" fill="#333" text-anchor="end" transform="rotate(16.83 510.65 860.01)">CD8 receptor</text>
<text x="512.4" y="857.03" font-size="5.6" fill="#333" text-anchor="end" transform="rotate(22.07 512.4 855.07)">Cd8a</text>
<text x="515.08" y="851.34" font-size="5.6" fill="#333" text-anchor="end" transform="rotate(28.37 515.08 849.38)">Cd8b1</text>
<text x="518.07" y="846.41" font-size="5.6" fill="#333" text-anchor="end" transform="rotate(34.14 518.07 844.45)">CD8 receptor</text>
<text x="525.09" y="837.94" font-size="5.6" fill="#333" text-anchor="end" transform="rotate(45.15 525.09 835.98)">ITGAM_ITGB2</text>
<text x="534.47" y="830.39" font-size="5.6" fill="#333" text-anchor="end" transform="rotate(57.21 534.47 828.43)">Sell</text>
<text x="539.47" y="827.51" font-size="5.6" fill="#333" text-anchor="end" transform="rotate(62.98 539.47 825.55)">Ccr1</text>
<text x="543.27" y="825.75" font-size="5.6" fill="#333" text-anchor="end" transform="rotate(67.18 543.27 823.79)">Ccr2</text>
<text x="549.2" y="823.63" font-size="5.6" fill="#333" text-anchor="end" transform="rotate(73.47 549.2 821.67)">CD8 receptor</text>
<text x="557.39" y="821.84" font-size="5.6" fill="#333" text-anchor="end" transform="rotate(81.86 557.39 819.88)">ITGAM_ITGB2</text>
<text x="561.56" y="821.4" font-size="5.6" fill="#333" text-anchor="end" transform="rotate(86.05 561.56 819.44)">CD8 receptor</text>
<text x="570.99" y="821.52" font-size="5.6" fill="#333" transform="rotate(-84.51 570.99 819.56)">Sell</text>
<text x="580.27" y="823.2" font-size="5.6" fill="#333" transform="rotate(-75.07 580.27 821.24)">Itgb2</text>
<text x="587.22" y="825.54" font-size="5.6" fill="#333" transform="rotate(-67.72 587.22 823.58)">Cd22</text>
<text x="591.98" y="827.74" font-size="5.6" fill="#333" transform="rotate(-62.48 591.98 825.78)">CD8 receptor</text>
<text x="599.11" y="832.15" font-size="5.6" fill="#333" transform="rotate(-54.09 599.11 830.19)">Sell</text>
<text x="607.71" y="839.81" font-size="5.6" fill="#333" transform="rotate(-42.55 607.71 837.85)">ITGAX_ITGB2</text>
<text x="613.21" y="846.82" font-size="5.6" fill="#333" transform="rotate(-33.64 613.21 844.86)">ITGAM_ITGB2</text>
<text x="616.4" y="852.24" font-size="5.6" fill="#333" transform="rotate(-27.34 616.4 850.28)">Cd8a</text>
<text x="618.79" y="857.49" font-size="5.6" fill="#333" transform="rotate(-21.57 618.79 855.53)">Cd8b1</text>
<text x="621.29" y="865.49" font-size="5.6" fill="#333" transform="rotate(-13.18 621.29 863.53)">CD8 receptor</text>
<text x="622.6" y="873.77" font-size="5.6" fill="#333" transform="rotate(-4.79 622.6 871.81)">ITGAM_ITGB2</text>
<text x="622.8" y="878.49" font-size="5.6" fill="#333" transform="rotate(-0.07 622.8 876.53)">CD8 receptor</text>
<text x="509.86" y="892.24" font-size="5.6" fill="#333" text-anchor="end" transform="rotate(-13.81 509.86 890.28)">Icam1</text>
<text x="512.34" y="899.94" font-size="5.6" fill="#333" text-anchor="end" transform="rotate(-21.9 512.34 897.98)">Ccl5</text>
<text x="515.88" y="907.21" font-size="5.6" fill="#333" text-anchor="end" transform="rotate(-30 515.88 905.25)">Lck</text>
<text x="522.22" y="916.12" font-size="5.6" fill="#333" text-anchor="end" transform="rotate(-40.95 522.22 914.16)">Ptprc</text>
<text x="532.44" y="925.36" font-size="5.6" fill="#333" text-anchor="end" transform="rotate(-54.76 532.44 923.4)">H2-K1</text>
<text x="548.61" y="933.31" font-size="5.6" fill="#333" text-anchor="end" transform="rotate(-72.86 548.61 931.35)">Lgals9</text>
<text x="571.21" y="935.58" font-size="5.6" fill="#333" transform="rotate(-275.71 571.21 933.62)">Thy1</text>
<text x="616.05" y="905.54" font-size="5.6" fill="#333" transform="rotate(-331.9 616.05 903.58)">Selplg</text>
<path d="M540.3,676.3 Q552,700 557.8,734.1" fill="none" stroke="#62b0e6" stroke-width="2.4" stroke-opacity="0.55" stroke-linecap="round"/>
<path d="M552.6,681.5 Q560,712 573.6,748.1" fill="none" stroke="#62b0e6" stroke-width="2.4" stroke-opacity="0.55" stroke-linecap="round"/>
<path d="M570,671 Q560,700 543.8,732.3" fill="none" stroke="#62b0e6" stroke-width="2.4" stroke-opacity="0.55" stroke-linecap="round"/>
<path d="M535,707.8 Q560,712 591.1,695.5" fill="none" stroke="#62b0e6" stroke-width="2.4" stroke-opacity="0.55" stroke-linecap="round"/>
<path d="M582.3,702.6 Q565,716 543.8,741.1" fill="none" stroke="#62b0e6" stroke-width="2.4" stroke-opacity="0.55" stroke-linecap="round"/>
<path d="M561.3,667.5 Q552,690 547.3,716.6" fill="none" stroke="#62b0e6" stroke-width="2.4" stroke-opacity="0.55" stroke-linecap="round"/>
<path d="M547,866 Q554,880 565.2,902.6" fill="none" stroke="#62b0e6" stroke-width="2.4" stroke-opacity="0.55" stroke-linecap="round"/>
<path d="M559.7,857 Q566,878 581.6,893.5" fill="none" stroke="#62b0e6" stroke-width="2.4" stroke-opacity="0.55" stroke-linecap="round"/>
<path d="M578,851.5 Q568,874 552.4,888" fill="none" stroke="#62b0e6" stroke-width="2.4" stroke-opacity="0.55" stroke-linecap="round"/>
<path d="M537.8,884.3 Q565,882 590.8,869.7" fill="none" stroke="#62b0e6" stroke-width="2.4" stroke-opacity="0.55" stroke-linecap="round"/>
<path d="M585,880 Q568,886 548,905" fill="none" stroke="#62b0e6" stroke-width="2.4" stroke-opacity="0.55" stroke-linecap="round"/>
<path d="M555,850 Q560,878 575,905" fill="none" stroke="#62b0e6" stroke-width="2.4" stroke-opacity="0.55" stroke-linecap="round"/>
<path d="M548,690 Q547.57,701.66 553,712 Q553.43,700.34 548,690 Z" fill="#fff" fill-opacity="0.9"/>
<path d="M558,705 Q558.52,715.28 564,724 Q563.48,713.72 558,705 Z" fill="#fff" fill-opacity="0.9"/>
<path d="M568,690 Q566.75,698.52 571,706 Q572.25,697.48 568,690 Z" fill="#fff" fill-opacity="0.9"/>
<path d="M543,718 Q543.8,725.61 548,732 Q547.2,724.39 543,718 Z" fill="#fff" fill-opacity="0.9"/>
<path d="M560,860 Q560.28,872.68 566,884 Q565.72,871.32 560,860 Z" fill="#fff" fill-opacity="0.9"/>
<path d="M548,872 Q548.57,881.54 553,890 Q552.43,880.46 548,872 Z" fill="#fff" fill-opacity="0.9"/>
<path d="M572,866 Q572.27,873.49 576,880 Q575.73,872.51 572,866 Z" fill="#fff" fill-opacity="0.9"/>
</svg>
</body></html>
